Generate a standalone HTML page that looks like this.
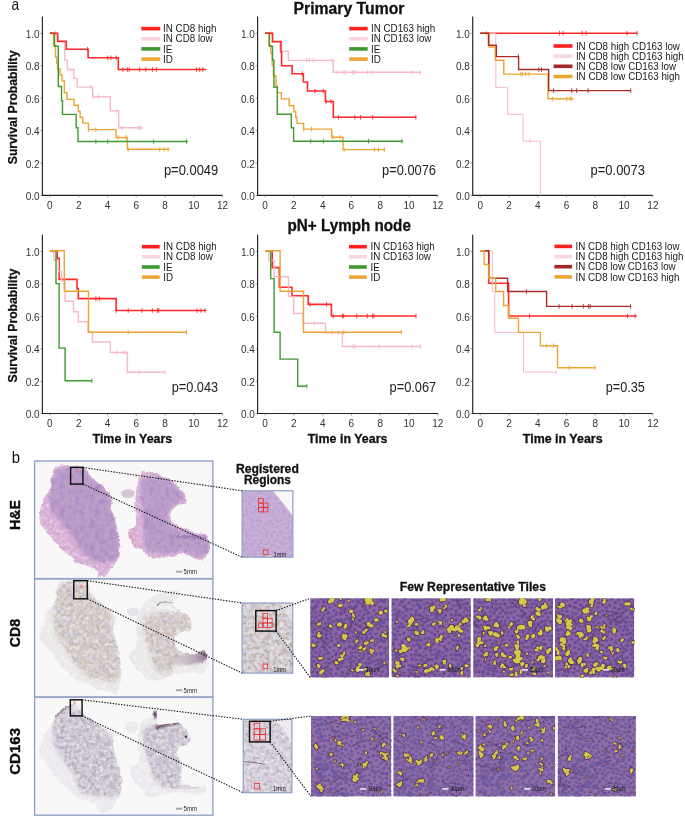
<!DOCTYPE html>
<html><head><meta charset="utf-8"><style>
html,body{margin:0;padding:0;background:#fff;width:685px;height:817px;overflow:hidden}
svg{display:block;will-change:transform}
</style></head><body>
<svg width="685" height="817" viewBox="0 0 685 817">
<defs><filter id="rag" x="-5%" y="-5%" width="110%" height="110%"><feTurbulence type="fractalNoise" baseFrequency="0.18" numOctaves="3" seed="4" result="t"/><feDisplacementMap in="SourceGraphic" in2="t" scale="3.5" xChannelSelector="R" yChannelSelector="G"/></filter><filter id="soft" x="-20%" y="-20%" width="140%" height="140%"><feGaussianBlur stdDeviation="2.2"/></filter><filter id="soft2" x="-20%" y="-20%" width="140%" height="140%"><feGaussianBlur stdDeviation="1.2"/></filter><filter id="nhe1" x="0" y="0" width="100%" height="100%" color-interpolation-filters="sRGB"><feTurbulence type="fractalNoise" baseFrequency="0.2" numOctaves="2" seed="3"/><feColorMatrix type="matrix" values="0 0 0 0 0.608 0 0 0 0 0.471 0 0 0 0 0.745 1.3 0 0 0 -0.52"/></filter><filter id="nhe2" x="0" y="0" width="100%" height="100%" color-interpolation-filters="sRGB"><feTurbulence type="fractalNoise" baseFrequency="0.3" numOctaves="2" seed="8"/><feColorMatrix type="matrix" values="0 0 0 0 0.980 0 0 0 0 0.941 0 0 0 0 0.980 1.6 0 0 0 -0.72"/></filter><filter id="nhe3" x="0" y="0" width="100%" height="100%" color-interpolation-filters="sRGB"><feTurbulence type="fractalNoise" baseFrequency="0.12" numOctaves="2" seed="12"/><feColorMatrix type="matrix" values="0 0 0 0 0.843 0 0 0 0 0.627 0 0 0 0 0.824 1.4 0 0 0 -0.55"/></filter><filter id="n81" x="0" y="0" width="100%" height="100%" color-interpolation-filters="sRGB"><feTurbulence type="fractalNoise" baseFrequency="0.28" numOctaves="2" seed="5"/><feColorMatrix type="matrix" values="0 0 0 0 0.714 0 0 0 0 0.596 0 0 0 0 0.502 1.2 0 0 0 -0.47"/></filter><filter id="n82" x="0" y="0" width="100%" height="100%" color-interpolation-filters="sRGB"><feTurbulence type="fractalNoise" baseFrequency="0.16" numOctaves="2" seed="9"/><feColorMatrix type="matrix" values="0 0 0 0 0.675 0 0 0 0 0.694 0 0 0 0 0.831 1.1 0 0 0 -0.45"/></filter><filter id="n83" x="0" y="0" width="100%" height="100%" color-interpolation-filters="sRGB"><feTurbulence type="fractalNoise" baseFrequency="0.3" numOctaves="2" seed="14"/><feColorMatrix type="matrix" values="0 0 0 0 0.980 0 0 0 0 0.980 0 0 0 0 0.980 1.6 0 0 0 -0.7"/></filter><filter id="n11" x="0" y="0" width="100%" height="100%" color-interpolation-filters="sRGB"><feTurbulence type="fractalNoise" baseFrequency="0.28" numOctaves="2" seed="6"/><feColorMatrix type="matrix" values="0 0 0 0 0.588 0 0 0 0 0.490 0 0 0 0 0.569 1.3 0 0 0 -0.5"/></filter><filter id="n12" x="0" y="0" width="100%" height="100%" color-interpolation-filters="sRGB"><feTurbulence type="fractalNoise" baseFrequency="0.16" numOctaves="2" seed="10"/><feColorMatrix type="matrix" values="0 0 0 0 0.686 0 0 0 0 0.686 0 0 0 0 0.824 1.2 0 0 0 -0.48"/></filter><clipPath id="co1"><path d="M56.0,466.6C57.6,465.6 60.9,465.7 63.4,465.6C65.8,465.5 67.3,465.7 70.7,465.9C74.1,466.1 80.7,465.1 83.9,466.6C87.1,468.1 87.6,472.1 89.8,474.7C92.0,477.3 94.6,479.8 97.1,482.0C99.5,484.2 102.3,485.7 104.5,487.9C106.7,490.1 109.2,492.8 110.4,495.2C111.6,497.6 111.8,500.4 111.8,502.6C111.8,504.8 110.2,506.6 110.4,508.5C110.7,510.4 112.3,511.6 113.3,514.3C114.3,517.0 115.3,520.9 116.2,524.6C117.1,528.3 117.8,532.5 118.4,536.4C119.0,540.3 119.8,544.7 119.9,548.1C120.0,551.5 119.8,554.5 119.2,556.9C118.6,559.3 117.7,560.8 116.2,562.8C114.7,564.8 112.1,566.5 110.4,568.7C108.7,570.9 108.0,574.8 106.0,576.0C104.0,577.2 100.3,577.0 98.6,576.0C96.9,575.0 97.7,571.8 95.7,570.1C93.8,568.4 89.8,566.9 86.9,565.7C84.0,564.5 81.0,564.5 78.1,562.8C75.1,561.1 72.2,557.8 69.2,555.4C66.2,553.0 63.1,550.8 60.4,548.1C57.7,545.4 55.5,542.2 53.1,539.3C50.7,536.4 47.9,533.4 45.7,530.5C43.5,527.6 40.8,525.4 39.9,521.7C39.0,518.0 39.9,512.7 40.6,508.5C41.3,504.3 42.7,499.9 44.3,496.7C45.9,493.5 49.0,492.3 50.2,489.4C51.4,486.5 51.0,482.1 51.6,479.1C52.2,476.2 53.1,473.8 53.8,471.7C54.5,469.6 54.4,467.6 56.0,466.6Z"/></clipPath><clipPath id="ci1"><path d="M52.0,486.0C52.8,482.0 52.7,476.9 54.0,474.0C55.3,471.1 57.2,469.6 60.0,468.5C62.8,467.4 66.7,467.4 70.7,467.5C74.7,467.6 80.8,467.6 84.0,469.0C87.2,470.4 87.8,473.7 90.0,476.0C92.2,478.3 94.6,480.8 97.0,483.0C99.4,485.2 102.3,486.8 104.5,489.0C106.7,491.2 108.9,493.3 110.0,496.0C111.1,498.7 110.5,501.8 111.0,505.0C111.5,508.2 112.1,511.5 113.0,515.0C113.9,518.5 115.6,522.2 116.5,526.0C117.4,529.8 118.0,534.0 118.5,538.0C119.0,542.0 119.8,546.7 119.5,550.0C119.2,553.3 118.5,556.2 117.0,558.0C115.5,559.8 114.0,560.3 110.4,561.0C106.9,561.7 100.4,563.3 95.7,562.0C91.0,560.7 86.2,556.9 82.5,553.0C78.8,549.1 76.8,543.0 73.6,538.4C70.4,533.8 66.8,529.4 63.4,525.1C60.0,520.8 55.5,516.9 53.1,512.4C50.7,507.9 49.4,502.6 49.2,498.2C49.0,493.8 51.2,490.0 52.0,486.0Z"/></clipPath><clipPath id="co2"><path d="M143.4,471.0C145.7,470.8 150.9,472.0 155.1,473.2C159.2,474.4 164.6,476.4 168.3,478.4C172.0,480.4 174.4,482.4 177.1,485.0C179.8,487.6 183.0,490.9 184.5,493.8C186.0,496.7 187.2,500.7 186.0,502.6C184.8,504.6 179.5,504.0 177.1,505.5C174.7,507.0 172.4,509.2 171.3,511.4C170.2,513.6 170.0,516.6 170.5,518.8C171.0,521.0 172.1,523.0 174.2,524.6C176.3,526.2 179.3,526.8 183.0,528.3C186.7,529.8 192.3,532.3 196.2,533.4C200.1,534.5 204.2,532.9 206.5,534.9C208.8,536.9 209.9,542.0 210.2,545.2C210.4,548.4 209.3,551.5 208.0,554.0C206.7,556.5 204.5,559.4 202.1,559.9C199.7,560.4 196.2,558.0 193.3,557.0C190.4,556.0 187.4,554.2 184.5,554.0C181.6,553.8 178.9,555.0 175.7,555.5C172.5,556.0 168.6,556.5 165.4,557.0C162.2,557.5 159.5,558.6 156.6,558.4C153.7,558.1 150.2,557.0 147.8,555.5C145.4,554.0 144.4,551.3 141.9,549.6C139.4,547.9 135.3,547.4 133.1,545.2C130.9,543.0 129.4,538.9 128.7,536.4C128.0,533.9 127.6,532.2 128.7,530.5C129.8,528.8 134.1,528.6 135.3,526.1C136.5,523.6 136.1,519.5 136.0,515.8C135.9,512.1 134.6,507.8 134.6,504.1C134.6,500.4 135.5,497.5 136.0,493.8C136.5,490.1 136.6,485.2 137.5,482.0C138.4,478.8 140.2,476.5 141.2,474.7C142.2,472.9 141.1,471.2 143.4,471.0Z"/></clipPath><clipPath id="ci2"><path d="M145.0,478.0C147.8,475.8 153.8,476.3 158.0,477.0C162.2,477.7 166.3,479.8 170.0,482.0C173.7,484.2 177.8,487.0 180.0,490.0C182.2,493.0 184.0,497.5 183.0,500.0C182.0,502.5 176.5,503.0 174.0,505.0C171.5,507.0 169.0,509.5 168.0,512.0C167.0,514.5 167.0,517.5 168.0,520.0C169.0,522.5 171.2,525.2 174.0,527.0C176.8,528.8 181.0,529.7 185.0,531.0C189.0,532.3 194.2,533.5 198.0,535.0C201.8,536.5 206.5,537.2 208.0,540.0C209.5,542.8 208.3,549.2 207.0,552.0C205.7,554.8 203.7,557.0 200.0,557.0C196.3,557.0 190.0,552.7 185.0,552.0C180.0,551.3 175.0,552.7 170.0,553.0C165.0,553.3 159.0,554.8 155.0,554.0C151.0,553.2 148.0,552.0 146.0,548.0C144.0,544.0 143.7,536.3 143.0,530.0C142.3,523.7 142.3,516.7 142.0,510.0C141.7,503.3 140.5,495.3 141.0,490.0C141.5,484.7 142.2,480.2 145.0,478.0Z"/></clipPath><clipPath id="co3"><path d="M60.4,581.7C63.1,580.6 69.2,580.2 73.6,580.2C78.0,580.2 83.7,579.1 86.9,581.7C90.1,584.3 90.3,592.1 92.7,595.6C95.1,599.1 98.5,600.5 101.5,603.0C104.5,605.5 108.0,607.8 110.4,610.3C112.9,612.8 115.7,615.0 116.2,617.7C116.7,620.4 113.5,623.3 113.3,626.5C113.1,629.7 114.1,633.1 114.8,636.8C115.5,640.5 116.7,644.1 117.7,648.5C118.7,652.9 120.1,658.3 120.6,663.2C121.1,668.1 121.0,673.5 120.6,677.9C120.2,682.3 119.1,686.9 118.4,689.6C117.7,692.3 118.0,693.8 116.2,694.0C114.4,694.2 110.3,691.8 107.4,691.1C104.5,690.4 101.5,690.6 98.6,689.6C95.7,688.6 93.2,686.7 89.8,685.2C86.4,683.7 81.8,683.0 78.1,680.8C74.4,678.6 71.0,674.9 67.8,672.0C64.6,669.1 61.9,666.6 59.0,663.2C56.1,659.8 52.9,654.8 50.2,651.4C47.5,648.0 44.5,645.5 42.8,642.6C41.1,639.7 39.6,637.2 39.9,633.8C40.1,630.4 43.1,625.8 44.3,622.1C45.5,618.4 45.5,615.0 47.2,611.8C48.9,608.6 53.1,605.9 54.6,603.0C56.1,600.1 55.5,596.9 56.0,594.2C56.5,591.5 56.8,588.9 57.5,586.8C58.2,584.7 57.7,582.8 60.4,581.7Z"/></clipPath><clipPath id="ci3"><path d="M56.0,594.0C57.2,590.7 59.0,586.0 62.0,584.0C65.0,582.0 70.0,582.1 74.0,582.0C78.0,581.9 83.0,581.2 86.0,583.5C89.0,585.8 89.5,592.6 92.0,596.0C94.5,599.4 97.9,601.2 101.0,604.0C104.1,606.8 108.4,608.5 110.4,612.7C112.5,616.9 112.1,623.4 113.3,629.4C114.5,635.4 116.5,642.4 117.7,648.5C118.9,654.6 120.8,660.7 120.6,666.1C120.3,671.5 119.6,678.6 116.2,680.8C112.8,683.0 105.2,680.4 100.1,679.4C95.0,678.4 89.6,677.7 85.4,675.0C81.2,672.3 78.5,667.6 75.1,663.2C71.7,658.8 68.0,653.4 64.8,648.5C61.6,643.6 57.9,638.9 56.0,633.8C54.1,628.7 53.9,622.7 53.6,617.7C53.4,612.7 54.1,608.0 54.5,604.0C54.9,600.0 54.8,597.3 56.0,594.0Z"/></clipPath><clipPath id="co4"><path d="M144.8,601.5C147.5,598.5 151.7,597.2 155.1,595.6C158.5,594.0 161.5,593.0 165.4,592.0C169.3,591.0 176.7,588.9 178.6,589.8C180.5,590.6 178.1,595.1 177.1,597.1C176.1,599.1 172.4,599.3 172.7,601.5C172.9,603.7 176.1,608.1 178.6,610.3C181.1,612.5 185.3,612.7 187.4,614.7C189.5,616.7 190.6,619.4 191.1,622.1C191.6,624.8 192.2,629.2 190.4,630.9C188.6,632.6 182.6,631.1 180.1,632.3C177.6,633.5 176.2,635.5 175.7,638.2C175.2,640.9 174.4,645.8 177.1,648.5C179.8,651.2 187.2,653.9 191.8,654.4C196.5,654.9 202.3,650.9 205.0,651.4C207.7,651.9 207.5,654.6 208.0,657.3C208.5,660.0 209.0,664.9 208.0,667.6C207.0,670.3 204.5,672.8 202.1,673.5C199.7,674.2 196.7,672.0 193.3,672.0C189.9,672.0 184.9,673.0 181.5,673.5C178.1,674.0 176.1,674.0 172.7,675.0C169.3,676.0 165.2,678.7 161.0,679.4C156.8,680.1 151.2,680.6 147.8,679.4C144.4,678.2 143.1,674.7 140.4,672.0C137.7,669.3 133.3,666.4 131.6,663.2C129.9,660.0 129.5,655.6 130.2,652.9C130.9,650.2 134.8,649.7 136.0,647.0C137.2,644.3 137.5,640.5 137.5,636.8C137.5,633.1 135.8,628.9 136.0,625.0C136.2,621.1 137.5,617.2 139.0,613.3C140.5,609.4 142.1,604.5 144.8,601.5Z"/></clipPath><clipPath id="ci4"><path d="M144.8,616.2C147.2,613.5 152.8,614.0 158.0,613.3C163.2,612.6 170.5,611.3 175.7,611.8C180.8,612.3 186.4,613.0 188.9,616.2C191.4,619.4 192.1,628.0 190.4,630.9C188.7,633.8 181.1,631.6 178.6,633.8C176.1,636.0 175.4,640.7 175.7,644.1C175.9,647.5 180.1,651.7 180.1,654.4C180.1,657.1 176.9,657.4 175.7,660.3C174.5,663.2 175.6,670.0 172.7,672.0C169.8,674.0 161.4,674.0 158.0,672.0C154.6,670.0 153.9,664.9 152.2,660.3C150.5,655.6 149.3,649.2 147.8,644.1C146.3,639.0 143.9,634.0 143.4,629.4C142.9,624.8 142.4,618.9 144.8,616.2Z"/></clipPath><clipPath id="co5"><path d="M60.4,710.2C62.6,708.2 64.8,707.0 67.8,705.8C70.8,704.6 75.6,701.9 78.1,702.9C80.5,703.9 80.1,708.8 82.5,711.7C84.9,714.6 89.3,717.8 92.7,720.5C96.1,723.2 99.6,725.3 103.0,727.8C106.4,730.2 111.6,732.2 113.3,735.2C115.0,738.2 112.8,742.1 113.3,745.5C113.8,748.9 115.2,752.1 116.2,755.8C117.2,759.5 118.2,763.1 119.2,767.5C120.2,771.9 121.9,777.8 122.1,782.2C122.3,786.6 121.6,790.6 120.6,794.0C119.6,797.4 117.9,800.1 116.2,802.8C114.5,805.5 112.6,808.4 110.4,810.1C108.2,811.8 105.2,813.2 103.0,813.0C100.8,812.8 98.3,810.3 97.1,808.6C95.9,806.9 97.7,804.3 95.7,802.8C93.8,801.3 88.6,800.8 85.4,799.8C82.2,798.8 79.8,798.8 76.6,796.9C73.4,795.0 69.5,791.0 66.3,788.1C63.1,785.2 60.4,782.7 57.5,779.3C54.6,775.9 51.4,771.4 48.7,767.5C46.0,763.6 42.8,759.0 41.3,755.8C39.8,752.6 39.4,751.8 39.9,748.4C40.4,745.0 42.6,738.9 44.3,735.2C46.0,731.5 48.5,729.3 50.2,726.4C51.9,723.5 52.9,720.3 54.6,717.6C56.3,714.9 58.2,712.2 60.4,710.2Z"/></clipPath><clipPath id="ci5"><path d="M56.0,716.1C58.9,712.4 66.3,709.3 70.7,708.8C75.1,708.3 77.6,710.3 82.5,713.2C87.4,716.1 95.2,722.2 100.1,726.4C105.0,730.5 109.6,733.7 111.8,738.1C114.0,742.5 111.8,746.9 113.3,752.8C114.8,758.7 119.4,766.8 120.6,773.4C121.8,780.0 122.3,788.6 120.6,792.5C118.9,796.4 115.1,796.4 110.4,796.9C105.8,797.4 97.6,796.1 92.7,795.4C87.8,794.7 83.9,795.4 81.0,792.5C78.1,789.6 78.0,783.2 75.1,777.8C72.2,772.4 66.8,765.6 63.4,760.2C60.0,754.8 56.3,750.4 54.6,745.5C52.9,740.6 52.9,735.7 53.1,730.8C53.3,725.9 53.1,719.8 56.0,716.1Z"/></clipPath><clipPath id="co6"><path d="M141.9,720.5C143.8,718.0 149.0,719.1 150.7,717.6C152.4,716.1 151.2,712.8 152.2,711.7C153.2,710.6 155.6,709.0 156.6,711.0C157.6,713.0 156.5,721.2 158.0,723.4C159.5,725.6 162.0,724.3 165.4,724.2C168.8,724.1 175.7,722.3 178.6,722.7C181.5,723.1 181.0,724.1 183.0,726.4C185.0,728.7 189.7,733.8 190.4,736.7C191.1,739.6 189.4,742.0 187.4,744.0C185.4,746.0 180.3,746.4 178.6,748.4C176.9,750.4 176.6,753.1 177.1,755.8C177.6,758.5 180.8,760.7 181.5,764.6C182.2,768.5 180.8,775.9 181.5,779.3C182.2,782.7 183.6,783.9 186.0,785.1C188.4,786.3 193.0,786.4 196.2,786.6C199.4,786.9 203.5,785.6 205.0,786.6C206.5,787.6 206.5,791.0 205.0,792.5C203.5,794.0 199.6,795.4 196.2,795.4C192.8,795.4 188.4,793.0 184.5,792.5C180.6,792.0 177.1,792.0 172.7,792.5C168.3,793.0 162.2,794.7 158.0,795.4C153.8,796.1 150.2,797.6 147.8,796.9C145.4,796.2 145.9,793.9 143.4,791.0C140.9,788.1 135.3,783.0 133.1,779.3C130.9,775.6 129.7,771.5 130.2,769.0C130.7,766.5 134.5,766.8 136.0,764.6C137.5,762.4 138.8,759.2 139.0,755.8C139.2,752.4 137.5,747.9 137.5,744.0C137.5,740.1 138.3,736.2 139.0,732.3C139.7,728.4 140.0,723.0 141.9,720.5Z"/></clipPath><clipPath id="ci6"><path d="M143.4,729.3C145.8,727.1 152.1,725.8 158.0,724.9C163.9,724.0 173.4,722.2 178.6,724.2C183.8,726.2 187.7,733.4 188.9,736.7C190.1,740.0 187.7,742.0 186.0,744.0C184.3,746.0 180.1,746.2 178.6,748.4C177.1,750.6 176.6,754.5 177.1,757.2C177.6,759.9 180.8,760.9 181.5,764.6C182.2,768.3 182.5,775.4 181.5,779.3C180.5,783.2 178.6,786.9 175.7,788.1C172.8,789.3 167.6,788.1 163.9,786.6C160.2,785.1 155.8,783.0 153.6,779.3C151.4,775.6 152.2,769.5 150.7,764.6C149.2,759.7 146.0,754.3 144.8,749.9C143.6,745.5 143.6,741.5 143.4,738.1C143.2,734.7 141.0,731.5 143.4,729.3Z"/></clipPath><filter id="rhe1" x="0" y="0" width="100%" height="100%" color-interpolation-filters="sRGB"><feTurbulence type="fractalNoise" baseFrequency="0.35" numOctaves="3" seed="21"/><feColorMatrix type="matrix" values="0 0 0 0 0.627 0 0 0 0 0.510 0 0 0 0 0.765 1.2 0 0 0 -0.5"/></filter><filter id="rhe2" x="0" y="0" width="100%" height="100%" color-interpolation-filters="sRGB"><feTurbulence type="fractalNoise" baseFrequency="0.12" numOctaves="2" seed="22"/><feColorMatrix type="matrix" values="0 0 0 0 0.843 0 0 0 0 0.686 0 0 0 0 0.843 1.6 0 0 0 -0.7"/></filter><filter id="r81" x="0" y="0" width="100%" height="100%" color-interpolation-filters="sRGB"><feTurbulence type="fractalNoise" baseFrequency="0.3" numOctaves="3" seed="23"/><feColorMatrix type="matrix" values="0 0 0 0 0.686 0 0 0 0 0.549 0 0 0 0 0.431 1.6 0 0 0 -0.62"/></filter><filter id="r82" x="0" y="0" width="100%" height="100%" color-interpolation-filters="sRGB"><feTurbulence type="fractalNoise" baseFrequency="0.2" numOctaves="2" seed="24"/><feColorMatrix type="matrix" values="0 0 0 0 0.706 0 0 0 0 0.725 0 0 0 0 0.843 1.4 0 0 0 -0.5"/></filter><filter id="r11" x="0" y="0" width="100%" height="100%" color-interpolation-filters="sRGB"><feTurbulence type="fractalNoise" baseFrequency="0.3" numOctaves="3" seed="25"/><feColorMatrix type="matrix" values="0 0 0 0 0.588 0 0 0 0 0.490 0 0 0 0 0.588 1.2 0 0 0 -0.5"/></filter><filter id="r12" x="0" y="0" width="100%" height="100%" color-interpolation-filters="sRGB"><feTurbulence type="fractalNoise" baseFrequency="0.2" numOctaves="2" seed="26"/><feColorMatrix type="matrix" values="0 0 0 0 0.961 0 0 0 0 0.961 0 0 0 0 0.973 1.5 0 0 0 -0.6"/></filter><clipPath id="rc7"><rect x="242.1" y="490.8" width="50.8" height="66.4"/></clipPath><clipPath id="rc8"><rect x="242.1" y="603.0" width="50.6" height="70.1"/></clipPath><clipPath id="rc9"><rect x="243.2" y="719.3" width="48.7" height="73.4"/></clipPath><pattern id="np44092" width="40" height="40" patternUnits="userSpaceOnUse" x="18.2" y="6.3"><g fill="#5e4890" opacity="0.88"><ellipse cx="18.1" cy="22.4" rx="1.6" ry="1.4"/><ellipse cx="37.0" cy="18.6" rx="1.7" ry="1.4"/><ellipse cx="7.4" cy="20.5" rx="1.6" ry="1.6"/><ellipse cx="25.2" cy="31.7" rx="1.6" ry="1.2"/><ellipse cx="3.8" cy="12.1" rx="1.8" ry="1.4"/><ellipse cx="3.6" cy="32.4" rx="1.9" ry="1.7"/><ellipse cx="27.7" cy="1.7" rx="2.2" ry="2.0"/><ellipse cx="27.7" cy="41.7" rx="2.2" ry="1.9"/><ellipse cx="39.3" cy="38.6" rx="1.7" ry="1.4"/><ellipse cx="-0.7" cy="-1.4" rx="1.7" ry="1.5"/><ellipse cx="-0.7" cy="38.6" rx="1.7" ry="1.5"/><ellipse cx="39.3" cy="-1.4" rx="1.7" ry="1.5"/><ellipse cx="26.2" cy="24.6" rx="1.8" ry="1.5"/><ellipse cx="6.3" cy="0.6" rx="1.9" ry="1.6"/><ellipse cx="6.3" cy="40.6" rx="1.9" ry="1.7"/><ellipse cx="21.1" cy="2.4" rx="2.1" ry="2.0"/><ellipse cx="21.1" cy="42.4" rx="2.1" ry="1.9"/><ellipse cx="7.6" cy="9.7" rx="1.9" ry="1.9"/><ellipse cx="1.2" cy="18.6" rx="2.1" ry="1.7"/><ellipse cx="41.2" cy="18.6" rx="2.1" ry="1.9"/><ellipse cx="17.6" cy="33.7" rx="2.1" ry="2.1"/><ellipse cx="20.8" cy="25.6" rx="2.0" ry="2.0"/><ellipse cx="18.3" cy="11.1" rx="1.5" ry="1.5"/><ellipse cx="33.6" cy="28.3" rx="2.0" ry="1.6"/><ellipse cx="12.6" cy="9.2" rx="2.0" ry="2.0"/><ellipse cx="11.6" cy="2.8" rx="1.9" ry="1.9"/><ellipse cx="11.6" cy="42.8" rx="1.9" ry="1.7"/><ellipse cx="30.7" cy="16.0" rx="2.0" ry="1.8"/><ellipse cx="38.3" cy="33.9" rx="2.1" ry="2.1"/><ellipse cx="-1.7" cy="33.9" rx="2.1" ry="1.9"/><ellipse cx="0.0" cy="8.4" rx="2.1" ry="1.8"/><ellipse cx="40.0" cy="8.4" rx="2.1" ry="1.9"/><ellipse cx="2.9" cy="25.2" rx="2.0" ry="1.6"/><ellipse cx="42.9" cy="25.2" rx="2.0" ry="1.8"/><ellipse cx="31.1" cy="10.8" rx="1.6" ry="1.3"/><ellipse cx="31.9" cy="7.1" rx="1.8" ry="1.7"/><ellipse cx="22.4" cy="17.9" rx="2.0" ry="1.9"/><ellipse cx="7.6" cy="29.3" rx="1.7" ry="1.4"/><ellipse cx="4.7" cy="16.8" rx="2.1" ry="1.6"/><ellipse cx="12.2" cy="35.4" rx="2.1" ry="2.0"/><ellipse cx="8.4" cy="15.8" rx="1.7" ry="1.7"/><ellipse cx="9.7" cy="24.1" rx="2.2" ry="1.9"/><ellipse cx="14.9" cy="18.1" rx="2.0" ry="1.6"/><ellipse cx="29.6" cy="37.6" rx="2.2" ry="1.6"/><ellipse cx="29.6" cy="-2.4" rx="2.2" ry="1.9"/><ellipse cx="35.3" cy="24.1" rx="1.9" ry="1.8"/><ellipse cx="16.9" cy="4.2" rx="2.0" ry="1.6"/><ellipse cx="23.9" cy="11.7" rx="1.9" ry="1.5"/><ellipse cx="39.2" cy="26.3" rx="1.7" ry="1.6"/><ellipse cx="-0.8" cy="26.3" rx="1.7" ry="1.5"/><ellipse cx="19.3" cy="29.2" rx="2.1" ry="1.7"/><ellipse cx="29.5" cy="28.1" rx="2.1" ry="1.8"/><ellipse cx="14.1" cy="27.4" rx="1.8" ry="1.5"/><ellipse cx="27.9" cy="19.9" rx="1.9" ry="1.7"/><ellipse cx="24.6" cy="36.8" rx="1.6" ry="1.6"/><ellipse cx="33.5" cy="33.9" rx="2.1" ry="1.9"/><ellipse cx="34.9" cy="1.7" rx="1.9" ry="1.8"/><ellipse cx="34.9" cy="41.7" rx="1.9" ry="1.7"/><ellipse cx="12.4" cy="31.7" rx="1.9" ry="1.8"/><ellipse cx="27.4" cy="8.0" rx="1.8" ry="1.4"/><ellipse cx="28.9" cy="32.7" rx="2.2" ry="2.1"/><ellipse cx="34.2" cy="13.9" rx="2.0" ry="1.9"/><ellipse cx="5.6" cy="5.9" rx="1.6" ry="1.5"/><ellipse cx="12.5" cy="15.2" rx="2.1" ry="1.7"/><ellipse cx="8.3" cy="34.0" rx="1.7" ry="1.3"/><ellipse cx="22.9" cy="8.0" rx="1.8" ry="1.8"/><ellipse cx="10.8" cy="18.9" rx="2.1" ry="1.8"/><ellipse cx="37.0" cy="5.2" rx="2.2" ry="1.9"/><ellipse cx="-3.0" cy="5.2" rx="2.2" ry="1.9"/><ellipse cx="27.5" cy="12.9" rx="1.6" ry="1.4"/><ellipse cx="0.4" cy="14.2" rx="2.1" ry="1.9"/><ellipse cx="40.4" cy="14.2" rx="2.1" ry="1.9"/><ellipse cx="9.3" cy="37.8" rx="1.6" ry="1.3"/><ellipse cx="9.3" cy="-2.2" rx="1.6" ry="1.5"/><ellipse cx="2.9" cy="36.2" rx="2.0" ry="1.7"/><ellipse cx="42.9" cy="36.2" rx="2.0" ry="1.8"/><ellipse cx="20.9" cy="37.5" rx="1.7" ry="1.3"/><ellipse cx="20.9" cy="-2.5" rx="1.7" ry="1.5"/><ellipse cx="1.6" cy="2.4" rx="1.6" ry="1.5"/><ellipse cx="1.6" cy="42.4" rx="1.6" ry="1.4"/><ellipse cx="41.6" cy="2.4" rx="1.6" ry="1.4"/><ellipse cx="41.6" cy="42.4" rx="1.6" ry="1.4"/><ellipse cx="24.9" cy="4.1" rx="2.1" ry="2.0"/><ellipse cx="13.0" cy="21.9" rx="2.0" ry="1.5"/><ellipse cx="17.1" cy="14.8" rx="1.6" ry="1.4"/><ellipse cx="31.9" cy="21.6" rx="1.9" ry="1.9"/><ellipse cx="22.8" cy="21.7" rx="2.0" ry="1.7"/><ellipse cx="15.7" cy="36.9" rx="1.9" ry="1.9"/><ellipse cx="24.1" cy="27.8" rx="1.5" ry="1.4"/><ellipse cx="35.8" cy="10.1" rx="1.9" ry="1.6"/><ellipse cx="37.4" cy="30.1" rx="2.0" ry="1.7"/><ellipse cx="-2.6" cy="30.1" rx="2.0" ry="1.8"/><ellipse cx="21.5" cy="33.6" rx="1.6" ry="1.5"/><ellipse cx="21.1" cy="14.2" rx="2.2" ry="1.9"/><ellipse cx="38.9" cy="22.5" rx="2.1" ry="2.0"/><ellipse cx="-1.1" cy="22.5" rx="2.1" ry="1.9"/><ellipse cx="35.4" cy="37.4" rx="1.9" ry="1.8"/><ellipse cx="35.4" cy="-2.6" rx="1.9" ry="1.7"/><ellipse cx="25.8" cy="16.4" rx="1.7" ry="1.5"/><ellipse cx="1.9" cy="29.0" rx="1.8" ry="1.6"/><ellipse cx="41.9" cy="29.0" rx="1.8" ry="1.7"/><ellipse cx="16.3" cy="8.0" rx="1.6" ry="1.2"/></g></pattern><pattern id="np82625" width="40" height="40" patternUnits="userSpaceOnUse" x="6.3" y="4.1"><g fill="#5e4890" opacity="0.88"><ellipse cx="38.8" cy="37.1" rx="1.7" ry="1.3"/><ellipse cx="-1.2" cy="-2.9" rx="1.7" ry="1.6"/><ellipse cx="-1.2" cy="37.1" rx="1.7" ry="1.6"/><ellipse cx="38.8" cy="-2.9" rx="1.7" ry="1.6"/><ellipse cx="9.1" cy="7.7" rx="2.1" ry="2.1"/><ellipse cx="20.2" cy="2.2" rx="2.2" ry="1.7"/><ellipse cx="20.2" cy="42.2" rx="2.2" ry="2.0"/><ellipse cx="35.4" cy="1.7" rx="1.9" ry="1.8"/><ellipse cx="35.4" cy="41.7" rx="1.9" ry="1.7"/><ellipse cx="36.7" cy="26.3" rx="1.6" ry="1.3"/><ellipse cx="38.0" cy="21.0" rx="1.9" ry="1.7"/><ellipse cx="-2.0" cy="21.0" rx="1.9" ry="1.7"/><ellipse cx="8.3" cy="18.6" rx="1.8" ry="1.8"/><ellipse cx="33.9" cy="12.7" rx="1.7" ry="1.4"/><ellipse cx="17.2" cy="32.8" rx="1.9" ry="1.9"/><ellipse cx="32.7" cy="4.5" rx="1.7" ry="1.6"/><ellipse cx="30.0" cy="28.6" rx="1.8" ry="1.4"/><ellipse cx="6.2" cy="30.8" rx="1.7" ry="1.5"/><ellipse cx="5.1" cy="10.3" rx="1.5" ry="1.5"/><ellipse cx="1.7" cy="2.6" rx="1.6" ry="1.2"/><ellipse cx="1.7" cy="42.6" rx="1.6" ry="1.4"/><ellipse cx="41.7" cy="2.6" rx="1.6" ry="1.4"/><ellipse cx="41.7" cy="42.6" rx="1.6" ry="1.4"/><ellipse cx="23.3" cy="38.1" rx="2.1" ry="1.8"/><ellipse cx="23.3" cy="-1.9" rx="2.1" ry="1.8"/><ellipse cx="27.0" cy="19.8" rx="2.1" ry="1.7"/><ellipse cx="3.4" cy="21.1" rx="1.7" ry="1.5"/><ellipse cx="31.2" cy="35.7" rx="2.0" ry="1.8"/><ellipse cx="29.6" cy="23.6" rx="1.6" ry="1.3"/><ellipse cx="28.4" cy="13.1" rx="1.5" ry="1.2"/><ellipse cx="18.5" cy="8.7" rx="1.8" ry="1.7"/><ellipse cx="7.8" cy="13.4" rx="1.7" ry="1.7"/><ellipse cx="29.6" cy="0.7" rx="1.8" ry="1.6"/><ellipse cx="29.6" cy="40.7" rx="1.8" ry="1.7"/><ellipse cx="11.2" cy="0.7" rx="1.7" ry="1.6"/><ellipse cx="11.2" cy="40.7" rx="1.7" ry="1.5"/><ellipse cx="25.9" cy="9.7" rx="1.5" ry="1.3"/><ellipse cx="13.5" cy="12.5" rx="1.7" ry="1.5"/><ellipse cx="18.5" cy="29.1" rx="1.7" ry="1.6"/><ellipse cx="7.2" cy="36.4" rx="2.0" ry="1.6"/><ellipse cx="15.9" cy="3.4" rx="1.7" ry="1.3"/><ellipse cx="18.5" cy="17.7" rx="1.7" ry="1.6"/><ellipse cx="2.0" cy="32.8" rx="1.9" ry="1.4"/><ellipse cx="42.0" cy="32.8" rx="1.9" ry="1.7"/><ellipse cx="23.4" cy="30.7" rx="1.9" ry="1.7"/><ellipse cx="27.7" cy="6.2" rx="2.0" ry="1.8"/><ellipse cx="5.3" cy="24.4" rx="2.0" ry="1.9"/><ellipse cx="37.3" cy="7.3" rx="1.6" ry="1.4"/><ellipse cx="-2.7" cy="7.3" rx="1.6" ry="1.5"/><ellipse cx="13.6" cy="31.3" rx="1.5" ry="1.4"/><ellipse cx="21.0" cy="34.8" rx="1.5" ry="1.4"/><ellipse cx="22.6" cy="5.1" rx="2.2" ry="2.1"/><ellipse cx="5.1" cy="15.9" rx="1.8" ry="1.7"/><ellipse cx="26.9" cy="32.2" rx="1.6" ry="1.3"/><ellipse cx="19.2" cy="25.3" rx="2.1" ry="2.0"/><ellipse cx="24.9" cy="14.7" rx="1.7" ry="1.6"/><ellipse cx="6.7" cy="4.4" rx="2.1" ry="1.8"/><ellipse cx="1.0" cy="9.1" rx="2.1" ry="1.9"/><ellipse cx="41.0" cy="9.1" rx="2.1" ry="1.9"/><ellipse cx="15.4" cy="23.9" rx="2.0" ry="1.8"/><ellipse cx="38.9" cy="15.7" rx="2.1" ry="1.8"/><ellipse cx="-1.1" cy="15.7" rx="2.1" ry="1.9"/><ellipse cx="20.6" cy="21.7" rx="1.6" ry="1.6"/><ellipse cx="11.6" cy="23.0" rx="1.8" ry="1.4"/><ellipse cx="26.0" cy="1.7" rx="1.5" ry="1.2"/><ellipse cx="26.0" cy="41.7" rx="1.5" ry="1.4"/><ellipse cx="15.1" cy="37.6" rx="2.1" ry="1.9"/><ellipse cx="15.1" cy="-2.4" rx="2.1" ry="1.9"/><ellipse cx="33.3" cy="23.1" rx="1.7" ry="1.6"/><ellipse cx="14.3" cy="16.8" rx="2.0" ry="1.7"/><ellipse cx="34.5" cy="17.6" rx="1.7" ry="1.4"/><ellipse cx="13.6" cy="6.7" rx="1.5" ry="1.5"/><ellipse cx="21.7" cy="12.7" rx="2.1" ry="1.9"/><ellipse cx="24.8" cy="22.8" rx="1.8" ry="1.8"/><ellipse cx="34.2" cy="30.5" rx="1.8" ry="1.6"/><ellipse cx="11.0" cy="27.8" rx="1.8" ry="1.5"/><ellipse cx="23.2" cy="18.0" rx="1.9" ry="1.6"/><ellipse cx="27.4" cy="36.3" rx="1.5" ry="1.5"/><ellipse cx="11.1" cy="34.4" rx="1.8" ry="1.7"/><ellipse cx="26.4" cy="26.4" rx="1.8" ry="1.7"/><ellipse cx="4.1" cy="39.3" rx="1.9" ry="1.7"/><ellipse cx="4.1" cy="-0.7" rx="1.9" ry="1.7"/><ellipse cx="34.7" cy="37.5" rx="1.8" ry="1.3"/><ellipse cx="34.7" cy="-2.5" rx="1.8" ry="1.6"/><ellipse cx="1.4" cy="24.8" rx="1.9" ry="1.6"/><ellipse cx="41.4" cy="24.8" rx="1.9" ry="1.7"/><ellipse cx="40.0" cy="28.9" rx="1.7" ry="1.7"/><ellipse cx="-0.0" cy="28.9" rx="1.7" ry="1.5"/><ellipse cx="32.9" cy="8.2" rx="2.1" ry="1.9"/><ellipse cx="30.5" cy="17.7" rx="2.1" ry="2.0"/><ellipse cx="37.2" cy="32.8" rx="2.0" ry="1.7"/><ellipse cx="-2.8" cy="32.8" rx="2.0" ry="1.8"/><ellipse cx="2.0" cy="13.0" rx="1.9" ry="1.7"/><ellipse cx="42.0" cy="13.0" rx="1.9" ry="1.7"/><ellipse cx="19.4" cy="38.4" rx="2.1" ry="2.0"/><ellipse cx="19.4" cy="-1.6" rx="2.1" ry="1.9"/><ellipse cx="38.3" cy="12.0" rx="2.0" ry="1.9"/><ellipse cx="-1.7" cy="12.0" rx="2.0" ry="1.8"/><ellipse cx="17.8" cy="12.9" rx="1.9" ry="1.8"/><ellipse cx="15.0" cy="27.6" rx="1.7" ry="1.6"/></g></pattern><pattern id="np68675" width="40" height="40" patternUnits="userSpaceOnUse" x="16.1" y="8.3"><g fill="#5e4890" opacity="0.88"><ellipse cx="4.5" cy="6.3" rx="2.0" ry="1.7"/><ellipse cx="14.3" cy="33.2" rx="1.9" ry="1.5"/><ellipse cx="18.7" cy="11.0" rx="1.8" ry="1.6"/><ellipse cx="18.6" cy="20.4" rx="1.6" ry="1.3"/><ellipse cx="29.6" cy="25.8" rx="1.5" ry="1.2"/><ellipse cx="35.5" cy="15.6" rx="2.1" ry="1.7"/><ellipse cx="6.3" cy="34.4" rx="1.8" ry="1.7"/><ellipse cx="29.0" cy="35.7" rx="2.0" ry="1.8"/><ellipse cx="2.5" cy="20.8" rx="1.5" ry="1.2"/><ellipse cx="42.5" cy="20.8" rx="1.5" ry="1.4"/><ellipse cx="29.1" cy="14.3" rx="2.0" ry="1.8"/><ellipse cx="0.9" cy="5.3" rx="1.5" ry="1.4"/><ellipse cx="40.9" cy="5.3" rx="1.5" ry="1.4"/><ellipse cx="9.7" cy="30.7" rx="2.1" ry="1.9"/><ellipse cx="4.1" cy="28.6" rx="2.1" ry="1.7"/><ellipse cx="11.9" cy="15.0" rx="1.6" ry="1.5"/><ellipse cx="29.5" cy="1.0" rx="1.8" ry="1.5"/><ellipse cx="29.5" cy="41.0" rx="1.8" ry="1.6"/><ellipse cx="27.3" cy="19.0" rx="2.0" ry="1.9"/><ellipse cx="16.6" cy="6.5" rx="1.9" ry="1.9"/><ellipse cx="38.1" cy="1.1" rx="1.8" ry="1.6"/><ellipse cx="-1.9" cy="1.1" rx="1.8" ry="1.6"/><ellipse cx="-1.9" cy="41.1" rx="1.8" ry="1.6"/><ellipse cx="38.1" cy="41.1" rx="1.8" ry="1.6"/><ellipse cx="33.6" cy="25.6" rx="2.1" ry="1.9"/><ellipse cx="28.7" cy="8.8" rx="1.6" ry="1.4"/><ellipse cx="21.2" cy="6.3" rx="2.0" ry="1.6"/><ellipse cx="10.9" cy="6.6" rx="1.7" ry="1.5"/><ellipse cx="0.9" cy="33.5" rx="1.7" ry="1.3"/><ellipse cx="40.9" cy="33.5" rx="1.7" ry="1.5"/><ellipse cx="32.6" cy="4.3" rx="2.1" ry="2.0"/><ellipse cx="7.9" cy="25.2" rx="1.9" ry="1.5"/><ellipse cx="13.2" cy="10.3" rx="1.5" ry="1.3"/><ellipse cx="10.7" cy="1.2" rx="1.9" ry="1.5"/><ellipse cx="10.7" cy="41.2" rx="1.9" ry="1.7"/><ellipse cx="24.6" cy="11.1" rx="1.5" ry="1.4"/><ellipse cx="18.1" cy="1.4" rx="1.6" ry="1.6"/><ellipse cx="18.1" cy="41.4" rx="1.6" ry="1.5"/><ellipse cx="22.9" cy="29.7" rx="2.1" ry="1.9"/><ellipse cx="6.7" cy="2.6" rx="2.1" ry="2.1"/><ellipse cx="6.7" cy="42.6" rx="2.1" ry="1.9"/><ellipse cx="35.5" cy="7.1" rx="2.0" ry="1.9"/><ellipse cx="11.6" cy="20.3" rx="2.0" ry="1.8"/><ellipse cx="18.9" cy="25.5" rx="1.7" ry="1.5"/><ellipse cx="25.2" cy="4.4" rx="1.8" ry="1.5"/><ellipse cx="35.4" cy="21.0" rx="1.6" ry="1.6"/><ellipse cx="15.0" cy="23.6" rx="1.9" ry="1.9"/><ellipse cx="15.8" cy="37.8" rx="2.0" ry="1.8"/><ellipse cx="15.8" cy="-2.2" rx="2.0" ry="1.8"/><ellipse cx="32.5" cy="9.7" rx="2.1" ry="1.8"/><ellipse cx="20.6" cy="33.2" rx="1.9" ry="1.5"/><ellipse cx="22.9" cy="36.6" rx="1.7" ry="1.6"/><ellipse cx="15.2" cy="18.2" rx="2.2" ry="1.9"/><ellipse cx="3.3" cy="37.3" rx="1.9" ry="1.5"/><ellipse cx="3.3" cy="-2.7" rx="1.9" ry="1.7"/><ellipse cx="33.8" cy="29.8" rx="1.6" ry="1.3"/><ellipse cx="29.8" cy="31.5" rx="1.5" ry="1.2"/><ellipse cx="7.4" cy="38.0" rx="1.9" ry="1.4"/><ellipse cx="7.4" cy="-2.0" rx="1.9" ry="1.7"/><ellipse cx="0.4" cy="13.9" rx="1.6" ry="1.5"/><ellipse cx="40.4" cy="13.9" rx="1.6" ry="1.5"/><ellipse cx="8.4" cy="10.7" rx="1.9" ry="1.9"/><ellipse cx="18.3" cy="29.3" rx="1.6" ry="1.4"/><ellipse cx="32.8" cy="36.4" rx="2.1" ry="1.6"/><ellipse cx="22.6" cy="22.6" rx="1.8" ry="1.4"/><ellipse cx="4.2" cy="24.4" rx="2.1" ry="1.8"/><ellipse cx="38.6" cy="27.3" rx="2.1" ry="1.8"/><ellipse cx="-1.4" cy="27.3" rx="2.1" ry="1.9"/><ellipse cx="5.4" cy="13.7" rx="1.5" ry="1.4"/><ellipse cx="36.8" cy="34.7" rx="2.0" ry="1.9"/><ellipse cx="31.4" cy="18.8" rx="1.8" ry="1.5"/><ellipse cx="9.0" cy="17.5" rx="2.0" ry="2.0"/><ellipse cx="21.5" cy="15.6" rx="1.6" ry="1.6"/><ellipse cx="11.9" cy="25.9" rx="1.5" ry="1.4"/><ellipse cx="39.5" cy="23.1" rx="2.2" ry="2.0"/><ellipse cx="-0.5" cy="23.1" rx="2.2" ry="2.0"/><ellipse cx="34.5" cy="0.3" rx="1.7" ry="1.4"/><ellipse cx="34.5" cy="40.3" rx="1.7" ry="1.5"/><ellipse cx="4.8" cy="17.5" rx="2.0" ry="1.7"/><ellipse cx="25.4" cy="25.3" rx="1.8" ry="1.5"/><ellipse cx="1.2" cy="9.9" rx="1.8" ry="1.6"/><ellipse cx="41.2" cy="9.9" rx="1.8" ry="1.6"/><ellipse cx="39.1" cy="18.7" rx="2.1" ry="1.6"/><ellipse cx="-0.9" cy="18.7" rx="2.1" ry="1.9"/><ellipse cx="2.3" cy="1.0" rx="1.9" ry="1.5"/><ellipse cx="2.3" cy="41.0" rx="1.9" ry="1.7"/><ellipse cx="42.3" cy="1.0" rx="1.9" ry="1.7"/><ellipse cx="42.3" cy="41.0" rx="1.9" ry="1.7"/><ellipse cx="11.6" cy="37.5" rx="1.6" ry="1.5"/><ellipse cx="11.6" cy="-2.5" rx="1.6" ry="1.4"/><ellipse cx="24.9" cy="33.1" rx="1.8" ry="1.6"/><ellipse cx="21.8" cy="0.6" rx="1.9" ry="1.4"/><ellipse cx="21.8" cy="40.6" rx="1.9" ry="1.7"/><ellipse cx="13.9" cy="29.3" rx="1.6" ry="1.5"/><ellipse cx="25.9" cy="39.5" rx="1.9" ry="1.5"/><ellipse cx="25.9" cy="-0.5" rx="1.9" ry="1.7"/><ellipse cx="37.4" cy="10.9" rx="1.9" ry="1.6"/><ellipse cx="-2.6" cy="10.9" rx="1.9" ry="1.7"/><ellipse cx="6.2" cy="21.2" rx="1.8" ry="1.7"/><ellipse cx="13.5" cy="3.8" rx="1.8" ry="1.8"/><ellipse cx="25.3" cy="15.5" rx="1.9" ry="1.7"/><ellipse cx="16.1" cy="14.4" rx="1.7" ry="1.6"/><ellipse cx="23.6" cy="19.0" rx="2.1" ry="2.0"/></g></pattern><pattern id="np4628" width="40" height="40" patternUnits="userSpaceOnUse" x="4.5" y="23.6"><g fill="#5e4890" opacity="0.88"><ellipse cx="10.9" cy="6.3" rx="1.5" ry="1.5"/><ellipse cx="29.0" cy="19.0" rx="2.1" ry="2.0"/><ellipse cx="39.4" cy="21.3" rx="1.8" ry="1.7"/><ellipse cx="-0.6" cy="21.3" rx="1.8" ry="1.6"/><ellipse cx="4.0" cy="18.4" rx="1.8" ry="1.4"/><ellipse cx="38.8" cy="16.8" rx="2.0" ry="1.7"/><ellipse cx="-1.2" cy="16.8" rx="2.0" ry="1.8"/><ellipse cx="38.3" cy="25.9" rx="1.7" ry="1.6"/><ellipse cx="-1.7" cy="25.9" rx="1.7" ry="1.5"/><ellipse cx="12.1" cy="17.3" rx="1.8" ry="1.6"/><ellipse cx="3.9" cy="0.1" rx="1.8" ry="1.5"/><ellipse cx="3.9" cy="40.1" rx="1.8" ry="1.6"/><ellipse cx="31.9" cy="16.3" rx="1.9" ry="1.9"/><ellipse cx="36.9" cy="37.9" rx="1.7" ry="1.4"/><ellipse cx="36.9" cy="-2.1" rx="1.7" ry="1.5"/><ellipse cx="19.4" cy="18.0" rx="1.9" ry="1.6"/><ellipse cx="32.1" cy="3.7" rx="1.8" ry="1.4"/><ellipse cx="31.8" cy="32.0" rx="2.1" ry="2.1"/><ellipse cx="16.4" cy="31.7" rx="2.1" ry="1.7"/><ellipse cx="2.1" cy="7.4" rx="1.8" ry="1.6"/><ellipse cx="42.1" cy="7.4" rx="1.8" ry="1.6"/><ellipse cx="10.2" cy="23.8" rx="2.1" ry="1.7"/><ellipse cx="36.4" cy="3.8" rx="1.6" ry="1.3"/><ellipse cx="18.7" cy="9.1" rx="1.9" ry="1.4"/><ellipse cx="9.6" cy="37.4" rx="2.1" ry="1.9"/><ellipse cx="9.6" cy="-2.6" rx="2.1" ry="1.8"/><ellipse cx="23.6" cy="8.5" rx="1.7" ry="1.6"/><ellipse cx="25.2" cy="4.2" rx="1.8" ry="1.7"/><ellipse cx="11.3" cy="1.4" rx="2.1" ry="1.9"/><ellipse cx="11.3" cy="41.4" rx="2.1" ry="1.9"/><ellipse cx="18.2" cy="36.0" rx="1.8" ry="1.7"/><ellipse cx="33.6" cy="23.8" rx="1.9" ry="1.8"/><ellipse cx="27.3" cy="12.6" rx="2.1" ry="1.8"/><ellipse cx="21.4" cy="23.0" rx="1.9" ry="1.6"/><ellipse cx="38.4" cy="8.3" rx="2.2" ry="1.9"/><ellipse cx="-1.6" cy="8.3" rx="2.2" ry="2.0"/><ellipse cx="19.7" cy="27.6" rx="2.0" ry="1.8"/><ellipse cx="6.3" cy="3.1" rx="2.1" ry="1.8"/><ellipse cx="17.2" cy="2.2" rx="2.1" ry="2.0"/><ellipse cx="17.2" cy="42.2" rx="2.1" ry="1.9"/><ellipse cx="39.2" cy="1.2" rx="1.7" ry="1.5"/><ellipse cx="-0.8" cy="1.2" rx="1.7" ry="1.5"/><ellipse cx="-0.8" cy="41.2" rx="1.7" ry="1.5"/><ellipse cx="39.2" cy="41.2" rx="1.7" ry="1.5"/><ellipse cx="7.8" cy="29.5" rx="1.8" ry="1.5"/><ellipse cx="26.8" cy="28.4" rx="2.1" ry="1.8"/><ellipse cx="34.2" cy="8.6" rx="1.9" ry="1.6"/><ellipse cx="24.7" cy="18.2" rx="1.7" ry="1.5"/><ellipse cx="23.6" cy="38.1" rx="2.1" ry="1.9"/><ellipse cx="23.6" cy="-1.9" rx="2.1" ry="1.9"/><ellipse cx="4.3" cy="33.6" rx="2.2" ry="1.9"/><ellipse cx="20.5" cy="0.3" rx="1.8" ry="1.6"/><ellipse cx="20.5" cy="40.3" rx="1.8" ry="1.7"/><ellipse cx="27.9" cy="8.0" rx="1.9" ry="1.7"/><ellipse cx="13.9" cy="11.2" rx="1.8" ry="1.4"/><ellipse cx="5.9" cy="10.1" rx="2.0" ry="1.6"/><ellipse cx="27.4" cy="35.7" rx="2.0" ry="1.6"/><ellipse cx="15.2" cy="25.9" rx="2.0" ry="1.6"/><ellipse cx="13.2" cy="34.4" rx="1.6" ry="1.4"/><ellipse cx="12.6" cy="30.7" rx="1.5" ry="1.4"/><ellipse cx="35.3" cy="30.1" rx="1.7" ry="1.3"/><ellipse cx="20.6" cy="5.0" rx="1.9" ry="1.8"/><ellipse cx="16.0" cy="20.8" rx="2.2" ry="1.7"/><ellipse cx="3.8" cy="13.2" rx="1.6" ry="1.4"/><ellipse cx="7.5" cy="14.1" rx="1.8" ry="1.7"/><ellipse cx="6.6" cy="25.9" rx="1.6" ry="1.6"/><ellipse cx="16.5" cy="14.4" rx="1.5" ry="1.2"/><ellipse cx="32.3" cy="27.8" rx="1.7" ry="1.4"/><ellipse cx="3.2" cy="29.1" rx="1.6" ry="1.3"/><ellipse cx="39.6" cy="30.4" rx="1.6" ry="1.3"/><ellipse cx="-0.4" cy="30.4" rx="1.6" ry="1.5"/><ellipse cx="30.2" cy="39.8" rx="1.6" ry="1.4"/><ellipse cx="30.2" cy="-0.2" rx="1.6" ry="1.5"/><ellipse cx="22.7" cy="13.1" rx="2.1" ry="1.8"/><ellipse cx="23.5" cy="30.8" rx="2.0" ry="1.7"/><ellipse cx="7.6" cy="19.1" rx="1.6" ry="1.5"/><ellipse cx="21.8" cy="34.3" rx="2.0" ry="1.9"/><ellipse cx="33.3" cy="35.8" rx="1.8" ry="1.4"/><ellipse cx="15.4" cy="38.7" rx="2.0" ry="2.0"/><ellipse cx="15.4" cy="-1.3" rx="2.0" ry="1.8"/><ellipse cx="34.4" cy="12.8" rx="1.8" ry="1.4"/><ellipse cx="26.4" cy="0.5" rx="2.0" ry="1.9"/><ellipse cx="26.4" cy="40.5" rx="2.0" ry="1.8"/><ellipse cx="0.5" cy="35.9" rx="1.5" ry="1.4"/><ellipse cx="40.5" cy="35.9" rx="1.5" ry="1.4"/><ellipse cx="27.9" cy="23.8" rx="2.1" ry="1.7"/><ellipse cx="35.1" cy="19.5" rx="1.9" ry="1.7"/><ellipse cx="37.0" cy="34.1" rx="2.0" ry="1.7"/><ellipse cx="3.1" cy="23.2" rx="1.6" ry="1.5"/><ellipse cx="15.0" cy="6.7" rx="1.6" ry="1.4"/><ellipse cx="39.1" cy="12.4" rx="1.7" ry="1.4"/><ellipse cx="-0.9" cy="12.4" rx="1.7" ry="1.6"/><ellipse cx="34.2" cy="0.4" rx="1.8" ry="1.6"/><ellipse cx="34.2" cy="40.4" rx="1.8" ry="1.6"/><ellipse cx="30.9" cy="11.2" rx="1.9" ry="1.7"/><ellipse cx="9.6" cy="10.0" rx="1.9" ry="1.7"/><ellipse cx="8.7" cy="33.7" rx="1.8" ry="1.5"/><ellipse cx="23.8" cy="25.9" rx="1.9" ry="1.9"/></g></pattern><pattern id="np93242" width="40" height="40" patternUnits="userSpaceOnUse" x="10.0" y="16.2"><g fill="#66559e" opacity="0.88"><ellipse cx="9.8" cy="11.8" rx="1.9" ry="1.5"/><ellipse cx="7.0" cy="20.5" rx="1.8" ry="1.4"/><ellipse cx="4.9" cy="32.3" rx="1.8" ry="1.7"/><ellipse cx="12.1" cy="23.7" rx="2.1" ry="2.0"/><ellipse cx="19.9" cy="11.4" rx="1.9" ry="1.7"/><ellipse cx="38.7" cy="14.5" rx="1.7" ry="1.4"/><ellipse cx="-1.3" cy="14.5" rx="1.7" ry="1.5"/><ellipse cx="16.2" cy="23.6" rx="1.8" ry="1.5"/><ellipse cx="8.6" cy="2.8" rx="1.5" ry="1.5"/><ellipse cx="8.6" cy="42.8" rx="1.5" ry="1.4"/><ellipse cx="1.1" cy="22.2" rx="1.8" ry="1.5"/><ellipse cx="41.1" cy="22.2" rx="1.8" ry="1.6"/><ellipse cx="28.3" cy="26.5" rx="1.7" ry="1.3"/><ellipse cx="20.9" cy="16.7" rx="1.7" ry="1.7"/><ellipse cx="35.5" cy="16.7" rx="1.8" ry="1.7"/><ellipse cx="25.0" cy="10.7" rx="2.0" ry="1.5"/><ellipse cx="33.5" cy="34.5" rx="1.5" ry="1.3"/><ellipse cx="29.9" cy="39.4" rx="1.9" ry="1.6"/><ellipse cx="29.9" cy="-0.6" rx="1.9" ry="1.7"/><ellipse cx="29.6" cy="32.5" rx="2.0" ry="1.5"/><ellipse cx="13.6" cy="8.9" rx="1.7" ry="1.5"/><ellipse cx="31.7" cy="3.9" rx="1.5" ry="1.2"/><ellipse cx="4.1" cy="3.7" rx="1.6" ry="1.3"/><ellipse cx="21.3" cy="7.1" rx="1.6" ry="1.4"/><ellipse cx="9.6" cy="30.3" rx="1.9" ry="1.9"/><ellipse cx="13.7" cy="16.3" rx="2.1" ry="1.8"/><ellipse cx="11.1" cy="38.4" rx="2.1" ry="1.9"/><ellipse cx="11.1" cy="-1.6" rx="2.1" ry="1.9"/><ellipse cx="9.7" cy="16.9" rx="2.0" ry="1.7"/><ellipse cx="30.4" cy="18.9" rx="1.8" ry="1.5"/><ellipse cx="13.5" cy="4.7" rx="1.7" ry="1.5"/><ellipse cx="22.7" cy="36.2" rx="2.0" ry="1.7"/><ellipse cx="7.2" cy="25.2" rx="2.1" ry="2.0"/><ellipse cx="22.5" cy="29.1" rx="1.9" ry="1.8"/><ellipse cx="23.9" cy="24.0" rx="1.5" ry="1.5"/><ellipse cx="2.8" cy="37.9" rx="1.8" ry="1.6"/><ellipse cx="2.8" cy="-2.1" rx="1.8" ry="1.6"/><ellipse cx="42.8" cy="-2.1" rx="1.8" ry="1.6"/><ellipse cx="42.8" cy="37.9" rx="1.8" ry="1.6"/><ellipse cx="21.4" cy="1.4" rx="2.1" ry="1.8"/><ellipse cx="21.4" cy="41.4" rx="2.1" ry="1.9"/><ellipse cx="30.9" cy="23.0" rx="1.7" ry="1.7"/><ellipse cx="19.7" cy="31.6" rx="1.8" ry="1.8"/><ellipse cx="0.6" cy="32.1" rx="2.2" ry="2.1"/><ellipse cx="40.6" cy="32.1" rx="2.2" ry="1.9"/><ellipse cx="39.4" cy="26.9" rx="2.1" ry="1.9"/><ellipse cx="-0.6" cy="26.9" rx="2.1" ry="1.9"/><ellipse cx="32.9" cy="13.3" rx="1.5" ry="1.2"/><ellipse cx="6.5" cy="36.6" rx="2.0" ry="1.7"/><ellipse cx="25.5" cy="6.1" rx="1.9" ry="1.5"/><ellipse cx="28.2" cy="36.0" rx="2.0" ry="1.6"/><ellipse cx="18.1" cy="39.2" rx="1.6" ry="1.4"/><ellipse cx="18.1" cy="-0.8" rx="1.6" ry="1.4"/><ellipse cx="25.5" cy="1.7" rx="2.1" ry="1.9"/><ellipse cx="25.5" cy="41.7" rx="2.1" ry="1.9"/><ellipse cx="35.8" cy="10.7" rx="1.7" ry="1.5"/><ellipse cx="3.5" cy="14.1" rx="2.0" ry="1.8"/><ellipse cx="35.6" cy="27.6" rx="1.5" ry="1.2"/><ellipse cx="24.8" cy="17.4" rx="1.8" ry="1.4"/><ellipse cx="37.0" cy="5.8" rx="1.7" ry="1.3"/><ellipse cx="39.1" cy="1.6" rx="2.0" ry="1.7"/><ellipse cx="-0.9" cy="1.6" rx="2.0" ry="1.8"/><ellipse cx="-0.9" cy="41.6" rx="2.0" ry="1.8"/><ellipse cx="39.1" cy="41.6" rx="2.0" ry="1.8"/><ellipse cx="30.5" cy="8.9" rx="1.6" ry="1.3"/><ellipse cx="16.9" cy="19.2" rx="2.0" ry="1.6"/><ellipse cx="38.3" cy="37.2" rx="2.1" ry="1.7"/><ellipse cx="-1.7" cy="-2.8" rx="2.1" ry="1.9"/><ellipse cx="-1.7" cy="37.2" rx="2.1" ry="1.9"/><ellipse cx="38.3" cy="-2.8" rx="2.1" ry="1.9"/><ellipse cx="35.6" cy="39.9" rx="1.8" ry="1.7"/><ellipse cx="35.6" cy="-0.1" rx="1.8" ry="1.6"/><ellipse cx="21.2" cy="21.3" rx="2.0" ry="1.6"/><ellipse cx="11.5" cy="34.7" rx="1.6" ry="1.3"/><ellipse cx="3.3" cy="8.7" rx="1.9" ry="1.8"/><ellipse cx="15.2" cy="28.4" rx="1.5" ry="1.3"/><ellipse cx="28.3" cy="12.9" rx="1.5" ry="1.4"/><ellipse cx="18.4" cy="4.7" rx="2.0" ry="1.7"/><ellipse cx="37.3" cy="20.9" rx="1.6" ry="1.4"/><ellipse cx="-2.7" cy="20.9" rx="1.6" ry="1.5"/><ellipse cx="7.2" cy="8.3" rx="1.9" ry="1.8"/><ellipse cx="3.8" cy="28.4" rx="1.7" ry="1.5"/><ellipse cx="16.2" cy="13.5" rx="1.7" ry="1.4"/><ellipse cx="19.3" cy="25.7" rx="1.8" ry="1.7"/><ellipse cx="16.7" cy="34.8" rx="1.6" ry="1.4"/><ellipse cx="25.3" cy="32.8" rx="1.8" ry="1.8"/><ellipse cx="39.3" cy="8.8" rx="1.6" ry="1.2"/><ellipse cx="-0.7" cy="8.8" rx="1.6" ry="1.4"/><ellipse cx="0.6" cy="5.1" rx="2.0" ry="1.9"/><ellipse cx="40.6" cy="5.1" rx="2.0" ry="1.8"/><ellipse cx="36.9" cy="32.9" rx="2.1" ry="1.8"/><ellipse cx="27.2" cy="22.1" rx="1.5" ry="1.3"/><ellipse cx="2.7" cy="18.8" rx="1.7" ry="1.5"/><ellipse cx="42.7" cy="18.8" rx="1.7" ry="1.6"/><ellipse cx="33.3" cy="30.8" rx="1.6" ry="1.2"/><ellipse cx="14.3" cy="0.5" rx="2.1" ry="2.1"/><ellipse cx="14.3" cy="40.5" rx="2.1" ry="1.9"/></g></pattern><pattern id="np31286" width="40" height="40" patternUnits="userSpaceOnUse" x="3.5" y="15.6"><g fill="#66559e" opacity="0.88"><ellipse cx="21.0" cy="8.1" rx="2.1" ry="1.6"/><ellipse cx="28.7" cy="18.5" rx="1.6" ry="1.5"/><ellipse cx="17.3" cy="8.1" rx="2.1" ry="1.7"/><ellipse cx="13.8" cy="26.2" rx="1.7" ry="1.7"/><ellipse cx="29.2" cy="37.7" rx="1.8" ry="1.6"/><ellipse cx="29.2" cy="-2.3" rx="1.8" ry="1.6"/><ellipse cx="36.3" cy="3.9" rx="1.9" ry="1.8"/><ellipse cx="34.9" cy="8.4" rx="1.8" ry="1.8"/><ellipse cx="27.5" cy="9.1" rx="1.9" ry="1.6"/><ellipse cx="20.5" cy="39.8" rx="1.7" ry="1.4"/><ellipse cx="20.5" cy="-0.2" rx="1.7" ry="1.6"/><ellipse cx="6.0" cy="34.3" rx="1.9" ry="1.6"/><ellipse cx="39.9" cy="15.6" rx="1.6" ry="1.4"/><ellipse cx="-0.1" cy="15.6" rx="1.6" ry="1.5"/><ellipse cx="36.2" cy="27.8" rx="2.0" ry="1.9"/><ellipse cx="17.9" cy="11.8" rx="2.0" ry="1.9"/><ellipse cx="13.7" cy="35.7" rx="1.9" ry="1.5"/><ellipse cx="8.9" cy="1.8" rx="1.8" ry="1.5"/><ellipse cx="8.9" cy="41.8" rx="1.8" ry="1.6"/><ellipse cx="31.1" cy="4.1" rx="2.1" ry="1.8"/><ellipse cx="25.7" cy="13.9" rx="2.1" ry="2.1"/><ellipse cx="0.4" cy="27.3" rx="2.1" ry="2.0"/><ellipse cx="40.4" cy="27.3" rx="2.1" ry="1.9"/><ellipse cx="37.0" cy="12.9" rx="1.9" ry="1.5"/><ellipse cx="19.3" cy="24.4" rx="1.7" ry="1.5"/><ellipse cx="37.6" cy="37.4" rx="1.7" ry="1.7"/><ellipse cx="-2.4" cy="-2.6" rx="1.7" ry="1.6"/><ellipse cx="-2.4" cy="37.4" rx="1.7" ry="1.6"/><ellipse cx="37.6" cy="-2.6" rx="1.7" ry="1.6"/><ellipse cx="21.7" cy="34.0" rx="1.8" ry="1.5"/><ellipse cx="12.6" cy="20.7" rx="2.0" ry="1.8"/><ellipse cx="40.0" cy="33.3" rx="2.2" ry="1.9"/><ellipse cx="-0.0" cy="33.3" rx="2.2" ry="2.0"/><ellipse cx="1.7" cy="9.7" rx="1.9" ry="1.6"/><ellipse cx="41.7" cy="9.7" rx="1.9" ry="1.7"/><ellipse cx="28.8" cy="28.5" rx="2.0" ry="1.8"/><ellipse cx="37.0" cy="18.3" rx="1.8" ry="1.7"/><ellipse cx="-3.0" cy="18.3" rx="1.8" ry="1.6"/><ellipse cx="7.8" cy="12.7" rx="1.9" ry="1.6"/><ellipse cx="23.4" cy="22.8" rx="1.7" ry="1.7"/><ellipse cx="15.7" cy="30.8" rx="2.2" ry="2.1"/><ellipse cx="2.5" cy="22.8" rx="2.0" ry="1.8"/><ellipse cx="42.5" cy="22.8" rx="2.0" ry="1.8"/><ellipse cx="10.3" cy="7.9" rx="1.9" ry="1.6"/><ellipse cx="30.3" cy="24.5" rx="2.0" ry="1.9"/><ellipse cx="15.3" cy="17.0" rx="2.2" ry="2.1"/><ellipse cx="24.8" cy="1.1" rx="2.0" ry="1.6"/><ellipse cx="24.8" cy="41.1" rx="2.0" ry="1.8"/><ellipse cx="21.9" cy="12.3" rx="2.0" ry="1.8"/><ellipse cx="6.4" cy="20.8" rx="2.1" ry="1.6"/><ellipse cx="36.1" cy="32.3" rx="2.2" ry="1.6"/><ellipse cx="11.5" cy="29.6" rx="1.6" ry="1.5"/><ellipse cx="23.3" cy="28.1" rx="1.5" ry="1.3"/><ellipse cx="38.6" cy="7.4" rx="1.7" ry="1.3"/><ellipse cx="-1.4" cy="7.4" rx="1.7" ry="1.5"/><ellipse cx="33.3" cy="21.1" rx="2.0" ry="1.6"/><ellipse cx="11.7" cy="13.9" rx="1.7" ry="1.6"/><ellipse cx="3.5" cy="38.9" rx="2.2" ry="1.8"/><ellipse cx="3.5" cy="-1.1" rx="2.2" ry="2.0"/><ellipse cx="6.3" cy="25.9" rx="1.8" ry="1.7"/><ellipse cx="9.8" cy="36.3" rx="1.8" ry="1.4"/><ellipse cx="14.1" cy="10.3" rx="1.6" ry="1.4"/><ellipse cx="12.6" cy="4.9" rx="2.0" ry="1.6"/><ellipse cx="12.8" cy="0.6" rx="1.5" ry="1.2"/><ellipse cx="12.8" cy="40.6" rx="1.5" ry="1.4"/><ellipse cx="29.4" cy="33.1" rx="2.0" ry="1.7"/><ellipse cx="34.5" cy="39.8" rx="2.1" ry="2.1"/><ellipse cx="34.5" cy="-0.2" rx="2.1" ry="1.9"/><ellipse cx="32.4" cy="11.2" rx="2.0" ry="1.7"/><ellipse cx="19.7" cy="19.8" rx="1.6" ry="1.2"/><ellipse cx="25.1" cy="5.6" rx="2.0" ry="1.6"/><ellipse cx="0.5" cy="4.0" rx="1.9" ry="1.7"/><ellipse cx="40.5" cy="4.0" rx="1.9" ry="1.7"/><ellipse cx="33.5" cy="35.7" rx="1.9" ry="1.6"/><ellipse cx="3.1" cy="31.0" rx="2.0" ry="1.5"/><ellipse cx="3.8" cy="16.1" rx="1.8" ry="1.5"/><ellipse cx="16.4" cy="38.8" rx="2.0" ry="1.9"/><ellipse cx="16.4" cy="-1.2" rx="2.0" ry="1.8"/><ellipse cx="33.9" cy="16.0" rx="1.8" ry="1.5"/><ellipse cx="26.0" cy="31.4" rx="1.9" ry="1.9"/><ellipse cx="7.7" cy="16.5" rx="1.7" ry="1.7"/><ellipse cx="23.5" cy="37.5" rx="2.1" ry="1.7"/><ellipse cx="23.5" cy="-2.5" rx="2.1" ry="1.9"/><ellipse cx="37.4" cy="23.0" rx="1.6" ry="1.3"/><ellipse cx="-2.6" cy="23.0" rx="1.6" ry="1.5"/><ellipse cx="16.5" cy="3.5" rx="2.1" ry="1.8"/><ellipse cx="23.3" cy="17.3" rx="2.0" ry="1.7"/><ellipse cx="5.6" cy="5.1" rx="1.9" ry="1.6"/><ellipse cx="32.6" cy="29.9" rx="1.8" ry="1.6"/><ellipse cx="18.1" cy="35.3" rx="1.8" ry="1.8"/><ellipse cx="19.5" cy="28.8" rx="1.6" ry="1.3"/><ellipse cx="21.2" cy="4.2" rx="1.8" ry="1.7"/><ellipse cx="30.3" cy="15.1" rx="1.7" ry="1.6"/><ellipse cx="1.2" cy="19.3" rx="2.0" ry="1.7"/><ellipse cx="41.2" cy="19.3" rx="2.0" ry="1.8"/><ellipse cx="19.8" cy="15.8" rx="1.6" ry="1.6"/><ellipse cx="7.3" cy="30.8" rx="1.8" ry="1.7"/><ellipse cx="15.8" cy="23.0" rx="2.0" ry="1.6"/><ellipse cx="10.0" cy="23.6" rx="1.8" ry="1.6"/><ellipse cx="6.4" cy="9.2" rx="1.7" ry="1.6"/><ellipse cx="26.4" cy="25.5" rx="1.7" ry="1.6"/></g></pattern><pattern id="np64349" width="40" height="40" patternUnits="userSpaceOnUse" x="9.2" y="10.5"><g fill="#66559e" opacity="0.88"><ellipse cx="7.7" cy="23.5" rx="1.6" ry="1.5"/><ellipse cx="11.5" cy="18.3" rx="2.2" ry="1.7"/><ellipse cx="18.1" cy="30.8" rx="2.1" ry="2.0"/><ellipse cx="14.3" cy="21.7" rx="2.1" ry="2.0"/><ellipse cx="3.5" cy="7.4" rx="1.9" ry="1.7"/><ellipse cx="22.5" cy="18.3" rx="1.5" ry="1.4"/><ellipse cx="4.5" cy="14.8" rx="1.7" ry="1.7"/><ellipse cx="27.1" cy="2.0" rx="1.9" ry="1.9"/><ellipse cx="27.1" cy="42.0" rx="1.9" ry="1.7"/><ellipse cx="16.7" cy="27.2" rx="2.0" ry="1.6"/><ellipse cx="25.5" cy="8.0" rx="2.1" ry="1.7"/><ellipse cx="38.1" cy="22.7" rx="1.6" ry="1.2"/><ellipse cx="-1.9" cy="22.7" rx="1.6" ry="1.4"/><ellipse cx="18.2" cy="8.4" rx="2.0" ry="2.0"/><ellipse cx="34.4" cy="9.6" rx="2.0" ry="1.6"/><ellipse cx="11.3" cy="32.9" rx="1.6" ry="1.2"/><ellipse cx="28.2" cy="34.9" rx="1.7" ry="1.3"/><ellipse cx="1.2" cy="25.2" rx="1.8" ry="1.7"/><ellipse cx="41.2" cy="25.2" rx="1.8" ry="1.6"/><ellipse cx="18.7" cy="37.1" rx="2.0" ry="2.0"/><ellipse cx="18.7" cy="-2.9" rx="2.0" ry="1.8"/><ellipse cx="2.7" cy="19.4" rx="2.2" ry="1.8"/><ellipse cx="42.7" cy="19.4" rx="2.2" ry="1.9"/><ellipse cx="24.4" cy="37.3" rx="1.7" ry="1.5"/><ellipse cx="24.4" cy="-2.7" rx="1.7" ry="1.5"/><ellipse cx="8.1" cy="11.9" rx="2.1" ry="1.7"/><ellipse cx="33.1" cy="18.6" rx="1.8" ry="1.6"/><ellipse cx="34.6" cy="30.9" rx="1.8" ry="1.6"/><ellipse cx="11.5" cy="28.9" rx="1.7" ry="1.5"/><ellipse cx="17.6" cy="17.4" rx="1.8" ry="1.4"/><ellipse cx="1.3" cy="38.4" rx="2.1" ry="1.9"/><ellipse cx="1.3" cy="-1.6" rx="2.1" ry="1.9"/><ellipse cx="41.3" cy="-1.6" rx="2.1" ry="1.9"/><ellipse cx="41.3" cy="38.4" rx="2.1" ry="1.9"/><ellipse cx="20.5" cy="24.9" rx="1.8" ry="1.6"/><ellipse cx="19.8" cy="13.3" rx="1.6" ry="1.2"/><ellipse cx="37.2" cy="4.4" rx="2.1" ry="1.7"/><ellipse cx="-2.8" cy="4.4" rx="2.1" ry="1.9"/><ellipse cx="29.1" cy="14.8" rx="1.9" ry="1.6"/><ellipse cx="34.3" cy="38.1" rx="1.8" ry="1.4"/><ellipse cx="34.3" cy="-1.9" rx="1.8" ry="1.6"/><ellipse cx="10.0" cy="38.0" rx="2.2" ry="2.0"/><ellipse cx="10.0" cy="-2.0" rx="2.2" ry="2.0"/><ellipse cx="22.9" cy="29.4" rx="1.6" ry="1.4"/><ellipse cx="1.2" cy="4.3" rx="2.1" ry="1.9"/><ellipse cx="41.2" cy="4.3" rx="2.1" ry="1.9"/><ellipse cx="31.5" cy="4.8" rx="1.9" ry="1.4"/><ellipse cx="38.8" cy="17.0" rx="2.1" ry="2.0"/><ellipse cx="-1.2" cy="17.0" rx="2.1" ry="1.9"/><ellipse cx="12.8" cy="5.3" rx="2.1" ry="2.1"/><ellipse cx="29.3" cy="28.4" rx="1.9" ry="1.9"/><ellipse cx="33.5" cy="14.4" rx="1.6" ry="1.5"/><ellipse cx="25.1" cy="22.6" rx="1.7" ry="1.3"/><ellipse cx="15.3" cy="11.0" rx="2.1" ry="1.6"/><ellipse cx="5.0" cy="30.1" rx="2.2" ry="2.1"/><ellipse cx="32.0" cy="23.0" rx="1.5" ry="1.3"/><ellipse cx="12.6" cy="0.7" rx="1.6" ry="1.5"/><ellipse cx="12.6" cy="40.7" rx="1.6" ry="1.4"/><ellipse cx="24.5" cy="15.0" rx="1.5" ry="1.3"/><ellipse cx="35.1" cy="25.3" rx="1.9" ry="1.8"/><ellipse cx="37.1" cy="0.5" rx="2.1" ry="2.0"/><ellipse cx="-2.9" cy="0.5" rx="2.1" ry="1.8"/><ellipse cx="-2.9" cy="40.5" rx="2.1" ry="1.8"/><ellipse cx="37.1" cy="40.5" rx="2.1" ry="1.8"/><ellipse cx="5.6" cy="3.6" rx="1.8" ry="1.7"/><ellipse cx="0.7" cy="10.4" rx="2.0" ry="1.7"/><ellipse cx="40.7" cy="10.4" rx="2.0" ry="1.8"/><ellipse cx="5.6" cy="37.9" rx="1.5" ry="1.2"/><ellipse cx="5.6" cy="-2.1" rx="1.5" ry="1.4"/><ellipse cx="23.1" cy="4.0" rx="1.5" ry="1.5"/><ellipse cx="0.3" cy="28.8" rx="1.8" ry="1.8"/><ellipse cx="40.3" cy="28.8" rx="1.8" ry="1.6"/><ellipse cx="37.8" cy="34.9" rx="2.0" ry="1.8"/><ellipse cx="-2.2" cy="34.9" rx="2.0" ry="1.8"/><ellipse cx="16.7" cy="4.5" rx="1.5" ry="1.3"/><ellipse cx="9.7" cy="8.1" rx="1.8" ry="1.4"/><ellipse cx="19.8" cy="1.3" rx="1.9" ry="1.5"/><ellipse cx="19.8" cy="41.3" rx="1.9" ry="1.7"/><ellipse cx="27.8" cy="19.9" rx="1.7" ry="1.5"/><ellipse cx="7.1" cy="18.5" rx="2.1" ry="1.9"/><ellipse cx="30.5" cy="9.4" rx="1.5" ry="1.4"/><ellipse cx="14.5" cy="35.9" rx="1.9" ry="1.5"/><ellipse cx="21.6" cy="33.3" rx="2.2" ry="2.0"/><ellipse cx="18.7" cy="21.6" rx="1.5" ry="1.3"/><ellipse cx="3.8" cy="33.7" rx="1.7" ry="1.7"/><ellipse cx="30.5" cy="39.0" rx="2.0" ry="1.7"/><ellipse cx="30.5" cy="-1.0" rx="2.0" ry="1.8"/><ellipse cx="13.0" cy="14.8" rx="1.6" ry="1.3"/><ellipse cx="26.8" cy="11.6" rx="1.7" ry="1.4"/><ellipse cx="31.2" cy="32.4" rx="1.7" ry="1.6"/><ellipse cx="11.6" cy="25.1" rx="1.9" ry="1.7"/><ellipse cx="7.5" cy="33.3" rx="1.9" ry="1.4"/><ellipse cx="26.7" cy="31.5" rx="2.1" ry="1.9"/><ellipse cx="37.6" cy="12.4" rx="2.0" ry="1.7"/><ellipse cx="-2.4" cy="12.4" rx="2.0" ry="1.8"/><ellipse cx="25.7" cy="26.7" rx="2.1" ry="1.6"/><ellipse cx="8.9" cy="1.7" rx="1.5" ry="1.4"/><ellipse cx="8.9" cy="41.7" rx="1.5" ry="1.4"/><ellipse cx="22.7" cy="10.5" rx="1.5" ry="1.3"/><ellipse cx="7.9" cy="27.6" rx="1.8" ry="1.4"/></g></pattern><pattern id="np9531" width="40" height="40" patternUnits="userSpaceOnUse" x="6.3" y="20.9"><g fill="#66559e" opacity="0.88"><ellipse cx="12.9" cy="15.5" rx="2.1" ry="1.8"/><ellipse cx="2.0" cy="38.4" rx="2.0" ry="1.9"/><ellipse cx="2.0" cy="-1.6" rx="2.0" ry="1.8"/><ellipse cx="42.0" cy="-1.6" rx="2.0" ry="1.8"/><ellipse cx="42.0" cy="38.4" rx="2.0" ry="1.8"/><ellipse cx="36.8" cy="23.4" rx="1.9" ry="1.8"/><ellipse cx="38.7" cy="1.6" rx="2.0" ry="1.7"/><ellipse cx="-1.3" cy="1.6" rx="2.0" ry="1.8"/><ellipse cx="-1.3" cy="41.6" rx="2.0" ry="1.8"/><ellipse cx="38.7" cy="41.6" rx="2.0" ry="1.8"/><ellipse cx="16.8" cy="18.2" rx="1.7" ry="1.4"/><ellipse cx="20.1" cy="1.5" rx="1.7" ry="1.3"/><ellipse cx="20.1" cy="41.5" rx="1.7" ry="1.5"/><ellipse cx="19.3" cy="23.1" rx="2.1" ry="1.8"/><ellipse cx="10.9" cy="20.9" rx="1.8" ry="1.5"/><ellipse cx="5.2" cy="9.6" rx="2.1" ry="1.7"/><ellipse cx="12.9" cy="26.6" rx="2.1" ry="1.9"/><ellipse cx="19.1" cy="9.3" rx="2.1" ry="2.0"/><ellipse cx="26.9" cy="0.9" rx="1.8" ry="1.7"/><ellipse cx="26.9" cy="40.9" rx="1.8" ry="1.6"/><ellipse cx="15.7" cy="2.4" rx="2.0" ry="1.6"/><ellipse cx="15.7" cy="42.4" rx="2.0" ry="1.8"/><ellipse cx="30.4" cy="21.1" rx="1.8" ry="1.7"/><ellipse cx="38.7" cy="14.0" rx="1.5" ry="1.5"/><ellipse cx="-1.3" cy="14.0" rx="1.5" ry="1.4"/><ellipse cx="34.9" cy="15.2" rx="1.7" ry="1.7"/><ellipse cx="6.3" cy="23.9" rx="1.6" ry="1.5"/><ellipse cx="26.7" cy="29.7" rx="2.0" ry="1.9"/><ellipse cx="33.2" cy="7.9" rx="1.9" ry="1.5"/><ellipse cx="0.5" cy="33.1" rx="1.7" ry="1.4"/><ellipse cx="40.5" cy="33.1" rx="1.7" ry="1.5"/><ellipse cx="20.8" cy="15.4" rx="1.7" ry="1.3"/><ellipse cx="13.8" cy="10.4" rx="1.9" ry="1.8"/><ellipse cx="36.0" cy="32.6" rx="1.9" ry="1.6"/><ellipse cx="1.4" cy="24.0" rx="1.9" ry="1.9"/><ellipse cx="41.4" cy="24.0" rx="1.9" ry="1.7"/><ellipse cx="33.8" cy="36.3" rx="1.9" ry="1.7"/><ellipse cx="25.2" cy="18.6" rx="1.7" ry="1.5"/><ellipse cx="9.2" cy="35.6" rx="2.0" ry="1.7"/><ellipse cx="29.8" cy="4.7" rx="1.7" ry="1.6"/><ellipse cx="38.6" cy="36.4" rx="2.1" ry="2.1"/><ellipse cx="-1.4" cy="36.4" rx="2.1" ry="1.9"/><ellipse cx="25.2" cy="10.1" rx="2.0" ry="1.9"/><ellipse cx="23.5" cy="3.9" rx="1.5" ry="1.4"/><ellipse cx="5.3" cy="15.6" rx="1.7" ry="1.4"/><ellipse cx="38.6" cy="9.4" rx="1.6" ry="1.4"/><ellipse cx="-1.4" cy="9.4" rx="1.6" ry="1.4"/><ellipse cx="29.8" cy="10.7" rx="2.2" ry="2.1"/><ellipse cx="21.7" cy="30.7" rx="1.8" ry="1.5"/><ellipse cx="7.9" cy="1.6" rx="2.0" ry="1.9"/><ellipse cx="7.9" cy="41.6" rx="2.0" ry="1.8"/><ellipse cx="27.8" cy="14.7" rx="1.6" ry="1.5"/><ellipse cx="31.8" cy="32.4" rx="1.9" ry="1.9"/><ellipse cx="25.3" cy="22.9" rx="1.9" ry="1.8"/><ellipse cx="4.0" cy="30.8" rx="1.9" ry="1.6"/><ellipse cx="2.2" cy="4.1" rx="1.7" ry="1.7"/><ellipse cx="42.2" cy="4.1" rx="1.7" ry="1.5"/><ellipse cx="0.2" cy="29.4" rx="1.7" ry="1.4"/><ellipse cx="40.2" cy="29.4" rx="1.7" ry="1.5"/><ellipse cx="15.6" cy="34.0" rx="1.7" ry="1.3"/><ellipse cx="12.3" cy="5.4" rx="1.8" ry="1.7"/><ellipse cx="37.7" cy="18.6" rx="1.6" ry="1.5"/><ellipse cx="-2.3" cy="18.6" rx="1.6" ry="1.4"/><ellipse cx="4.2" cy="20.2" rx="2.1" ry="1.9"/><ellipse cx="17.1" cy="37.7" rx="1.8" ry="1.8"/><ellipse cx="17.1" cy="-2.3" rx="1.8" ry="1.7"/><ellipse cx="8.6" cy="12.7" rx="2.1" ry="2.0"/><ellipse cx="23.5" cy="38.5" rx="1.9" ry="1.5"/><ellipse cx="23.5" cy="-1.5" rx="1.9" ry="1.7"/><ellipse cx="13.2" cy="36.9" rx="1.7" ry="1.4"/><ellipse cx="25.7" cy="35.0" rx="1.9" ry="1.6"/><ellipse cx="20.4" cy="34.5" rx="1.6" ry="1.5"/><ellipse cx="22.4" cy="7.5" rx="1.6" ry="1.3"/><ellipse cx="1.5" cy="17.1" rx="2.2" ry="2.1"/><ellipse cx="41.5" cy="17.1" rx="2.2" ry="2.0"/><ellipse cx="34.2" cy="20.4" rx="1.8" ry="1.5"/><ellipse cx="32.8" cy="27.8" rx="1.9" ry="1.9"/><ellipse cx="9.3" cy="28.4" rx="2.2" ry="2.1"/><ellipse cx="32.9" cy="0.4" rx="1.7" ry="1.7"/><ellipse cx="32.9" cy="40.4" rx="1.7" ry="1.5"/><ellipse cx="5.7" cy="5.8" rx="1.9" ry="1.5"/><ellipse cx="15.9" cy="6.4" rx="1.9" ry="1.5"/><ellipse cx="33.7" cy="11.6" rx="1.7" ry="1.4"/><ellipse cx="31.9" cy="17.4" rx="1.7" ry="1.5"/><ellipse cx="22.0" cy="26.7" rx="1.6" ry="1.3"/><ellipse cx="4.4" cy="35.5" rx="1.7" ry="1.5"/><ellipse cx="17.1" cy="13.1" rx="2.2" ry="2.0"/><ellipse cx="2.0" cy="11.9" rx="2.1" ry="2.0"/><ellipse cx="42.0" cy="11.9" rx="2.1" ry="1.9"/><ellipse cx="12.3" cy="32.3" rx="2.2" ry="2.0"/><ellipse cx="29.2" cy="25.7" rx="1.6" ry="1.6"/><ellipse cx="36.5" cy="27.1" rx="1.9" ry="1.6"/><ellipse cx="35.4" cy="4.8" rx="2.0" ry="1.8"/><ellipse cx="29.6" cy="37.9" rx="1.7" ry="1.5"/><ellipse cx="29.6" cy="-2.1" rx="1.7" ry="1.5"/><ellipse cx="21.1" cy="19.6" rx="1.8" ry="1.6"/><ellipse cx="14.3" cy="23.0" rx="2.0" ry="1.5"/><ellipse cx="17.6" cy="29.5" rx="2.1" ry="1.8"/><ellipse cx="10.2" cy="8.9" rx="1.6" ry="1.4"/><ellipse cx="12.3" cy="0.7" rx="1.5" ry="1.5"/><ellipse cx="12.3" cy="40.7" rx="1.5" ry="1.4"/><ellipse cx="7.8" cy="32.0" rx="2.2" ry="1.7"/><ellipse cx="9.5" cy="17.0" rx="1.6" ry="1.5"/><ellipse cx="26.6" cy="6.6" rx="1.6" ry="1.5"/><ellipse cx="4.0" cy="26.9" rx="1.7" ry="1.7"/></g></pattern></defs>
<g font-family='"Liberation Sans", sans-serif'>
<text x="11.6" y="9.7" font-size="16.5" text-anchor="start" fill="#111" textLength="7.6" lengthAdjust="spacingAndGlyphs">a</text>
<text x="293.6" y="14.1" font-size="16.8" font-weight="bold" stroke="#111" stroke-width="0.3" text-anchor="start" fill="#111" textLength="110.8" lengthAdjust="spacingAndGlyphs">Primary Tumor</text>
<text x="287.5" y="231.0" font-size="16.4" font-weight="bold" stroke="#111" stroke-width="0.3" text-anchor="start" fill="#111" textLength="123.4" lengthAdjust="spacingAndGlyphs">pN+ Lymph node</text>
<path d="M42.4,16.5V195.3H222.5" fill="none" stroke="#222" stroke-width="1.15"/>
<path d="M40.4,195.5H42.4" stroke="#555" stroke-width="0.6"/>
<text x="39.6" y="200.0" font-size="10" text-anchor="end" fill="#333">0.0</text>
<path d="M40.4,163.1H42.4" stroke="#555" stroke-width="0.6"/>
<text x="39.6" y="167.6" font-size="10" text-anchor="end" fill="#333">0.2</text>
<path d="M40.4,130.6H42.4" stroke="#555" stroke-width="0.6"/>
<text x="39.6" y="135.1" font-size="10" text-anchor="end" fill="#333">0.4</text>
<path d="M40.4,98.2H42.4" stroke="#555" stroke-width="0.6"/>
<text x="39.6" y="102.7" font-size="10" text-anchor="end" fill="#333">0.6</text>
<path d="M40.4,65.7H42.4" stroke="#555" stroke-width="0.6"/>
<text x="39.6" y="70.2" font-size="10" text-anchor="end" fill="#333">0.8</text>
<path d="M40.4,33.3H42.4" stroke="#555" stroke-width="0.6"/>
<text x="39.6" y="37.8" font-size="10" text-anchor="end" fill="#333">1.0</text>
<path d="M49.9,195.3V197.3" stroke="#555" stroke-width="0.6"/>
<text x="49.9" y="208.6" font-size="10" text-anchor="middle" fill="#333">0</text>
<path d="M78.7,195.3V197.3" stroke="#555" stroke-width="0.6"/>
<text x="78.7" y="208.6" font-size="10" text-anchor="middle" fill="#333">2</text>
<path d="M107.5,195.3V197.3" stroke="#555" stroke-width="0.6"/>
<text x="107.5" y="208.6" font-size="10" text-anchor="middle" fill="#333">4</text>
<path d="M136.2,195.3V197.3" stroke="#555" stroke-width="0.6"/>
<text x="136.2" y="208.6" font-size="10" text-anchor="middle" fill="#333">6</text>
<path d="M165.0,195.3V197.3" stroke="#555" stroke-width="0.6"/>
<text x="165.0" y="208.6" font-size="10" text-anchor="middle" fill="#333">8</text>
<path d="M193.8,195.3V197.3" stroke="#555" stroke-width="0.6"/>
<text x="193.8" y="208.6" font-size="10" text-anchor="middle" fill="#333">10</text>
<path d="M222.6,195.3V197.3" stroke="#555" stroke-width="0.6"/>
<text x="222.6" y="208.6" font-size="10" text-anchor="middle" fill="#333">12</text>
<path d="M257.6,16.5V195.3H437.70000000000005" fill="none" stroke="#222" stroke-width="1.15"/>
<path d="M255.60000000000002,195.5H257.6" stroke="#555" stroke-width="0.6"/>
<text x="254.8" y="200.0" font-size="10" text-anchor="end" fill="#333">0.0</text>
<path d="M255.60000000000002,163.1H257.6" stroke="#555" stroke-width="0.6"/>
<text x="254.8" y="167.6" font-size="10" text-anchor="end" fill="#333">0.2</text>
<path d="M255.60000000000002,130.6H257.6" stroke="#555" stroke-width="0.6"/>
<text x="254.8" y="135.1" font-size="10" text-anchor="end" fill="#333">0.4</text>
<path d="M255.60000000000002,98.2H257.6" stroke="#555" stroke-width="0.6"/>
<text x="254.8" y="102.7" font-size="10" text-anchor="end" fill="#333">0.6</text>
<path d="M255.60000000000002,65.7H257.6" stroke="#555" stroke-width="0.6"/>
<text x="254.8" y="70.2" font-size="10" text-anchor="end" fill="#333">0.8</text>
<path d="M255.60000000000002,33.3H257.6" stroke="#555" stroke-width="0.6"/>
<text x="254.8" y="37.8" font-size="10" text-anchor="end" fill="#333">1.0</text>
<path d="M265.1,195.3V197.3" stroke="#555" stroke-width="0.6"/>
<text x="265.1" y="208.6" font-size="10" text-anchor="middle" fill="#333">0</text>
<path d="M293.9,195.3V197.3" stroke="#555" stroke-width="0.6"/>
<text x="293.9" y="208.6" font-size="10" text-anchor="middle" fill="#333">2</text>
<path d="M322.7,195.3V197.3" stroke="#555" stroke-width="0.6"/>
<text x="322.7" y="208.6" font-size="10" text-anchor="middle" fill="#333">4</text>
<path d="M351.4,195.3V197.3" stroke="#555" stroke-width="0.6"/>
<text x="351.4" y="208.6" font-size="10" text-anchor="middle" fill="#333">6</text>
<path d="M380.2,195.3V197.3" stroke="#555" stroke-width="0.6"/>
<text x="380.2" y="208.6" font-size="10" text-anchor="middle" fill="#333">8</text>
<path d="M409.0,195.3V197.3" stroke="#555" stroke-width="0.6"/>
<text x="409.0" y="208.6" font-size="10" text-anchor="middle" fill="#333">10</text>
<path d="M437.8,195.3V197.3" stroke="#555" stroke-width="0.6"/>
<text x="437.8" y="208.6" font-size="10" text-anchor="middle" fill="#333">12</text>
<path d="M472.7,16.5V195.3H652.8" fill="none" stroke="#222" stroke-width="1.15"/>
<path d="M470.7,195.5H472.7" stroke="#555" stroke-width="0.6"/>
<text x="469.9" y="200.0" font-size="10" text-anchor="end" fill="#333">0.0</text>
<path d="M470.7,163.1H472.7" stroke="#555" stroke-width="0.6"/>
<text x="469.9" y="167.6" font-size="10" text-anchor="end" fill="#333">0.2</text>
<path d="M470.7,130.6H472.7" stroke="#555" stroke-width="0.6"/>
<text x="469.9" y="135.1" font-size="10" text-anchor="end" fill="#333">0.4</text>
<path d="M470.7,98.2H472.7" stroke="#555" stroke-width="0.6"/>
<text x="469.9" y="102.7" font-size="10" text-anchor="end" fill="#333">0.6</text>
<path d="M470.7,65.7H472.7" stroke="#555" stroke-width="0.6"/>
<text x="469.9" y="70.2" font-size="10" text-anchor="end" fill="#333">0.8</text>
<path d="M470.7,33.3H472.7" stroke="#555" stroke-width="0.6"/>
<text x="469.9" y="37.8" font-size="10" text-anchor="end" fill="#333">1.0</text>
<path d="M480.2,195.3V197.3" stroke="#555" stroke-width="0.6"/>
<text x="480.2" y="208.6" font-size="10" text-anchor="middle" fill="#333">0</text>
<path d="M509.0,195.3V197.3" stroke="#555" stroke-width="0.6"/>
<text x="509.0" y="208.6" font-size="10" text-anchor="middle" fill="#333">2</text>
<path d="M537.8,195.3V197.3" stroke="#555" stroke-width="0.6"/>
<text x="537.8" y="208.6" font-size="10" text-anchor="middle" fill="#333">4</text>
<path d="M566.5,195.3V197.3" stroke="#555" stroke-width="0.6"/>
<text x="566.5" y="208.6" font-size="10" text-anchor="middle" fill="#333">6</text>
<path d="M595.3,195.3V197.3" stroke="#555" stroke-width="0.6"/>
<text x="595.3" y="208.6" font-size="10" text-anchor="middle" fill="#333">8</text>
<path d="M624.1,195.3V197.3" stroke="#555" stroke-width="0.6"/>
<text x="624.1" y="208.6" font-size="10" text-anchor="middle" fill="#333">10</text>
<path d="M652.9,195.3V197.3" stroke="#555" stroke-width="0.6"/>
<text x="652.9" y="208.6" font-size="10" text-anchor="middle" fill="#333">12</text>
<text transform="translate(16.8,107.4) rotate(-90)" font-size="12.4" font-weight="bold" stroke="#111" stroke-width="0.25" text-anchor="middle" fill="#111" textLength="113.6" lengthAdjust="spacingAndGlyphs">Survival Probability</text>
<path d="M42.4,234.7V413.5H222.5" fill="none" stroke="#222" stroke-width="1.15"/>
<path d="M40.4,413.7H42.4" stroke="#555" stroke-width="0.6"/>
<text x="39.6" y="418.2" font-size="10" text-anchor="end" fill="#333">0.0</text>
<path d="M40.4,381.3H42.4" stroke="#555" stroke-width="0.6"/>
<text x="39.6" y="385.8" font-size="10" text-anchor="end" fill="#333">0.2</text>
<path d="M40.4,348.8H42.4" stroke="#555" stroke-width="0.6"/>
<text x="39.6" y="353.3" font-size="10" text-anchor="end" fill="#333">0.4</text>
<path d="M40.4,316.4H42.4" stroke="#555" stroke-width="0.6"/>
<text x="39.6" y="320.9" font-size="10" text-anchor="end" fill="#333">0.6</text>
<path d="M40.4,283.9H42.4" stroke="#555" stroke-width="0.6"/>
<text x="39.6" y="288.4" font-size="10" text-anchor="end" fill="#333">0.8</text>
<path d="M40.4,251.5H42.4" stroke="#555" stroke-width="0.6"/>
<text x="39.6" y="256.0" font-size="10" text-anchor="end" fill="#333">1.0</text>
<path d="M49.9,413.5V415.5" stroke="#555" stroke-width="0.6"/>
<text x="49.9" y="426.8" font-size="10" text-anchor="middle" fill="#333">0</text>
<path d="M78.7,413.5V415.5" stroke="#555" stroke-width="0.6"/>
<text x="78.7" y="426.8" font-size="10" text-anchor="middle" fill="#333">2</text>
<path d="M107.5,413.5V415.5" stroke="#555" stroke-width="0.6"/>
<text x="107.5" y="426.8" font-size="10" text-anchor="middle" fill="#333">4</text>
<path d="M136.2,413.5V415.5" stroke="#555" stroke-width="0.6"/>
<text x="136.2" y="426.8" font-size="10" text-anchor="middle" fill="#333">6</text>
<path d="M165.0,413.5V415.5" stroke="#555" stroke-width="0.6"/>
<text x="165.0" y="426.8" font-size="10" text-anchor="middle" fill="#333">8</text>
<path d="M193.8,413.5V415.5" stroke="#555" stroke-width="0.6"/>
<text x="193.8" y="426.8" font-size="10" text-anchor="middle" fill="#333">10</text>
<path d="M222.6,413.5V415.5" stroke="#555" stroke-width="0.6"/>
<text x="222.6" y="426.8" font-size="10" text-anchor="middle" fill="#333">12</text>
<path d="M257.6,234.7V413.5H437.70000000000005" fill="none" stroke="#222" stroke-width="1.15"/>
<path d="M255.60000000000002,413.7H257.6" stroke="#555" stroke-width="0.6"/>
<text x="254.8" y="418.2" font-size="10" text-anchor="end" fill="#333">0.0</text>
<path d="M255.60000000000002,381.3H257.6" stroke="#555" stroke-width="0.6"/>
<text x="254.8" y="385.8" font-size="10" text-anchor="end" fill="#333">0.2</text>
<path d="M255.60000000000002,348.8H257.6" stroke="#555" stroke-width="0.6"/>
<text x="254.8" y="353.3" font-size="10" text-anchor="end" fill="#333">0.4</text>
<path d="M255.60000000000002,316.4H257.6" stroke="#555" stroke-width="0.6"/>
<text x="254.8" y="320.9" font-size="10" text-anchor="end" fill="#333">0.6</text>
<path d="M255.60000000000002,283.9H257.6" stroke="#555" stroke-width="0.6"/>
<text x="254.8" y="288.4" font-size="10" text-anchor="end" fill="#333">0.8</text>
<path d="M255.60000000000002,251.5H257.6" stroke="#555" stroke-width="0.6"/>
<text x="254.8" y="256.0" font-size="10" text-anchor="end" fill="#333">1.0</text>
<path d="M265.1,413.5V415.5" stroke="#555" stroke-width="0.6"/>
<text x="265.1" y="426.8" font-size="10" text-anchor="middle" fill="#333">0</text>
<path d="M293.9,413.5V415.5" stroke="#555" stroke-width="0.6"/>
<text x="293.9" y="426.8" font-size="10" text-anchor="middle" fill="#333">2</text>
<path d="M322.7,413.5V415.5" stroke="#555" stroke-width="0.6"/>
<text x="322.7" y="426.8" font-size="10" text-anchor="middle" fill="#333">4</text>
<path d="M351.4,413.5V415.5" stroke="#555" stroke-width="0.6"/>
<text x="351.4" y="426.8" font-size="10" text-anchor="middle" fill="#333">6</text>
<path d="M380.2,413.5V415.5" stroke="#555" stroke-width="0.6"/>
<text x="380.2" y="426.8" font-size="10" text-anchor="middle" fill="#333">8</text>
<path d="M409.0,413.5V415.5" stroke="#555" stroke-width="0.6"/>
<text x="409.0" y="426.8" font-size="10" text-anchor="middle" fill="#333">10</text>
<path d="M437.8,413.5V415.5" stroke="#555" stroke-width="0.6"/>
<text x="437.8" y="426.8" font-size="10" text-anchor="middle" fill="#333">12</text>
<path d="M472.7,234.7V413.5H652.8" fill="none" stroke="#222" stroke-width="1.15"/>
<path d="M470.7,413.7H472.7" stroke="#555" stroke-width="0.6"/>
<text x="469.9" y="418.2" font-size="10" text-anchor="end" fill="#333">0.0</text>
<path d="M470.7,381.3H472.7" stroke="#555" stroke-width="0.6"/>
<text x="469.9" y="385.8" font-size="10" text-anchor="end" fill="#333">0.2</text>
<path d="M470.7,348.8H472.7" stroke="#555" stroke-width="0.6"/>
<text x="469.9" y="353.3" font-size="10" text-anchor="end" fill="#333">0.4</text>
<path d="M470.7,316.4H472.7" stroke="#555" stroke-width="0.6"/>
<text x="469.9" y="320.9" font-size="10" text-anchor="end" fill="#333">0.6</text>
<path d="M470.7,283.9H472.7" stroke="#555" stroke-width="0.6"/>
<text x="469.9" y="288.4" font-size="10" text-anchor="end" fill="#333">0.8</text>
<path d="M470.7,251.5H472.7" stroke="#555" stroke-width="0.6"/>
<text x="469.9" y="256.0" font-size="10" text-anchor="end" fill="#333">1.0</text>
<path d="M480.2,413.5V415.5" stroke="#555" stroke-width="0.6"/>
<text x="480.2" y="426.8" font-size="10" text-anchor="middle" fill="#333">0</text>
<path d="M509.0,413.5V415.5" stroke="#555" stroke-width="0.6"/>
<text x="509.0" y="426.8" font-size="10" text-anchor="middle" fill="#333">2</text>
<path d="M537.8,413.5V415.5" stroke="#555" stroke-width="0.6"/>
<text x="537.8" y="426.8" font-size="10" text-anchor="middle" fill="#333">4</text>
<path d="M566.5,413.5V415.5" stroke="#555" stroke-width="0.6"/>
<text x="566.5" y="426.8" font-size="10" text-anchor="middle" fill="#333">6</text>
<path d="M595.3,413.5V415.5" stroke="#555" stroke-width="0.6"/>
<text x="595.3" y="426.8" font-size="10" text-anchor="middle" fill="#333">8</text>
<path d="M624.1,413.5V415.5" stroke="#555" stroke-width="0.6"/>
<text x="624.1" y="426.8" font-size="10" text-anchor="middle" fill="#333">10</text>
<path d="M652.9,413.5V415.5" stroke="#555" stroke-width="0.6"/>
<text x="652.9" y="426.8" font-size="10" text-anchor="middle" fill="#333">12</text>
<text transform="translate(16.8,325.6) rotate(-90)" font-size="12.4" font-weight="bold" stroke="#111" stroke-width="0.25" text-anchor="middle" fill="#111" textLength="113.6" lengthAdjust="spacingAndGlyphs">Survival Probability</text>
<text x="92.5" y="442.6" font-size="12.8" font-weight="bold" stroke="#111" stroke-width="0.3" text-anchor="start" fill="#111" textLength="79.8" lengthAdjust="spacingAndGlyphs">Time in Years</text>
<text x="307.7" y="442.6" font-size="12.8" font-weight="bold" stroke="#111" stroke-width="0.3" text-anchor="start" fill="#111" textLength="79.8" lengthAdjust="spacingAndGlyphs">Time in Years</text>
<text x="522.8" y="442.6" font-size="12.8" font-weight="bold" stroke="#111" stroke-width="0.3" text-anchor="start" fill="#111" textLength="79.8" lengthAdjust="spacingAndGlyphs">Time in Years</text>
<path d="M49.9,33.2H57.6V41.4H64.9V60.1H67.3V69.5H73.8V78.4H77.2V87.1H92.7V96.8H110.3V110.7H118.7V127.8H142.4" fill="none" stroke="#f6b9cb" stroke-width="1.4" stroke-linejoin="miter"/>
<path d="M55.5,30.9V35.5" stroke="#f6b9cb" stroke-width="0.9"/>
<path d="M90.6,84.8V89.4" stroke="#f6b9cb" stroke-width="0.9"/>
<path d="M93.2,94.5V99.1" stroke="#f6b9cb" stroke-width="0.9"/>
<path d="M98.5,94.5V99.1" stroke="#f6b9cb" stroke-width="0.9"/>
<path d="M116.9,108.4V113.0" stroke="#f6b9cb" stroke-width="0.9"/>
<path d="M122.1,125.5V130.1" stroke="#f6b9cb" stroke-width="0.9"/>
<path d="M137.9,125.5V130.1" stroke="#f6b9cb" stroke-width="0.9"/>
<path d="M139.7,125.5V130.1" stroke="#f6b9cb" stroke-width="0.9"/>
<path d="M141.3,125.5V130.1" stroke="#f6b9cb" stroke-width="0.9"/>
<path d="M49.9,33.2H53.5V45.2H55.5V57.2H56.7V63.0H57.6V69.0H60.0V75.0H62.0V81.0H64.3V92.8H67.0V99.4H74.0V105.2H78.3V111.2H80.1V117.3H82.7V123.1H88.5V129.6H116.1V137.5H127.4V149.3H169.4" fill="none" stroke="#eba435" stroke-width="1.4" stroke-linejoin="miter"/>
<path d="M88.5,127.3V131.9" stroke="#eba435" stroke-width="0.9"/>
<path d="M95.9,127.3V131.9" stroke="#eba435" stroke-width="0.9"/>
<path d="M118.2,135.2V139.8" stroke="#eba435" stroke-width="0.9"/>
<path d="M126.1,135.2V139.8" stroke="#eba435" stroke-width="0.9"/>
<path d="M128.2,147.0V151.6" stroke="#eba435" stroke-width="0.9"/>
<path d="M159.7,147.0V151.6" stroke="#eba435" stroke-width="0.9"/>
<path d="M164.2,147.0V151.6" stroke="#eba435" stroke-width="0.9"/>
<path d="M168.1,147.0V151.6" stroke="#eba435" stroke-width="0.9"/>
<path d="M49.9,33.2H54.5V46.2H58.3V86.5H61.5V100.7H62.5V114.4H76.2V127.8H78.0V141.5H187.8" fill="none" stroke="#3f9a32" stroke-width="1.4" stroke-linejoin="miter"/>
<path d="M95.9,139.2V143.8" stroke="#3f9a32" stroke-width="0.9"/>
<path d="M107.7,139.2V143.8" stroke="#3f9a32" stroke-width="0.9"/>
<path d="M153.7,139.2V143.8" stroke="#3f9a32" stroke-width="0.9"/>
<path d="M186.5,139.2V143.8" stroke="#3f9a32" stroke-width="0.9"/>
<path d="M49.9,33.2H57.6V41.4H66.3V49.2H88.1V57.8H118.3V69.5H206.2" fill="none" stroke="#ff2a2a" stroke-width="1.6" stroke-linejoin="miter"/>
<path d="M87.6,46.9V51.5" stroke="#ff2a2a" stroke-width="0.9"/>
<path d="M107.7,55.5V60.1" stroke="#ff2a2a" stroke-width="0.9"/>
<path d="M111.0,55.5V60.1" stroke="#ff2a2a" stroke-width="0.9"/>
<path d="M116.2,55.5V60.1" stroke="#ff2a2a" stroke-width="0.9"/>
<path d="M122.9,67.2V71.8" stroke="#ff2a2a" stroke-width="0.9"/>
<path d="M127.4,67.2V71.8" stroke="#ff2a2a" stroke-width="0.9"/>
<path d="M129.2,67.2V71.8" stroke="#ff2a2a" stroke-width="0.9"/>
<path d="M139.7,67.2V71.8" stroke="#ff2a2a" stroke-width="0.9"/>
<path d="M145.8,67.2V71.8" stroke="#ff2a2a" stroke-width="0.9"/>
<path d="M152.4,67.2V71.8" stroke="#ff2a2a" stroke-width="0.9"/>
<path d="M156.3,67.2V71.8" stroke="#ff2a2a" stroke-width="0.9"/>
<path d="M196.5,67.2V71.8" stroke="#ff2a2a" stroke-width="0.9"/>
<path d="M199.6,67.2V71.8" stroke="#ff2a2a" stroke-width="0.9"/>
<path d="M202.8,67.2V71.8" stroke="#ff2a2a" stroke-width="0.9"/>
<path d="M141.3,28.6H160.3" stroke="#ff1f1f" stroke-width="3.6"/>
<text x="163.1" y="32.2" font-size="10.2" text-anchor="start" fill="#1a1a1a" textLength="53.38" lengthAdjust="spacingAndGlyphs">IN CD8 high</text>
<path d="M141.3,38.8H160.3" stroke="#f7d6e1" stroke-width="3.6"/>
<text x="163.1" y="42.4" font-size="10.2" text-anchor="start" fill="#1a1a1a" textLength="49.55" lengthAdjust="spacingAndGlyphs">IN CD8 low</text>
<path d="M141.3,48.9H160.3" stroke="#3c9a2e" stroke-width="3.6"/>
<text x="163.1" y="52.5" font-size="10.2" text-anchor="start" fill="#1a1a1a" textLength="9.27" lengthAdjust="spacingAndGlyphs">IE</text>
<path d="M141.3,59.1H160.3" stroke="#eca636" stroke-width="3.6"/>
<text x="163.1" y="62.7" font-size="10.2" text-anchor="start" fill="#1a1a1a" textLength="9.81" lengthAdjust="spacingAndGlyphs">ID</text>
<text x="163.9" y="175.0" font-size="14.2" text-anchor="start" fill="#222" textLength="54.4" lengthAdjust="spacingAndGlyphs">p=0.0049</text>
<path d="M265.1,33.2H272.5V41.6H280.0V51.3H288.3V60.4H333.3V72.3H421.0" fill="none" stroke="#f6b9cb" stroke-width="1.4" stroke-linejoin="miter"/>
<path d="M271.2,30.9V35.5" stroke="#f6b9cb" stroke-width="0.9"/>
<path d="M306.7,58.1V62.7" stroke="#f6b9cb" stroke-width="0.9"/>
<path d="M309.5,58.1V62.7" stroke="#f6b9cb" stroke-width="0.9"/>
<path d="M313.3,58.1V62.7" stroke="#f6b9cb" stroke-width="0.9"/>
<path d="M332.0,58.1V62.7" stroke="#f6b9cb" stroke-width="0.9"/>
<path d="M337.5,70.0V74.6" stroke="#f6b9cb" stroke-width="0.9"/>
<path d="M344.0,70.0V74.6" stroke="#f6b9cb" stroke-width="0.9"/>
<path d="M345.6,70.0V74.6" stroke="#f6b9cb" stroke-width="0.9"/>
<path d="M352.6,70.0V74.6" stroke="#f6b9cb" stroke-width="0.9"/>
<path d="M353.9,70.0V74.6" stroke="#f6b9cb" stroke-width="0.9"/>
<path d="M356.3,70.0V74.6" stroke="#f6b9cb" stroke-width="0.9"/>
<path d="M367.6,70.0V74.6" stroke="#f6b9cb" stroke-width="0.9"/>
<path d="M371.6,70.0V74.6" stroke="#f6b9cb" stroke-width="0.9"/>
<path d="M411.7,70.0V74.6" stroke="#f6b9cb" stroke-width="0.9"/>
<path d="M420.5,70.0V74.6" stroke="#f6b9cb" stroke-width="0.9"/>
<path d="M265.1,33.2H269.0V45.1H270.8V53.0H272.2V65.3H273.4V75.8H276.0V85.4H277.4V92.6H281.3V98.9H289.2V105.7H293.9V111.5H295.7V117.3H297.0V123.4H303.6V129.1H331.7V137.3H343.0V149.6H385.0" fill="none" stroke="#eba435" stroke-width="1.4" stroke-linejoin="miter"/>
<path d="M303.6,126.8V131.4" stroke="#eba435" stroke-width="0.9"/>
<path d="M311.5,126.8V131.4" stroke="#eba435" stroke-width="0.9"/>
<path d="M333.0,135.0V139.6" stroke="#eba435" stroke-width="0.9"/>
<path d="M340.0,135.0V139.6" stroke="#eba435" stroke-width="0.9"/>
<path d="M344.0,147.3V151.9" stroke="#eba435" stroke-width="0.9"/>
<path d="M374.5,147.3V151.9" stroke="#eba435" stroke-width="0.9"/>
<path d="M378.5,147.3V151.9" stroke="#eba435" stroke-width="0.9"/>
<path d="M384.3,147.3V151.9" stroke="#eba435" stroke-width="0.9"/>
<path d="M265.1,33.2H269.4V46.2H272.5V60.0H273.9V87.2H277.3V114.2H291.3V127.8H293.6V141.2H402.7" fill="none" stroke="#3f9a32" stroke-width="1.4" stroke-linejoin="miter"/>
<path d="M310.7,138.9V143.5" stroke="#3f9a32" stroke-width="0.9"/>
<path d="M323.3,138.9V143.5" stroke="#3f9a32" stroke-width="0.9"/>
<path d="M368.5,138.9V143.5" stroke="#3f9a32" stroke-width="0.9"/>
<path d="M402.1,138.9V143.5" stroke="#3f9a32" stroke-width="0.9"/>
<path d="M265.1,33.2H272.5V41.6H281.0V52.2H281.6V65.8H292.1V73.7H303.4V82.0H307.5V91.0H325.4V101.5H333.3V117.3H416.6" fill="none" stroke="#ff2a2a" stroke-width="1.6" stroke-linejoin="miter"/>
<path d="M302.3,71.4V76.0" stroke="#ff2a2a" stroke-width="0.9"/>
<path d="M314.9,88.7V93.3" stroke="#ff2a2a" stroke-width="0.9"/>
<path d="M323.3,88.7V93.3" stroke="#ff2a2a" stroke-width="0.9"/>
<path d="M326.0,99.2V103.8" stroke="#ff2a2a" stroke-width="0.9"/>
<path d="M331.0,99.2V103.8" stroke="#ff2a2a" stroke-width="0.9"/>
<path d="M338.6,115.0V119.6" stroke="#ff2a2a" stroke-width="0.9"/>
<path d="M354.8,115.0V119.6" stroke="#ff2a2a" stroke-width="0.9"/>
<path d="M360.6,115.0V119.6" stroke="#ff2a2a" stroke-width="0.9"/>
<path d="M372.7,115.0V119.6" stroke="#ff2a2a" stroke-width="0.9"/>
<path d="M415.8,115.0V119.6" stroke="#ff2a2a" stroke-width="0.9"/>
<path d="M349.2,28.6H367.7" stroke="#ff1f1f" stroke-width="3.6"/>
<text x="371.0" y="32.2" font-size="10.2" text-anchor="start" fill="#1a1a1a" textLength="64.27" lengthAdjust="spacingAndGlyphs">IN CD163 high</text>
<path d="M349.2,38.8H367.7" stroke="#f7d6e1" stroke-width="3.6"/>
<text x="371.0" y="42.4" font-size="10.2" text-anchor="start" fill="#1a1a1a" textLength="60.44" lengthAdjust="spacingAndGlyphs">IN CD163 low</text>
<path d="M349.2,48.9H367.7" stroke="#3c9a2e" stroke-width="3.6"/>
<text x="371.0" y="52.5" font-size="10.2" text-anchor="start" fill="#1a1a1a" textLength="9.27" lengthAdjust="spacingAndGlyphs">IE</text>
<path d="M349.2,59.1H367.7" stroke="#eca636" stroke-width="3.6"/>
<text x="371.0" y="62.7" font-size="10.2" text-anchor="start" fill="#1a1a1a" textLength="9.81" lengthAdjust="spacingAndGlyphs">ID</text>
<text x="382.0" y="175.0" font-size="14.2" text-anchor="start" fill="#222" textLength="54.0" lengthAdjust="spacingAndGlyphs">p=0.0076</text>
<path d="M480.2,33.2H637.4" fill="none" stroke="#ff2a2a" stroke-width="1.5" stroke-linejoin="miter"/>
<path d="M559.5,30.9V35.5" stroke="#ff2a2a" stroke-width="0.9"/>
<path d="M563.0,30.9V35.5" stroke="#ff2a2a" stroke-width="0.9"/>
<path d="M582.2,30.9V35.5" stroke="#ff2a2a" stroke-width="0.9"/>
<path d="M586.0,30.9V35.5" stroke="#ff2a2a" stroke-width="0.9"/>
<path d="M626.9,30.9V35.5" stroke="#ff2a2a" stroke-width="0.9"/>
<path d="M637.0,30.9V35.5" stroke="#ff2a2a" stroke-width="0.9"/>
<path d="M480.2,33.2H495.8V87.3H507.4V114.3H523.1V141.2H540.6V195.4H540.6" fill="none" stroke="#f6b9cb" stroke-width="1.0" stroke-linejoin="miter"/>
<path d="M529.8,138.9V143.5" stroke="#f6b9cb" stroke-width="0.9"/>
<path d="M480.2,33.2H489.2V47.0H495.4V60.3H503.8V74.1H548.0V98.8H573.3" fill="none" stroke="#eba435" stroke-width="1.4" stroke-linejoin="miter"/>
<path d="M486.3,30.9V35.5" stroke="#eba435" stroke-width="0.9"/>
<path d="M520.8,71.8V76.4" stroke="#eba435" stroke-width="0.9"/>
<path d="M522.4,71.8V76.4" stroke="#eba435" stroke-width="0.9"/>
<path d="M525.7,71.8V76.4" stroke="#eba435" stroke-width="0.9"/>
<path d="M529.0,71.8V76.4" stroke="#eba435" stroke-width="0.9"/>
<path d="M552.6,96.5V101.1" stroke="#eba435" stroke-width="0.9"/>
<path d="M566.8,96.5V101.1" stroke="#eba435" stroke-width="0.9"/>
<path d="M570.0,96.5V101.1" stroke="#eba435" stroke-width="0.9"/>
<path d="M571.7,96.5V101.1" stroke="#eba435" stroke-width="0.9"/>
<path d="M480.2,33.2H488.5V45.2H496.4V56.6H518.6V69.5H548.7V90.6H630.8" fill="none" stroke="#a82e2e" stroke-width="1.4" stroke-linejoin="miter"/>
<path d="M518.4,54.3V58.9" stroke="#a82e2e" stroke-width="0.9"/>
<path d="M538.8,67.2V71.8" stroke="#a82e2e" stroke-width="0.9"/>
<path d="M541.5,67.2V71.8" stroke="#a82e2e" stroke-width="0.9"/>
<path d="M553.6,88.3V92.9" stroke="#a82e2e" stroke-width="0.9"/>
<path d="M571.7,88.3V92.9" stroke="#a82e2e" stroke-width="0.9"/>
<path d="M576.6,88.3V92.9" stroke="#a82e2e" stroke-width="0.9"/>
<path d="M588.1,88.3V92.9" stroke="#a82e2e" stroke-width="0.9"/>
<path d="M630.8,88.3V92.9" stroke="#a82e2e" stroke-width="0.9"/>
<path d="M553.6,46.0H572.5" stroke="#ff1f1f" stroke-width="3.6"/>
<text x="575.9" y="49.6" font-size="10.2" text-anchor="start" fill="#1a1a1a" textLength="104.02" lengthAdjust="spacingAndGlyphs">IN CD8 high CD163 low</text>
<path d="M553.6,56.1H572.5" stroke="#f7d6e1" stroke-width="3.6"/>
<text x="575.9" y="59.8" font-size="10.2" text-anchor="start" fill="#1a1a1a" textLength="107.83" lengthAdjust="spacingAndGlyphs">IN CD8 high CD163 high</text>
<path d="M553.6,66.3H572.5" stroke="#a3282a" stroke-width="3.6"/>
<text x="575.9" y="69.9" font-size="10.2" text-anchor="start" fill="#1a1a1a" textLength="100.19" lengthAdjust="spacingAndGlyphs">IN CD8 low CD163 low</text>
<path d="M553.6,76.5H572.5" stroke="#eca636" stroke-width="3.6"/>
<text x="575.9" y="80.0" font-size="10.2" text-anchor="start" fill="#1a1a1a" textLength="104.02" lengthAdjust="spacingAndGlyphs">IN CD8 low CD163 high</text>
<text x="590.6" y="175.0" font-size="14.2" text-anchor="start" fill="#222" textLength="54.4" lengthAdjust="spacingAndGlyphs">p=0.0073</text>
<path d="M49.9,250.8H57.2V258.4H59.1V279.4H77.0V288.6H78.3V298.6H116.1V310.5H206.2" fill="none" stroke="#ff2a2a" stroke-width="1.6" stroke-linejoin="miter"/>
<path d="M95.9,296.3V300.9" stroke="#ff2a2a" stroke-width="0.9"/>
<path d="M99.3,296.3V300.9" stroke="#ff2a2a" stroke-width="0.9"/>
<path d="M116.1,308.2V312.8" stroke="#ff2a2a" stroke-width="0.9"/>
<path d="M128.2,308.2V312.8" stroke="#ff2a2a" stroke-width="0.9"/>
<path d="M141.8,308.2V312.8" stroke="#ff2a2a" stroke-width="0.9"/>
<path d="M152.3,308.2V312.8" stroke="#ff2a2a" stroke-width="0.9"/>
<path d="M157.5,308.2V312.8" stroke="#ff2a2a" stroke-width="0.9"/>
<path d="M158.8,308.2V312.8" stroke="#ff2a2a" stroke-width="0.9"/>
<path d="M197.0,308.2V312.8" stroke="#ff2a2a" stroke-width="0.9"/>
<path d="M201.0,308.2V312.8" stroke="#ff2a2a" stroke-width="0.9"/>
<path d="M204.9,308.2V312.8" stroke="#ff2a2a" stroke-width="0.9"/>
<path d="M49.9,250.8H53.8V260.5H58.3V271.5H61.7V280.7H65.1V301.3H73.5V311.8H78.3V321.8H88.0V332.0H92.4V342.0H110.3V352.5H127.4V372.3H165.0" fill="none" stroke="#f6b9cb" stroke-width="1.4" stroke-linejoin="miter"/>
<path d="M52.0,248.5V253.1" stroke="#f6b9cb" stroke-width="0.9"/>
<path d="M116.9,350.2V354.8" stroke="#f6b9cb" stroke-width="0.9"/>
<path d="M123.4,350.2V354.8" stroke="#f6b9cb" stroke-width="0.9"/>
<path d="M126.0,350.2V354.8" stroke="#f6b9cb" stroke-width="0.9"/>
<path d="M139.2,370.0V374.6" stroke="#f6b9cb" stroke-width="0.9"/>
<path d="M164.9,370.0V374.6" stroke="#f6b9cb" stroke-width="0.9"/>
<path d="M49.9,250.8H56.0V283.6H59.1V348.1H65.1V380.7H91.9" fill="none" stroke="#3f9a32" stroke-width="1.4" stroke-linejoin="miter"/>
<path d="M91.9,378.4V383.0" stroke="#3f9a32" stroke-width="0.9"/>
<path d="M49.9,250.8H64.3V291.2H88.5V332.2H186.5" fill="none" stroke="#eba435" stroke-width="1.4" stroke-linejoin="miter"/>
<path d="M128.2,329.9V334.5" stroke="#eba435" stroke-width="0.9"/>
<path d="M186.5,329.9V334.5" stroke="#eba435" stroke-width="0.9"/>
<path d="M141.8,246.7H159.7" stroke="#ff1f1f" stroke-width="3.6"/>
<text x="163.3" y="250.3" font-size="10.2" text-anchor="start" fill="#1a1a1a" textLength="53.38" lengthAdjust="spacingAndGlyphs">IN CD8 high</text>
<path d="M141.8,256.8H159.7" stroke="#f7d6e1" stroke-width="3.6"/>
<text x="163.3" y="260.4" font-size="10.2" text-anchor="start" fill="#1a1a1a" textLength="49.55" lengthAdjust="spacingAndGlyphs">IN CD8 low</text>
<path d="M141.8,267.0H159.7" stroke="#3c9a2e" stroke-width="3.6"/>
<text x="163.3" y="270.6" font-size="10.2" text-anchor="start" fill="#1a1a1a" textLength="9.27" lengthAdjust="spacingAndGlyphs">IE</text>
<path d="M141.8,277.1H159.7" stroke="#eca636" stroke-width="3.6"/>
<text x="163.3" y="280.8" font-size="10.2" text-anchor="start" fill="#1a1a1a" textLength="9.81" lengthAdjust="spacingAndGlyphs">ID</text>
<text x="171.7" y="391.9" font-size="14.2" text-anchor="start" fill="#222" textLength="46.4" lengthAdjust="spacingAndGlyphs">p=0.043</text>
<path d="M265.1,250.8H272.2V267.6H279.3V287.3H292.0V295.7H308.2V304.4H331.4V316.0H416.0" fill="none" stroke="#ff2a2a" stroke-width="1.6" stroke-linejoin="miter"/>
<path d="M310.0,302.1V306.7" stroke="#ff2a2a" stroke-width="0.9"/>
<path d="M326.6,302.1V306.7" stroke="#ff2a2a" stroke-width="0.9"/>
<path d="M333.2,313.7V318.3" stroke="#ff2a2a" stroke-width="0.9"/>
<path d="M342.4,313.7V318.3" stroke="#ff2a2a" stroke-width="0.9"/>
<path d="M343.7,313.7V318.3" stroke="#ff2a2a" stroke-width="0.9"/>
<path d="M356.8,313.7V318.3" stroke="#ff2a2a" stroke-width="0.9"/>
<path d="M367.3,313.7V318.3" stroke="#ff2a2a" stroke-width="0.9"/>
<path d="M372.6,313.7V318.3" stroke="#ff2a2a" stroke-width="0.9"/>
<path d="M373.9,313.7V318.3" stroke="#ff2a2a" stroke-width="0.9"/>
<path d="M416.0,313.7V318.3" stroke="#ff2a2a" stroke-width="0.9"/>
<path d="M265.1,250.8H268.8V260.5H274.0V276.8H288.5V296.5H293.8V313.5H303.0V323.3H325.5V332.7H342.4V346.5H421.2" fill="none" stroke="#f6b9cb" stroke-width="1.4" stroke-linejoin="miter"/>
<path d="M314.3,321.0V325.6" stroke="#f6b9cb" stroke-width="0.9"/>
<path d="M332.0,330.4V335.0" stroke="#f6b9cb" stroke-width="0.9"/>
<path d="M338.5,330.4V335.0" stroke="#f6b9cb" stroke-width="0.9"/>
<path d="M352.9,344.2V348.8" stroke="#f6b9cb" stroke-width="0.9"/>
<path d="M354.7,344.2V348.8" stroke="#f6b9cb" stroke-width="0.9"/>
<path d="M379.2,344.2V348.8" stroke="#f6b9cb" stroke-width="0.9"/>
<path d="M412.0,344.2V348.8" stroke="#f6b9cb" stroke-width="0.9"/>
<path d="M420.4,344.2V348.8" stroke="#f6b9cb" stroke-width="0.9"/>
<path d="M265.1,250.8H270.7V278.6H274.1V332.3H280.1V359.1H297.7V386.2H306.9" fill="none" stroke="#3f9a32" stroke-width="1.4" stroke-linejoin="miter"/>
<path d="M306.9,383.9V388.5" stroke="#3f9a32" stroke-width="0.9"/>
<path d="M265.1,250.8H280.1V291.2H303.5V332.2H401.5" fill="none" stroke="#eba435" stroke-width="1.4" stroke-linejoin="miter"/>
<path d="M343.7,329.9V334.5" stroke="#eba435" stroke-width="0.9"/>
<path d="M401.5,329.9V334.5" stroke="#eba435" stroke-width="0.9"/>
<path d="M349.0,246.7H366.8" stroke="#ff1f1f" stroke-width="3.6"/>
<text x="370.5" y="250.3" font-size="10.2" text-anchor="start" fill="#1a1a1a" textLength="64.27" lengthAdjust="spacingAndGlyphs">IN CD163 high</text>
<path d="M349.0,256.8H366.8" stroke="#f7d6e1" stroke-width="3.6"/>
<text x="370.5" y="260.4" font-size="10.2" text-anchor="start" fill="#1a1a1a" textLength="60.44" lengthAdjust="spacingAndGlyphs">IN CD163 low</text>
<path d="M349.0,267.0H366.8" stroke="#3c9a2e" stroke-width="3.6"/>
<text x="370.5" y="270.6" font-size="10.2" text-anchor="start" fill="#1a1a1a" textLength="9.27" lengthAdjust="spacingAndGlyphs">IE</text>
<path d="M349.0,277.1H366.8" stroke="#eca636" stroke-width="3.6"/>
<text x="370.5" y="280.8" font-size="10.2" text-anchor="start" fill="#1a1a1a" textLength="9.81" lengthAdjust="spacingAndGlyphs">ID</text>
<text x="389.6" y="391.9" font-size="14.2" text-anchor="start" fill="#222" textLength="46.6" lengthAdjust="spacingAndGlyphs">p=0.067</text>
<path d="M480.2,250.8H488.7V283.3H508.6V316.0H636.8" fill="none" stroke="#ff2a2a" stroke-width="1.6" stroke-linejoin="miter"/>
<path d="M529.5,313.7V318.3" stroke="#ff2a2a" stroke-width="0.9"/>
<path d="M627.5,313.7V318.3" stroke="#ff2a2a" stroke-width="0.9"/>
<path d="M635.0,313.7V318.3" stroke="#ff2a2a" stroke-width="0.9"/>
<path d="M480.2,250.8H492.4V291.5H494.8V332.4H523.5V372.1H556.6" fill="none" stroke="#f6b9cb" stroke-width="1.0" stroke-linejoin="miter"/>
<path d="M556.0,369.8V374.4" stroke="#f6b9cb" stroke-width="0.9"/>
<path d="M480.2,250.8H488.8V278.3H507.6V291.5H546.6V306.4H631.2" fill="none" stroke="#a82e2e" stroke-width="1.4" stroke-linejoin="miter"/>
<path d="M526.4,289.2V293.8" stroke="#a82e2e" stroke-width="0.9"/>
<path d="M559.0,304.1V308.7" stroke="#a82e2e" stroke-width="0.9"/>
<path d="M572.1,304.1V308.7" stroke="#a82e2e" stroke-width="0.9"/>
<path d="M583.3,304.1V308.7" stroke="#a82e2e" stroke-width="0.9"/>
<path d="M588.6,304.1V308.7" stroke="#a82e2e" stroke-width="0.9"/>
<path d="M590.2,304.1V308.7" stroke="#a82e2e" stroke-width="0.9"/>
<path d="M630.6,304.1V308.7" stroke="#a82e2e" stroke-width="0.9"/>
<path d="M480.2,250.8H484.1V264.5H488.9V278.3H495.7V291.5H503.6V305.5H508.6V318.2H518.5V332.4H540.4V345.7H557.5V367.8H595.4" fill="none" stroke="#eba435" stroke-width="1.4" stroke-linejoin="miter"/>
<path d="M546.6,343.4V348.0" stroke="#eba435" stroke-width="0.9"/>
<path d="M553.5,343.4V348.0" stroke="#eba435" stroke-width="0.9"/>
<path d="M569.3,365.5V370.1" stroke="#eba435" stroke-width="0.9"/>
<path d="M595.0,365.5V370.1" stroke="#eba435" stroke-width="0.9"/>
<path d="M554.4,246.4H572.1" stroke="#ff1f1f" stroke-width="3.6"/>
<text x="575.5" y="250.0" font-size="10.2" text-anchor="start" fill="#1a1a1a" textLength="104.02" lengthAdjust="spacingAndGlyphs">IN CD8 high CD163 low</text>
<path d="M554.4,256.6H572.1" stroke="#f7d6e1" stroke-width="3.6"/>
<text x="575.5" y="260.2" font-size="10.2" text-anchor="start" fill="#1a1a1a" textLength="107.83" lengthAdjust="spacingAndGlyphs">IN CD8 high CD163 high</text>
<path d="M554.4,266.7H572.1" stroke="#a3282a" stroke-width="3.6"/>
<text x="575.5" y="270.3" font-size="10.2" text-anchor="start" fill="#1a1a1a" textLength="100.19" lengthAdjust="spacingAndGlyphs">IN CD8 low CD163 low</text>
<path d="M554.4,276.9H572.1" stroke="#eca636" stroke-width="3.6"/>
<text x="575.5" y="280.5" font-size="10.2" text-anchor="start" fill="#1a1a1a" textLength="104.02" lengthAdjust="spacingAndGlyphs">IN CD8 low CD163 high</text>
<text x="605.7" y="391.9" font-size="14.2" text-anchor="start" fill="#222" textLength="39.2" lengthAdjust="spacingAndGlyphs">p=0.35</text>
<text x="11.7" y="462.9" font-size="16.5" text-anchor="start" fill="#111" textLength="8.3" lengthAdjust="spacingAndGlyphs">b</text>
<text transform="translate(19.9,515.0) rotate(-90)" font-size="15.4" font-weight="bold" stroke="#0a0a0a" stroke-width="0.35" text-anchor="middle" fill="#0a0a0a" textLength="29.8" lengthAdjust="spacingAndGlyphs">H&amp;E</text>
<text transform="translate(19.9,633.0) rotate(-90)" font-size="15.4" font-weight="bold" stroke="#0a0a0a" stroke-width="0.35" text-anchor="middle" fill="#0a0a0a" textLength="28.3" lengthAdjust="spacingAndGlyphs">CD8</text>
<text transform="translate(19.9,751.4) rotate(-90)" font-size="15.4" font-weight="bold" stroke="#0a0a0a" stroke-width="0.35" text-anchor="middle" fill="#0a0a0a" textLength="46.9" lengthAdjust="spacingAndGlyphs">CD163</text>
<rect x="34.6" y="461.0" width="178.3" height="117.6" fill="#f8f8f9"/>
<rect x="34.6" y="578.9" width="178.3" height="118.2" fill="#f8f8f9"/>
<rect x="34.6" y="697.1" width="178.3" height="118.1" fill="#f8f8f9"/>
<g filter="url(#rag)">
<path d="M56.0,466.6C57.6,465.6 60.9,465.7 63.4,465.6C65.8,465.5 67.3,465.7 70.7,465.9C74.1,466.1 80.7,465.1 83.9,466.6C87.1,468.1 87.6,472.1 89.8,474.7C92.0,477.3 94.6,479.8 97.1,482.0C99.5,484.2 102.3,485.7 104.5,487.9C106.7,490.1 109.2,492.8 110.4,495.2C111.6,497.6 111.8,500.4 111.8,502.6C111.8,504.8 110.2,506.6 110.4,508.5C110.7,510.4 112.3,511.6 113.3,514.3C114.3,517.0 115.3,520.9 116.2,524.6C117.1,528.3 117.8,532.5 118.4,536.4C119.0,540.3 119.8,544.7 119.9,548.1C120.0,551.5 119.8,554.5 119.2,556.9C118.6,559.3 117.7,560.8 116.2,562.8C114.7,564.8 112.1,566.5 110.4,568.7C108.7,570.9 108.0,574.8 106.0,576.0C104.0,577.2 100.3,577.0 98.6,576.0C96.9,575.0 97.7,571.8 95.7,570.1C93.8,568.4 89.8,566.9 86.9,565.7C84.0,564.5 81.0,564.5 78.1,562.8C75.1,561.1 72.2,557.8 69.2,555.4C66.2,553.0 63.1,550.8 60.4,548.1C57.7,545.4 55.5,542.2 53.1,539.3C50.7,536.4 47.9,533.4 45.7,530.5C43.5,527.6 40.8,525.4 39.9,521.7C39.0,518.0 39.9,512.7 40.6,508.5C41.3,504.3 42.7,499.9 44.3,496.7C45.9,493.5 49.0,492.3 50.2,489.4C51.4,486.5 51.0,482.1 51.6,479.1C52.2,476.2 53.1,473.8 53.8,471.7C54.5,469.6 54.4,467.6 56.0,466.6Z" fill="#d7afd4"/>
<g clip-path="url(#co1)">
<rect x="34.6" y="460" width="180" height="120" filter="url(#nhe3)"/>
<rect x="34.6" y="460" width="180" height="120" filter="url(#nhe2)"/>
<path d="M52.0,486.0C52.8,482.0 52.7,476.9 54.0,474.0C55.3,471.1 57.2,469.6 60.0,468.5C62.8,467.4 66.7,467.4 70.7,467.5C74.7,467.6 80.8,467.6 84.0,469.0C87.2,470.4 87.8,473.7 90.0,476.0C92.2,478.3 94.6,480.8 97.0,483.0C99.4,485.2 102.3,486.8 104.5,489.0C106.7,491.2 108.9,493.3 110.0,496.0C111.1,498.7 110.5,501.8 111.0,505.0C111.5,508.2 112.1,511.5 113.0,515.0C113.9,518.5 115.6,522.2 116.5,526.0C117.4,529.8 118.0,534.0 118.5,538.0C119.0,542.0 119.8,546.7 119.5,550.0C119.2,553.3 118.5,556.2 117.0,558.0C115.5,559.8 114.0,560.3 110.4,561.0C106.9,561.7 100.4,563.3 95.7,562.0C91.0,560.7 86.2,556.9 82.5,553.0C78.8,549.1 76.8,543.0 73.6,538.4C70.4,533.8 66.8,529.4 63.4,525.1C60.0,520.8 55.5,516.9 53.1,512.4C50.7,507.9 49.4,502.6 49.2,498.2C49.0,493.8 51.2,490.0 52.0,486.0Z" fill="#bc9ec9" filter="url(#soft)"/>
<g clip-path="url(#ci1)">
<rect x="34.6" y="460" width="180" height="120" filter="url(#nhe1)"/>
</g>
</g></g>
<g filter="url(#rag)">
<path d="M143.4,471.0C145.7,470.8 150.9,472.0 155.1,473.2C159.2,474.4 164.6,476.4 168.3,478.4C172.0,480.4 174.4,482.4 177.1,485.0C179.8,487.6 183.0,490.9 184.5,493.8C186.0,496.7 187.2,500.7 186.0,502.6C184.8,504.6 179.5,504.0 177.1,505.5C174.7,507.0 172.4,509.2 171.3,511.4C170.2,513.6 170.0,516.6 170.5,518.8C171.0,521.0 172.1,523.0 174.2,524.6C176.3,526.2 179.3,526.8 183.0,528.3C186.7,529.8 192.3,532.3 196.2,533.4C200.1,534.5 204.2,532.9 206.5,534.9C208.8,536.9 209.9,542.0 210.2,545.2C210.4,548.4 209.3,551.5 208.0,554.0C206.7,556.5 204.5,559.4 202.1,559.9C199.7,560.4 196.2,558.0 193.3,557.0C190.4,556.0 187.4,554.2 184.5,554.0C181.6,553.8 178.9,555.0 175.7,555.5C172.5,556.0 168.6,556.5 165.4,557.0C162.2,557.5 159.5,558.6 156.6,558.4C153.7,558.1 150.2,557.0 147.8,555.5C145.4,554.0 144.4,551.3 141.9,549.6C139.4,547.9 135.3,547.4 133.1,545.2C130.9,543.0 129.4,538.9 128.7,536.4C128.0,533.9 127.6,532.2 128.7,530.5C129.8,528.8 134.1,528.6 135.3,526.1C136.5,523.6 136.1,519.5 136.0,515.8C135.9,512.1 134.6,507.8 134.6,504.1C134.6,500.4 135.5,497.5 136.0,493.8C136.5,490.1 136.6,485.2 137.5,482.0C138.4,478.8 140.2,476.5 141.2,474.7C142.2,472.9 141.1,471.2 143.4,471.0Z" fill="#d7b0d5"/>
<g clip-path="url(#co2)">
<rect x="34.6" y="460" width="180" height="120" filter="url(#nhe3)"/>
<rect x="34.6" y="460" width="180" height="120" filter="url(#nhe2)"/>
<path d="M145.0,478.0C147.8,475.8 153.8,476.3 158.0,477.0C162.2,477.7 166.3,479.8 170.0,482.0C173.7,484.2 177.8,487.0 180.0,490.0C182.2,493.0 184.0,497.5 183.0,500.0C182.0,502.5 176.5,503.0 174.0,505.0C171.5,507.0 169.0,509.5 168.0,512.0C167.0,514.5 167.0,517.5 168.0,520.0C169.0,522.5 171.2,525.2 174.0,527.0C176.8,528.8 181.0,529.7 185.0,531.0C189.0,532.3 194.2,533.5 198.0,535.0C201.8,536.5 206.5,537.2 208.0,540.0C209.5,542.8 208.3,549.2 207.0,552.0C205.7,554.8 203.7,557.0 200.0,557.0C196.3,557.0 190.0,552.7 185.0,552.0C180.0,551.3 175.0,552.7 170.0,553.0C165.0,553.3 159.0,554.8 155.0,554.0C151.0,553.2 148.0,552.0 146.0,548.0C144.0,544.0 143.7,536.3 143.0,530.0C142.3,523.7 142.3,516.7 142.0,510.0C141.7,503.3 140.5,495.3 141.0,490.0C141.5,484.7 142.2,480.2 145.0,478.0Z" fill="#bda0ca" filter="url(#soft)"/>
<g clip-path="url(#ci2)">
<rect x="34.6" y="460" width="180" height="120" filter="url(#nhe1)"/>
</g>
<path d="M176,536L208,538" stroke="#7f62a8" stroke-width="1.8" opacity="0.8" filter="url(#soft2)"/><path d="M130,532Q133,540 138,548L134,546Q129,540 129.5,533Z" fill="#d89ab8" opacity="0.7" filter="url(#soft2)"/>
</g></g>
<path d="M121.5,492.0C122.1,490.8 124.4,489.9 126.0,489.5C127.6,489.1 129.6,489.4 131.0,489.8C132.4,490.2 134.2,490.9 134.5,492.0C134.8,493.1 134.2,495.5 133.0,496.5C131.8,497.5 128.8,498.0 127.0,498.0C125.2,498.0 123.4,497.5 122.5,496.5C121.6,495.5 120.9,493.2 121.5,492.0Z" fill="#d9c4dd"/>
<g filter="url(#rag)">
<path d="M60.4,581.7C63.1,580.6 69.2,580.2 73.6,580.2C78.0,580.2 83.7,579.1 86.9,581.7C90.1,584.3 90.3,592.1 92.7,595.6C95.1,599.1 98.5,600.5 101.5,603.0C104.5,605.5 108.0,607.8 110.4,610.3C112.9,612.8 115.7,615.0 116.2,617.7C116.7,620.4 113.5,623.3 113.3,626.5C113.1,629.7 114.1,633.1 114.8,636.8C115.5,640.5 116.7,644.1 117.7,648.5C118.7,652.9 120.1,658.3 120.6,663.2C121.1,668.1 121.0,673.5 120.6,677.9C120.2,682.3 119.1,686.9 118.4,689.6C117.7,692.3 118.0,693.8 116.2,694.0C114.4,694.2 110.3,691.8 107.4,691.1C104.5,690.4 101.5,690.6 98.6,689.6C95.7,688.6 93.2,686.7 89.8,685.2C86.4,683.7 81.8,683.0 78.1,680.8C74.4,678.6 71.0,674.9 67.8,672.0C64.6,669.1 61.9,666.6 59.0,663.2C56.1,659.8 52.9,654.8 50.2,651.4C47.5,648.0 44.5,645.5 42.8,642.6C41.1,639.7 39.6,637.2 39.9,633.8C40.1,630.4 43.1,625.8 44.3,622.1C45.5,618.4 45.5,615.0 47.2,611.8C48.9,608.6 53.1,605.9 54.6,603.0C56.1,600.1 55.5,596.9 56.0,594.2C56.5,591.5 56.8,588.9 57.5,586.8C58.2,584.7 57.7,582.8 60.4,581.7Z" fill="#eae7e7"/>
<g clip-path="url(#co3)">
<rect x="34.6" y="578" width="180" height="120" filter="url(#n83)"/>
<path d="M56.0,594.0C57.2,590.7 59.0,586.0 62.0,584.0C65.0,582.0 70.0,582.1 74.0,582.0C78.0,581.9 83.0,581.2 86.0,583.5C89.0,585.8 89.5,592.6 92.0,596.0C94.5,599.4 97.9,601.2 101.0,604.0C104.1,606.8 108.4,608.5 110.4,612.7C112.5,616.9 112.1,623.4 113.3,629.4C114.5,635.4 116.5,642.4 117.7,648.5C118.9,654.6 120.8,660.7 120.6,666.1C120.3,671.5 119.6,678.6 116.2,680.8C112.8,683.0 105.2,680.4 100.1,679.4C95.0,678.4 89.6,677.7 85.4,675.0C81.2,672.3 78.5,667.6 75.1,663.2C71.7,658.8 68.0,653.4 64.8,648.5C61.6,643.6 57.9,638.9 56.0,633.8C54.1,628.7 53.9,622.7 53.6,617.7C53.4,612.7 54.1,608.0 54.5,604.0C54.9,600.0 54.8,597.3 56.0,594.0Z" fill="#d8d0ce" filter="url(#soft)"/>
<g clip-path="url(#ci3)">
<rect x="34.6" y="578" width="180" height="120" filter="url(#n81)"/>
<rect x="34.6" y="578" width="180" height="120" filter="url(#n82)"/>
<rect x="34.6" y="578" width="180" height="120" filter="url(#n83)"/>
</g>
</g></g>
<g filter="url(#rag)">
<path d="M144.8,601.5C147.5,598.5 151.7,597.2 155.1,595.6C158.5,594.0 161.5,593.0 165.4,592.0C169.3,591.0 176.7,588.9 178.6,589.8C180.5,590.6 178.1,595.1 177.1,597.1C176.1,599.1 172.4,599.3 172.7,601.5C172.9,603.7 176.1,608.1 178.6,610.3C181.1,612.5 185.3,612.7 187.4,614.7C189.5,616.7 190.6,619.4 191.1,622.1C191.6,624.8 192.2,629.2 190.4,630.9C188.6,632.6 182.6,631.1 180.1,632.3C177.6,633.5 176.2,635.5 175.7,638.2C175.2,640.9 174.4,645.8 177.1,648.5C179.8,651.2 187.2,653.9 191.8,654.4C196.5,654.9 202.3,650.9 205.0,651.4C207.7,651.9 207.5,654.6 208.0,657.3C208.5,660.0 209.0,664.9 208.0,667.6C207.0,670.3 204.5,672.8 202.1,673.5C199.7,674.2 196.7,672.0 193.3,672.0C189.9,672.0 184.9,673.0 181.5,673.5C178.1,674.0 176.1,674.0 172.7,675.0C169.3,676.0 165.2,678.7 161.0,679.4C156.8,680.1 151.2,680.6 147.8,679.4C144.4,678.2 143.1,674.7 140.4,672.0C137.7,669.3 133.3,666.4 131.6,663.2C129.9,660.0 129.5,655.6 130.2,652.9C130.9,650.2 134.8,649.7 136.0,647.0C137.2,644.3 137.5,640.5 137.5,636.8C137.5,633.1 135.8,628.9 136.0,625.0C136.2,621.1 137.5,617.2 139.0,613.3C140.5,609.4 142.1,604.5 144.8,601.5Z" fill="#eae7e8"/>
<g clip-path="url(#co4)">
<rect x="34.6" y="578" width="180" height="120" filter="url(#n83)"/>
<path d="M144.8,616.2C147.2,613.5 152.8,614.0 158.0,613.3C163.2,612.6 170.5,611.3 175.7,611.8C180.8,612.3 186.4,613.0 188.9,616.2C191.4,619.4 192.1,628.0 190.4,630.9C188.7,633.8 181.1,631.6 178.6,633.8C176.1,636.0 175.4,640.7 175.7,644.1C175.9,647.5 180.1,651.7 180.1,654.4C180.1,657.1 176.9,657.4 175.7,660.3C174.5,663.2 175.6,670.0 172.7,672.0C169.8,674.0 161.4,674.0 158.0,672.0C154.6,670.0 153.9,664.9 152.2,660.3C150.5,655.6 149.3,649.2 147.8,644.1C146.3,639.0 143.9,634.0 143.4,629.4C142.9,624.8 142.4,618.9 144.8,616.2Z" fill="#d8d0ce" filter="url(#soft)"/>
<g clip-path="url(#ci4)">
<rect x="34.6" y="578" width="180" height="120" filter="url(#n81)"/>
<rect x="34.6" y="578" width="180" height="120" filter="url(#n82)"/>
<rect x="34.6" y="578" width="180" height="120" filter="url(#n83)"/>
</g>
<defs><linearGradient id="g8s" x1="0" y1="0" x2="1" y2="0"><stop offset="0" stop-color="#c9bcc4" stop-opacity="0"/><stop offset="0.4" stop-color="#b8a4b0" stop-opacity="0.45"/><stop offset="0.8" stop-color="#9a8098" stop-opacity="0.7"/><stop offset="1" stop-color="#6e4f78" stop-opacity="0.95"/></linearGradient></defs><path d="M158.0,657.0C159.5,655.8 168.8,655.8 175.0,655.0C181.2,654.2 190.0,653.2 195.0,652.5C200.0,651.8 202.8,650.2 205.0,650.5C207.2,650.8 208.0,652.4 208.0,654.0C208.0,655.6 207.0,658.3 205.0,660.0C203.0,661.7 200.2,663.2 196.0,664.0C191.8,664.8 185.0,665.3 180.0,665.0C175.0,664.7 169.7,663.3 166.0,662.0C162.3,660.7 156.5,658.2 158.0,657.0Z" fill="url(#g8s)" filter="url(#soft2)"/><path d="M156,606Q160,601 168,602T179,611" fill="none" stroke="#6e5a6a" stroke-width="0.7"/><path d="M157,606Q165,604 178,611L176,613Q168,608 158,609Z" fill="#f4f3f4"/>
</g></g>
<path d="M127.5,609.0C128.4,608.1 131.2,607.4 133.0,607.5C134.8,607.6 137.7,608.2 138.5,609.5C139.3,610.8 139.2,613.9 138.0,615.0C136.8,616.1 132.8,616.3 131.0,616.0C129.2,615.7 128.1,614.2 127.5,613.0C126.9,611.8 126.6,609.9 127.5,609.0Z" fill="#e6e5ea"/>
<g filter="url(#rag)">
<path d="M60.4,710.2C62.6,708.2 64.8,707.0 67.8,705.8C70.8,704.6 75.6,701.9 78.1,702.9C80.5,703.9 80.1,708.8 82.5,711.7C84.9,714.6 89.3,717.8 92.7,720.5C96.1,723.2 99.6,725.3 103.0,727.8C106.4,730.2 111.6,732.2 113.3,735.2C115.0,738.2 112.8,742.1 113.3,745.5C113.8,748.9 115.2,752.1 116.2,755.8C117.2,759.5 118.2,763.1 119.2,767.5C120.2,771.9 121.9,777.8 122.1,782.2C122.3,786.6 121.6,790.6 120.6,794.0C119.6,797.4 117.9,800.1 116.2,802.8C114.5,805.5 112.6,808.4 110.4,810.1C108.2,811.8 105.2,813.2 103.0,813.0C100.8,812.8 98.3,810.3 97.1,808.6C95.9,806.9 97.7,804.3 95.7,802.8C93.8,801.3 88.6,800.8 85.4,799.8C82.2,798.8 79.8,798.8 76.6,796.9C73.4,795.0 69.5,791.0 66.3,788.1C63.1,785.2 60.4,782.7 57.5,779.3C54.6,775.9 51.4,771.4 48.7,767.5C46.0,763.6 42.8,759.0 41.3,755.8C39.8,752.6 39.4,751.8 39.9,748.4C40.4,745.0 42.6,738.9 44.3,735.2C46.0,731.5 48.5,729.3 50.2,726.4C51.9,723.5 52.9,720.3 54.6,717.6C56.3,714.9 58.2,712.2 60.4,710.2Z" fill="#ebe9ed"/>
<g clip-path="url(#co5)">
<rect x="34.6" y="697" width="180" height="120" filter="url(#n83)"/>
<path d="M56.0,716.1C58.9,712.4 66.3,709.3 70.7,708.8C75.1,708.3 77.6,710.3 82.5,713.2C87.4,716.1 95.2,722.2 100.1,726.4C105.0,730.5 109.6,733.7 111.8,738.1C114.0,742.5 111.8,746.9 113.3,752.8C114.8,758.7 119.4,766.8 120.6,773.4C121.8,780.0 122.3,788.6 120.6,792.5C118.9,796.4 115.1,796.4 110.4,796.9C105.8,797.4 97.6,796.1 92.7,795.4C87.8,794.7 83.9,795.4 81.0,792.5C78.1,789.6 78.0,783.2 75.1,777.8C72.2,772.4 66.8,765.6 63.4,760.2C60.0,754.8 56.3,750.4 54.6,745.5C52.9,740.6 52.9,735.7 53.1,730.8C53.3,725.9 53.1,719.8 56.0,716.1Z" fill="#d6d0d8" filter="url(#soft)"/>
<g clip-path="url(#ci5)">
<rect x="34.6" y="697" width="180" height="120" filter="url(#n11)"/>
<rect x="34.6" y="697" width="180" height="120" filter="url(#n12)"/>
<rect x="34.6" y="697" width="180" height="120" filter="url(#n83)"/>
</g>
<path d="M55,717Q62,708 72,705" stroke="#6a4a62" stroke-width="1.8" fill="none" filter="url(#soft2)"/>
</g></g>
<g filter="url(#rag)">
<path d="M141.9,720.5C143.8,718.0 149.0,719.1 150.7,717.6C152.4,716.1 151.2,712.8 152.2,711.7C153.2,710.6 155.6,709.0 156.6,711.0C157.6,713.0 156.5,721.2 158.0,723.4C159.5,725.6 162.0,724.3 165.4,724.2C168.8,724.1 175.7,722.3 178.6,722.7C181.5,723.1 181.0,724.1 183.0,726.4C185.0,728.7 189.7,733.8 190.4,736.7C191.1,739.6 189.4,742.0 187.4,744.0C185.4,746.0 180.3,746.4 178.6,748.4C176.9,750.4 176.6,753.1 177.1,755.8C177.6,758.5 180.8,760.7 181.5,764.6C182.2,768.5 180.8,775.9 181.5,779.3C182.2,782.7 183.6,783.9 186.0,785.1C188.4,786.3 193.0,786.4 196.2,786.6C199.4,786.9 203.5,785.6 205.0,786.6C206.5,787.6 206.5,791.0 205.0,792.5C203.5,794.0 199.6,795.4 196.2,795.4C192.8,795.4 188.4,793.0 184.5,792.5C180.6,792.0 177.1,792.0 172.7,792.5C168.3,793.0 162.2,794.7 158.0,795.4C153.8,796.1 150.2,797.6 147.8,796.9C145.4,796.2 145.9,793.9 143.4,791.0C140.9,788.1 135.3,783.0 133.1,779.3C130.9,775.6 129.7,771.5 130.2,769.0C130.7,766.5 134.5,766.8 136.0,764.6C137.5,762.4 138.8,759.2 139.0,755.8C139.2,752.4 137.5,747.9 137.5,744.0C137.5,740.1 138.3,736.2 139.0,732.3C139.7,728.4 140.0,723.0 141.9,720.5Z" fill="#ebe9ed"/>
<g clip-path="url(#co6)">
<rect x="34.6" y="697" width="180" height="120" filter="url(#n83)"/>
<path d="M143.4,729.3C145.8,727.1 152.1,725.8 158.0,724.9C163.9,724.0 173.4,722.2 178.6,724.2C183.8,726.2 187.7,733.4 188.9,736.7C190.1,740.0 187.7,742.0 186.0,744.0C184.3,746.0 180.1,746.2 178.6,748.4C177.1,750.6 176.6,754.5 177.1,757.2C177.6,759.9 180.8,760.9 181.5,764.6C182.2,768.3 182.5,775.4 181.5,779.3C180.5,783.2 178.6,786.9 175.7,788.1C172.8,789.3 167.6,788.1 163.9,786.6C160.2,785.1 155.8,783.0 153.6,779.3C151.4,775.6 152.2,769.5 150.7,764.6C149.2,759.7 146.0,754.3 144.8,749.9C143.6,745.5 143.6,741.5 143.4,738.1C143.2,734.7 141.0,731.5 143.4,729.3Z" fill="#d6d0d8" filter="url(#soft)"/>
<g clip-path="url(#ci6)">
<rect x="34.6" y="697" width="180" height="120" filter="url(#n11)"/>
<rect x="34.6" y="697" width="180" height="120" filter="url(#n12)"/>
<rect x="34.6" y="697" width="180" height="120" filter="url(#n83)"/>
</g>
<path d="M155.5,728.5Q167,722 181,723.5" stroke="#5a3050" stroke-width="2.6" fill="none" filter="url(#soft2)"/><ellipse cx="155" cy="714.5" rx="1.8" ry="3.2" fill="#4e2a50" filter="url(#soft2)"/><circle cx="186" cy="736.7" r="1.3" fill="#5a3050"/><path d="M173,788Q185,786 199,788" stroke="#7a5a70" stroke-width="1.6" fill="none" opacity="0.6" filter="url(#soft)"/>
</g></g>
<path d="M126.0,724.0C127.0,722.6 130.2,721.7 132.0,721.5C133.8,721.3 136.1,721.6 137.0,723.0C137.9,724.4 138.5,728.2 137.5,730.0C136.5,731.8 132.9,733.5 131.0,733.5C129.1,733.5 126.8,731.6 126.0,730.0C125.2,728.4 125.0,725.4 126.0,724.0Z" fill="#ececef"/>
<rect x="34.6" y="461.0" width="178.3" height="117.6" fill="none" stroke="#93a3c9" stroke-width="1.4"/>
<rect x="34.6" y="578.9" width="178.3" height="118.2" fill="none" stroke="#93a3c9" stroke-width="1.4"/>
<rect x="34.6" y="697.1" width="178.3" height="118.1" fill="none" stroke="#93a3c9" stroke-width="1.4"/>
<path d="M176,571.7H182.2" stroke="#a8a8a8" stroke-width="2"/>
<text x="183.5" y="574.0" font-size="7.0" text-anchor="start" fill="#2a2a2a" textLength="13.5" lengthAdjust="spacingAndGlyphs">5mm</text>
<path d="M176,690.2H182.2" stroke="#a8a8a8" stroke-width="2"/>
<text x="183.5" y="692.5" font-size="7.0" text-anchor="start" fill="#2a2a2a" textLength="13.5" lengthAdjust="spacingAndGlyphs">5mm</text>
<path d="M176,808.7H182.2" stroke="#a8a8a8" stroke-width="2"/>
<text x="183.5" y="811.0" font-size="7.0" text-anchor="start" fill="#2a2a2a" textLength="13.5" lengthAdjust="spacingAndGlyphs">5mm</text>
<rect x="242.1" y="490.8" width="50.8" height="66.4" fill="#c6b0d6"/>
<g clip-path="url(#rc7)">
<rect x="242.1" y="490.8" width="50.8" height="66.4" filter="url(#rhe2)"/>
<rect x="242.1" y="490.8" width="50.8" height="66.4" filter="url(#rhe1)"/>
</g>
<rect x="242.1" y="603.0" width="50.6" height="70.1" fill="#d9d5dd"/>
<g clip-path="url(#rc8)">
<rect x="242.1" y="603.0" width="50.6" height="70.1" filter="url(#r82)"/>
<rect x="242.1" y="603.0" width="50.6" height="70.1" filter="url(#r81)"/>
<rect x="242.1" y="603.0" width="50.6" height="70.1" filter="url(#r12)"/>
</g>
<rect x="243.2" y="719.3" width="48.7" height="73.4" fill="#d8d4de"/>
<g clip-path="url(#rc9)">
<rect x="243.2" y="719.3" width="48.7" height="73.4" filter="url(#r12)"/>
<rect x="243.2" y="719.3" width="48.7" height="73.4" filter="url(#r11)"/>
</g>
<path d="M272.8,490.8H292.9V516.3Q285,505 272.8,490.8Z" fill="#f7f7f8"/>
<path d="M278,603H292.7V625Q288,612 278,603Z" fill="#f3f3f5" opacity="0.55"/>
<path d="M274,719.3H291.9V744Q285,728 274,719.3Z" fill="#f3f3f5" opacity="0.75"/>
<path d="M244,761.5Q254,762 265,764.5" stroke="#6a5068" stroke-width="0.9" fill="none" opacity="0.8"/>
<rect x="242.1" y="490.8" width="50.8" height="66.4" fill="none" stroke="#8fa0c8" stroke-width="1.2"/>
<rect x="242.1" y="603.0" width="50.6" height="70.1" fill="none" stroke="#8fa0c8" stroke-width="1.2"/>
<rect x="243.2" y="719.3" width="48.7" height="73.4" fill="none" stroke="#8fa0c8" stroke-width="1.2"/>
<rect x="258.6" y="498.5" width="4.6" height="4.6" fill="none" stroke="#e83030" stroke-width="0.8"/>
<rect x="258.6" y="503.0" width="4.6" height="4.6" fill="none" stroke="#e83030" stroke-width="0.8"/>
<rect x="263.3" y="503.0" width="4.6" height="4.6" fill="none" stroke="#e83030" stroke-width="0.8"/>
<rect x="258.6" y="507.3" width="4.6" height="4.6" fill="none" stroke="#e83030" stroke-width="0.8"/>
<rect x="263.3" y="507.3" width="4.6" height="4.6" fill="none" stroke="#e83030" stroke-width="0.8"/>
<rect x="263.3" y="550.0" width="4.7" height="4.7" fill="none" stroke="#e83030" stroke-width="0.8"/>
<rect x="263.0" y="613.4" width="4.6" height="4.6" fill="none" stroke="#e83030" stroke-width="0.8"/>
<rect x="263.0" y="618.3" width="4.6" height="4.6" fill="none" stroke="#e83030" stroke-width="0.8"/>
<rect x="267.6" y="618.3" width="4.6" height="4.6" fill="none" stroke="#e83030" stroke-width="0.8"/>
<rect x="258.4" y="623.0" width="4.6" height="4.6" fill="none" stroke="#e83030" stroke-width="0.8"/>
<rect x="263.0" y="623.0" width="4.6" height="4.6" fill="none" stroke="#e83030" stroke-width="0.8"/>
<rect x="267.6" y="623.0" width="4.6" height="4.6" fill="none" stroke="#e83030" stroke-width="0.8"/>
<rect x="263.0" y="664.1" width="4.7" height="4.7" fill="none" stroke="#e83030" stroke-width="0.8"/>
<rect x="254.1" y="723.2" width="5.6" height="5.6" fill="none" stroke="#e83030" stroke-width="0.8"/>
<rect x="254.1" y="728.8" width="5.6" height="5.6" fill="none" stroke="#e83030" stroke-width="0.8"/>
<rect x="259.8" y="728.8" width="5.6" height="5.6" fill="none" stroke="#e83030" stroke-width="0.8"/>
<rect x="254.1" y="734.4" width="5.6" height="5.6" fill="none" stroke="#e83030" stroke-width="0.8"/>
<rect x="259.8" y="734.4" width="5.6" height="5.6" fill="none" stroke="#e83030" stroke-width="0.8"/>
<rect x="254.3" y="783.6" width="5.4" height="5.4" fill="none" stroke="#e83030" stroke-width="0.8"/>
<path d="M265.8,555.8H272.0" stroke="#c4c8c4" stroke-width="1.6"/>
<text x="273.6" y="557.0" font-size="7.2" text-anchor="start" fill="#1e1e1e" textLength="12.6" lengthAdjust="spacingAndGlyphs">1mm</text>
<path d="M265.5,671.0H271.7" stroke="#c4c8c4" stroke-width="1.6"/>
<text x="273.3" y="672.2" font-size="7.2" text-anchor="start" fill="#1e1e1e" textLength="12.6" lengthAdjust="spacingAndGlyphs">1mm</text>
<path d="M265.3,789.4H271.5" stroke="#c4c8c4" stroke-width="1.6"/>
<text x="273.1" y="790.6" font-size="7.2" text-anchor="start" fill="#1e1e1e" textLength="12.6" lengthAdjust="spacingAndGlyphs">1mm</text>
<g fill="#ef5b6b" opacity="0.7"><rect x="75.8" y="470.4" width="1.7" height="2.2"/><rect x="76.3" y="481.7" width="1.2" height="1.1"/><rect x="79.6" y="584.6" width="3" height="3.2" opacity="0.6"/><rect x="80.1" y="596.3" width="1.3" height="1.2"/><rect x="73.4" y="701.0" width="2.2" height="3.4" opacity="0.7"/><rect x="73.7" y="713.3" width="1.3" height="1.2"/></g>
<rect x="70.6" y="467.4" width="12.3" height="16.7" fill="none" stroke="#111" stroke-width="1.45"/>
<rect x="73.8" y="580.7" width="13.5" height="18.1" fill="none" stroke="#111" stroke-width="1.45"/>
<rect x="70.3" y="699.8" width="11.8" height="16.1" fill="none" stroke="#111" stroke-width="1.45"/>
<rect x="255.8" y="610.6" width="20.3" height="20.5" fill="none" stroke="#111" stroke-width="1.45"/>
<rect x="249.5" y="721.3" width="20.6" height="20.6" fill="none" stroke="#111" stroke-width="1.5"/>
<path d="M82.9,467.4L242.1,490.8" stroke="#111" stroke-width="1.1" stroke-dasharray="1.4,1.4"/>
<path d="M82.9,484.1L242.1,557.2" stroke="#111" stroke-width="1.1" stroke-dasharray="1.4,1.4"/>
<path d="M87.3,580.7L242.1,603.0" stroke="#111" stroke-width="1.1" stroke-dasharray="1.4,1.4"/>
<path d="M87.3,598.8L242.1,673.1" stroke="#111" stroke-width="1.1" stroke-dasharray="1.4,1.4"/>
<path d="M82.1,699.8L243.2,719.3" stroke="#111" stroke-width="1.1" stroke-dasharray="1.4,1.4"/>
<path d="M82.1,715.9L243.2,792.7" stroke="#111" stroke-width="1.1" stroke-dasharray="1.4,1.4"/>
<path d="M276.1,610.6L310.2,598.3" stroke="#111" stroke-width="1.1" stroke-dasharray="1.4,1.4"/>
<path d="M276.1,631.1L310.2,677.4" stroke="#111" stroke-width="1.1" stroke-dasharray="1.4,1.4"/>
<path d="M270.1,721.3L311.0,716.0" stroke="#111" stroke-width="1.1" stroke-dasharray="1.4,1.4"/>
<path d="M270.1,741.9L311.0,796.4" stroke="#111" stroke-width="1.1" stroke-dasharray="1.4,1.4"/>
<text x="236.0" y="472.6" font-size="12.8" font-weight="bold" stroke="#111" stroke-width="0.3" text-anchor="start" fill="#111" textLength="62.8" lengthAdjust="spacingAndGlyphs">Registered</text>
<text x="243.9" y="484.3" font-size="12.8" font-weight="bold" stroke="#111" stroke-width="0.3" text-anchor="start" fill="#111" textLength="47.1" lengthAdjust="spacingAndGlyphs">Regions</text>
<text x="399.8" y="590.7" font-size="12.6" font-weight="bold" stroke="#111" stroke-width="0.3" text-anchor="start" fill="#111" textLength="146.2" lengthAdjust="spacingAndGlyphs">Few Representative Tiles</text>
<svg x="310.2" y="598.2" width="78.9" height="79.1" viewBox="0 0 78.9 79.1" overflow="hidden">
<rect width="78.9" height="79.1" fill="#8d66a6"/>
<rect width="78.9" height="79.1" fill="url(#np44092)"/>
<g fill="none" stroke="#55204a" stroke-width="1.1" stroke-dasharray="1.2,0.8" opacity="0.6" stroke-linejoin="round"><path d="M41.4,27.0L38.9,27.8L36.3,28.2L33.8,28.9"/><path d="M48.9,3.5L46.7,2.1L45.5,-0.2L43.5,-1.9L41.5,-3.5L38.9,-3.9"/><path d="M69.1,69.3L71.5,68.3L73.7,66.8L76.3,66.5L78.8,65.9L80.7,64.2"/><path d="M24.8,57.0L26.6,55.1L27.6,52.7L29.1,50.6"/><path d="M17.1,36.3L15.7,34.1L15.2,31.5L13.5,29.6"/><path d="M9.1,26.8L7.0,25.4L4.4,24.9L1.8,25.2L-0.3,26.6"/><path d="M5.5,34.8L8.1,34.6L10.4,33.4L11.7,31.1"/><path d="M39.6,23.2L42.1,23.9L44.0,25.6L46.1,27.3L48.5,28.2L50.4,29.9"/><path d="M15.3,49.6L12.7,49.1L10.2,49.7L7.8,50.9"/><path d="M41.4,29.2L38.9,29.9L36.3,29.8L33.8,29.2"/><path d="M25.8,13.8L28.4,13.5L31.0,13.3L33.6,13.0L35.8,11.7"/><path d="M10.1,30.0L7.5,30.3L5.1,31.4L2.6,31.9L-0.0,32.1"/><path d="M49.3,22.4L51.5,23.8L53.7,25.3L55.8,26.8L57.9,28.3L60.4,29.0L62.9,28.3"/><path d="M56.3,8.5L53.7,8.1L51.2,7.4L49.0,5.9"/><path d="M31.7,74.4L33.5,76.3L33.9,78.9L35.5,80.9L36.4,83.4"/><path d="M36.7,12.6L34.1,12.4L31.8,11.1L29.3,10.7"/><path d="M7.9,75.2L5.7,73.8L3.1,73.6L0.7,74.5L-1.9,74.9"/><path d="M58.0,29.7L55.5,30.4L53.6,32.2L51.3,33.3L49.4,35.2L48.6,37.6L48.6,40.2"/><path d="M18.3,48.7L16.4,46.9L14.9,44.7L12.9,43.1L10.8,41.6L8.4,40.5L7.0,38.3"/><path d="M18.8,78.5L16.5,79.6L13.9,79.3L11.4,78.5"/><path d="M53.1,35.6L50.6,36.5L48.4,37.8L46.7,39.7L45.8,42.2L45.5,44.8L45.2,47.3"/><path d="M49.8,5.3L52.4,5.2L54.6,3.8L55.8,1.5L56.8,-0.9L57.7,-3.3"/></g>
<g fill="#4e1c40" opacity="0.62"><ellipse cx="21.5" cy="2.0" rx="3.3" ry="2.5" transform="rotate(15 21.5 2.0)"/><ellipse cx="21.1" cy="3.1" rx="2.6" ry="2.2" transform="rotate(83 21.1 3.1)"/><ellipse cx="19.4" cy="3.3" rx="3.0" ry="2.3" transform="rotate(98 19.4 3.3)"/><ellipse cx="22.2" cy="1.2" rx="3.2" ry="2.0" transform="rotate(169 22.2 1.2)"/><ellipse cx="30.3" cy="0.8" rx="1.9" ry="1.6" transform="rotate(154 30.3 0.8)"/><ellipse cx="30.6" cy="1.1" rx="1.6" ry="1.8" transform="rotate(49 30.6 1.1)"/><ellipse cx="29.6" cy="7.9" rx="2.8" ry="1.9" transform="rotate(2 29.6 7.9)"/><ellipse cx="31.6" cy="6.9" rx="2.5" ry="1.8" transform="rotate(27 31.6 6.9)"/><ellipse cx="29.4" cy="7.1" rx="2.8" ry="1.9" transform="rotate(97 29.4 7.1)"/><ellipse cx="38.5" cy="2.3" rx="1.7" ry="1.7" transform="rotate(68 38.5 2.3)"/><ellipse cx="38.4" cy="2.7" rx="1.7" ry="1.9" transform="rotate(88 38.4 2.7)"/><ellipse cx="12.3" cy="12.1" rx="2.3" ry="1.9" transform="rotate(105 12.3 12.1)"/><ellipse cx="13.9" cy="10.1" rx="2.2" ry="2.0" transform="rotate(61 13.9 10.1)"/><ellipse cx="12.9" cy="11.8" rx="2.1" ry="1.7" transform="rotate(101 12.9 11.8)"/><ellipse cx="40.7" cy="13.0" rx="2.6" ry="2.1" transform="rotate(176 40.7 13.0)"/><ellipse cx="40.8" cy="13.1" rx="2.8" ry="2.0" transform="rotate(169 40.8 13.1)"/><ellipse cx="41.3" cy="13.0" rx="2.7" ry="2.5" transform="rotate(9 41.3 13.0)"/><ellipse cx="42.8" cy="16.3" rx="2.2" ry="1.8" transform="rotate(83 42.8 16.3)"/><ellipse cx="43.1" cy="17.4" rx="1.8" ry="2.0" transform="rotate(141 43.1 17.4)"/><ellipse cx="44.0" cy="18.2" rx="1.9" ry="1.9" transform="rotate(61 44.0 18.2)"/><ellipse cx="43.1" cy="21.4" rx="1.8" ry="1.8" transform="rotate(108 43.1 21.4)"/><ellipse cx="42.4" cy="19.8" rx="1.9" ry="1.4" transform="rotate(57 42.4 19.8)"/><ellipse cx="59.5" cy="1.8" rx="3.6" ry="3.3" transform="rotate(108 59.5 1.8)"/><ellipse cx="56.9" cy="3.8" rx="2.7" ry="2.7" transform="rotate(175 56.9 3.8)"/><ellipse cx="58.0" cy="5.0" rx="3.3" ry="2.3" transform="rotate(175 58.0 5.0)"/><ellipse cx="56.5" cy="1.2" rx="3.6" ry="2.7" transform="rotate(110 56.5 1.2)"/><ellipse cx="62.4" cy="5.3" rx="2.6" ry="2.3" transform="rotate(127 62.4 5.3)"/><ellipse cx="61.5" cy="4.5" rx="2.8" ry="2.3" transform="rotate(92 61.5 4.5)"/><ellipse cx="61.0" cy="3.6" rx="2.7" ry="2.4" transform="rotate(31 61.0 3.6)"/><ellipse cx="70.3" cy="14.0" rx="2.6" ry="2.5" transform="rotate(90 70.3 14.0)"/><ellipse cx="70.1" cy="15.0" rx="2.1" ry="2.5" transform="rotate(10 70.1 15.0)"/><ellipse cx="71.2" cy="14.7" rx="2.3" ry="2.6" transform="rotate(24 71.2 14.7)"/><ellipse cx="75.2" cy="12.5" rx="2.3" ry="1.9" transform="rotate(148 75.2 12.5)"/><ellipse cx="75.7" cy="12.7" rx="2.3" ry="1.9" transform="rotate(112 75.7 12.7)"/><ellipse cx="76.3" cy="13.4" rx="2.2" ry="1.8" transform="rotate(60 76.3 13.4)"/><ellipse cx="65.0" cy="21.9" rx="2.4" ry="2.0" transform="rotate(77 65.0 21.9)"/><ellipse cx="67.1" cy="22.1" rx="2.3" ry="2.2" transform="rotate(109 67.1 22.1)"/><ellipse cx="66.4" cy="21.2" rx="2.2" ry="2.1" transform="rotate(124 66.4 21.2)"/><ellipse cx="9.6" cy="26.0" rx="1.9" ry="2.0" transform="rotate(27 9.6 26.0)"/><ellipse cx="9.8" cy="25.0" rx="2.2" ry="1.7" transform="rotate(121 9.8 25.0)"/><ellipse cx="7.9" cy="26.1" rx="2.2" ry="2.2" transform="rotate(171 7.9 26.1)"/><ellipse cx="29.6" cy="25.7" rx="2.7" ry="2.4" transform="rotate(126 29.6 25.7)"/><ellipse cx="30.1" cy="26.5" rx="2.4" ry="2.6" transform="rotate(39 30.1 26.5)"/><ellipse cx="28.4" cy="26.6" rx="2.7" ry="2.5" transform="rotate(18 28.4 26.6)"/><ellipse cx="34.7" cy="29.4" rx="2.3" ry="1.9" transform="rotate(20 34.7 29.4)"/><ellipse cx="35.7" cy="27.5" rx="2.7" ry="2.3" transform="rotate(74 35.7 27.5)"/><ellipse cx="35.0" cy="28.3" rx="2.4" ry="2.0" transform="rotate(172 35.0 28.3)"/><ellipse cx="19.8" cy="27.4" rx="2.2" ry="2.0" transform="rotate(148 19.8 27.4)"/><ellipse cx="20.1" cy="28.2" rx="2.4" ry="1.7" transform="rotate(38 20.1 28.2)"/><ellipse cx="21.0" cy="28.3" rx="2.3" ry="2.0" transform="rotate(21 21.0 28.3)"/><ellipse cx="58.8" cy="25.1" rx="2.5" ry="2.2" transform="rotate(13 58.8 25.1)"/><ellipse cx="58.4" cy="26.8" rx="2.6" ry="2.2" transform="rotate(19 58.4 26.8)"/><ellipse cx="61.0" cy="27.5" rx="3.3" ry="2.5" transform="rotate(6 61.0 27.5)"/><ellipse cx="57.9" cy="25.5" rx="2.4" ry="2.2" transform="rotate(4 57.9 25.5)"/><ellipse cx="55.0" cy="32.8" rx="2.1" ry="1.7" transform="rotate(130 55.0 32.8)"/><ellipse cx="55.6" cy="32.1" rx="2.3" ry="1.9" transform="rotate(97 55.6 32.1)"/><ellipse cx="56.2" cy="31.8" rx="2.3" ry="2.0" transform="rotate(143 56.2 31.8)"/><ellipse cx="53.8" cy="34.2" rx="1.9" ry="1.8" transform="rotate(9 53.8 34.2)"/><ellipse cx="53.7" cy="34.3" rx="2.4" ry="2.1" transform="rotate(133 53.7 34.3)"/><ellipse cx="53.2" cy="33.9" rx="2.0" ry="2.2" transform="rotate(44 53.2 33.9)"/><ellipse cx="45.9" cy="34.2" rx="1.7" ry="1.8" transform="rotate(131 45.9 34.2)"/><ellipse cx="45.9" cy="34.3" rx="1.9" ry="1.5" transform="rotate(37 45.9 34.3)"/><ellipse cx="75.2" cy="34.2" rx="1.7" ry="1.8" transform="rotate(37 75.2 34.2)"/><ellipse cx="73.8" cy="33.2" rx="1.8" ry="1.4" transform="rotate(88 73.8 33.2)"/><ellipse cx="72.8" cy="37.5" rx="2.2" ry="1.9" transform="rotate(121 72.8 37.5)"/><ellipse cx="75.1" cy="37.8" rx="2.8" ry="2.2" transform="rotate(27 75.1 37.8)"/><ellipse cx="72.6" cy="36.5" rx="2.6" ry="2.0" transform="rotate(117 72.6 36.5)"/><ellipse cx="9.5" cy="37.5" rx="2.8" ry="2.6" transform="rotate(177 9.5 37.5)"/><ellipse cx="8.5" cy="34.9" rx="2.3" ry="1.9" transform="rotate(108 8.5 34.9)"/><ellipse cx="8.3" cy="37.5" rx="2.7" ry="2.4" transform="rotate(99 8.3 37.5)"/><ellipse cx="33.6" cy="37.5" rx="2.7" ry="2.2" transform="rotate(59 33.6 37.5)"/><ellipse cx="33.3" cy="38.3" rx="2.9" ry="2.0" transform="rotate(172 33.3 38.3)"/><ellipse cx="35.0" cy="37.8" rx="3.1" ry="2.8" transform="rotate(2 35.0 37.8)"/><ellipse cx="35.6" cy="38.4" rx="2.7" ry="2.4" transform="rotate(138 35.6 38.4)"/><ellipse cx="34.9" cy="40.7" rx="2.1" ry="1.8" transform="rotate(55 34.9 40.7)"/><ellipse cx="33.3" cy="39.8" rx="2.3" ry="1.6" transform="rotate(123 33.3 39.8)"/><ellipse cx="34.7" cy="40.6" rx="2.4" ry="2.1" transform="rotate(128 34.7 40.6)"/><ellipse cx="46.6" cy="42.5" rx="2.4" ry="1.8" transform="rotate(148 46.6 42.5)"/><ellipse cx="45.6" cy="44.4" rx="1.8" ry="1.8" transform="rotate(154 45.6 44.4)"/><ellipse cx="47.2" cy="42.8" rx="2.2" ry="1.7" transform="rotate(102 47.2 42.8)"/><ellipse cx="55.7" cy="45.3" rx="2.8" ry="1.9" transform="rotate(64 55.7 45.3)"/><ellipse cx="54.8" cy="45.2" rx="2.2" ry="1.8" transform="rotate(7 54.8 45.2)"/><ellipse cx="57.4" cy="44.4" rx="2.3" ry="2.1" transform="rotate(42 57.4 44.4)"/><ellipse cx="62.5" cy="42.2" rx="2.1" ry="2.1" transform="rotate(78 62.5 42.2)"/><ellipse cx="61.4" cy="43.0" rx="2.2" ry="1.6" transform="rotate(117 61.4 43.0)"/><ellipse cx="61.1" cy="42.4" rx="2.0" ry="1.8" transform="rotate(160 61.1 42.4)"/><ellipse cx="2.9" cy="46.9" rx="2.2" ry="2.5" transform="rotate(112 2.9 46.9)"/><ellipse cx="3.2" cy="47.1" rx="2.3" ry="2.4" transform="rotate(64 3.2 47.1)"/><ellipse cx="4.5" cy="47.2" rx="2.2" ry="1.8" transform="rotate(149 4.5 47.2)"/><ellipse cx="28.1" cy="47.1" rx="2.0" ry="1.9" transform="rotate(9 28.1 47.1)"/><ellipse cx="28.3" cy="47.4" rx="2.0" ry="2.1" transform="rotate(34 28.3 47.4)"/><ellipse cx="29.2" cy="47.4" rx="2.3" ry="1.8" transform="rotate(113 29.2 47.4)"/><ellipse cx="49.2" cy="49.8" rx="2.1" ry="1.8" transform="rotate(156 49.2 49.8)"/><ellipse cx="50.9" cy="49.0" rx="2.4" ry="2.2" transform="rotate(106 50.9 49.0)"/><ellipse cx="49.9" cy="49.7" rx="2.3" ry="2.1" transform="rotate(95 49.9 49.7)"/><ellipse cx="53.7" cy="51.1" rx="2.3" ry="1.9" transform="rotate(140 53.7 51.1)"/><ellipse cx="55.1" cy="49.9" rx="2.1" ry="1.9" transform="rotate(115 55.1 49.9)"/><ellipse cx="53.8" cy="51.2" rx="2.4" ry="1.8" transform="rotate(15 53.8 51.2)"/><ellipse cx="61.3" cy="54.7" rx="2.4" ry="1.9" transform="rotate(49 61.3 54.7)"/><ellipse cx="60.5" cy="52.2" rx="2.8" ry="2.0" transform="rotate(96 60.5 52.2)"/><ellipse cx="62.7" cy="52.5" rx="2.3" ry="2.3" transform="rotate(98 62.7 52.5)"/><ellipse cx="51.4" cy="53.5" rx="1.7" ry="1.5" transform="rotate(134 51.4 53.5)"/><ellipse cx="49.8" cy="53.2" rx="1.6" ry="1.9" transform="rotate(55 49.8 53.2)"/><ellipse cx="32.8" cy="57.3" rx="2.9" ry="1.8" transform="rotate(119 32.8 57.3)"/><ellipse cx="31.2" cy="57.5" rx="2.2" ry="2.2" transform="rotate(113 31.2 57.5)"/><ellipse cx="33.9" cy="55.0" rx="2.8" ry="1.9" transform="rotate(108 33.9 55.0)"/><ellipse cx="11.5" cy="60.0" rx="2.4" ry="2.0" transform="rotate(156 11.5 60.0)"/><ellipse cx="9.4" cy="59.6" rx="2.3" ry="1.7" transform="rotate(3 9.4 59.6)"/><ellipse cx="9.7" cy="60.4" rx="2.2" ry="2.1" transform="rotate(84 9.7 60.4)"/><ellipse cx="31.8" cy="60.6" rx="2.2" ry="2.5" transform="rotate(60 31.8 60.6)"/><ellipse cx="29.3" cy="61.6" rx="2.5" ry="2.4" transform="rotate(50 29.3 61.6)"/><ellipse cx="29.7" cy="60.8" rx="2.2" ry="1.9" transform="rotate(142 29.7 60.8)"/><ellipse cx="26.4" cy="64.7" rx="2.3" ry="2.2" transform="rotate(73 26.4 64.7)"/><ellipse cx="27.4" cy="64.8" rx="2.0" ry="1.7" transform="rotate(79 27.4 64.8)"/><ellipse cx="25.7" cy="64.1" rx="2.0" ry="2.2" transform="rotate(163 25.7 64.1)"/><ellipse cx="7.9" cy="67.2" rx="2.6" ry="2.0" transform="rotate(79 7.9 67.2)"/><ellipse cx="9.3" cy="67.3" rx="2.1" ry="1.9" transform="rotate(139 9.3 67.3)"/><ellipse cx="8.5" cy="68.5" rx="2.3" ry="2.1" transform="rotate(34 8.5 68.5)"/><ellipse cx="74.3" cy="64.1" rx="2.0" ry="1.4" transform="rotate(17 74.3 64.1)"/><ellipse cx="74.1" cy="65.2" rx="1.9" ry="1.6" transform="rotate(176 74.1 65.2)"/><ellipse cx="47.5" cy="71.3" rx="2.6" ry="2.3" transform="rotate(45 47.5 71.3)"/><ellipse cx="47.2" cy="71.9" rx="3.0" ry="2.5" transform="rotate(49 47.2 71.9)"/><ellipse cx="48.0" cy="69.0" rx="2.6" ry="2.1" transform="rotate(153 48.0 69.0)"/><ellipse cx="47.6" cy="71.2" rx="3.0" ry="2.7" transform="rotate(37 47.6 71.2)"/><ellipse cx="50.2" cy="65.9" rx="2.3" ry="1.9" transform="rotate(21 50.2 65.9)"/><ellipse cx="50.0" cy="67.1" rx="1.9" ry="2.2" transform="rotate(35 50.0 67.1)"/><ellipse cx="49.3" cy="65.9" rx="2.4" ry="1.6" transform="rotate(167 49.3 65.9)"/><ellipse cx="55.1" cy="71.0" rx="1.9" ry="1.6" transform="rotate(161 55.1 71.0)"/><ellipse cx="55.5" cy="70.9" rx="1.9" ry="2.2" transform="rotate(40 55.5 70.9)"/><ellipse cx="55.2" cy="70.5" rx="2.2" ry="1.7" transform="rotate(156 55.2 70.5)"/><ellipse cx="11.1" cy="73.9" rx="2.2" ry="2.4" transform="rotate(110 11.1 73.9)"/><ellipse cx="12.6" cy="72.6" rx="2.4" ry="2.6" transform="rotate(60 12.6 72.6)"/><ellipse cx="10.6" cy="74.4" rx="2.6" ry="2.6" transform="rotate(133 10.6 74.4)"/><ellipse cx="42.5" cy="72.3" rx="1.9" ry="1.7" transform="rotate(31 42.5 72.3)"/><ellipse cx="41.6" cy="71.8" rx="1.9" ry="1.7" transform="rotate(103 41.6 71.8)"/><ellipse cx="58.0" cy="74.6" rx="2.4" ry="2.1" transform="rotate(150 58.0 74.6)"/><ellipse cx="56.1" cy="76.2" rx="2.9" ry="1.9" transform="rotate(65 56.1 76.2)"/><ellipse cx="58.4" cy="76.6" rx="2.3" ry="2.3" transform="rotate(75 58.4 76.6)"/></g>
<g fill="#d2ca46"><ellipse cx="21.5" cy="2.0" rx="2.5" ry="1.7" transform="rotate(15 21.5 2.0)"/><ellipse cx="21.1" cy="3.1" rx="1.8" ry="1.4" transform="rotate(83 21.1 3.1)"/><ellipse cx="19.4" cy="3.3" rx="2.2" ry="1.5" transform="rotate(98 19.4 3.3)"/><ellipse cx="22.2" cy="1.2" rx="2.4" ry="1.2" transform="rotate(169 22.2 1.2)"/><ellipse cx="30.3" cy="0.8" rx="1.1" ry="0.8" transform="rotate(154 30.3 0.8)"/><ellipse cx="30.6" cy="1.1" rx="0.8" ry="1.0" transform="rotate(49 30.6 1.1)"/><ellipse cx="29.6" cy="7.9" rx="2.0" ry="1.1" transform="rotate(2 29.6 7.9)"/><ellipse cx="31.6" cy="6.9" rx="1.7" ry="1.0" transform="rotate(27 31.6 6.9)"/><ellipse cx="29.4" cy="7.1" rx="2.0" ry="1.1" transform="rotate(97 29.4 7.1)"/><ellipse cx="38.5" cy="2.3" rx="0.9" ry="0.9" transform="rotate(68 38.5 2.3)"/><ellipse cx="38.4" cy="2.7" rx="0.9" ry="1.1" transform="rotate(88 38.4 2.7)"/><ellipse cx="12.3" cy="12.1" rx="1.5" ry="1.1" transform="rotate(105 12.3 12.1)"/><ellipse cx="13.9" cy="10.1" rx="1.4" ry="1.2" transform="rotate(61 13.9 10.1)"/><ellipse cx="12.9" cy="11.8" rx="1.3" ry="0.9" transform="rotate(101 12.9 11.8)"/><ellipse cx="40.7" cy="13.0" rx="1.8" ry="1.3" transform="rotate(176 40.7 13.0)"/><ellipse cx="40.8" cy="13.1" rx="2.0" ry="1.2" transform="rotate(169 40.8 13.1)"/><ellipse cx="41.3" cy="13.0" rx="1.9" ry="1.7" transform="rotate(9 41.3 13.0)"/><ellipse cx="42.8" cy="16.3" rx="1.4" ry="1.0" transform="rotate(83 42.8 16.3)"/><ellipse cx="43.1" cy="17.4" rx="1.0" ry="1.2" transform="rotate(141 43.1 17.4)"/><ellipse cx="44.0" cy="18.2" rx="1.1" ry="1.1" transform="rotate(61 44.0 18.2)"/><ellipse cx="43.1" cy="21.4" rx="1.0" ry="1.0" transform="rotate(108 43.1 21.4)"/><ellipse cx="42.4" cy="19.8" rx="1.1" ry="0.6" transform="rotate(57 42.4 19.8)"/><ellipse cx="59.5" cy="1.8" rx="2.8" ry="2.5" transform="rotate(108 59.5 1.8)"/><ellipse cx="56.9" cy="3.8" rx="1.9" ry="1.9" transform="rotate(175 56.9 3.8)"/><ellipse cx="58.0" cy="5.0" rx="2.5" ry="1.5" transform="rotate(175 58.0 5.0)"/><ellipse cx="56.5" cy="1.2" rx="2.8" ry="1.9" transform="rotate(110 56.5 1.2)"/><ellipse cx="62.4" cy="5.3" rx="1.8" ry="1.5" transform="rotate(127 62.4 5.3)"/><ellipse cx="61.5" cy="4.5" rx="2.0" ry="1.5" transform="rotate(92 61.5 4.5)"/><ellipse cx="61.0" cy="3.6" rx="1.9" ry="1.6" transform="rotate(31 61.0 3.6)"/><ellipse cx="70.3" cy="14.0" rx="1.8" ry="1.7" transform="rotate(90 70.3 14.0)"/><ellipse cx="70.1" cy="15.0" rx="1.3" ry="1.7" transform="rotate(10 70.1 15.0)"/><ellipse cx="71.2" cy="14.7" rx="1.5" ry="1.8" transform="rotate(24 71.2 14.7)"/><ellipse cx="75.2" cy="12.5" rx="1.5" ry="1.1" transform="rotate(148 75.2 12.5)"/><ellipse cx="75.7" cy="12.7" rx="1.5" ry="1.1" transform="rotate(112 75.7 12.7)"/><ellipse cx="76.3" cy="13.4" rx="1.4" ry="1.0" transform="rotate(60 76.3 13.4)"/><ellipse cx="65.0" cy="21.9" rx="1.6" ry="1.2" transform="rotate(77 65.0 21.9)"/><ellipse cx="67.1" cy="22.1" rx="1.5" ry="1.4" transform="rotate(109 67.1 22.1)"/><ellipse cx="66.4" cy="21.2" rx="1.4" ry="1.3" transform="rotate(124 66.4 21.2)"/><ellipse cx="9.6" cy="26.0" rx="1.1" ry="1.2" transform="rotate(27 9.6 26.0)"/><ellipse cx="9.8" cy="25.0" rx="1.4" ry="0.9" transform="rotate(121 9.8 25.0)"/><ellipse cx="7.9" cy="26.1" rx="1.4" ry="1.4" transform="rotate(171 7.9 26.1)"/><ellipse cx="29.6" cy="25.7" rx="1.9" ry="1.6" transform="rotate(126 29.6 25.7)"/><ellipse cx="30.1" cy="26.5" rx="1.6" ry="1.8" transform="rotate(39 30.1 26.5)"/><ellipse cx="28.4" cy="26.6" rx="1.9" ry="1.7" transform="rotate(18 28.4 26.6)"/><ellipse cx="34.7" cy="29.4" rx="1.5" ry="1.1" transform="rotate(20 34.7 29.4)"/><ellipse cx="35.7" cy="27.5" rx="1.9" ry="1.5" transform="rotate(74 35.7 27.5)"/><ellipse cx="35.0" cy="28.3" rx="1.6" ry="1.2" transform="rotate(172 35.0 28.3)"/><ellipse cx="19.8" cy="27.4" rx="1.4" ry="1.2" transform="rotate(148 19.8 27.4)"/><ellipse cx="20.1" cy="28.2" rx="1.6" ry="0.9" transform="rotate(38 20.1 28.2)"/><ellipse cx="21.0" cy="28.3" rx="1.5" ry="1.2" transform="rotate(21 21.0 28.3)"/><ellipse cx="58.8" cy="25.1" rx="1.7" ry="1.4" transform="rotate(13 58.8 25.1)"/><ellipse cx="58.4" cy="26.8" rx="1.8" ry="1.4" transform="rotate(19 58.4 26.8)"/><ellipse cx="61.0" cy="27.5" rx="2.5" ry="1.7" transform="rotate(6 61.0 27.5)"/><ellipse cx="57.9" cy="25.5" rx="1.6" ry="1.4" transform="rotate(4 57.9 25.5)"/><ellipse cx="55.0" cy="32.8" rx="1.3" ry="0.9" transform="rotate(130 55.0 32.8)"/><ellipse cx="55.6" cy="32.1" rx="1.5" ry="1.1" transform="rotate(97 55.6 32.1)"/><ellipse cx="56.2" cy="31.8" rx="1.5" ry="1.2" transform="rotate(143 56.2 31.8)"/><ellipse cx="53.8" cy="34.2" rx="1.1" ry="1.0" transform="rotate(9 53.8 34.2)"/><ellipse cx="53.7" cy="34.3" rx="1.6" ry="1.3" transform="rotate(133 53.7 34.3)"/><ellipse cx="53.2" cy="33.9" rx="1.2" ry="1.4" transform="rotate(44 53.2 33.9)"/><ellipse cx="45.9" cy="34.2" rx="0.9" ry="1.0" transform="rotate(131 45.9 34.2)"/><ellipse cx="45.9" cy="34.3" rx="1.1" ry="0.7" transform="rotate(37 45.9 34.3)"/><ellipse cx="75.2" cy="34.2" rx="0.9" ry="1.0" transform="rotate(37 75.2 34.2)"/><ellipse cx="73.8" cy="33.2" rx="1.0" ry="0.6" transform="rotate(88 73.8 33.2)"/><ellipse cx="72.8" cy="37.5" rx="1.4" ry="1.1" transform="rotate(121 72.8 37.5)"/><ellipse cx="75.1" cy="37.8" rx="2.0" ry="1.4" transform="rotate(27 75.1 37.8)"/><ellipse cx="72.6" cy="36.5" rx="1.8" ry="1.2" transform="rotate(117 72.6 36.5)"/><ellipse cx="9.5" cy="37.5" rx="2.0" ry="1.8" transform="rotate(177 9.5 37.5)"/><ellipse cx="8.5" cy="34.9" rx="1.5" ry="1.1" transform="rotate(108 8.5 34.9)"/><ellipse cx="8.3" cy="37.5" rx="1.9" ry="1.6" transform="rotate(99 8.3 37.5)"/><ellipse cx="33.6" cy="37.5" rx="1.9" ry="1.4" transform="rotate(59 33.6 37.5)"/><ellipse cx="33.3" cy="38.3" rx="2.1" ry="1.2" transform="rotate(172 33.3 38.3)"/><ellipse cx="35.0" cy="37.8" rx="2.3" ry="2.0" transform="rotate(2 35.0 37.8)"/><ellipse cx="35.6" cy="38.4" rx="1.9" ry="1.6" transform="rotate(138 35.6 38.4)"/><ellipse cx="34.9" cy="40.7" rx="1.3" ry="1.0" transform="rotate(55 34.9 40.7)"/><ellipse cx="33.3" cy="39.8" rx="1.5" ry="0.8" transform="rotate(123 33.3 39.8)"/><ellipse cx="34.7" cy="40.6" rx="1.6" ry="1.3" transform="rotate(128 34.7 40.6)"/><ellipse cx="46.6" cy="42.5" rx="1.6" ry="1.0" transform="rotate(148 46.6 42.5)"/><ellipse cx="45.6" cy="44.4" rx="1.0" ry="1.0" transform="rotate(154 45.6 44.4)"/><ellipse cx="47.2" cy="42.8" rx="1.4" ry="0.9" transform="rotate(102 47.2 42.8)"/><ellipse cx="55.7" cy="45.3" rx="2.0" ry="1.1" transform="rotate(64 55.7 45.3)"/><ellipse cx="54.8" cy="45.2" rx="1.4" ry="1.0" transform="rotate(7 54.8 45.2)"/><ellipse cx="57.4" cy="44.4" rx="1.5" ry="1.3" transform="rotate(42 57.4 44.4)"/><ellipse cx="62.5" cy="42.2" rx="1.3" ry="1.3" transform="rotate(78 62.5 42.2)"/><ellipse cx="61.4" cy="43.0" rx="1.4" ry="0.8" transform="rotate(117 61.4 43.0)"/><ellipse cx="61.1" cy="42.4" rx="1.2" ry="1.0" transform="rotate(160 61.1 42.4)"/><ellipse cx="2.9" cy="46.9" rx="1.4" ry="1.7" transform="rotate(112 2.9 46.9)"/><ellipse cx="3.2" cy="47.1" rx="1.5" ry="1.6" transform="rotate(64 3.2 47.1)"/><ellipse cx="4.5" cy="47.2" rx="1.4" ry="1.0" transform="rotate(149 4.5 47.2)"/><ellipse cx="28.1" cy="47.1" rx="1.2" ry="1.1" transform="rotate(9 28.1 47.1)"/><ellipse cx="28.3" cy="47.4" rx="1.2" ry="1.3" transform="rotate(34 28.3 47.4)"/><ellipse cx="29.2" cy="47.4" rx="1.5" ry="1.0" transform="rotate(113 29.2 47.4)"/><ellipse cx="49.2" cy="49.8" rx="1.3" ry="1.0" transform="rotate(156 49.2 49.8)"/><ellipse cx="50.9" cy="49.0" rx="1.6" ry="1.4" transform="rotate(106 50.9 49.0)"/><ellipse cx="49.9" cy="49.7" rx="1.5" ry="1.3" transform="rotate(95 49.9 49.7)"/><ellipse cx="53.7" cy="51.1" rx="1.5" ry="1.1" transform="rotate(140 53.7 51.1)"/><ellipse cx="55.1" cy="49.9" rx="1.3" ry="1.1" transform="rotate(115 55.1 49.9)"/><ellipse cx="53.8" cy="51.2" rx="1.6" ry="1.0" transform="rotate(15 53.8 51.2)"/><ellipse cx="61.3" cy="54.7" rx="1.6" ry="1.1" transform="rotate(49 61.3 54.7)"/><ellipse cx="60.5" cy="52.2" rx="2.0" ry="1.2" transform="rotate(96 60.5 52.2)"/><ellipse cx="62.7" cy="52.5" rx="1.5" ry="1.5" transform="rotate(98 62.7 52.5)"/><ellipse cx="51.4" cy="53.5" rx="0.9" ry="0.7" transform="rotate(134 51.4 53.5)"/><ellipse cx="49.8" cy="53.2" rx="0.8" ry="1.1" transform="rotate(55 49.8 53.2)"/><ellipse cx="32.8" cy="57.3" rx="2.1" ry="1.0" transform="rotate(119 32.8 57.3)"/><ellipse cx="31.2" cy="57.5" rx="1.4" ry="1.4" transform="rotate(113 31.2 57.5)"/><ellipse cx="33.9" cy="55.0" rx="2.0" ry="1.1" transform="rotate(108 33.9 55.0)"/><ellipse cx="11.5" cy="60.0" rx="1.6" ry="1.2" transform="rotate(156 11.5 60.0)"/><ellipse cx="9.4" cy="59.6" rx="1.5" ry="0.9" transform="rotate(3 9.4 59.6)"/><ellipse cx="9.7" cy="60.4" rx="1.4" ry="1.3" transform="rotate(84 9.7 60.4)"/><ellipse cx="31.8" cy="60.6" rx="1.4" ry="1.7" transform="rotate(60 31.8 60.6)"/><ellipse cx="29.3" cy="61.6" rx="1.7" ry="1.6" transform="rotate(50 29.3 61.6)"/><ellipse cx="29.7" cy="60.8" rx="1.4" ry="1.1" transform="rotate(142 29.7 60.8)"/><ellipse cx="26.4" cy="64.7" rx="1.5" ry="1.4" transform="rotate(73 26.4 64.7)"/><ellipse cx="27.4" cy="64.8" rx="1.2" ry="0.9" transform="rotate(79 27.4 64.8)"/><ellipse cx="25.7" cy="64.1" rx="1.2" ry="1.4" transform="rotate(163 25.7 64.1)"/><ellipse cx="7.9" cy="67.2" rx="1.8" ry="1.2" transform="rotate(79 7.9 67.2)"/><ellipse cx="9.3" cy="67.3" rx="1.3" ry="1.1" transform="rotate(139 9.3 67.3)"/><ellipse cx="8.5" cy="68.5" rx="1.5" ry="1.3" transform="rotate(34 8.5 68.5)"/><ellipse cx="74.3" cy="64.1" rx="1.2" ry="0.6" transform="rotate(17 74.3 64.1)"/><ellipse cx="74.1" cy="65.2" rx="1.1" ry="0.8" transform="rotate(176 74.1 65.2)"/><ellipse cx="47.5" cy="71.3" rx="1.8" ry="1.5" transform="rotate(45 47.5 71.3)"/><ellipse cx="47.2" cy="71.9" rx="2.2" ry="1.7" transform="rotate(49 47.2 71.9)"/><ellipse cx="48.0" cy="69.0" rx="1.8" ry="1.3" transform="rotate(153 48.0 69.0)"/><ellipse cx="47.6" cy="71.2" rx="2.2" ry="1.9" transform="rotate(37 47.6 71.2)"/><ellipse cx="50.2" cy="65.9" rx="1.5" ry="1.1" transform="rotate(21 50.2 65.9)"/><ellipse cx="50.0" cy="67.1" rx="1.1" ry="1.4" transform="rotate(35 50.0 67.1)"/><ellipse cx="49.3" cy="65.9" rx="1.6" ry="0.8" transform="rotate(167 49.3 65.9)"/><ellipse cx="55.1" cy="71.0" rx="1.1" ry="0.8" transform="rotate(161 55.1 71.0)"/><ellipse cx="55.5" cy="70.9" rx="1.1" ry="1.4" transform="rotate(40 55.5 70.9)"/><ellipse cx="55.2" cy="70.5" rx="1.4" ry="0.9" transform="rotate(156 55.2 70.5)"/><ellipse cx="11.1" cy="73.9" rx="1.4" ry="1.6" transform="rotate(110 11.1 73.9)"/><ellipse cx="12.6" cy="72.6" rx="1.6" ry="1.8" transform="rotate(60 12.6 72.6)"/><ellipse cx="10.6" cy="74.4" rx="1.8" ry="1.8" transform="rotate(133 10.6 74.4)"/><ellipse cx="42.5" cy="72.3" rx="1.1" ry="0.9" transform="rotate(31 42.5 72.3)"/><ellipse cx="41.6" cy="71.8" rx="1.1" ry="0.9" transform="rotate(103 41.6 71.8)"/><ellipse cx="58.0" cy="74.6" rx="1.6" ry="1.3" transform="rotate(150 58.0 74.6)"/><ellipse cx="56.1" cy="76.2" rx="2.1" ry="1.1" transform="rotate(65 56.1 76.2)"/><ellipse cx="58.4" cy="76.6" rx="1.5" ry="1.5" transform="rotate(75 58.4 76.6)"/></g>
<path d="M47.9,71.6H53.9" stroke="#e8e8e8" stroke-width="1.6"/>
<text x="55.4" y="74.1" font-size="6.6" fill="#1a1a1a" textLength="14" lengthAdjust="spacingAndGlyphs">30µm</text>
</svg>
<svg x="391.4" y="598.2" width="79.3" height="79.1" viewBox="0 0 79.3 79.1" overflow="hidden">
<rect width="79.3" height="79.1" fill="#8d66a6"/>
<rect width="79.3" height="79.1" fill="url(#np82625)"/>
<g fill="none" stroke="#55204a" stroke-width="1.1" stroke-dasharray="1.2,0.8" opacity="0.6" stroke-linejoin="round"><path d="M39.3,76.1L36.7,76.8L34.2,77.4L31.7,76.6L29.1,76.8L26.9,78.2L24.5,79.0L22.0,79.8"/><path d="M5.0,39.0L3.1,40.9L2.2,43.3L2.7,45.9L3.4,48.4L3.2,51.0L4.1,53.4"/><path d="M2.0,53.9L0.3,51.9L-1.9,50.5L-4.3,49.7"/><path d="M33.9,59.1L36.1,60.3L38.6,61.0L41.2,60.7"/><path d="M74.2,11.5L76.5,12.6L78.3,14.5L79.6,16.8L81.2,18.8L82.8,20.9"/><path d="M23.7,21.3L26.3,21.2L28.9,21.3L31.4,20.6L34.0,20.3L36.0,18.7L38.2,17.2"/><path d="M71.7,27.4L73.4,25.5L75.8,24.4L77.6,22.5L78.6,20.1L79.1,17.6L79.1,15.0"/><path d="M57.5,68.8L55.3,70.2L53.8,72.3L53.3,74.9L51.8,77.0L51.6,79.6L51.6,82.2"/><path d="M75.2,17.0L77.8,17.4L80.4,17.0L82.9,16.5"/><path d="M77.8,75.9L76.7,78.3L75.8,80.7L74.7,83.1L73.4,85.3L72.1,87.5L70.4,89.6L68.4,91.1"/><path d="M19.6,68.3L22.2,68.6L24.5,69.9L27.0,70.5L29.5,69.9L32.1,70.3L34.0,72.1"/><path d="M17.9,74.3L19.9,75.9L22.1,77.3L24.6,77.9L27.1,78.7L29.1,80.3"/><path d="M40.7,42.9L38.5,44.4L37.2,46.6L36.0,48.9L35.1,51.4"/><path d="M18.2,32.0L20.7,32.4L23.3,32.3L25.9,31.8L28.4,32.6"/><path d="M78.2,45.6L80.8,45.6L83.4,45.1L86.0,44.9L88.2,46.2L89.8,48.3L90.4,50.8"/><path d="M58.9,26.0L61.4,26.6L63.6,28.0L65.7,29.5L67.3,31.6L68.8,33.7"/><path d="M68.3,43.6L70.9,43.8L73.3,44.9L75.8,44.5L78.4,45.0"/><path d="M36.7,8.4L38.4,6.4L40.5,4.9L43.1,4.5L45.2,2.9L47.7,2.4"/><path d="M10.9,62.2L8.9,63.8L7.3,65.8L7.0,68.4L8.2,70.7L8.9,73.3L10.0,75.6"/><path d="M76.7,5.6L74.3,6.4L71.7,6.1L69.1,6.0L66.9,4.6L65.9,2.2L65.0,-0.2"/><path d="M19.3,76.3L17.0,77.5L14.4,77.5L11.8,78.0L9.2,77.8L6.6,77.7L4.0,77.7L1.6,76.9"/><path d="M63.4,34.8L60.8,34.7L58.3,35.5L55.8,35.2L53.2,35.7"/></g>
<g fill="#4e1c40" opacity="0.62"><ellipse cx="49.9" cy="1.1" rx="3.1" ry="2.4" transform="rotate(106 49.9 1.1)"/><ellipse cx="51.6" cy="-0.0" rx="2.8" ry="2.8" transform="rotate(87 51.6 -0.0)"/><ellipse cx="50.7" cy="-0.2" rx="3.2" ry="2.9" transform="rotate(29 50.7 -0.2)"/><ellipse cx="52.2" cy="1.6" rx="3.5" ry="2.2" transform="rotate(172 52.2 1.6)"/><ellipse cx="41.1" cy="10.2" rx="2.8" ry="2.2" transform="rotate(163 41.1 10.2)"/><ellipse cx="42.4" cy="9.0" rx="2.7" ry="2.5" transform="rotate(104 42.4 9.0)"/><ellipse cx="39.9" cy="10.2" rx="2.9" ry="2.1" transform="rotate(67 39.9 10.2)"/><ellipse cx="41.6" cy="12.4" rx="2.4" ry="1.6" transform="rotate(100 41.6 12.4)"/><ellipse cx="40.6" cy="12.2" rx="2.4" ry="1.9" transform="rotate(149 40.6 12.2)"/><ellipse cx="40.0" cy="12.6" rx="2.0" ry="2.0" transform="rotate(176 40.0 12.6)"/><ellipse cx="49.0" cy="12.5" rx="2.1" ry="2.1" transform="rotate(113 49.0 12.5)"/><ellipse cx="47.4" cy="12.2" rx="2.3" ry="1.9" transform="rotate(4 47.4 12.2)"/><ellipse cx="48.3" cy="14.1" rx="2.2" ry="2.0" transform="rotate(32 48.3 14.1)"/><ellipse cx="52.8" cy="10.0" rx="1.9" ry="1.9" transform="rotate(160 52.8 10.0)"/><ellipse cx="54.8" cy="8.4" rx="2.0" ry="2.0" transform="rotate(102 54.8 8.4)"/><ellipse cx="54.2" cy="7.6" rx="2.3" ry="1.8" transform="rotate(92 54.2 7.6)"/><ellipse cx="5.2" cy="23.7" rx="1.8" ry="1.4" transform="rotate(93 5.2 23.7)"/><ellipse cx="5.5" cy="23.5" rx="1.9" ry="1.8" transform="rotate(14 5.5 23.5)"/><ellipse cx="18.2" cy="23.2" rx="3.1" ry="2.4" transform="rotate(99 18.2 23.2)"/><ellipse cx="19.2" cy="24.6" rx="3.0" ry="2.3" transform="rotate(93 19.2 24.6)"/><ellipse cx="20.0" cy="22.4" rx="3.1" ry="3.0" transform="rotate(57 20.0 22.4)"/><ellipse cx="19.0" cy="23.6" rx="2.9" ry="3.1" transform="rotate(71 19.0 23.6)"/><ellipse cx="21.2" cy="21.3" rx="2.4" ry="2.4" transform="rotate(133 21.2 21.3)"/><ellipse cx="20.9" cy="21.6" rx="2.8" ry="2.4" transform="rotate(176 20.9 21.6)"/><ellipse cx="20.3" cy="20.1" rx="2.7" ry="2.4" transform="rotate(126 20.3 20.1)"/><ellipse cx="25.1" cy="26.1" rx="2.0" ry="2.0" transform="rotate(141 25.1 26.1)"/><ellipse cx="25.8" cy="26.1" rx="2.0" ry="2.0" transform="rotate(59 25.8 26.1)"/><ellipse cx="24.3" cy="26.2" rx="1.9" ry="1.7" transform="rotate(126 24.3 26.2)"/><ellipse cx="17.7" cy="27.1" rx="2.3" ry="1.7" transform="rotate(4 17.7 27.1)"/><ellipse cx="16.7" cy="28.1" rx="1.9" ry="1.8" transform="rotate(1 16.7 28.1)"/><ellipse cx="18.0" cy="27.6" rx="2.0" ry="1.8" transform="rotate(85 18.0 27.6)"/><ellipse cx="41.8" cy="26.1" rx="2.3" ry="2.0" transform="rotate(161 41.8 26.1)"/><ellipse cx="43.2" cy="25.4" rx="2.2" ry="2.0" transform="rotate(125 43.2 25.4)"/><ellipse cx="42.2" cy="26.2" rx="2.3" ry="1.7" transform="rotate(34 42.2 26.2)"/><ellipse cx="49.2" cy="24.3" rx="2.0" ry="1.9" transform="rotate(50 49.2 24.3)"/><ellipse cx="49.9" cy="24.4" rx="2.3" ry="1.8" transform="rotate(114 49.9 24.4)"/><ellipse cx="48.1" cy="23.8" rx="2.2" ry="1.8" transform="rotate(45 48.1 23.8)"/><ellipse cx="49.8" cy="25.9" rx="1.9" ry="1.5" transform="rotate(16 49.8 25.9)"/><ellipse cx="48.4" cy="25.9" rx="1.6" ry="1.8" transform="rotate(44 48.4 25.9)"/><ellipse cx="75.9" cy="22.7" rx="2.3" ry="2.5" transform="rotate(38 75.9 22.7)"/><ellipse cx="73.6" cy="21.8" rx="2.5" ry="2.5" transform="rotate(78 73.6 21.8)"/><ellipse cx="74.4" cy="20.9" rx="2.5" ry="2.5" transform="rotate(158 74.4 20.9)"/><ellipse cx="71.4" cy="23.3" rx="2.2" ry="1.9" transform="rotate(100 71.4 23.3)"/><ellipse cx="71.9" cy="23.8" rx="2.2" ry="1.7" transform="rotate(89 71.9 23.8)"/><ellipse cx="73.3" cy="23.9" rx="2.2" ry="1.6" transform="rotate(70 73.3 23.9)"/><ellipse cx="60.1" cy="21.7" rx="1.6" ry="1.7" transform="rotate(104 60.1 21.7)"/><ellipse cx="60.7" cy="21.5" rx="1.7" ry="1.7" transform="rotate(162 60.7 21.5)"/><ellipse cx="67.4" cy="27.5" rx="1.9" ry="1.8" transform="rotate(118 67.4 27.5)"/><ellipse cx="69.0" cy="25.4" rx="1.9" ry="1.9" transform="rotate(25 69.0 25.4)"/><ellipse cx="68.7" cy="26.1" rx="2.0" ry="2.0" transform="rotate(173 68.7 26.1)"/><ellipse cx="57.6" cy="32.4" rx="3.6" ry="2.5" transform="rotate(57 57.6 32.4)"/><ellipse cx="60.2" cy="29.4" rx="3.6" ry="3.1" transform="rotate(84 60.2 29.4)"/><ellipse cx="61.2" cy="30.0" rx="3.3" ry="2.7" transform="rotate(74 61.2 30.0)"/><ellipse cx="58.1" cy="30.5" rx="3.4" ry="2.7" transform="rotate(145 58.1 30.5)"/><ellipse cx="63.3" cy="31.5" rx="3.2" ry="2.0" transform="rotate(161 63.3 31.5)"/><ellipse cx="64.3" cy="31.7" rx="2.4" ry="2.0" transform="rotate(121 64.3 31.7)"/><ellipse cx="65.2" cy="30.5" rx="2.5" ry="2.2" transform="rotate(27 65.2 30.5)"/><ellipse cx="65.1" cy="29.2" rx="2.4" ry="2.9" transform="rotate(17 65.1 29.2)"/><ellipse cx="70.5" cy="33.0" rx="2.3" ry="2.3" transform="rotate(55 70.5 33.0)"/><ellipse cx="67.6" cy="30.8" rx="2.7" ry="2.6" transform="rotate(158 67.6 30.8)"/><ellipse cx="69.1" cy="32.9" rx="2.8" ry="1.9" transform="rotate(160 69.1 32.9)"/><ellipse cx="67.2" cy="37.9" rx="2.0" ry="1.8" transform="rotate(147 67.2 37.9)"/><ellipse cx="67.7" cy="36.8" rx="2.0" ry="1.6" transform="rotate(81 67.7 36.8)"/><ellipse cx="24.9" cy="35.2" rx="2.7" ry="2.2" transform="rotate(38 24.9 35.2)"/><ellipse cx="24.5" cy="33.9" rx="2.2" ry="2.3" transform="rotate(159 24.5 33.9)"/><ellipse cx="26.5" cy="35.1" rx="2.8" ry="1.8" transform="rotate(78 26.5 35.1)"/><ellipse cx="31.6" cy="33.0" rx="2.2" ry="1.8" transform="rotate(133 31.6 33.0)"/><ellipse cx="31.9" cy="34.5" rx="2.1" ry="1.9" transform="rotate(64 31.9 34.5)"/><ellipse cx="30.8" cy="34.7" rx="2.4" ry="1.9" transform="rotate(168 30.8 34.7)"/><ellipse cx="49.5" cy="37.8" rx="1.9" ry="1.7" transform="rotate(40 49.5 37.8)"/><ellipse cx="50.8" cy="38.5" rx="1.9" ry="1.9" transform="rotate(35 50.8 38.5)"/><ellipse cx="49.9" cy="38.5" rx="2.3" ry="1.6" transform="rotate(79 49.9 38.5)"/><ellipse cx="45.7" cy="43.3" rx="2.4" ry="2.3" transform="rotate(172 45.7 43.3)"/><ellipse cx="45.3" cy="41.5" rx="2.5" ry="2.4" transform="rotate(161 45.3 41.5)"/><ellipse cx="46.1" cy="41.5" rx="2.3" ry="2.3" transform="rotate(93 46.1 41.5)"/><ellipse cx="49.1" cy="40.3" rx="2.2" ry="2.2" transform="rotate(120 49.1 40.3)"/><ellipse cx="48.3" cy="40.6" rx="2.2" ry="1.9" transform="rotate(104 48.3 40.6)"/><ellipse cx="49.3" cy="41.5" rx="2.4" ry="1.8" transform="rotate(83 49.3 41.5)"/><ellipse cx="17.0" cy="40.8" rx="2.5" ry="2.2" transform="rotate(41 17.0 40.8)"/><ellipse cx="17.9" cy="41.4" rx="2.4" ry="2.0" transform="rotate(23 17.9 41.4)"/><ellipse cx="17.4" cy="41.6" rx="2.2" ry="2.5" transform="rotate(174 17.4 41.6)"/><ellipse cx="36.4" cy="46.5" rx="2.4" ry="2.1" transform="rotate(2 36.4 46.5)"/><ellipse cx="37.9" cy="47.2" rx="2.0" ry="1.9" transform="rotate(153 37.9 47.2)"/><ellipse cx="37.5" cy="45.6" rx="2.1" ry="1.8" transform="rotate(134 37.5 45.6)"/><ellipse cx="12.7" cy="51.6" rx="3.7" ry="3.0" transform="rotate(8 12.7 51.6)"/><ellipse cx="13.6" cy="50.6" rx="3.6" ry="3.2" transform="rotate(45 13.6 50.6)"/><ellipse cx="14.2" cy="50.7" rx="2.8" ry="3.3" transform="rotate(79 14.2 50.7)"/><ellipse cx="12.1" cy="48.1" rx="3.3" ry="3.0" transform="rotate(24 12.1 48.1)"/><ellipse cx="9.7" cy="53.4" rx="2.3" ry="2.2" transform="rotate(29 9.7 53.4)"/><ellipse cx="9.0" cy="53.1" rx="2.6" ry="2.5" transform="rotate(145 9.0 53.1)"/><ellipse cx="10.1" cy="53.0" rx="2.5" ry="2.0" transform="rotate(124 10.1 53.0)"/><ellipse cx="5.1" cy="52.4" rx="1.9" ry="1.5" transform="rotate(102 5.1 52.4)"/><ellipse cx="4.7" cy="52.1" rx="1.9" ry="1.8" transform="rotate(24 4.7 52.1)"/><ellipse cx="17.9" cy="50.4" rx="1.7" ry="1.8" transform="rotate(107 17.9 50.4)"/><ellipse cx="18.0" cy="49.3" rx="1.8" ry="1.6" transform="rotate(31 18.0 49.3)"/><ellipse cx="66.1" cy="49.1" rx="2.4" ry="1.9" transform="rotate(90 66.1 49.1)"/><ellipse cx="66.2" cy="48.6" rx="1.9" ry="1.8" transform="rotate(107 66.2 48.6)"/><ellipse cx="65.8" cy="50.9" rx="2.0" ry="1.7" transform="rotate(65 65.8 50.9)"/><ellipse cx="10.0" cy="61.2" rx="2.7" ry="1.8" transform="rotate(44 10.0 61.2)"/><ellipse cx="11.7" cy="61.3" rx="2.6" ry="2.1" transform="rotate(92 11.7 61.3)"/><ellipse cx="11.2" cy="61.1" rx="2.8" ry="1.9" transform="rotate(81 11.2 61.1)"/><ellipse cx="53.5" cy="63.1" rx="2.7" ry="1.9" transform="rotate(125 53.5 63.1)"/><ellipse cx="52.3" cy="63.1" rx="2.2" ry="2.0" transform="rotate(20 52.3 63.1)"/><ellipse cx="52.9" cy="64.7" rx="2.8" ry="2.1" transform="rotate(45 52.9 64.7)"/><ellipse cx="5.3" cy="65.0" rx="2.5" ry="2.0" transform="rotate(153 5.3 65.0)"/><ellipse cx="7.0" cy="65.1" rx="2.5" ry="2.1" transform="rotate(112 7.0 65.1)"/><ellipse cx="5.4" cy="64.2" rx="2.4" ry="2.3" transform="rotate(32 5.4 64.2)"/><ellipse cx="6.2" cy="67.6" rx="2.8" ry="2.5" transform="rotate(164 6.2 67.6)"/><ellipse cx="8.4" cy="67.7" rx="2.3" ry="2.3" transform="rotate(77 8.4 67.7)"/><ellipse cx="6.1" cy="68.3" rx="2.9" ry="2.2" transform="rotate(126 6.1 68.3)"/><ellipse cx="33.4" cy="67.2" rx="2.4" ry="2.2" transform="rotate(127 33.4 67.2)"/><ellipse cx="34.8" cy="66.6" rx="1.9" ry="1.7" transform="rotate(152 34.8 66.6)"/><ellipse cx="34.9" cy="67.4" rx="2.0" ry="1.9" transform="rotate(166 34.9 67.4)"/><ellipse cx="27.5" cy="67.3" rx="1.7" ry="1.6" transform="rotate(130 27.5 67.3)"/><ellipse cx="28.8" cy="67.2" rx="1.8" ry="1.7" transform="rotate(29 28.8 67.2)"/><ellipse cx="58.7" cy="66.6" rx="2.3" ry="1.6" transform="rotate(41 58.7 66.6)"/><ellipse cx="58.4" cy="68.2" rx="2.1" ry="1.8" transform="rotate(78 58.4 68.2)"/><ellipse cx="58.8" cy="68.5" rx="2.3" ry="1.9" transform="rotate(149 58.8 68.5)"/><ellipse cx="74.7" cy="67.1" rx="2.3" ry="1.8" transform="rotate(16 74.7 67.1)"/><ellipse cx="74.5" cy="67.5" rx="2.3" ry="2.0" transform="rotate(81 74.5 67.5)"/><ellipse cx="75.7" cy="67.8" rx="2.4" ry="2.1" transform="rotate(172 75.7 67.8)"/><ellipse cx="45.9" cy="67.9" rx="2.5" ry="2.1" transform="rotate(28 45.9 67.9)"/><ellipse cx="45.5" cy="69.6" rx="2.6" ry="1.9" transform="rotate(145 45.5 69.6)"/><ellipse cx="44.6" cy="68.0" rx="2.2" ry="2.4" transform="rotate(27 44.6 68.0)"/><ellipse cx="41.7" cy="71.0" rx="2.8" ry="2.0" transform="rotate(45 41.7 71.0)"/><ellipse cx="38.7" cy="71.8" rx="2.4" ry="2.5" transform="rotate(109 38.7 71.8)"/><ellipse cx="39.6" cy="70.5" rx="2.6" ry="2.1" transform="rotate(143 39.6 70.5)"/><ellipse cx="34.2" cy="73.4" rx="2.6" ry="2.2" transform="rotate(56 34.2 73.4)"/><ellipse cx="36.1" cy="72.6" rx="2.5" ry="2.4" transform="rotate(90 36.1 72.6)"/><ellipse cx="34.3" cy="72.1" rx="2.4" ry="1.8" transform="rotate(137 34.3 72.1)"/><ellipse cx="4.1" cy="73.1" rx="2.2" ry="2.2" transform="rotate(102 4.1 73.1)"/><ellipse cx="2.3" cy="71.4" rx="2.2" ry="2.0" transform="rotate(34 2.3 71.4)"/><ellipse cx="2.9" cy="72.3" rx="1.9" ry="1.9" transform="rotate(163 2.9 72.3)"/><ellipse cx="25.3" cy="73.7" rx="1.8" ry="1.7" transform="rotate(147 25.3 73.7)"/><ellipse cx="24.8" cy="73.6" rx="1.7" ry="1.6" transform="rotate(41 24.8 73.6)"/><ellipse cx="69.4" cy="70.7" rx="2.0" ry="1.9" transform="rotate(46 69.4 70.7)"/><ellipse cx="70.0" cy="70.5" rx="2.2" ry="2.0" transform="rotate(21 70.0 70.5)"/><ellipse cx="70.6" cy="70.1" rx="2.3" ry="1.7" transform="rotate(125 70.6 70.1)"/><ellipse cx="70.0" cy="74.7" rx="2.1" ry="2.1" transform="rotate(138 70.0 74.7)"/><ellipse cx="70.5" cy="75.9" rx="2.3" ry="1.8" transform="rotate(42 70.5 75.9)"/><ellipse cx="70.6" cy="74.3" rx="2.2" ry="2.1" transform="rotate(91 70.6 74.3)"/><ellipse cx="5.5" cy="77.2" rx="1.8" ry="1.8" transform="rotate(14 5.5 77.2)"/><ellipse cx="6.8" cy="77.8" rx="1.8" ry="1.6" transform="rotate(168 6.8 77.8)"/></g>
<g fill="#d2ca46"><ellipse cx="49.9" cy="1.1" rx="2.3" ry="1.6" transform="rotate(106 49.9 1.1)"/><ellipse cx="51.6" cy="-0.0" rx="2.0" ry="2.0" transform="rotate(87 51.6 -0.0)"/><ellipse cx="50.7" cy="-0.2" rx="2.4" ry="2.1" transform="rotate(29 50.7 -0.2)"/><ellipse cx="52.2" cy="1.6" rx="2.7" ry="1.4" transform="rotate(172 52.2 1.6)"/><ellipse cx="41.1" cy="10.2" rx="2.0" ry="1.4" transform="rotate(163 41.1 10.2)"/><ellipse cx="42.4" cy="9.0" rx="1.9" ry="1.7" transform="rotate(104 42.4 9.0)"/><ellipse cx="39.9" cy="10.2" rx="2.1" ry="1.3" transform="rotate(67 39.9 10.2)"/><ellipse cx="41.6" cy="12.4" rx="1.6" ry="0.8" transform="rotate(100 41.6 12.4)"/><ellipse cx="40.6" cy="12.2" rx="1.6" ry="1.1" transform="rotate(149 40.6 12.2)"/><ellipse cx="40.0" cy="12.6" rx="1.2" ry="1.2" transform="rotate(176 40.0 12.6)"/><ellipse cx="49.0" cy="12.5" rx="1.3" ry="1.3" transform="rotate(113 49.0 12.5)"/><ellipse cx="47.4" cy="12.2" rx="1.5" ry="1.1" transform="rotate(4 47.4 12.2)"/><ellipse cx="48.3" cy="14.1" rx="1.4" ry="1.2" transform="rotate(32 48.3 14.1)"/><ellipse cx="52.8" cy="10.0" rx="1.1" ry="1.1" transform="rotate(160 52.8 10.0)"/><ellipse cx="54.8" cy="8.4" rx="1.2" ry="1.2" transform="rotate(102 54.8 8.4)"/><ellipse cx="54.2" cy="7.6" rx="1.5" ry="1.0" transform="rotate(92 54.2 7.6)"/><ellipse cx="5.2" cy="23.7" rx="1.0" ry="0.6" transform="rotate(93 5.2 23.7)"/><ellipse cx="5.5" cy="23.5" rx="1.1" ry="1.0" transform="rotate(14 5.5 23.5)"/><ellipse cx="18.2" cy="23.2" rx="2.3" ry="1.6" transform="rotate(99 18.2 23.2)"/><ellipse cx="19.2" cy="24.6" rx="2.2" ry="1.5" transform="rotate(93 19.2 24.6)"/><ellipse cx="20.0" cy="22.4" rx="2.3" ry="2.2" transform="rotate(57 20.0 22.4)"/><ellipse cx="19.0" cy="23.6" rx="2.1" ry="2.3" transform="rotate(71 19.0 23.6)"/><ellipse cx="21.2" cy="21.3" rx="1.6" ry="1.6" transform="rotate(133 21.2 21.3)"/><ellipse cx="20.9" cy="21.6" rx="2.0" ry="1.6" transform="rotate(176 20.9 21.6)"/><ellipse cx="20.3" cy="20.1" rx="1.9" ry="1.6" transform="rotate(126 20.3 20.1)"/><ellipse cx="25.1" cy="26.1" rx="1.2" ry="1.2" transform="rotate(141 25.1 26.1)"/><ellipse cx="25.8" cy="26.1" rx="1.2" ry="1.2" transform="rotate(59 25.8 26.1)"/><ellipse cx="24.3" cy="26.2" rx="1.1" ry="0.9" transform="rotate(126 24.3 26.2)"/><ellipse cx="17.7" cy="27.1" rx="1.5" ry="0.9" transform="rotate(4 17.7 27.1)"/><ellipse cx="16.7" cy="28.1" rx="1.1" ry="1.0" transform="rotate(1 16.7 28.1)"/><ellipse cx="18.0" cy="27.6" rx="1.2" ry="1.0" transform="rotate(85 18.0 27.6)"/><ellipse cx="41.8" cy="26.1" rx="1.5" ry="1.2" transform="rotate(161 41.8 26.1)"/><ellipse cx="43.2" cy="25.4" rx="1.4" ry="1.2" transform="rotate(125 43.2 25.4)"/><ellipse cx="42.2" cy="26.2" rx="1.5" ry="0.9" transform="rotate(34 42.2 26.2)"/><ellipse cx="49.2" cy="24.3" rx="1.2" ry="1.1" transform="rotate(50 49.2 24.3)"/><ellipse cx="49.9" cy="24.4" rx="1.5" ry="1.0" transform="rotate(114 49.9 24.4)"/><ellipse cx="48.1" cy="23.8" rx="1.4" ry="1.0" transform="rotate(45 48.1 23.8)"/><ellipse cx="49.8" cy="25.9" rx="1.1" ry="0.7" transform="rotate(16 49.8 25.9)"/><ellipse cx="48.4" cy="25.9" rx="0.8" ry="1.0" transform="rotate(44 48.4 25.9)"/><ellipse cx="75.9" cy="22.7" rx="1.5" ry="1.7" transform="rotate(38 75.9 22.7)"/><ellipse cx="73.6" cy="21.8" rx="1.7" ry="1.7" transform="rotate(78 73.6 21.8)"/><ellipse cx="74.4" cy="20.9" rx="1.7" ry="1.7" transform="rotate(158 74.4 20.9)"/><ellipse cx="71.4" cy="23.3" rx="1.4" ry="1.1" transform="rotate(100 71.4 23.3)"/><ellipse cx="71.9" cy="23.8" rx="1.4" ry="0.9" transform="rotate(89 71.9 23.8)"/><ellipse cx="73.3" cy="23.9" rx="1.4" ry="0.8" transform="rotate(70 73.3 23.9)"/><ellipse cx="60.1" cy="21.7" rx="0.8" ry="0.9" transform="rotate(104 60.1 21.7)"/><ellipse cx="60.7" cy="21.5" rx="0.9" ry="0.9" transform="rotate(162 60.7 21.5)"/><ellipse cx="67.4" cy="27.5" rx="1.1" ry="1.0" transform="rotate(118 67.4 27.5)"/><ellipse cx="69.0" cy="25.4" rx="1.1" ry="1.1" transform="rotate(25 69.0 25.4)"/><ellipse cx="68.7" cy="26.1" rx="1.2" ry="1.2" transform="rotate(173 68.7 26.1)"/><ellipse cx="57.6" cy="32.4" rx="2.8" ry="1.7" transform="rotate(57 57.6 32.4)"/><ellipse cx="60.2" cy="29.4" rx="2.8" ry="2.3" transform="rotate(84 60.2 29.4)"/><ellipse cx="61.2" cy="30.0" rx="2.5" ry="1.9" transform="rotate(74 61.2 30.0)"/><ellipse cx="58.1" cy="30.5" rx="2.6" ry="1.9" transform="rotate(145 58.1 30.5)"/><ellipse cx="63.3" cy="31.5" rx="2.4" ry="1.2" transform="rotate(161 63.3 31.5)"/><ellipse cx="64.3" cy="31.7" rx="1.6" ry="1.2" transform="rotate(121 64.3 31.7)"/><ellipse cx="65.2" cy="30.5" rx="1.7" ry="1.4" transform="rotate(27 65.2 30.5)"/><ellipse cx="65.1" cy="29.2" rx="1.6" ry="2.1" transform="rotate(17 65.1 29.2)"/><ellipse cx="70.5" cy="33.0" rx="1.5" ry="1.5" transform="rotate(55 70.5 33.0)"/><ellipse cx="67.6" cy="30.8" rx="1.9" ry="1.8" transform="rotate(158 67.6 30.8)"/><ellipse cx="69.1" cy="32.9" rx="2.0" ry="1.1" transform="rotate(160 69.1 32.9)"/><ellipse cx="67.2" cy="37.9" rx="1.2" ry="1.0" transform="rotate(147 67.2 37.9)"/><ellipse cx="67.7" cy="36.8" rx="1.2" ry="0.8" transform="rotate(81 67.7 36.8)"/><ellipse cx="24.9" cy="35.2" rx="1.9" ry="1.4" transform="rotate(38 24.9 35.2)"/><ellipse cx="24.5" cy="33.9" rx="1.4" ry="1.5" transform="rotate(159 24.5 33.9)"/><ellipse cx="26.5" cy="35.1" rx="2.0" ry="1.0" transform="rotate(78 26.5 35.1)"/><ellipse cx="31.6" cy="33.0" rx="1.4" ry="1.0" transform="rotate(133 31.6 33.0)"/><ellipse cx="31.9" cy="34.5" rx="1.3" ry="1.1" transform="rotate(64 31.9 34.5)"/><ellipse cx="30.8" cy="34.7" rx="1.6" ry="1.1" transform="rotate(168 30.8 34.7)"/><ellipse cx="49.5" cy="37.8" rx="1.1" ry="0.9" transform="rotate(40 49.5 37.8)"/><ellipse cx="50.8" cy="38.5" rx="1.1" ry="1.1" transform="rotate(35 50.8 38.5)"/><ellipse cx="49.9" cy="38.5" rx="1.5" ry="0.8" transform="rotate(79 49.9 38.5)"/><ellipse cx="45.7" cy="43.3" rx="1.6" ry="1.5" transform="rotate(172 45.7 43.3)"/><ellipse cx="45.3" cy="41.5" rx="1.7" ry="1.6" transform="rotate(161 45.3 41.5)"/><ellipse cx="46.1" cy="41.5" rx="1.5" ry="1.5" transform="rotate(93 46.1 41.5)"/><ellipse cx="49.1" cy="40.3" rx="1.4" ry="1.4" transform="rotate(120 49.1 40.3)"/><ellipse cx="48.3" cy="40.6" rx="1.4" ry="1.1" transform="rotate(104 48.3 40.6)"/><ellipse cx="49.3" cy="41.5" rx="1.6" ry="1.0" transform="rotate(83 49.3 41.5)"/><ellipse cx="17.0" cy="40.8" rx="1.7" ry="1.4" transform="rotate(41 17.0 40.8)"/><ellipse cx="17.9" cy="41.4" rx="1.6" ry="1.2" transform="rotate(23 17.9 41.4)"/><ellipse cx="17.4" cy="41.6" rx="1.4" ry="1.7" transform="rotate(174 17.4 41.6)"/><ellipse cx="36.4" cy="46.5" rx="1.6" ry="1.3" transform="rotate(2 36.4 46.5)"/><ellipse cx="37.9" cy="47.2" rx="1.2" ry="1.1" transform="rotate(153 37.9 47.2)"/><ellipse cx="37.5" cy="45.6" rx="1.3" ry="1.0" transform="rotate(134 37.5 45.6)"/><ellipse cx="12.7" cy="51.6" rx="2.9" ry="2.2" transform="rotate(8 12.7 51.6)"/><ellipse cx="13.6" cy="50.6" rx="2.8" ry="2.4" transform="rotate(45 13.6 50.6)"/><ellipse cx="14.2" cy="50.7" rx="2.0" ry="2.5" transform="rotate(79 14.2 50.7)"/><ellipse cx="12.1" cy="48.1" rx="2.5" ry="2.2" transform="rotate(24 12.1 48.1)"/><ellipse cx="9.7" cy="53.4" rx="1.5" ry="1.4" transform="rotate(29 9.7 53.4)"/><ellipse cx="9.0" cy="53.1" rx="1.8" ry="1.7" transform="rotate(145 9.0 53.1)"/><ellipse cx="10.1" cy="53.0" rx="1.7" ry="1.2" transform="rotate(124 10.1 53.0)"/><ellipse cx="5.1" cy="52.4" rx="1.1" ry="0.7" transform="rotate(102 5.1 52.4)"/><ellipse cx="4.7" cy="52.1" rx="1.1" ry="1.0" transform="rotate(24 4.7 52.1)"/><ellipse cx="17.9" cy="50.4" rx="0.9" ry="1.0" transform="rotate(107 17.9 50.4)"/><ellipse cx="18.0" cy="49.3" rx="1.0" ry="0.8" transform="rotate(31 18.0 49.3)"/><ellipse cx="66.1" cy="49.1" rx="1.6" ry="1.1" transform="rotate(90 66.1 49.1)"/><ellipse cx="66.2" cy="48.6" rx="1.1" ry="1.0" transform="rotate(107 66.2 48.6)"/><ellipse cx="65.8" cy="50.9" rx="1.2" ry="0.9" transform="rotate(65 65.8 50.9)"/><ellipse cx="10.0" cy="61.2" rx="1.9" ry="1.0" transform="rotate(44 10.0 61.2)"/><ellipse cx="11.7" cy="61.3" rx="1.8" ry="1.3" transform="rotate(92 11.7 61.3)"/><ellipse cx="11.2" cy="61.1" rx="2.0" ry="1.1" transform="rotate(81 11.2 61.1)"/><ellipse cx="53.5" cy="63.1" rx="1.9" ry="1.1" transform="rotate(125 53.5 63.1)"/><ellipse cx="52.3" cy="63.1" rx="1.4" ry="1.2" transform="rotate(20 52.3 63.1)"/><ellipse cx="52.9" cy="64.7" rx="2.0" ry="1.3" transform="rotate(45 52.9 64.7)"/><ellipse cx="5.3" cy="65.0" rx="1.7" ry="1.2" transform="rotate(153 5.3 65.0)"/><ellipse cx="7.0" cy="65.1" rx="1.7" ry="1.3" transform="rotate(112 7.0 65.1)"/><ellipse cx="5.4" cy="64.2" rx="1.6" ry="1.5" transform="rotate(32 5.4 64.2)"/><ellipse cx="6.2" cy="67.6" rx="2.0" ry="1.7" transform="rotate(164 6.2 67.6)"/><ellipse cx="8.4" cy="67.7" rx="1.5" ry="1.5" transform="rotate(77 8.4 67.7)"/><ellipse cx="6.1" cy="68.3" rx="2.1" ry="1.4" transform="rotate(126 6.1 68.3)"/><ellipse cx="33.4" cy="67.2" rx="1.6" ry="1.4" transform="rotate(127 33.4 67.2)"/><ellipse cx="34.8" cy="66.6" rx="1.1" ry="0.9" transform="rotate(152 34.8 66.6)"/><ellipse cx="34.9" cy="67.4" rx="1.2" ry="1.1" transform="rotate(166 34.9 67.4)"/><ellipse cx="27.5" cy="67.3" rx="0.9" ry="0.8" transform="rotate(130 27.5 67.3)"/><ellipse cx="28.8" cy="67.2" rx="1.0" ry="0.9" transform="rotate(29 28.8 67.2)"/><ellipse cx="58.7" cy="66.6" rx="1.5" ry="0.8" transform="rotate(41 58.7 66.6)"/><ellipse cx="58.4" cy="68.2" rx="1.3" ry="1.0" transform="rotate(78 58.4 68.2)"/><ellipse cx="58.8" cy="68.5" rx="1.5" ry="1.1" transform="rotate(149 58.8 68.5)"/><ellipse cx="74.7" cy="67.1" rx="1.5" ry="1.0" transform="rotate(16 74.7 67.1)"/><ellipse cx="74.5" cy="67.5" rx="1.5" ry="1.2" transform="rotate(81 74.5 67.5)"/><ellipse cx="75.7" cy="67.8" rx="1.6" ry="1.3" transform="rotate(172 75.7 67.8)"/><ellipse cx="45.9" cy="67.9" rx="1.7" ry="1.3" transform="rotate(28 45.9 67.9)"/><ellipse cx="45.5" cy="69.6" rx="1.8" ry="1.1" transform="rotate(145 45.5 69.6)"/><ellipse cx="44.6" cy="68.0" rx="1.4" ry="1.6" transform="rotate(27 44.6 68.0)"/><ellipse cx="41.7" cy="71.0" rx="2.0" ry="1.2" transform="rotate(45 41.7 71.0)"/><ellipse cx="38.7" cy="71.8" rx="1.6" ry="1.7" transform="rotate(109 38.7 71.8)"/><ellipse cx="39.6" cy="70.5" rx="1.8" ry="1.3" transform="rotate(143 39.6 70.5)"/><ellipse cx="34.2" cy="73.4" rx="1.8" ry="1.4" transform="rotate(56 34.2 73.4)"/><ellipse cx="36.1" cy="72.6" rx="1.7" ry="1.6" transform="rotate(90 36.1 72.6)"/><ellipse cx="34.3" cy="72.1" rx="1.6" ry="1.0" transform="rotate(137 34.3 72.1)"/><ellipse cx="4.1" cy="73.1" rx="1.4" ry="1.4" transform="rotate(102 4.1 73.1)"/><ellipse cx="2.3" cy="71.4" rx="1.4" ry="1.2" transform="rotate(34 2.3 71.4)"/><ellipse cx="2.9" cy="72.3" rx="1.1" ry="1.1" transform="rotate(163 2.9 72.3)"/><ellipse cx="25.3" cy="73.7" rx="1.0" ry="0.9" transform="rotate(147 25.3 73.7)"/><ellipse cx="24.8" cy="73.6" rx="0.9" ry="0.8" transform="rotate(41 24.8 73.6)"/><ellipse cx="69.4" cy="70.7" rx="1.2" ry="1.1" transform="rotate(46 69.4 70.7)"/><ellipse cx="70.0" cy="70.5" rx="1.4" ry="1.2" transform="rotate(21 70.0 70.5)"/><ellipse cx="70.6" cy="70.1" rx="1.5" ry="0.9" transform="rotate(125 70.6 70.1)"/><ellipse cx="70.0" cy="74.7" rx="1.3" ry="1.3" transform="rotate(138 70.0 74.7)"/><ellipse cx="70.5" cy="75.9" rx="1.5" ry="1.0" transform="rotate(42 70.5 75.9)"/><ellipse cx="70.6" cy="74.3" rx="1.4" ry="1.3" transform="rotate(91 70.6 74.3)"/><ellipse cx="5.5" cy="77.2" rx="1.0" ry="1.0" transform="rotate(14 5.5 77.2)"/><ellipse cx="6.8" cy="77.8" rx="1.0" ry="0.8" transform="rotate(168 6.8 77.8)"/></g>
<path d="M48.3,71.6H54.3" stroke="#e8e8e8" stroke-width="1.6"/>
<text x="55.8" y="74.1" font-size="6.6" fill="#1a1a1a" textLength="14" lengthAdjust="spacingAndGlyphs">30µm</text>
</svg>
<svg x="473.2" y="598.2" width="79.8" height="79.1" viewBox="0 0 79.8 79.1" overflow="hidden">
<rect width="79.8" height="79.1" fill="#8d66a6"/>
<rect width="79.8" height="79.1" fill="url(#np68675)"/>
<g fill="none" stroke="#55204a" stroke-width="1.1" stroke-dasharray="1.2,0.8" opacity="0.6" stroke-linejoin="round"><path d="M49.7,65.7L47.1,65.2L44.5,65.3L42.3,66.6L40.4,68.4L39.5,70.9"/><path d="M52.2,15.1L50.5,17.1L49.2,19.3L49.1,21.9"/><path d="M23.9,21.5L25.8,23.3L27.4,25.3L27.9,27.9L29.1,30.2L29.5,32.7L31.2,34.7"/><path d="M13.4,19.7L11.0,20.7L8.4,20.3L5.8,20.1L3.6,18.7L1.5,17.2"/><path d="M39.7,2.0L42.3,2.6L44.9,2.3L47.2,3.4L49.7,4.1L52.2,4.9L54.6,5.8L56.5,7.6"/><path d="M7.3,30.3L5.2,28.9L2.7,28.0L1.3,25.8L-1.1,24.8L-3.2,23.2L-5.3,21.8"/><path d="M41.2,68.6L38.6,68.7L36.1,69.5L33.5,69.5L31.2,68.2"/><path d="M5.2,19.0L3.1,20.5L1.8,22.8L1.1,25.3L-0.6,27.2"/><path d="M36.4,4.3L38.9,4.6L41.4,5.3L43.3,7.2L43.9,9.7"/><path d="M10.2,28.2L12.6,27.3L15.2,27.6L17.7,26.8"/><path d="M74.0,21.4L76.3,22.6L78.8,23.3L81.4,22.8L83.9,22.3L86.0,20.8"/><path d="M73.0,47.4L70.7,46.2L68.7,44.6L66.5,43.1L63.9,43.1L61.4,43.8L58.9,43.4"/><path d="M16.1,21.7L18.7,22.0L21.3,21.9L23.9,21.9"/><path d="M77.2,42.0L79.8,42.1L82.1,40.8L83.8,38.9L85.9,37.3L86.9,35.0L87.4,32.4L89.2,30.5"/><path d="M12.4,25.8L14.6,27.3L15.6,29.7L15.3,32.3"/><path d="M35.9,67.7L33.6,66.6L31.0,66.4L28.4,66.2L25.8,66.6"/><path d="M2.1,26.5L4.4,27.6L6.1,29.6L7.2,32.0L8.1,34.4L8.5,37.0"/><path d="M24.4,29.9L27.0,30.1L29.1,31.6L30.1,34.0L30.1,36.6L29.1,39.1L28.2,41.5L28.2,44.1"/><path d="M1.0,59.2L-1.4,58.2L-3.9,57.5L-5.7,55.6L-7.8,54.1"/><path d="M70.0,22.2L68.3,24.2L66.2,25.8L64.5,27.8L62.9,29.8L62.1,32.3L60.7,34.5"/><path d="M7.0,74.0L5.1,72.2L2.7,71.2L0.4,70.1L-1.5,68.2L-3.0,66.2"/><path d="M54.1,22.1L55.8,20.2L56.4,17.7L57.8,15.5L59.4,13.4L61.3,11.7L62.9,9.6"/></g>
<g fill="#4e1c40" opacity="0.62"><ellipse cx="15.1" cy="0.6" rx="2.5" ry="1.9" transform="rotate(150 15.1 0.6)"/><ellipse cx="15.7" cy="1.4" rx="2.6" ry="2.0" transform="rotate(162 15.7 1.4)"/><ellipse cx="13.4" cy="2.0" rx="2.2" ry="1.9" transform="rotate(57 13.4 2.0)"/><ellipse cx="17.2" cy="1.1" rx="2.0" ry="1.6" transform="rotate(96 17.2 1.1)"/><ellipse cx="17.0" cy="2.4" rx="1.9" ry="1.6" transform="rotate(72 17.0 2.4)"/><ellipse cx="51.2" cy="2.8" rx="3.7" ry="2.8" transform="rotate(60 51.2 2.8)"/><ellipse cx="48.2" cy="2.0" rx="3.5" ry="2.8" transform="rotate(118 48.2 2.0)"/><ellipse cx="47.8" cy="4.6" rx="2.8" ry="3.1" transform="rotate(106 47.8 4.6)"/><ellipse cx="49.6" cy="3.7" rx="3.1" ry="2.2" transform="rotate(65 49.6 3.7)"/><ellipse cx="50.7" cy="7.4" rx="1.9" ry="2.1" transform="rotate(130 50.7 7.4)"/><ellipse cx="51.4" cy="5.5" rx="2.2" ry="2.0" transform="rotate(140 51.4 5.5)"/><ellipse cx="51.7" cy="7.6" rx="2.1" ry="1.9" transform="rotate(138 51.7 7.6)"/><ellipse cx="66.1" cy="1.3" rx="2.1" ry="1.7" transform="rotate(175 66.1 1.3)"/><ellipse cx="67.0" cy="1.1" rx="2.3" ry="1.6" transform="rotate(168 67.0 1.1)"/><ellipse cx="66.5" cy="1.6" rx="1.9" ry="2.1" transform="rotate(101 66.5 1.6)"/><ellipse cx="69.3" cy="9.4" rx="3.1" ry="2.3" transform="rotate(93 69.3 9.4)"/><ellipse cx="70.2" cy="8.2" rx="3.0" ry="2.3" transform="rotate(148 70.2 8.2)"/><ellipse cx="72.4" cy="8.7" rx="3.0" ry="2.8" transform="rotate(172 72.4 8.7)"/><ellipse cx="72.3" cy="6.3" rx="3.0" ry="2.0" transform="rotate(63 72.3 6.3)"/><ellipse cx="6.0" cy="11.4" rx="1.9" ry="1.7" transform="rotate(161 6.0 11.4)"/><ellipse cx="6.5" cy="12.0" rx="2.3" ry="1.9" transform="rotate(55 6.5 12.0)"/><ellipse cx="8.0" cy="10.1" rx="2.1" ry="1.7" transform="rotate(60 8.0 10.1)"/><ellipse cx="65.7" cy="11.6" rx="2.7" ry="2.4" transform="rotate(148 65.7 11.6)"/><ellipse cx="64.0" cy="10.5" rx="2.3" ry="2.1" transform="rotate(81 64.0 10.5)"/><ellipse cx="63.6" cy="10.4" rx="2.2" ry="2.5" transform="rotate(18 63.6 10.4)"/><ellipse cx="66.1" cy="16.4" rx="2.5" ry="2.1" transform="rotate(43 66.1 16.4)"/><ellipse cx="65.3" cy="15.5" rx="2.8" ry="2.2" transform="rotate(145 65.3 15.5)"/><ellipse cx="65.3" cy="14.9" rx="2.4" ry="2.7" transform="rotate(142 65.3 14.9)"/><ellipse cx="64.1" cy="15.5" rx="3.0" ry="2.4" transform="rotate(48 64.1 15.5)"/><ellipse cx="6.7" cy="19.8" rx="2.3" ry="2.4" transform="rotate(125 6.7 19.8)"/><ellipse cx="6.4" cy="19.2" rx="2.7" ry="2.0" transform="rotate(95 6.4 19.2)"/><ellipse cx="4.3" cy="18.6" rx="2.2" ry="2.2" transform="rotate(68 4.3 18.6)"/><ellipse cx="12.5" cy="19.3" rx="2.5" ry="2.7" transform="rotate(38 12.5 19.3)"/><ellipse cx="11.3" cy="20.0" rx="2.5" ry="2.7" transform="rotate(50 11.3 20.0)"/><ellipse cx="12.2" cy="19.7" rx="3.3" ry="2.3" transform="rotate(83 12.2 19.7)"/><ellipse cx="13.2" cy="20.8" rx="3.2" ry="2.2" transform="rotate(34 13.2 20.8)"/><ellipse cx="59.2" cy="18.4" rx="2.3" ry="2.1" transform="rotate(134 59.2 18.4)"/><ellipse cx="58.8" cy="19.3" rx="2.4" ry="2.3" transform="rotate(80 58.8 19.3)"/><ellipse cx="60.3" cy="20.8" rx="2.4" ry="2.3" transform="rotate(30 60.3 20.8)"/><ellipse cx="57.1" cy="26.9" rx="3.1" ry="2.4" transform="rotate(67 57.1 26.9)"/><ellipse cx="56.2" cy="24.2" rx="2.4" ry="2.1" transform="rotate(8 56.2 24.2)"/><ellipse cx="56.8" cy="25.6" rx="2.7" ry="2.4" transform="rotate(168 56.8 25.6)"/><ellipse cx="57.5" cy="24.5" rx="2.5" ry="2.8" transform="rotate(26 57.5 24.5)"/><ellipse cx="22.8" cy="25.8" rx="3.0" ry="2.1" transform="rotate(117 22.8 25.8)"/><ellipse cx="23.2" cy="25.7" rx="2.4" ry="2.6" transform="rotate(163 23.2 25.7)"/><ellipse cx="22.5" cy="27.2" rx="3.0" ry="2.5" transform="rotate(20 22.5 27.2)"/><ellipse cx="24.1" cy="27.3" rx="2.6" ry="2.8" transform="rotate(161 24.1 27.3)"/><ellipse cx="15.0" cy="29.7" rx="3.2" ry="2.4" transform="rotate(3 15.0 29.7)"/><ellipse cx="11.9" cy="28.7" rx="2.9" ry="2.1" transform="rotate(19 11.9 28.7)"/><ellipse cx="12.0" cy="30.6" rx="2.5" ry="2.0" transform="rotate(46 12.0 30.6)"/><ellipse cx="12.2" cy="30.5" rx="2.6" ry="2.4" transform="rotate(93 12.2 30.5)"/><ellipse cx="37.4" cy="27.0" rx="2.1" ry="2.2" transform="rotate(56 37.4 27.0)"/><ellipse cx="39.0" cy="25.8" rx="2.0" ry="1.8" transform="rotate(89 39.0 25.8)"/><ellipse cx="38.1" cy="25.3" rx="2.2" ry="2.1" transform="rotate(93 38.1 25.3)"/><ellipse cx="35.6" cy="29.1" rx="1.9" ry="1.7" transform="rotate(39 35.6 29.1)"/><ellipse cx="35.5" cy="29.5" rx="1.9" ry="1.8" transform="rotate(127 35.5 29.5)"/><ellipse cx="50.5" cy="29.9" rx="2.8" ry="2.1" transform="rotate(157 50.5 29.9)"/><ellipse cx="48.1" cy="29.9" rx="3.2" ry="2.2" transform="rotate(166 48.1 29.9)"/><ellipse cx="49.9" cy="28.6" rx="2.6" ry="2.8" transform="rotate(28 49.9 28.6)"/><ellipse cx="47.2" cy="28.3" rx="3.0" ry="2.3" transform="rotate(142 47.2 28.3)"/><ellipse cx="46.9" cy="28.6" rx="1.9" ry="1.8" transform="rotate(32 46.9 28.6)"/><ellipse cx="44.9" cy="30.5" rx="2.0" ry="1.9" transform="rotate(121 44.9 30.5)"/><ellipse cx="45.0" cy="28.4" rx="2.4" ry="1.7" transform="rotate(140 45.0 28.4)"/><ellipse cx="73.7" cy="31.5" rx="2.5" ry="2.8" transform="rotate(180 73.7 31.5)"/><ellipse cx="73.9" cy="30.1" rx="3.2" ry="2.5" transform="rotate(40 73.9 30.1)"/><ellipse cx="76.7" cy="30.1" rx="2.7" ry="2.8" transform="rotate(126 76.7 30.1)"/><ellipse cx="73.9" cy="31.2" rx="3.2" ry="2.5" transform="rotate(44 73.9 31.2)"/><ellipse cx="43.4" cy="33.8" rx="2.3" ry="2.1" transform="rotate(77 43.4 33.8)"/><ellipse cx="42.7" cy="33.2" rx="2.2" ry="2.2" transform="rotate(137 42.7 33.2)"/><ellipse cx="44.2" cy="32.9" rx="1.9" ry="2.2" transform="rotate(147 44.2 32.9)"/><ellipse cx="16.5" cy="34.3" rx="2.5" ry="2.5" transform="rotate(159 16.5 34.3)"/><ellipse cx="17.5" cy="36.0" rx="2.6" ry="2.2" transform="rotate(104 17.5 36.0)"/><ellipse cx="18.6" cy="34.7" rx="2.4" ry="2.4" transform="rotate(83 18.6 34.7)"/><ellipse cx="23.2" cy="36.6" rx="3.1" ry="2.7" transform="rotate(77 23.2 36.6)"/><ellipse cx="21.6" cy="36.4" rx="2.4" ry="2.4" transform="rotate(40 21.6 36.4)"/><ellipse cx="21.7" cy="35.9" rx="2.9" ry="2.4" transform="rotate(134 21.7 35.9)"/><ellipse cx="24.9" cy="37.5" rx="2.7" ry="2.7" transform="rotate(36 24.9 37.5)"/><ellipse cx="28.9" cy="34.2" rx="1.8" ry="2.2" transform="rotate(71 28.9 34.2)"/><ellipse cx="29.1" cy="35.1" rx="2.2" ry="1.8" transform="rotate(22 29.1 35.1)"/><ellipse cx="28.7" cy="34.9" rx="2.4" ry="1.6" transform="rotate(72 28.7 34.9)"/><ellipse cx="10.5" cy="34.3" rx="2.0" ry="1.6" transform="rotate(16 10.5 34.3)"/><ellipse cx="10.3" cy="35.9" rx="1.9" ry="1.5" transform="rotate(130 10.3 35.9)"/><ellipse cx="67.5" cy="35.0" rx="2.8" ry="2.7" transform="rotate(13 67.5 35.0)"/><ellipse cx="66.7" cy="35.4" rx="2.7" ry="2.1" transform="rotate(107 66.7 35.4)"/><ellipse cx="66.5" cy="35.4" rx="2.9" ry="2.3" transform="rotate(14 66.5 35.4)"/><ellipse cx="67.7" cy="33.4" rx="3.3" ry="2.1" transform="rotate(107 67.7 33.4)"/><ellipse cx="60.4" cy="37.4" rx="2.6" ry="2.5" transform="rotate(61 60.4 37.4)"/><ellipse cx="59.7" cy="38.1" rx="2.4" ry="2.3" transform="rotate(107 59.7 38.1)"/><ellipse cx="59.5" cy="38.7" rx="2.6" ry="2.0" transform="rotate(65 59.5 38.7)"/><ellipse cx="53.8" cy="39.9" rx="2.8" ry="2.3" transform="rotate(139 53.8 39.9)"/><ellipse cx="54.5" cy="37.4" rx="2.2" ry="2.5" transform="rotate(69 54.5 37.4)"/><ellipse cx="53.8" cy="38.8" rx="2.5" ry="1.9" transform="rotate(70 53.8 38.8)"/><ellipse cx="44.2" cy="37.7" rx="2.3" ry="2.0" transform="rotate(59 44.2 37.7)"/><ellipse cx="45.2" cy="38.6" rx="2.4" ry="2.2" transform="rotate(49 45.2 38.6)"/><ellipse cx="45.1" cy="39.1" rx="2.4" ry="2.2" transform="rotate(60 45.1 39.1)"/><ellipse cx="6.0" cy="40.8" rx="3.1" ry="2.8" transform="rotate(83 6.0 40.8)"/><ellipse cx="5.6" cy="44.5" rx="3.2" ry="2.2" transform="rotate(43 5.6 44.5)"/><ellipse cx="8.3" cy="44.4" rx="3.2" ry="2.1" transform="rotate(5 8.3 44.4)"/><ellipse cx="5.8" cy="41.0" rx="2.4" ry="2.6" transform="rotate(9 5.8 41.0)"/><ellipse cx="4.6" cy="47.3" rx="2.8" ry="1.8" transform="rotate(99 4.6 47.3)"/><ellipse cx="3.8" cy="47.0" rx="2.5" ry="2.4" transform="rotate(179 3.8 47.0)"/><ellipse cx="4.4" cy="47.2" rx="2.3" ry="2.4" transform="rotate(15 4.4 47.2)"/><ellipse cx="12.3" cy="47.4" rx="2.0" ry="1.8" transform="rotate(78 12.3 47.4)"/><ellipse cx="11.4" cy="48.1" rx="1.6" ry="1.5" transform="rotate(66 11.4 48.1)"/><ellipse cx="25.5" cy="44.9" rx="1.6" ry="1.5" transform="rotate(20 25.5 44.9)"/><ellipse cx="25.8" cy="45.0" rx="1.6" ry="1.4" transform="rotate(105 25.8 45.0)"/><ellipse cx="44.6" cy="43.7" rx="2.4" ry="2.1" transform="rotate(44 44.6 43.7)"/><ellipse cx="44.4" cy="43.7" rx="1.9" ry="1.7" transform="rotate(38 44.4 43.7)"/><ellipse cx="44.8" cy="44.9" rx="2.2" ry="1.7" transform="rotate(58 44.8 44.9)"/><ellipse cx="33.4" cy="47.2" rx="2.0" ry="2.1" transform="rotate(167 33.4 47.2)"/><ellipse cx="33.9" cy="46.8" rx="2.3" ry="1.9" transform="rotate(30 33.9 46.8)"/><ellipse cx="32.3" cy="47.0" rx="2.0" ry="1.6" transform="rotate(54 32.3 47.0)"/><ellipse cx="44.0" cy="50.1" rx="2.7" ry="2.5" transform="rotate(163 44.0 50.1)"/><ellipse cx="44.0" cy="48.1" rx="3.0" ry="2.7" transform="rotate(153 44.0 48.1)"/><ellipse cx="42.6" cy="47.6" rx="2.6" ry="2.3" transform="rotate(49 42.6 47.6)"/><ellipse cx="44.3" cy="48.8" rx="2.9" ry="2.2" transform="rotate(65 44.3 48.8)"/><ellipse cx="22.7" cy="51.0" rx="2.4" ry="2.5" transform="rotate(167 22.7 51.0)"/><ellipse cx="22.0" cy="50.8" rx="2.4" ry="2.5" transform="rotate(167 22.0 50.8)"/><ellipse cx="23.6" cy="49.3" rx="2.7" ry="2.1" transform="rotate(174 23.6 49.3)"/><ellipse cx="64.4" cy="49.6" rx="2.2" ry="2.2" transform="rotate(36 64.4 49.6)"/><ellipse cx="64.1" cy="52.0" rx="2.3" ry="2.1" transform="rotate(42 64.1 52.0)"/><ellipse cx="62.4" cy="51.7" rx="2.0" ry="2.0" transform="rotate(142 62.4 51.7)"/><ellipse cx="66.5" cy="49.9" rx="2.2" ry="2.1" transform="rotate(150 66.5 49.9)"/><ellipse cx="68.1" cy="48.7" rx="2.2" ry="2.1" transform="rotate(95 68.1 48.7)"/><ellipse cx="67.5" cy="50.5" rx="2.4" ry="1.8" transform="rotate(27 67.5 50.5)"/><ellipse cx="74.7" cy="54.3" rx="2.8" ry="2.1" transform="rotate(147 74.7 54.3)"/><ellipse cx="76.3" cy="51.9" rx="3.2" ry="2.5" transform="rotate(132 76.3 51.9)"/><ellipse cx="74.4" cy="52.7" rx="2.6" ry="2.2" transform="rotate(5 74.4 52.7)"/><ellipse cx="76.1" cy="52.1" rx="2.4" ry="2.4" transform="rotate(52 76.1 52.1)"/><ellipse cx="13.2" cy="55.1" rx="2.6" ry="2.1" transform="rotate(137 13.2 55.1)"/><ellipse cx="12.9" cy="56.6" rx="2.7" ry="2.1" transform="rotate(20 12.9 56.6)"/><ellipse cx="11.5" cy="56.9" rx="2.4" ry="2.1" transform="rotate(96 11.5 56.9)"/><ellipse cx="23.4" cy="56.3" rx="2.4" ry="2.2" transform="rotate(118 23.4 56.3)"/><ellipse cx="23.7" cy="56.4" rx="2.3" ry="2.2" transform="rotate(178 23.7 56.4)"/><ellipse cx="23.7" cy="57.6" rx="2.2" ry="1.7" transform="rotate(116 23.7 57.6)"/><ellipse cx="31.9" cy="58.0" rx="2.1" ry="2.5" transform="rotate(121 31.9 58.0)"/><ellipse cx="30.0" cy="57.1" rx="2.6" ry="2.6" transform="rotate(101 30.0 57.1)"/><ellipse cx="29.1" cy="55.9" rx="2.8" ry="2.3" transform="rotate(71 29.1 55.9)"/><ellipse cx="45.1" cy="57.5" rx="2.6" ry="2.5" transform="rotate(87 45.1 57.5)"/><ellipse cx="43.6" cy="54.4" rx="3.6" ry="3.1" transform="rotate(26 43.6 54.4)"/><ellipse cx="45.0" cy="57.1" rx="3.5" ry="2.9" transform="rotate(114 45.0 57.1)"/><ellipse cx="45.5" cy="53.9" rx="3.1" ry="2.9" transform="rotate(163 45.5 53.9)"/><ellipse cx="44.2" cy="62.7" rx="3.3" ry="2.3" transform="rotate(80 44.2 62.7)"/><ellipse cx="45.4" cy="62.5" rx="3.5" ry="2.7" transform="rotate(99 45.4 62.5)"/><ellipse cx="41.9" cy="62.9" rx="3.7" ry="2.4" transform="rotate(40 41.9 62.9)"/><ellipse cx="44.0" cy="60.3" rx="3.2" ry="2.9" transform="rotate(114 44.0 60.3)"/><ellipse cx="45.8" cy="60.4" rx="2.7" ry="2.5" transform="rotate(85 45.8 60.4)"/><ellipse cx="48.1" cy="60.2" rx="2.3" ry="2.3" transform="rotate(101 48.1 60.2)"/><ellipse cx="47.4" cy="60.3" rx="2.5" ry="2.5" transform="rotate(11 47.4 60.3)"/><ellipse cx="37.8" cy="58.7" rx="2.0" ry="1.8" transform="rotate(122 37.8 58.7)"/><ellipse cx="37.1" cy="58.8" rx="2.2" ry="1.7" transform="rotate(38 37.1 58.8)"/><ellipse cx="36.2" cy="59.4" rx="1.9" ry="2.2" transform="rotate(122 36.2 59.4)"/><ellipse cx="54.2" cy="55.4" rx="1.9" ry="1.5" transform="rotate(104 54.2 55.4)"/><ellipse cx="53.4" cy="55.5" rx="2.0" ry="1.7" transform="rotate(127 53.4 55.5)"/><ellipse cx="70.1" cy="59.5" rx="2.8" ry="2.4" transform="rotate(117 70.1 59.5)"/><ellipse cx="69.7" cy="62.8" rx="3.0" ry="2.5" transform="rotate(136 69.7 62.8)"/><ellipse cx="70.3" cy="62.7" rx="3.2" ry="2.9" transform="rotate(119 70.3 62.7)"/><ellipse cx="67.9" cy="59.0" rx="3.2" ry="2.3" transform="rotate(99 67.9 59.0)"/><ellipse cx="66.2" cy="59.9" rx="2.3" ry="2.4" transform="rotate(144 66.2 59.9)"/><ellipse cx="64.8" cy="61.8" rx="2.5" ry="2.1" transform="rotate(0 64.8 61.8)"/><ellipse cx="66.3" cy="59.2" rx="2.4" ry="2.4" transform="rotate(139 66.3 59.2)"/><ellipse cx="12.5" cy="61.5" rx="1.8" ry="1.5" transform="rotate(58 12.5 61.5)"/><ellipse cx="12.4" cy="60.8" rx="1.7" ry="1.5" transform="rotate(63 12.4 60.8)"/><ellipse cx="21.5" cy="65.1" rx="2.1" ry="2.2" transform="rotate(127 21.5 65.1)"/><ellipse cx="21.3" cy="65.4" rx="2.2" ry="2.1" transform="rotate(145 21.3 65.4)"/><ellipse cx="21.6" cy="63.1" rx="1.9" ry="1.9" transform="rotate(15 21.6 63.1)"/><ellipse cx="49.8" cy="65.4" rx="2.6" ry="2.2" transform="rotate(105 49.8 65.4)"/><ellipse cx="48.7" cy="65.0" rx="2.8" ry="1.9" transform="rotate(157 48.7 65.0)"/><ellipse cx="48.5" cy="67.0" rx="2.2" ry="2.2" transform="rotate(62 48.5 67.0)"/><ellipse cx="58.9" cy="64.5" rx="1.8" ry="1.6" transform="rotate(148 58.9 64.5)"/><ellipse cx="59.6" cy="63.4" rx="1.6" ry="1.6" transform="rotate(66 59.6 63.4)"/><ellipse cx="28.0" cy="68.5" rx="2.7" ry="1.9" transform="rotate(83 28.0 68.5)"/><ellipse cx="29.5" cy="66.5" rx="2.8" ry="1.9" transform="rotate(29 29.5 66.5)"/><ellipse cx="31.0" cy="69.0" rx="2.7" ry="1.9" transform="rotate(8 31.0 69.0)"/><ellipse cx="37.0" cy="71.0" rx="2.3" ry="2.1" transform="rotate(30 37.0 71.0)"/><ellipse cx="38.4" cy="71.3" rx="2.1" ry="1.6" transform="rotate(73 38.4 71.3)"/><ellipse cx="38.9" cy="70.4" rx="1.9" ry="2.2" transform="rotate(53 38.9 70.4)"/><ellipse cx="53.0" cy="69.0" rx="2.0" ry="1.7" transform="rotate(7 53.0 69.0)"/><ellipse cx="53.1" cy="67.9" rx="2.4" ry="2.1" transform="rotate(118 53.1 67.9)"/><ellipse cx="53.2" cy="67.1" rx="2.4" ry="2.2" transform="rotate(176 53.2 67.1)"/><ellipse cx="60.9" cy="69.7" rx="2.4" ry="2.0" transform="rotate(71 60.9 69.7)"/><ellipse cx="60.1" cy="71.4" rx="2.8" ry="2.1" transform="rotate(157 60.1 71.4)"/><ellipse cx="61.1" cy="69.9" rx="2.8" ry="1.9" transform="rotate(97 61.1 69.9)"/><ellipse cx="71.5" cy="67.8" rx="1.8" ry="1.5" transform="rotate(171 71.5 67.8)"/><ellipse cx="71.1" cy="67.6" rx="1.8" ry="1.8" transform="rotate(137 71.1 67.6)"/><ellipse cx="30.4" cy="73.6" rx="2.0" ry="1.5" transform="rotate(37 30.4 73.6)"/><ellipse cx="30.7" cy="73.4" rx="1.9" ry="1.7" transform="rotate(174 30.7 73.4)"/><ellipse cx="43.0" cy="76.9" rx="2.7" ry="2.1" transform="rotate(44 43.0 76.9)"/><ellipse cx="43.0" cy="75.2" rx="2.2" ry="1.9" transform="rotate(107 43.0 75.2)"/><ellipse cx="42.9" cy="74.9" rx="2.7" ry="2.0" transform="rotate(71 42.9 74.9)"/><ellipse cx="38.7" cy="76.3" rx="1.9" ry="1.9" transform="rotate(164 38.7 76.3)"/><ellipse cx="37.8" cy="76.7" rx="2.4" ry="2.0" transform="rotate(8 37.8 76.7)"/><ellipse cx="39.5" cy="76.4" rx="2.3" ry="1.7" transform="rotate(109 39.5 76.4)"/><ellipse cx="47.7" cy="74.3" rx="2.3" ry="2.1" transform="rotate(59 47.7 74.3)"/><ellipse cx="47.7" cy="71.9" rx="2.1" ry="1.7" transform="rotate(178 47.7 71.9)"/><ellipse cx="48.4" cy="73.2" rx="1.9" ry="1.8" transform="rotate(114 48.4 73.2)"/><ellipse cx="62.1" cy="75.8" rx="2.0" ry="2.1" transform="rotate(15 62.1 75.8)"/><ellipse cx="60.1" cy="75.4" rx="2.0" ry="1.9" transform="rotate(31 60.1 75.4)"/><ellipse cx="61.2" cy="75.8" rx="2.1" ry="2.1" transform="rotate(166 61.2 75.8)"/><ellipse cx="75.7" cy="74.4" rx="1.9" ry="1.5" transform="rotate(99 75.7 74.4)"/><ellipse cx="74.8" cy="74.2" rx="1.9" ry="1.6" transform="rotate(114 74.8 74.2)"/></g>
<g fill="#d2ca46"><ellipse cx="15.1" cy="0.6" rx="1.7" ry="1.1" transform="rotate(150 15.1 0.6)"/><ellipse cx="15.7" cy="1.4" rx="1.8" ry="1.2" transform="rotate(162 15.7 1.4)"/><ellipse cx="13.4" cy="2.0" rx="1.4" ry="1.1" transform="rotate(57 13.4 2.0)"/><ellipse cx="17.2" cy="1.1" rx="1.2" ry="0.8" transform="rotate(96 17.2 1.1)"/><ellipse cx="17.0" cy="2.4" rx="1.1" ry="0.8" transform="rotate(72 17.0 2.4)"/><ellipse cx="51.2" cy="2.8" rx="2.9" ry="2.0" transform="rotate(60 51.2 2.8)"/><ellipse cx="48.2" cy="2.0" rx="2.7" ry="2.0" transform="rotate(118 48.2 2.0)"/><ellipse cx="47.8" cy="4.6" rx="2.0" ry="2.3" transform="rotate(106 47.8 4.6)"/><ellipse cx="49.6" cy="3.7" rx="2.3" ry="1.4" transform="rotate(65 49.6 3.7)"/><ellipse cx="50.7" cy="7.4" rx="1.1" ry="1.3" transform="rotate(130 50.7 7.4)"/><ellipse cx="51.4" cy="5.5" rx="1.4" ry="1.2" transform="rotate(140 51.4 5.5)"/><ellipse cx="51.7" cy="7.6" rx="1.3" ry="1.1" transform="rotate(138 51.7 7.6)"/><ellipse cx="66.1" cy="1.3" rx="1.3" ry="0.9" transform="rotate(175 66.1 1.3)"/><ellipse cx="67.0" cy="1.1" rx="1.5" ry="0.8" transform="rotate(168 67.0 1.1)"/><ellipse cx="66.5" cy="1.6" rx="1.1" ry="1.3" transform="rotate(101 66.5 1.6)"/><ellipse cx="69.3" cy="9.4" rx="2.3" ry="1.5" transform="rotate(93 69.3 9.4)"/><ellipse cx="70.2" cy="8.2" rx="2.2" ry="1.5" transform="rotate(148 70.2 8.2)"/><ellipse cx="72.4" cy="8.7" rx="2.2" ry="2.0" transform="rotate(172 72.4 8.7)"/><ellipse cx="72.3" cy="6.3" rx="2.2" ry="1.2" transform="rotate(63 72.3 6.3)"/><ellipse cx="6.0" cy="11.4" rx="1.1" ry="0.9" transform="rotate(161 6.0 11.4)"/><ellipse cx="6.5" cy="12.0" rx="1.5" ry="1.1" transform="rotate(55 6.5 12.0)"/><ellipse cx="8.0" cy="10.1" rx="1.3" ry="0.9" transform="rotate(60 8.0 10.1)"/><ellipse cx="65.7" cy="11.6" rx="1.9" ry="1.6" transform="rotate(148 65.7 11.6)"/><ellipse cx="64.0" cy="10.5" rx="1.5" ry="1.3" transform="rotate(81 64.0 10.5)"/><ellipse cx="63.6" cy="10.4" rx="1.4" ry="1.7" transform="rotate(18 63.6 10.4)"/><ellipse cx="66.1" cy="16.4" rx="1.7" ry="1.3" transform="rotate(43 66.1 16.4)"/><ellipse cx="65.3" cy="15.5" rx="2.0" ry="1.4" transform="rotate(145 65.3 15.5)"/><ellipse cx="65.3" cy="14.9" rx="1.6" ry="1.9" transform="rotate(142 65.3 14.9)"/><ellipse cx="64.1" cy="15.5" rx="2.2" ry="1.6" transform="rotate(48 64.1 15.5)"/><ellipse cx="6.7" cy="19.8" rx="1.5" ry="1.6" transform="rotate(125 6.7 19.8)"/><ellipse cx="6.4" cy="19.2" rx="1.9" ry="1.2" transform="rotate(95 6.4 19.2)"/><ellipse cx="4.3" cy="18.6" rx="1.4" ry="1.4" transform="rotate(68 4.3 18.6)"/><ellipse cx="12.5" cy="19.3" rx="1.7" ry="1.9" transform="rotate(38 12.5 19.3)"/><ellipse cx="11.3" cy="20.0" rx="1.7" ry="1.9" transform="rotate(50 11.3 20.0)"/><ellipse cx="12.2" cy="19.7" rx="2.5" ry="1.5" transform="rotate(83 12.2 19.7)"/><ellipse cx="13.2" cy="20.8" rx="2.4" ry="1.4" transform="rotate(34 13.2 20.8)"/><ellipse cx="59.2" cy="18.4" rx="1.5" ry="1.3" transform="rotate(134 59.2 18.4)"/><ellipse cx="58.8" cy="19.3" rx="1.6" ry="1.5" transform="rotate(80 58.8 19.3)"/><ellipse cx="60.3" cy="20.8" rx="1.6" ry="1.5" transform="rotate(30 60.3 20.8)"/><ellipse cx="57.1" cy="26.9" rx="2.3" ry="1.6" transform="rotate(67 57.1 26.9)"/><ellipse cx="56.2" cy="24.2" rx="1.6" ry="1.3" transform="rotate(8 56.2 24.2)"/><ellipse cx="56.8" cy="25.6" rx="1.9" ry="1.6" transform="rotate(168 56.8 25.6)"/><ellipse cx="57.5" cy="24.5" rx="1.7" ry="2.0" transform="rotate(26 57.5 24.5)"/><ellipse cx="22.8" cy="25.8" rx="2.2" ry="1.3" transform="rotate(117 22.8 25.8)"/><ellipse cx="23.2" cy="25.7" rx="1.6" ry="1.8" transform="rotate(163 23.2 25.7)"/><ellipse cx="22.5" cy="27.2" rx="2.2" ry="1.7" transform="rotate(20 22.5 27.2)"/><ellipse cx="24.1" cy="27.3" rx="1.8" ry="2.0" transform="rotate(161 24.1 27.3)"/><ellipse cx="15.0" cy="29.7" rx="2.4" ry="1.6" transform="rotate(3 15.0 29.7)"/><ellipse cx="11.9" cy="28.7" rx="2.1" ry="1.3" transform="rotate(19 11.9 28.7)"/><ellipse cx="12.0" cy="30.6" rx="1.7" ry="1.2" transform="rotate(46 12.0 30.6)"/><ellipse cx="12.2" cy="30.5" rx="1.8" ry="1.6" transform="rotate(93 12.2 30.5)"/><ellipse cx="37.4" cy="27.0" rx="1.3" ry="1.4" transform="rotate(56 37.4 27.0)"/><ellipse cx="39.0" cy="25.8" rx="1.2" ry="1.0" transform="rotate(89 39.0 25.8)"/><ellipse cx="38.1" cy="25.3" rx="1.4" ry="1.3" transform="rotate(93 38.1 25.3)"/><ellipse cx="35.6" cy="29.1" rx="1.1" ry="0.9" transform="rotate(39 35.6 29.1)"/><ellipse cx="35.5" cy="29.5" rx="1.1" ry="1.0" transform="rotate(127 35.5 29.5)"/><ellipse cx="50.5" cy="29.9" rx="2.0" ry="1.3" transform="rotate(157 50.5 29.9)"/><ellipse cx="48.1" cy="29.9" rx="2.4" ry="1.4" transform="rotate(166 48.1 29.9)"/><ellipse cx="49.9" cy="28.6" rx="1.8" ry="2.0" transform="rotate(28 49.9 28.6)"/><ellipse cx="47.2" cy="28.3" rx="2.2" ry="1.5" transform="rotate(142 47.2 28.3)"/><ellipse cx="46.9" cy="28.6" rx="1.1" ry="1.0" transform="rotate(32 46.9 28.6)"/><ellipse cx="44.9" cy="30.5" rx="1.2" ry="1.1" transform="rotate(121 44.9 30.5)"/><ellipse cx="45.0" cy="28.4" rx="1.6" ry="0.9" transform="rotate(140 45.0 28.4)"/><ellipse cx="73.7" cy="31.5" rx="1.7" ry="2.0" transform="rotate(180 73.7 31.5)"/><ellipse cx="73.9" cy="30.1" rx="2.4" ry="1.7" transform="rotate(40 73.9 30.1)"/><ellipse cx="76.7" cy="30.1" rx="1.9" ry="2.0" transform="rotate(126 76.7 30.1)"/><ellipse cx="73.9" cy="31.2" rx="2.4" ry="1.7" transform="rotate(44 73.9 31.2)"/><ellipse cx="43.4" cy="33.8" rx="1.5" ry="1.3" transform="rotate(77 43.4 33.8)"/><ellipse cx="42.7" cy="33.2" rx="1.4" ry="1.4" transform="rotate(137 42.7 33.2)"/><ellipse cx="44.2" cy="32.9" rx="1.1" ry="1.4" transform="rotate(147 44.2 32.9)"/><ellipse cx="16.5" cy="34.3" rx="1.7" ry="1.7" transform="rotate(159 16.5 34.3)"/><ellipse cx="17.5" cy="36.0" rx="1.8" ry="1.4" transform="rotate(104 17.5 36.0)"/><ellipse cx="18.6" cy="34.7" rx="1.6" ry="1.6" transform="rotate(83 18.6 34.7)"/><ellipse cx="23.2" cy="36.6" rx="2.3" ry="1.9" transform="rotate(77 23.2 36.6)"/><ellipse cx="21.6" cy="36.4" rx="1.6" ry="1.6" transform="rotate(40 21.6 36.4)"/><ellipse cx="21.7" cy="35.9" rx="2.1" ry="1.6" transform="rotate(134 21.7 35.9)"/><ellipse cx="24.9" cy="37.5" rx="1.9" ry="1.9" transform="rotate(36 24.9 37.5)"/><ellipse cx="28.9" cy="34.2" rx="1.0" ry="1.4" transform="rotate(71 28.9 34.2)"/><ellipse cx="29.1" cy="35.1" rx="1.4" ry="1.0" transform="rotate(22 29.1 35.1)"/><ellipse cx="28.7" cy="34.9" rx="1.6" ry="0.8" transform="rotate(72 28.7 34.9)"/><ellipse cx="10.5" cy="34.3" rx="1.2" ry="0.8" transform="rotate(16 10.5 34.3)"/><ellipse cx="10.3" cy="35.9" rx="1.1" ry="0.7" transform="rotate(130 10.3 35.9)"/><ellipse cx="67.5" cy="35.0" rx="2.0" ry="1.9" transform="rotate(13 67.5 35.0)"/><ellipse cx="66.7" cy="35.4" rx="1.9" ry="1.3" transform="rotate(107 66.7 35.4)"/><ellipse cx="66.5" cy="35.4" rx="2.1" ry="1.5" transform="rotate(14 66.5 35.4)"/><ellipse cx="67.7" cy="33.4" rx="2.5" ry="1.3" transform="rotate(107 67.7 33.4)"/><ellipse cx="60.4" cy="37.4" rx="1.8" ry="1.7" transform="rotate(61 60.4 37.4)"/><ellipse cx="59.7" cy="38.1" rx="1.6" ry="1.5" transform="rotate(107 59.7 38.1)"/><ellipse cx="59.5" cy="38.7" rx="1.8" ry="1.2" transform="rotate(65 59.5 38.7)"/><ellipse cx="53.8" cy="39.9" rx="2.0" ry="1.5" transform="rotate(139 53.8 39.9)"/><ellipse cx="54.5" cy="37.4" rx="1.4" ry="1.7" transform="rotate(69 54.5 37.4)"/><ellipse cx="53.8" cy="38.8" rx="1.7" ry="1.1" transform="rotate(70 53.8 38.8)"/><ellipse cx="44.2" cy="37.7" rx="1.5" ry="1.2" transform="rotate(59 44.2 37.7)"/><ellipse cx="45.2" cy="38.6" rx="1.6" ry="1.4" transform="rotate(49 45.2 38.6)"/><ellipse cx="45.1" cy="39.1" rx="1.6" ry="1.4" transform="rotate(60 45.1 39.1)"/><ellipse cx="6.0" cy="40.8" rx="2.3" ry="2.0" transform="rotate(83 6.0 40.8)"/><ellipse cx="5.6" cy="44.5" rx="2.4" ry="1.4" transform="rotate(43 5.6 44.5)"/><ellipse cx="8.3" cy="44.4" rx="2.4" ry="1.3" transform="rotate(5 8.3 44.4)"/><ellipse cx="5.8" cy="41.0" rx="1.6" ry="1.8" transform="rotate(9 5.8 41.0)"/><ellipse cx="4.6" cy="47.3" rx="2.0" ry="1.0" transform="rotate(99 4.6 47.3)"/><ellipse cx="3.8" cy="47.0" rx="1.7" ry="1.6" transform="rotate(179 3.8 47.0)"/><ellipse cx="4.4" cy="47.2" rx="1.5" ry="1.6" transform="rotate(15 4.4 47.2)"/><ellipse cx="12.3" cy="47.4" rx="1.2" ry="1.0" transform="rotate(78 12.3 47.4)"/><ellipse cx="11.4" cy="48.1" rx="0.8" ry="0.7" transform="rotate(66 11.4 48.1)"/><ellipse cx="25.5" cy="44.9" rx="0.8" ry="0.7" transform="rotate(20 25.5 44.9)"/><ellipse cx="25.8" cy="45.0" rx="0.8" ry="0.6" transform="rotate(105 25.8 45.0)"/><ellipse cx="44.6" cy="43.7" rx="1.6" ry="1.3" transform="rotate(44 44.6 43.7)"/><ellipse cx="44.4" cy="43.7" rx="1.1" ry="0.9" transform="rotate(38 44.4 43.7)"/><ellipse cx="44.8" cy="44.9" rx="1.4" ry="0.9" transform="rotate(58 44.8 44.9)"/><ellipse cx="33.4" cy="47.2" rx="1.2" ry="1.3" transform="rotate(167 33.4 47.2)"/><ellipse cx="33.9" cy="46.8" rx="1.5" ry="1.1" transform="rotate(30 33.9 46.8)"/><ellipse cx="32.3" cy="47.0" rx="1.2" ry="0.8" transform="rotate(54 32.3 47.0)"/><ellipse cx="44.0" cy="50.1" rx="1.9" ry="1.7" transform="rotate(163 44.0 50.1)"/><ellipse cx="44.0" cy="48.1" rx="2.2" ry="1.9" transform="rotate(153 44.0 48.1)"/><ellipse cx="42.6" cy="47.6" rx="1.8" ry="1.5" transform="rotate(49 42.6 47.6)"/><ellipse cx="44.3" cy="48.8" rx="2.1" ry="1.4" transform="rotate(65 44.3 48.8)"/><ellipse cx="22.7" cy="51.0" rx="1.6" ry="1.7" transform="rotate(167 22.7 51.0)"/><ellipse cx="22.0" cy="50.8" rx="1.6" ry="1.7" transform="rotate(167 22.0 50.8)"/><ellipse cx="23.6" cy="49.3" rx="1.9" ry="1.3" transform="rotate(174 23.6 49.3)"/><ellipse cx="64.4" cy="49.6" rx="1.4" ry="1.4" transform="rotate(36 64.4 49.6)"/><ellipse cx="64.1" cy="52.0" rx="1.5" ry="1.3" transform="rotate(42 64.1 52.0)"/><ellipse cx="62.4" cy="51.7" rx="1.2" ry="1.2" transform="rotate(142 62.4 51.7)"/><ellipse cx="66.5" cy="49.9" rx="1.4" ry="1.3" transform="rotate(150 66.5 49.9)"/><ellipse cx="68.1" cy="48.7" rx="1.4" ry="1.3" transform="rotate(95 68.1 48.7)"/><ellipse cx="67.5" cy="50.5" rx="1.6" ry="1.0" transform="rotate(27 67.5 50.5)"/><ellipse cx="74.7" cy="54.3" rx="2.0" ry="1.3" transform="rotate(147 74.7 54.3)"/><ellipse cx="76.3" cy="51.9" rx="2.4" ry="1.7" transform="rotate(132 76.3 51.9)"/><ellipse cx="74.4" cy="52.7" rx="1.8" ry="1.4" transform="rotate(5 74.4 52.7)"/><ellipse cx="76.1" cy="52.1" rx="1.6" ry="1.6" transform="rotate(52 76.1 52.1)"/><ellipse cx="13.2" cy="55.1" rx="1.8" ry="1.3" transform="rotate(137 13.2 55.1)"/><ellipse cx="12.9" cy="56.6" rx="1.9" ry="1.3" transform="rotate(20 12.9 56.6)"/><ellipse cx="11.5" cy="56.9" rx="1.6" ry="1.3" transform="rotate(96 11.5 56.9)"/><ellipse cx="23.4" cy="56.3" rx="1.6" ry="1.4" transform="rotate(118 23.4 56.3)"/><ellipse cx="23.7" cy="56.4" rx="1.5" ry="1.4" transform="rotate(178 23.7 56.4)"/><ellipse cx="23.7" cy="57.6" rx="1.4" ry="0.9" transform="rotate(116 23.7 57.6)"/><ellipse cx="31.9" cy="58.0" rx="1.3" ry="1.7" transform="rotate(121 31.9 58.0)"/><ellipse cx="30.0" cy="57.1" rx="1.8" ry="1.8" transform="rotate(101 30.0 57.1)"/><ellipse cx="29.1" cy="55.9" rx="2.0" ry="1.5" transform="rotate(71 29.1 55.9)"/><ellipse cx="45.1" cy="57.5" rx="1.8" ry="1.7" transform="rotate(87 45.1 57.5)"/><ellipse cx="43.6" cy="54.4" rx="2.8" ry="2.3" transform="rotate(26 43.6 54.4)"/><ellipse cx="45.0" cy="57.1" rx="2.7" ry="2.1" transform="rotate(114 45.0 57.1)"/><ellipse cx="45.5" cy="53.9" rx="2.3" ry="2.1" transform="rotate(163 45.5 53.9)"/><ellipse cx="44.2" cy="62.7" rx="2.5" ry="1.5" transform="rotate(80 44.2 62.7)"/><ellipse cx="45.4" cy="62.5" rx="2.7" ry="1.9" transform="rotate(99 45.4 62.5)"/><ellipse cx="41.9" cy="62.9" rx="2.9" ry="1.6" transform="rotate(40 41.9 62.9)"/><ellipse cx="44.0" cy="60.3" rx="2.4" ry="2.1" transform="rotate(114 44.0 60.3)"/><ellipse cx="45.8" cy="60.4" rx="1.9" ry="1.7" transform="rotate(85 45.8 60.4)"/><ellipse cx="48.1" cy="60.2" rx="1.5" ry="1.5" transform="rotate(101 48.1 60.2)"/><ellipse cx="47.4" cy="60.3" rx="1.7" ry="1.7" transform="rotate(11 47.4 60.3)"/><ellipse cx="37.8" cy="58.7" rx="1.2" ry="1.0" transform="rotate(122 37.8 58.7)"/><ellipse cx="37.1" cy="58.8" rx="1.4" ry="0.9" transform="rotate(38 37.1 58.8)"/><ellipse cx="36.2" cy="59.4" rx="1.1" ry="1.4" transform="rotate(122 36.2 59.4)"/><ellipse cx="54.2" cy="55.4" rx="1.1" ry="0.7" transform="rotate(104 54.2 55.4)"/><ellipse cx="53.4" cy="55.5" rx="1.2" ry="0.9" transform="rotate(127 53.4 55.5)"/><ellipse cx="70.1" cy="59.5" rx="2.0" ry="1.6" transform="rotate(117 70.1 59.5)"/><ellipse cx="69.7" cy="62.8" rx="2.2" ry="1.7" transform="rotate(136 69.7 62.8)"/><ellipse cx="70.3" cy="62.7" rx="2.4" ry="2.1" transform="rotate(119 70.3 62.7)"/><ellipse cx="67.9" cy="59.0" rx="2.4" ry="1.5" transform="rotate(99 67.9 59.0)"/><ellipse cx="66.2" cy="59.9" rx="1.5" ry="1.6" transform="rotate(144 66.2 59.9)"/><ellipse cx="64.8" cy="61.8" rx="1.7" ry="1.3" transform="rotate(0 64.8 61.8)"/><ellipse cx="66.3" cy="59.2" rx="1.6" ry="1.6" transform="rotate(139 66.3 59.2)"/><ellipse cx="12.5" cy="61.5" rx="1.0" ry="0.7" transform="rotate(58 12.5 61.5)"/><ellipse cx="12.4" cy="60.8" rx="0.9" ry="0.7" transform="rotate(63 12.4 60.8)"/><ellipse cx="21.5" cy="65.1" rx="1.3" ry="1.4" transform="rotate(127 21.5 65.1)"/><ellipse cx="21.3" cy="65.4" rx="1.4" ry="1.3" transform="rotate(145 21.3 65.4)"/><ellipse cx="21.6" cy="63.1" rx="1.1" ry="1.1" transform="rotate(15 21.6 63.1)"/><ellipse cx="49.8" cy="65.4" rx="1.8" ry="1.4" transform="rotate(105 49.8 65.4)"/><ellipse cx="48.7" cy="65.0" rx="2.0" ry="1.1" transform="rotate(157 48.7 65.0)"/><ellipse cx="48.5" cy="67.0" rx="1.4" ry="1.4" transform="rotate(62 48.5 67.0)"/><ellipse cx="58.9" cy="64.5" rx="1.0" ry="0.8" transform="rotate(148 58.9 64.5)"/><ellipse cx="59.6" cy="63.4" rx="0.8" ry="0.8" transform="rotate(66 59.6 63.4)"/><ellipse cx="28.0" cy="68.5" rx="1.9" ry="1.1" transform="rotate(83 28.0 68.5)"/><ellipse cx="29.5" cy="66.5" rx="2.0" ry="1.1" transform="rotate(29 29.5 66.5)"/><ellipse cx="31.0" cy="69.0" rx="1.9" ry="1.1" transform="rotate(8 31.0 69.0)"/><ellipse cx="37.0" cy="71.0" rx="1.5" ry="1.3" transform="rotate(30 37.0 71.0)"/><ellipse cx="38.4" cy="71.3" rx="1.3" ry="0.8" transform="rotate(73 38.4 71.3)"/><ellipse cx="38.9" cy="70.4" rx="1.1" ry="1.4" transform="rotate(53 38.9 70.4)"/><ellipse cx="53.0" cy="69.0" rx="1.2" ry="0.9" transform="rotate(7 53.0 69.0)"/><ellipse cx="53.1" cy="67.9" rx="1.6" ry="1.3" transform="rotate(118 53.1 67.9)"/><ellipse cx="53.2" cy="67.1" rx="1.6" ry="1.4" transform="rotate(176 53.2 67.1)"/><ellipse cx="60.9" cy="69.7" rx="1.6" ry="1.2" transform="rotate(71 60.9 69.7)"/><ellipse cx="60.1" cy="71.4" rx="2.0" ry="1.3" transform="rotate(157 60.1 71.4)"/><ellipse cx="61.1" cy="69.9" rx="2.0" ry="1.1" transform="rotate(97 61.1 69.9)"/><ellipse cx="71.5" cy="67.8" rx="1.0" ry="0.7" transform="rotate(171 71.5 67.8)"/><ellipse cx="71.1" cy="67.6" rx="1.0" ry="1.0" transform="rotate(137 71.1 67.6)"/><ellipse cx="30.4" cy="73.6" rx="1.2" ry="0.7" transform="rotate(37 30.4 73.6)"/><ellipse cx="30.7" cy="73.4" rx="1.1" ry="0.9" transform="rotate(174 30.7 73.4)"/><ellipse cx="43.0" cy="76.9" rx="1.9" ry="1.3" transform="rotate(44 43.0 76.9)"/><ellipse cx="43.0" cy="75.2" rx="1.4" ry="1.1" transform="rotate(107 43.0 75.2)"/><ellipse cx="42.9" cy="74.9" rx="1.9" ry="1.2" transform="rotate(71 42.9 74.9)"/><ellipse cx="38.7" cy="76.3" rx="1.1" ry="1.1" transform="rotate(164 38.7 76.3)"/><ellipse cx="37.8" cy="76.7" rx="1.6" ry="1.2" transform="rotate(8 37.8 76.7)"/><ellipse cx="39.5" cy="76.4" rx="1.5" ry="0.9" transform="rotate(109 39.5 76.4)"/><ellipse cx="47.7" cy="74.3" rx="1.5" ry="1.3" transform="rotate(59 47.7 74.3)"/><ellipse cx="47.7" cy="71.9" rx="1.3" ry="0.9" transform="rotate(178 47.7 71.9)"/><ellipse cx="48.4" cy="73.2" rx="1.1" ry="1.0" transform="rotate(114 48.4 73.2)"/><ellipse cx="62.1" cy="75.8" rx="1.2" ry="1.3" transform="rotate(15 62.1 75.8)"/><ellipse cx="60.1" cy="75.4" rx="1.2" ry="1.1" transform="rotate(31 60.1 75.4)"/><ellipse cx="61.2" cy="75.8" rx="1.3" ry="1.3" transform="rotate(166 61.2 75.8)"/><ellipse cx="75.7" cy="74.4" rx="1.1" ry="0.7" transform="rotate(99 75.7 74.4)"/><ellipse cx="74.8" cy="74.2" rx="1.1" ry="0.8" transform="rotate(114 74.8 74.2)"/></g>
<path d="M48.8,71.6H54.8" stroke="#e8e8e8" stroke-width="1.6"/>
<text x="56.3" y="74.1" font-size="6.6" fill="#1a1a1a" textLength="14" lengthAdjust="spacingAndGlyphs">30µm</text>
</svg>
<svg x="554.9" y="598.2" width="79.2" height="79.1" viewBox="0 0 79.2 79.1" overflow="hidden">
<rect width="79.2" height="79.1" fill="#8d66a6"/>
<rect width="79.2" height="79.1" fill="url(#np4628)"/>
<g fill="none" stroke="#55204a" stroke-width="1.1" stroke-dasharray="1.2,0.8" opacity="0.6" stroke-linejoin="round"><path d="M70.3,3.1L72.3,4.8L74.6,6.1L76.1,8.2L78.0,10.0L80.3,11.1L82.9,11.1L85.4,10.3"/><path d="M68.5,70.2L66.1,71.1L63.5,71.1L61.0,72.0L58.4,71.9"/><path d="M78.8,68.9L80.4,71.0L81.5,73.3L82.3,75.8L83.0,78.3"/><path d="M10.2,72.0L12.6,71.2L14.9,69.9L16.7,68.0L17.1,65.5L18.8,63.4"/><path d="M14.9,62.7L17.1,64.2L19.1,65.8L19.9,68.3L20.2,70.9L20.5,73.4"/><path d="M73.7,26.4L72.2,28.5L70.2,30.1L68.6,32.2"/><path d="M65.4,17.7L62.8,18.1L60.9,19.8L58.5,20.8L56.6,22.6L56.0,25.1"/><path d="M46.6,71.4L44.0,71.4L41.4,71.5L38.8,71.4L36.6,70.1L34.0,69.8"/><path d="M40.5,45.3L43.1,45.0L45.3,43.7L46.8,41.5L47.6,39.1"/><path d="M41.2,33.7L38.9,35.0L37.5,37.2L36.6,39.6L35.2,41.8"/><path d="M16.3,18.8L17.6,21.1L19.7,22.6L20.9,25.0L21.0,27.6L20.3,30.1"/><path d="M67.6,14.6L65.1,15.2L62.5,14.5L60.1,13.6L57.6,12.9L55.0,13.4L52.4,13.6L49.9,13.0"/><path d="M22.0,9.7L19.6,8.8L17.1,8.4L14.5,7.9"/><path d="M1.6,42.8L-0.8,43.9L-2.2,46.1L-4.5,47.4L-5.8,49.6L-8.0,51.1L-10.0,52.6"/><path d="M6.2,71.7L8.7,72.1L11.3,72.6L13.8,73.1"/><path d="M5.7,58.1L3.3,57.1L1.3,55.4L-1.2,55.0L-3.8,55.7L-5.9,57.1L-7.9,58.8"/><path d="M14.9,47.7L12.4,48.5L10.5,50.2L8.2,51.5L5.8,52.4"/><path d="M12.1,48.6L9.5,49.0L7.3,50.3L5.0,51.5"/><path d="M53.9,28.7L51.5,27.9L48.9,28.0L46.4,28.7"/><path d="M16.3,0.9L18.9,0.5L21.1,-0.8L22.7,-2.8L23.0,-5.4L24.2,-7.7"/><path d="M63.7,15.3L61.2,16.0L58.6,16.3L56.1,16.8L53.7,17.9L51.1,18.3"/><path d="M68.0,24.9L65.5,24.1L62.9,24.0L60.7,22.5L59.4,20.3"/></g>
<g fill="#4e1c40" opacity="0.62"><ellipse cx="5.5" cy="8.9" rx="2.7" ry="2.2" transform="rotate(170 5.5 8.9)"/><ellipse cx="8.4" cy="7.4" rx="2.5" ry="2.3" transform="rotate(121 8.4 7.4)"/><ellipse cx="6.7" cy="6.4" rx="2.4" ry="2.8" transform="rotate(167 6.7 6.4)"/><ellipse cx="8.1" cy="5.9" rx="2.9" ry="2.1" transform="rotate(36 8.1 5.9)"/><ellipse cx="2.6" cy="8.1" rx="1.6" ry="1.7" transform="rotate(21 2.6 8.1)"/><ellipse cx="4.0" cy="8.5" rx="1.6" ry="1.5" transform="rotate(176 4.0 8.5)"/><ellipse cx="35.8" cy="3.6" rx="3.2" ry="2.0" transform="rotate(67 35.8 3.6)"/><ellipse cx="37.6" cy="1.3" rx="3.0" ry="2.7" transform="rotate(96 37.6 1.3)"/><ellipse cx="35.4" cy="3.6" rx="2.9" ry="2.1" transform="rotate(121 35.4 3.6)"/><ellipse cx="37.1" cy="4.6" rx="2.8" ry="2.5" transform="rotate(99 37.1 4.6)"/><ellipse cx="37.0" cy="7.3" rx="1.9" ry="2.0" transform="rotate(1 37.0 7.3)"/><ellipse cx="37.1" cy="7.5" rx="2.4" ry="1.6" transform="rotate(143 37.1 7.5)"/><ellipse cx="36.4" cy="8.1" rx="1.9" ry="1.7" transform="rotate(20 36.4 8.1)"/><ellipse cx="49.1" cy="4.0" rx="2.5" ry="2.3" transform="rotate(10 49.1 4.0)"/><ellipse cx="49.8" cy="2.0" rx="2.5" ry="1.9" transform="rotate(41 49.8 2.0)"/><ellipse cx="49.1" cy="3.7" rx="2.1" ry="2.2" transform="rotate(96 49.1 3.7)"/><ellipse cx="71.9" cy="5.4" rx="2.6" ry="1.9" transform="rotate(2 71.9 5.4)"/><ellipse cx="74.0" cy="5.8" rx="2.8" ry="2.4" transform="rotate(143 74.0 5.8)"/><ellipse cx="71.2" cy="5.8" rx="2.7" ry="2.4" transform="rotate(171 71.2 5.8)"/><ellipse cx="76.3" cy="10.6" rx="2.0" ry="1.9" transform="rotate(107 76.3 10.6)"/><ellipse cx="78.3" cy="11.2" rx="2.0" ry="1.8" transform="rotate(115 78.3 11.2)"/><ellipse cx="76.5" cy="11.0" rx="2.0" ry="1.8" transform="rotate(39 76.5 11.0)"/><ellipse cx="32.4" cy="13.8" rx="3.3" ry="2.2" transform="rotate(157 32.4 13.8)"/><ellipse cx="29.5" cy="13.3" rx="2.8" ry="2.5" transform="rotate(61 29.5 13.3)"/><ellipse cx="29.4" cy="12.2" rx="2.7" ry="2.9" transform="rotate(164 29.4 12.2)"/><ellipse cx="32.2" cy="11.0" rx="2.8" ry="2.8" transform="rotate(163 32.2 11.0)"/><ellipse cx="41.1" cy="14.9" rx="1.9" ry="2.0" transform="rotate(2 41.1 14.9)"/><ellipse cx="40.7" cy="15.8" rx="2.4" ry="1.6" transform="rotate(32 40.7 15.8)"/><ellipse cx="41.6" cy="14.3" rx="2.1" ry="1.8" transform="rotate(76 41.6 14.3)"/><ellipse cx="3.4" cy="17.7" rx="2.6" ry="2.0" transform="rotate(81 3.4 17.7)"/><ellipse cx="4.5" cy="18.7" rx="2.8" ry="2.4" transform="rotate(175 4.5 18.7)"/><ellipse cx="5.7" cy="18.4" rx="2.4" ry="2.5" transform="rotate(60 5.7 18.4)"/><ellipse cx="12.5" cy="25.8" rx="2.6" ry="3.1" transform="rotate(173 12.5 25.8)"/><ellipse cx="15.2" cy="23.0" rx="3.2" ry="2.4" transform="rotate(154 15.2 23.0)"/><ellipse cx="14.0" cy="23.7" rx="2.8" ry="2.5" transform="rotate(120 14.0 23.7)"/><ellipse cx="15.4" cy="25.6" rx="3.5" ry="2.2" transform="rotate(39 15.4 25.6)"/><ellipse cx="14.9" cy="29.0" rx="3.1" ry="2.1" transform="rotate(58 14.9 29.0)"/><ellipse cx="12.8" cy="29.2" rx="2.6" ry="2.3" transform="rotate(149 12.8 29.2)"/><ellipse cx="15.8" cy="30.4" rx="3.1" ry="2.1" transform="rotate(135 15.8 30.4)"/><ellipse cx="15.1" cy="29.9" rx="2.4" ry="2.7" transform="rotate(121 15.1 29.9)"/><ellipse cx="12.7" cy="20.8" rx="2.0" ry="1.7" transform="rotate(153 12.7 20.8)"/><ellipse cx="12.2" cy="21.6" rx="2.4" ry="2.1" transform="rotate(76 12.2 21.6)"/><ellipse cx="10.8" cy="22.4" rx="1.8" ry="1.8" transform="rotate(66 10.8 22.4)"/><ellipse cx="4.5" cy="22.0" rx="2.7" ry="2.4" transform="rotate(83 4.5 22.0)"/><ellipse cx="5.1" cy="24.0" rx="2.6" ry="2.7" transform="rotate(50 5.1 24.0)"/><ellipse cx="3.1" cy="22.2" rx="3.2" ry="2.5" transform="rotate(52 3.1 22.2)"/><ellipse cx="5.7" cy="23.7" rx="3.1" ry="2.2" transform="rotate(109 5.7 23.7)"/><ellipse cx="26.4" cy="22.4" rx="2.8" ry="2.5" transform="rotate(41 26.4 22.4)"/><ellipse cx="25.8" cy="22.5" rx="2.8" ry="2.2" transform="rotate(60 25.8 22.5)"/><ellipse cx="27.2" cy="22.7" rx="2.6" ry="2.0" transform="rotate(52 27.2 22.7)"/><ellipse cx="34.3" cy="21.0" rx="3.1" ry="2.9" transform="rotate(42 34.3 21.0)"/><ellipse cx="36.5" cy="18.3" rx="2.5" ry="2.3" transform="rotate(154 36.5 18.3)"/><ellipse cx="33.7" cy="19.6" rx="3.0" ry="2.0" transform="rotate(13 33.7 19.6)"/><ellipse cx="34.8" cy="20.5" rx="2.5" ry="2.4" transform="rotate(176 34.8 20.5)"/><ellipse cx="51.9" cy="17.8" rx="1.6" ry="1.3" transform="rotate(128 51.9 17.8)"/><ellipse cx="51.5" cy="17.0" rx="1.5" ry="1.4" transform="rotate(112 51.5 17.0)"/><ellipse cx="46.6" cy="29.1" rx="2.6" ry="1.9" transform="rotate(64 46.6 29.1)"/><ellipse cx="49.4" cy="27.1" rx="2.4" ry="1.8" transform="rotate(146 49.4 27.1)"/><ellipse cx="48.9" cy="29.4" rx="2.5" ry="2.0" transform="rotate(176 48.9 29.4)"/><ellipse cx="46.8" cy="32.8" rx="2.3" ry="2.2" transform="rotate(171 46.8 32.8)"/><ellipse cx="49.2" cy="34.0" rx="2.3" ry="1.9" transform="rotate(148 49.2 34.0)"/><ellipse cx="47.8" cy="33.2" rx="2.2" ry="1.8" transform="rotate(71 47.8 33.2)"/><ellipse cx="34.5" cy="32.2" rx="2.9" ry="2.6" transform="rotate(56 34.5 32.2)"/><ellipse cx="34.2" cy="32.0" rx="2.6" ry="3.2" transform="rotate(70 34.2 32.0)"/><ellipse cx="33.7" cy="29.5" rx="3.5" ry="2.6" transform="rotate(119 33.7 29.5)"/><ellipse cx="33.8" cy="28.5" rx="3.4" ry="2.4" transform="rotate(16 33.8 28.5)"/><ellipse cx="41.2" cy="28.7" rx="1.9" ry="1.5" transform="rotate(2 41.2 28.7)"/><ellipse cx="42.8" cy="29.3" rx="1.7" ry="1.8" transform="rotate(6 42.8 29.3)"/><ellipse cx="59.0" cy="33.4" rx="3.1" ry="2.4" transform="rotate(73 59.0 33.4)"/><ellipse cx="59.3" cy="31.3" rx="3.2" ry="2.1" transform="rotate(55 59.3 31.3)"/><ellipse cx="59.8" cy="32.1" rx="2.8" ry="2.3" transform="rotate(102 59.8 32.1)"/><ellipse cx="59.5" cy="32.5" rx="2.6" ry="2.3" transform="rotate(62 59.5 32.5)"/><ellipse cx="14.5" cy="35.6" rx="2.6" ry="2.1" transform="rotate(96 14.5 35.6)"/><ellipse cx="12.4" cy="36.2" rx="2.5" ry="2.6" transform="rotate(127 12.4 36.2)"/><ellipse cx="13.0" cy="34.3" rx="2.7" ry="2.4" transform="rotate(100 13.0 34.3)"/><ellipse cx="22.6" cy="34.7" rx="1.8" ry="1.8" transform="rotate(136 22.6 34.7)"/><ellipse cx="21.4" cy="36.0" rx="1.8" ry="1.4" transform="rotate(35 21.4 36.0)"/><ellipse cx="26.1" cy="37.8" rx="3.2" ry="2.2" transform="rotate(152 26.1 37.8)"/><ellipse cx="27.2" cy="36.4" rx="2.5" ry="2.8" transform="rotate(151 27.2 36.4)"/><ellipse cx="24.7" cy="35.7" rx="2.9" ry="2.9" transform="rotate(47 24.7 35.7)"/><ellipse cx="26.7" cy="36.1" rx="2.4" ry="2.7" transform="rotate(175 26.7 36.1)"/><ellipse cx="31.2" cy="40.9" rx="2.3" ry="1.7" transform="rotate(140 31.2 40.9)"/><ellipse cx="29.9" cy="40.9" rx="2.3" ry="1.7" transform="rotate(160 29.9 40.9)"/><ellipse cx="32.0" cy="39.2" rx="2.2" ry="1.7" transform="rotate(50 32.0 39.2)"/><ellipse cx="50.1" cy="38.9" rx="1.9" ry="1.9" transform="rotate(172 50.1 38.9)"/><ellipse cx="48.9" cy="40.2" rx="2.3" ry="1.8" transform="rotate(31 48.9 40.2)"/><ellipse cx="48.6" cy="40.7" rx="2.2" ry="1.8" transform="rotate(116 48.6 40.7)"/><ellipse cx="40.5" cy="40.9" rx="3.3" ry="2.7" transform="rotate(46 40.5 40.9)"/><ellipse cx="39.3" cy="43.4" rx="2.5" ry="2.9" transform="rotate(157 39.3 43.4)"/><ellipse cx="41.6" cy="42.3" rx="2.5" ry="2.0" transform="rotate(167 41.6 42.3)"/><ellipse cx="41.7" cy="41.5" rx="2.7" ry="2.5" transform="rotate(101 41.7 41.5)"/><ellipse cx="6.9" cy="40.5" rx="2.8" ry="2.3" transform="rotate(150 6.9 40.5)"/><ellipse cx="9.3" cy="41.8" rx="3.4" ry="2.5" transform="rotate(84 9.3 41.8)"/><ellipse cx="6.7" cy="41.8" rx="2.9" ry="3.1" transform="rotate(179 6.7 41.8)"/><ellipse cx="9.5" cy="43.9" rx="2.8" ry="2.7" transform="rotate(137 9.5 43.9)"/><ellipse cx="9.1" cy="48.2" rx="2.2" ry="2.4" transform="rotate(18 9.1 48.2)"/><ellipse cx="6.9" cy="46.4" rx="2.6" ry="2.3" transform="rotate(78 6.9 46.4)"/><ellipse cx="7.0" cy="46.2" rx="2.2" ry="2.2" transform="rotate(80 7.0 46.2)"/><ellipse cx="66.7" cy="42.6" rx="2.0" ry="2.0" transform="rotate(119 66.7 42.6)"/><ellipse cx="67.6" cy="41.5" rx="2.1" ry="2.1" transform="rotate(114 67.6 41.5)"/><ellipse cx="67.3" cy="41.8" rx="2.3" ry="2.0" transform="rotate(125 67.3 41.8)"/><ellipse cx="78.7" cy="44.2" rx="2.4" ry="1.7" transform="rotate(172 78.7 44.2)"/><ellipse cx="79.0" cy="44.3" rx="2.0" ry="1.7" transform="rotate(148 79.0 44.3)"/><ellipse cx="77.9" cy="44.2" rx="2.4" ry="2.0" transform="rotate(136 77.9 44.2)"/><ellipse cx="42.2" cy="50.2" rx="2.5" ry="2.6" transform="rotate(156 42.2 50.2)"/><ellipse cx="40.5" cy="47.0" rx="2.7" ry="2.3" transform="rotate(135 40.5 47.0)"/><ellipse cx="42.8" cy="47.8" rx="2.7" ry="2.5" transform="rotate(54 42.8 47.8)"/><ellipse cx="39.3" cy="47.3" rx="3.2" ry="2.1" transform="rotate(173 39.3 47.3)"/><ellipse cx="1.5" cy="49.2" rx="1.9" ry="1.6" transform="rotate(141 1.5 49.2)"/><ellipse cx="1.8" cy="50.3" rx="1.9" ry="1.7" transform="rotate(110 1.8 50.3)"/><ellipse cx="1.8" cy="51.3" rx="2.4" ry="2.2" transform="rotate(53 1.8 51.3)"/><ellipse cx="8.7" cy="50.1" rx="2.2" ry="1.9" transform="rotate(112 8.7 50.1)"/><ellipse cx="8.7" cy="50.8" rx="2.4" ry="1.9" transform="rotate(47 8.7 50.8)"/><ellipse cx="9.4" cy="50.2" rx="1.9" ry="2.0" transform="rotate(51 9.4 50.2)"/><ellipse cx="56.6" cy="51.1" rx="2.3" ry="2.4" transform="rotate(62 56.6 51.1)"/><ellipse cx="56.6" cy="49.1" rx="2.5" ry="1.9" transform="rotate(123 56.6 49.1)"/><ellipse cx="54.6" cy="49.4" rx="2.1" ry="2.3" transform="rotate(43 54.6 49.4)"/><ellipse cx="62.6" cy="52.3" rx="2.1" ry="2.2" transform="rotate(32 62.6 52.3)"/><ellipse cx="63.9" cy="52.4" rx="2.1" ry="1.8" transform="rotate(82 63.9 52.4)"/><ellipse cx="62.8" cy="50.9" rx="2.1" ry="2.2" transform="rotate(7 62.8 50.9)"/><ellipse cx="3.2" cy="55.3" rx="2.2" ry="2.5" transform="rotate(172 3.2 55.3)"/><ellipse cx="3.1" cy="54.0" rx="2.2" ry="2.4" transform="rotate(47 3.1 54.0)"/><ellipse cx="3.3" cy="52.9" rx="2.2" ry="2.0" transform="rotate(39 3.3 52.9)"/><ellipse cx="12.0" cy="55.7" rx="3.1" ry="2.2" transform="rotate(95 12.0 55.7)"/><ellipse cx="12.1" cy="56.0" rx="2.4" ry="2.4" transform="rotate(39 12.1 56.0)"/><ellipse cx="12.9" cy="56.1" rx="2.8" ry="2.3" transform="rotate(151 12.9 56.1)"/><ellipse cx="13.8" cy="53.6" rx="3.2" ry="2.2" transform="rotate(72 13.8 53.6)"/><ellipse cx="47.0" cy="53.9" rx="2.0" ry="2.0" transform="rotate(172 47.0 53.9)"/><ellipse cx="46.6" cy="53.9" rx="2.2" ry="1.7" transform="rotate(38 46.6 53.9)"/><ellipse cx="46.0" cy="53.4" rx="2.0" ry="1.6" transform="rotate(54 46.0 53.4)"/><ellipse cx="56.9" cy="53.8" rx="1.7" ry="1.6" transform="rotate(115 56.9 53.8)"/><ellipse cx="58.0" cy="55.1" rx="2.0" ry="1.7" transform="rotate(131 58.0 55.1)"/><ellipse cx="32.8" cy="56.2" rx="1.9" ry="2.1" transform="rotate(97 32.8 56.2)"/><ellipse cx="32.7" cy="57.7" rx="2.2" ry="1.7" transform="rotate(102 32.7 57.7)"/><ellipse cx="32.7" cy="57.0" rx="2.1" ry="1.8" transform="rotate(80 32.7 57.0)"/><ellipse cx="5.1" cy="59.8" rx="3.1" ry="2.5" transform="rotate(68 5.1 59.8)"/><ellipse cx="4.6" cy="59.6" rx="2.9" ry="2.9" transform="rotate(130 4.6 59.6)"/><ellipse cx="1.7" cy="60.1" rx="3.2" ry="2.9" transform="rotate(132 1.7 60.1)"/><ellipse cx="3.6" cy="59.7" rx="2.4" ry="2.4" transform="rotate(131 3.6 59.7)"/><ellipse cx="25.2" cy="61.1" rx="3.1" ry="2.5" transform="rotate(63 25.2 61.1)"/><ellipse cx="24.0" cy="62.4" rx="2.9" ry="2.2" transform="rotate(166 24.0 62.4)"/><ellipse cx="25.5" cy="61.2" rx="3.5" ry="2.6" transform="rotate(97 25.5 61.2)"/><ellipse cx="24.5" cy="63.3" rx="3.4" ry="2.6" transform="rotate(108 24.5 63.3)"/><ellipse cx="27.1" cy="67.4" rx="2.6" ry="2.2" transform="rotate(61 27.1 67.4)"/><ellipse cx="29.6" cy="66.1" rx="2.3" ry="2.3" transform="rotate(92 29.6 66.1)"/><ellipse cx="27.5" cy="66.2" rx="2.2" ry="2.3" transform="rotate(74 27.5 66.2)"/><ellipse cx="15.1" cy="62.7" rx="3.1" ry="2.4" transform="rotate(26 15.1 62.7)"/><ellipse cx="17.3" cy="64.2" rx="3.0" ry="2.5" transform="rotate(2 17.3 64.2)"/><ellipse cx="16.0" cy="63.5" rx="3.2" ry="2.8" transform="rotate(32 16.0 63.5)"/><ellipse cx="15.5" cy="62.2" rx="3.6" ry="2.7" transform="rotate(94 15.5 62.2)"/><ellipse cx="49.3" cy="59.4" rx="2.1" ry="1.7" transform="rotate(60 49.3 59.4)"/><ellipse cx="51.2" cy="59.8" rx="2.4" ry="1.9" transform="rotate(130 51.2 59.8)"/><ellipse cx="50.5" cy="60.1" rx="2.1" ry="1.9" transform="rotate(148 50.5 60.1)"/><ellipse cx="65.3" cy="64.1" rx="2.0" ry="2.2" transform="rotate(146 65.3 64.1)"/><ellipse cx="63.9" cy="63.7" rx="2.3" ry="2.0" transform="rotate(20 63.9 63.7)"/><ellipse cx="66.0" cy="63.8" rx="2.4" ry="2.1" transform="rotate(116 66.0 63.8)"/><ellipse cx="11.8" cy="65.9" rx="2.4" ry="2.2" transform="rotate(121 11.8 65.9)"/><ellipse cx="10.8" cy="68.9" rx="2.2" ry="2.0" transform="rotate(119 10.8 68.9)"/><ellipse cx="13.9" cy="68.4" rx="2.2" ry="2.4" transform="rotate(153 13.9 68.4)"/><ellipse cx="41.8" cy="65.5" rx="2.6" ry="2.1" transform="rotate(145 41.8 65.5)"/><ellipse cx="40.9" cy="66.3" rx="2.6" ry="2.6" transform="rotate(123 40.9 66.3)"/><ellipse cx="39.9" cy="66.8" rx="2.6" ry="2.5" transform="rotate(9 39.9 66.8)"/><ellipse cx="70.3" cy="67.0" rx="2.0" ry="2.1" transform="rotate(50 70.3 67.0)"/><ellipse cx="69.1" cy="66.6" rx="2.4" ry="1.9" transform="rotate(146 69.1 66.6)"/><ellipse cx="69.9" cy="68.2" rx="2.4" ry="2.2" transform="rotate(27 69.9 68.2)"/><ellipse cx="47.9" cy="68.6" rx="2.6" ry="2.1" transform="rotate(45 47.9 68.6)"/><ellipse cx="48.2" cy="67.5" rx="2.8" ry="2.7" transform="rotate(85 48.2 67.5)"/><ellipse cx="47.1" cy="69.7" rx="2.9" ry="2.6" transform="rotate(107 47.1 69.7)"/><ellipse cx="45.1" cy="70.4" rx="2.8" ry="2.1" transform="rotate(86 45.1 70.4)"/><ellipse cx="55.7" cy="69.4" rx="3.0" ry="2.1" transform="rotate(84 55.7 69.4)"/><ellipse cx="56.9" cy="70.0" rx="2.7" ry="2.4" transform="rotate(37 56.9 70.0)"/><ellipse cx="53.7" cy="69.9" rx="2.5" ry="2.5" transform="rotate(101 53.7 69.9)"/><ellipse cx="54.6" cy="69.7" rx="3.2" ry="2.5" transform="rotate(49 54.6 69.7)"/><ellipse cx="30.1" cy="72.5" rx="2.5" ry="2.5" transform="rotate(35 30.1 72.5)"/><ellipse cx="31.4" cy="72.8" rx="2.7" ry="2.5" transform="rotate(54 31.4 72.8)"/><ellipse cx="31.9" cy="71.1" rx="2.5" ry="2.2" transform="rotate(141 31.9 71.1)"/><ellipse cx="38.7" cy="71.6" rx="2.6" ry="2.4" transform="rotate(154 38.7 71.6)"/><ellipse cx="38.8" cy="74.3" rx="2.4" ry="2.4" transform="rotate(127 38.8 74.3)"/><ellipse cx="35.9" cy="74.6" rx="2.6" ry="2.3" transform="rotate(130 35.9 74.6)"/><ellipse cx="38.6" cy="71.5" rx="3.2" ry="2.3" transform="rotate(139 38.6 71.5)"/><ellipse cx="44.0" cy="71.6" rx="2.8" ry="2.5" transform="rotate(129 44.0 71.6)"/><ellipse cx="42.1" cy="70.5" rx="2.4" ry="2.3" transform="rotate(108 42.1 70.5)"/><ellipse cx="42.5" cy="70.0" rx="2.6" ry="1.9" transform="rotate(9 42.5 70.0)"/><ellipse cx="26.8" cy="77.8" rx="2.2" ry="1.8" transform="rotate(20 26.8 77.8)"/><ellipse cx="27.6" cy="78.4" rx="2.2" ry="1.9" transform="rotate(104 27.6 78.4)"/><ellipse cx="27.6" cy="77.1" rx="2.0" ry="1.9" transform="rotate(63 27.6 77.1)"/><ellipse cx="60.3" cy="79.1" rx="1.7" ry="1.7" transform="rotate(123 60.3 79.1)"/><ellipse cx="59.0" cy="79.1" rx="2.0" ry="1.6" transform="rotate(44 59.0 79.1)"/></g>
<g fill="#d2ca46"><ellipse cx="5.5" cy="8.9" rx="1.9" ry="1.4" transform="rotate(170 5.5 8.9)"/><ellipse cx="8.4" cy="7.4" rx="1.7" ry="1.5" transform="rotate(121 8.4 7.4)"/><ellipse cx="6.7" cy="6.4" rx="1.6" ry="2.0" transform="rotate(167 6.7 6.4)"/><ellipse cx="8.1" cy="5.9" rx="2.1" ry="1.3" transform="rotate(36 8.1 5.9)"/><ellipse cx="2.6" cy="8.1" rx="0.8" ry="0.9" transform="rotate(21 2.6 8.1)"/><ellipse cx="4.0" cy="8.5" rx="0.8" ry="0.7" transform="rotate(176 4.0 8.5)"/><ellipse cx="35.8" cy="3.6" rx="2.4" ry="1.2" transform="rotate(67 35.8 3.6)"/><ellipse cx="37.6" cy="1.3" rx="2.2" ry="1.9" transform="rotate(96 37.6 1.3)"/><ellipse cx="35.4" cy="3.6" rx="2.1" ry="1.3" transform="rotate(121 35.4 3.6)"/><ellipse cx="37.1" cy="4.6" rx="2.0" ry="1.7" transform="rotate(99 37.1 4.6)"/><ellipse cx="37.0" cy="7.3" rx="1.1" ry="1.2" transform="rotate(1 37.0 7.3)"/><ellipse cx="37.1" cy="7.5" rx="1.6" ry="0.8" transform="rotate(143 37.1 7.5)"/><ellipse cx="36.4" cy="8.1" rx="1.1" ry="0.9" transform="rotate(20 36.4 8.1)"/><ellipse cx="49.1" cy="4.0" rx="1.7" ry="1.5" transform="rotate(10 49.1 4.0)"/><ellipse cx="49.8" cy="2.0" rx="1.7" ry="1.1" transform="rotate(41 49.8 2.0)"/><ellipse cx="49.1" cy="3.7" rx="1.3" ry="1.4" transform="rotate(96 49.1 3.7)"/><ellipse cx="71.9" cy="5.4" rx="1.8" ry="1.1" transform="rotate(2 71.9 5.4)"/><ellipse cx="74.0" cy="5.8" rx="2.0" ry="1.6" transform="rotate(143 74.0 5.8)"/><ellipse cx="71.2" cy="5.8" rx="1.9" ry="1.6" transform="rotate(171 71.2 5.8)"/><ellipse cx="76.3" cy="10.6" rx="1.2" ry="1.1" transform="rotate(107 76.3 10.6)"/><ellipse cx="78.3" cy="11.2" rx="1.2" ry="1.0" transform="rotate(115 78.3 11.2)"/><ellipse cx="76.5" cy="11.0" rx="1.2" ry="1.0" transform="rotate(39 76.5 11.0)"/><ellipse cx="32.4" cy="13.8" rx="2.5" ry="1.4" transform="rotate(157 32.4 13.8)"/><ellipse cx="29.5" cy="13.3" rx="2.0" ry="1.7" transform="rotate(61 29.5 13.3)"/><ellipse cx="29.4" cy="12.2" rx="1.9" ry="2.1" transform="rotate(164 29.4 12.2)"/><ellipse cx="32.2" cy="11.0" rx="2.0" ry="2.0" transform="rotate(163 32.2 11.0)"/><ellipse cx="41.1" cy="14.9" rx="1.1" ry="1.2" transform="rotate(2 41.1 14.9)"/><ellipse cx="40.7" cy="15.8" rx="1.6" ry="0.8" transform="rotate(32 40.7 15.8)"/><ellipse cx="41.6" cy="14.3" rx="1.3" ry="1.0" transform="rotate(76 41.6 14.3)"/><ellipse cx="3.4" cy="17.7" rx="1.8" ry="1.2" transform="rotate(81 3.4 17.7)"/><ellipse cx="4.5" cy="18.7" rx="2.0" ry="1.6" transform="rotate(175 4.5 18.7)"/><ellipse cx="5.7" cy="18.4" rx="1.6" ry="1.7" transform="rotate(60 5.7 18.4)"/><ellipse cx="12.5" cy="25.8" rx="1.8" ry="2.3" transform="rotate(173 12.5 25.8)"/><ellipse cx="15.2" cy="23.0" rx="2.4" ry="1.6" transform="rotate(154 15.2 23.0)"/><ellipse cx="14.0" cy="23.7" rx="2.0" ry="1.7" transform="rotate(120 14.0 23.7)"/><ellipse cx="15.4" cy="25.6" rx="2.7" ry="1.4" transform="rotate(39 15.4 25.6)"/><ellipse cx="14.9" cy="29.0" rx="2.3" ry="1.3" transform="rotate(58 14.9 29.0)"/><ellipse cx="12.8" cy="29.2" rx="1.8" ry="1.5" transform="rotate(149 12.8 29.2)"/><ellipse cx="15.8" cy="30.4" rx="2.3" ry="1.3" transform="rotate(135 15.8 30.4)"/><ellipse cx="15.1" cy="29.9" rx="1.6" ry="1.9" transform="rotate(121 15.1 29.9)"/><ellipse cx="12.7" cy="20.8" rx="1.2" ry="0.9" transform="rotate(153 12.7 20.8)"/><ellipse cx="12.2" cy="21.6" rx="1.6" ry="1.3" transform="rotate(76 12.2 21.6)"/><ellipse cx="10.8" cy="22.4" rx="1.0" ry="1.0" transform="rotate(66 10.8 22.4)"/><ellipse cx="4.5" cy="22.0" rx="1.9" ry="1.6" transform="rotate(83 4.5 22.0)"/><ellipse cx="5.1" cy="24.0" rx="1.8" ry="1.9" transform="rotate(50 5.1 24.0)"/><ellipse cx="3.1" cy="22.2" rx="2.4" ry="1.7" transform="rotate(52 3.1 22.2)"/><ellipse cx="5.7" cy="23.7" rx="2.3" ry="1.4" transform="rotate(109 5.7 23.7)"/><ellipse cx="26.4" cy="22.4" rx="2.0" ry="1.7" transform="rotate(41 26.4 22.4)"/><ellipse cx="25.8" cy="22.5" rx="2.0" ry="1.4" transform="rotate(60 25.8 22.5)"/><ellipse cx="27.2" cy="22.7" rx="1.8" ry="1.2" transform="rotate(52 27.2 22.7)"/><ellipse cx="34.3" cy="21.0" rx="2.3" ry="2.1" transform="rotate(42 34.3 21.0)"/><ellipse cx="36.5" cy="18.3" rx="1.7" ry="1.5" transform="rotate(154 36.5 18.3)"/><ellipse cx="33.7" cy="19.6" rx="2.2" ry="1.2" transform="rotate(13 33.7 19.6)"/><ellipse cx="34.8" cy="20.5" rx="1.7" ry="1.6" transform="rotate(176 34.8 20.5)"/><ellipse cx="51.9" cy="17.8" rx="0.8" ry="0.5" transform="rotate(128 51.9 17.8)"/><ellipse cx="51.5" cy="17.0" rx="0.7" ry="0.6" transform="rotate(112 51.5 17.0)"/><ellipse cx="46.6" cy="29.1" rx="1.8" ry="1.1" transform="rotate(64 46.6 29.1)"/><ellipse cx="49.4" cy="27.1" rx="1.6" ry="1.0" transform="rotate(146 49.4 27.1)"/><ellipse cx="48.9" cy="29.4" rx="1.7" ry="1.2" transform="rotate(176 48.9 29.4)"/><ellipse cx="46.8" cy="32.8" rx="1.5" ry="1.4" transform="rotate(171 46.8 32.8)"/><ellipse cx="49.2" cy="34.0" rx="1.5" ry="1.1" transform="rotate(148 49.2 34.0)"/><ellipse cx="47.8" cy="33.2" rx="1.4" ry="1.0" transform="rotate(71 47.8 33.2)"/><ellipse cx="34.5" cy="32.2" rx="2.1" ry="1.8" transform="rotate(56 34.5 32.2)"/><ellipse cx="34.2" cy="32.0" rx="1.8" ry="2.4" transform="rotate(70 34.2 32.0)"/><ellipse cx="33.7" cy="29.5" rx="2.7" ry="1.8" transform="rotate(119 33.7 29.5)"/><ellipse cx="33.8" cy="28.5" rx="2.6" ry="1.6" transform="rotate(16 33.8 28.5)"/><ellipse cx="41.2" cy="28.7" rx="1.1" ry="0.7" transform="rotate(2 41.2 28.7)"/><ellipse cx="42.8" cy="29.3" rx="0.9" ry="1.0" transform="rotate(6 42.8 29.3)"/><ellipse cx="59.0" cy="33.4" rx="2.3" ry="1.6" transform="rotate(73 59.0 33.4)"/><ellipse cx="59.3" cy="31.3" rx="2.4" ry="1.3" transform="rotate(55 59.3 31.3)"/><ellipse cx="59.8" cy="32.1" rx="2.0" ry="1.5" transform="rotate(102 59.8 32.1)"/><ellipse cx="59.5" cy="32.5" rx="1.8" ry="1.5" transform="rotate(62 59.5 32.5)"/><ellipse cx="14.5" cy="35.6" rx="1.8" ry="1.3" transform="rotate(96 14.5 35.6)"/><ellipse cx="12.4" cy="36.2" rx="1.7" ry="1.8" transform="rotate(127 12.4 36.2)"/><ellipse cx="13.0" cy="34.3" rx="1.9" ry="1.6" transform="rotate(100 13.0 34.3)"/><ellipse cx="22.6" cy="34.7" rx="1.0" ry="1.0" transform="rotate(136 22.6 34.7)"/><ellipse cx="21.4" cy="36.0" rx="1.0" ry="0.6" transform="rotate(35 21.4 36.0)"/><ellipse cx="26.1" cy="37.8" rx="2.4" ry="1.4" transform="rotate(152 26.1 37.8)"/><ellipse cx="27.2" cy="36.4" rx="1.7" ry="2.0" transform="rotate(151 27.2 36.4)"/><ellipse cx="24.7" cy="35.7" rx="2.1" ry="2.1" transform="rotate(47 24.7 35.7)"/><ellipse cx="26.7" cy="36.1" rx="1.6" ry="1.9" transform="rotate(175 26.7 36.1)"/><ellipse cx="31.2" cy="40.9" rx="1.5" ry="0.9" transform="rotate(140 31.2 40.9)"/><ellipse cx="29.9" cy="40.9" rx="1.5" ry="0.9" transform="rotate(160 29.9 40.9)"/><ellipse cx="32.0" cy="39.2" rx="1.4" ry="0.9" transform="rotate(50 32.0 39.2)"/><ellipse cx="50.1" cy="38.9" rx="1.1" ry="1.1" transform="rotate(172 50.1 38.9)"/><ellipse cx="48.9" cy="40.2" rx="1.5" ry="1.0" transform="rotate(31 48.9 40.2)"/><ellipse cx="48.6" cy="40.7" rx="1.4" ry="1.0" transform="rotate(116 48.6 40.7)"/><ellipse cx="40.5" cy="40.9" rx="2.5" ry="1.9" transform="rotate(46 40.5 40.9)"/><ellipse cx="39.3" cy="43.4" rx="1.7" ry="2.1" transform="rotate(157 39.3 43.4)"/><ellipse cx="41.6" cy="42.3" rx="1.7" ry="1.2" transform="rotate(167 41.6 42.3)"/><ellipse cx="41.7" cy="41.5" rx="1.9" ry="1.7" transform="rotate(101 41.7 41.5)"/><ellipse cx="6.9" cy="40.5" rx="2.0" ry="1.5" transform="rotate(150 6.9 40.5)"/><ellipse cx="9.3" cy="41.8" rx="2.6" ry="1.7" transform="rotate(84 9.3 41.8)"/><ellipse cx="6.7" cy="41.8" rx="2.1" ry="2.3" transform="rotate(179 6.7 41.8)"/><ellipse cx="9.5" cy="43.9" rx="2.0" ry="1.9" transform="rotate(137 9.5 43.9)"/><ellipse cx="9.1" cy="48.2" rx="1.4" ry="1.6" transform="rotate(18 9.1 48.2)"/><ellipse cx="6.9" cy="46.4" rx="1.8" ry="1.5" transform="rotate(78 6.9 46.4)"/><ellipse cx="7.0" cy="46.2" rx="1.4" ry="1.4" transform="rotate(80 7.0 46.2)"/><ellipse cx="66.7" cy="42.6" rx="1.2" ry="1.2" transform="rotate(119 66.7 42.6)"/><ellipse cx="67.6" cy="41.5" rx="1.3" ry="1.3" transform="rotate(114 67.6 41.5)"/><ellipse cx="67.3" cy="41.8" rx="1.5" ry="1.2" transform="rotate(125 67.3 41.8)"/><ellipse cx="78.7" cy="44.2" rx="1.6" ry="0.9" transform="rotate(172 78.7 44.2)"/><ellipse cx="79.0" cy="44.3" rx="1.2" ry="0.9" transform="rotate(148 79.0 44.3)"/><ellipse cx="77.9" cy="44.2" rx="1.6" ry="1.2" transform="rotate(136 77.9 44.2)"/><ellipse cx="42.2" cy="50.2" rx="1.7" ry="1.8" transform="rotate(156 42.2 50.2)"/><ellipse cx="40.5" cy="47.0" rx="1.9" ry="1.5" transform="rotate(135 40.5 47.0)"/><ellipse cx="42.8" cy="47.8" rx="1.9" ry="1.7" transform="rotate(54 42.8 47.8)"/><ellipse cx="39.3" cy="47.3" rx="2.4" ry="1.3" transform="rotate(173 39.3 47.3)"/><ellipse cx="1.5" cy="49.2" rx="1.1" ry="0.8" transform="rotate(141 1.5 49.2)"/><ellipse cx="1.8" cy="50.3" rx="1.1" ry="0.9" transform="rotate(110 1.8 50.3)"/><ellipse cx="1.8" cy="51.3" rx="1.6" ry="1.4" transform="rotate(53 1.8 51.3)"/><ellipse cx="8.7" cy="50.1" rx="1.4" ry="1.1" transform="rotate(112 8.7 50.1)"/><ellipse cx="8.7" cy="50.8" rx="1.6" ry="1.1" transform="rotate(47 8.7 50.8)"/><ellipse cx="9.4" cy="50.2" rx="1.1" ry="1.2" transform="rotate(51 9.4 50.2)"/><ellipse cx="56.6" cy="51.1" rx="1.5" ry="1.6" transform="rotate(62 56.6 51.1)"/><ellipse cx="56.6" cy="49.1" rx="1.7" ry="1.1" transform="rotate(123 56.6 49.1)"/><ellipse cx="54.6" cy="49.4" rx="1.3" ry="1.5" transform="rotate(43 54.6 49.4)"/><ellipse cx="62.6" cy="52.3" rx="1.3" ry="1.4" transform="rotate(32 62.6 52.3)"/><ellipse cx="63.9" cy="52.4" rx="1.3" ry="1.0" transform="rotate(82 63.9 52.4)"/><ellipse cx="62.8" cy="50.9" rx="1.3" ry="1.4" transform="rotate(7 62.8 50.9)"/><ellipse cx="3.2" cy="55.3" rx="1.4" ry="1.7" transform="rotate(172 3.2 55.3)"/><ellipse cx="3.1" cy="54.0" rx="1.4" ry="1.6" transform="rotate(47 3.1 54.0)"/><ellipse cx="3.3" cy="52.9" rx="1.4" ry="1.2" transform="rotate(39 3.3 52.9)"/><ellipse cx="12.0" cy="55.7" rx="2.3" ry="1.4" transform="rotate(95 12.0 55.7)"/><ellipse cx="12.1" cy="56.0" rx="1.6" ry="1.6" transform="rotate(39 12.1 56.0)"/><ellipse cx="12.9" cy="56.1" rx="2.0" ry="1.5" transform="rotate(151 12.9 56.1)"/><ellipse cx="13.8" cy="53.6" rx="2.4" ry="1.4" transform="rotate(72 13.8 53.6)"/><ellipse cx="47.0" cy="53.9" rx="1.2" ry="1.2" transform="rotate(172 47.0 53.9)"/><ellipse cx="46.6" cy="53.9" rx="1.4" ry="0.9" transform="rotate(38 46.6 53.9)"/><ellipse cx="46.0" cy="53.4" rx="1.2" ry="0.8" transform="rotate(54 46.0 53.4)"/><ellipse cx="56.9" cy="53.8" rx="0.9" ry="0.8" transform="rotate(115 56.9 53.8)"/><ellipse cx="58.0" cy="55.1" rx="1.2" ry="0.9" transform="rotate(131 58.0 55.1)"/><ellipse cx="32.8" cy="56.2" rx="1.1" ry="1.3" transform="rotate(97 32.8 56.2)"/><ellipse cx="32.7" cy="57.7" rx="1.4" ry="0.9" transform="rotate(102 32.7 57.7)"/><ellipse cx="32.7" cy="57.0" rx="1.3" ry="1.0" transform="rotate(80 32.7 57.0)"/><ellipse cx="5.1" cy="59.8" rx="2.3" ry="1.7" transform="rotate(68 5.1 59.8)"/><ellipse cx="4.6" cy="59.6" rx="2.1" ry="2.1" transform="rotate(130 4.6 59.6)"/><ellipse cx="1.7" cy="60.1" rx="2.4" ry="2.1" transform="rotate(132 1.7 60.1)"/><ellipse cx="3.6" cy="59.7" rx="1.6" ry="1.6" transform="rotate(131 3.6 59.7)"/><ellipse cx="25.2" cy="61.1" rx="2.3" ry="1.7" transform="rotate(63 25.2 61.1)"/><ellipse cx="24.0" cy="62.4" rx="2.1" ry="1.4" transform="rotate(166 24.0 62.4)"/><ellipse cx="25.5" cy="61.2" rx="2.7" ry="1.8" transform="rotate(97 25.5 61.2)"/><ellipse cx="24.5" cy="63.3" rx="2.6" ry="1.8" transform="rotate(108 24.5 63.3)"/><ellipse cx="27.1" cy="67.4" rx="1.8" ry="1.4" transform="rotate(61 27.1 67.4)"/><ellipse cx="29.6" cy="66.1" rx="1.5" ry="1.5" transform="rotate(92 29.6 66.1)"/><ellipse cx="27.5" cy="66.2" rx="1.4" ry="1.5" transform="rotate(74 27.5 66.2)"/><ellipse cx="15.1" cy="62.7" rx="2.3" ry="1.6" transform="rotate(26 15.1 62.7)"/><ellipse cx="17.3" cy="64.2" rx="2.2" ry="1.7" transform="rotate(2 17.3 64.2)"/><ellipse cx="16.0" cy="63.5" rx="2.4" ry="2.0" transform="rotate(32 16.0 63.5)"/><ellipse cx="15.5" cy="62.2" rx="2.8" ry="1.9" transform="rotate(94 15.5 62.2)"/><ellipse cx="49.3" cy="59.4" rx="1.3" ry="0.9" transform="rotate(60 49.3 59.4)"/><ellipse cx="51.2" cy="59.8" rx="1.6" ry="1.1" transform="rotate(130 51.2 59.8)"/><ellipse cx="50.5" cy="60.1" rx="1.3" ry="1.1" transform="rotate(148 50.5 60.1)"/><ellipse cx="65.3" cy="64.1" rx="1.2" ry="1.4" transform="rotate(146 65.3 64.1)"/><ellipse cx="63.9" cy="63.7" rx="1.5" ry="1.2" transform="rotate(20 63.9 63.7)"/><ellipse cx="66.0" cy="63.8" rx="1.6" ry="1.3" transform="rotate(116 66.0 63.8)"/><ellipse cx="11.8" cy="65.9" rx="1.6" ry="1.4" transform="rotate(121 11.8 65.9)"/><ellipse cx="10.8" cy="68.9" rx="1.4" ry="1.2" transform="rotate(119 10.8 68.9)"/><ellipse cx="13.9" cy="68.4" rx="1.4" ry="1.6" transform="rotate(153 13.9 68.4)"/><ellipse cx="41.8" cy="65.5" rx="1.8" ry="1.3" transform="rotate(145 41.8 65.5)"/><ellipse cx="40.9" cy="66.3" rx="1.8" ry="1.8" transform="rotate(123 40.9 66.3)"/><ellipse cx="39.9" cy="66.8" rx="1.8" ry="1.7" transform="rotate(9 39.9 66.8)"/><ellipse cx="70.3" cy="67.0" rx="1.2" ry="1.3" transform="rotate(50 70.3 67.0)"/><ellipse cx="69.1" cy="66.6" rx="1.6" ry="1.1" transform="rotate(146 69.1 66.6)"/><ellipse cx="69.9" cy="68.2" rx="1.6" ry="1.4" transform="rotate(27 69.9 68.2)"/><ellipse cx="47.9" cy="68.6" rx="1.8" ry="1.3" transform="rotate(45 47.9 68.6)"/><ellipse cx="48.2" cy="67.5" rx="2.0" ry="1.9" transform="rotate(85 48.2 67.5)"/><ellipse cx="47.1" cy="69.7" rx="2.1" ry="1.8" transform="rotate(107 47.1 69.7)"/><ellipse cx="45.1" cy="70.4" rx="2.0" ry="1.3" transform="rotate(86 45.1 70.4)"/><ellipse cx="55.7" cy="69.4" rx="2.2" ry="1.3" transform="rotate(84 55.7 69.4)"/><ellipse cx="56.9" cy="70.0" rx="1.9" ry="1.6" transform="rotate(37 56.9 70.0)"/><ellipse cx="53.7" cy="69.9" rx="1.7" ry="1.7" transform="rotate(101 53.7 69.9)"/><ellipse cx="54.6" cy="69.7" rx="2.4" ry="1.7" transform="rotate(49 54.6 69.7)"/><ellipse cx="30.1" cy="72.5" rx="1.7" ry="1.7" transform="rotate(35 30.1 72.5)"/><ellipse cx="31.4" cy="72.8" rx="1.9" ry="1.7" transform="rotate(54 31.4 72.8)"/><ellipse cx="31.9" cy="71.1" rx="1.7" ry="1.4" transform="rotate(141 31.9 71.1)"/><ellipse cx="38.7" cy="71.6" rx="1.8" ry="1.6" transform="rotate(154 38.7 71.6)"/><ellipse cx="38.8" cy="74.3" rx="1.6" ry="1.6" transform="rotate(127 38.8 74.3)"/><ellipse cx="35.9" cy="74.6" rx="1.8" ry="1.5" transform="rotate(130 35.9 74.6)"/><ellipse cx="38.6" cy="71.5" rx="2.4" ry="1.5" transform="rotate(139 38.6 71.5)"/><ellipse cx="44.0" cy="71.6" rx="2.0" ry="1.7" transform="rotate(129 44.0 71.6)"/><ellipse cx="42.1" cy="70.5" rx="1.6" ry="1.5" transform="rotate(108 42.1 70.5)"/><ellipse cx="42.5" cy="70.0" rx="1.8" ry="1.1" transform="rotate(9 42.5 70.0)"/><ellipse cx="26.8" cy="77.8" rx="1.4" ry="1.0" transform="rotate(20 26.8 77.8)"/><ellipse cx="27.6" cy="78.4" rx="1.4" ry="1.1" transform="rotate(104 27.6 78.4)"/><ellipse cx="27.6" cy="77.1" rx="1.2" ry="1.1" transform="rotate(63 27.6 77.1)"/><ellipse cx="60.3" cy="79.1" rx="0.9" ry="0.9" transform="rotate(123 60.3 79.1)"/><ellipse cx="59.0" cy="79.1" rx="1.2" ry="0.8" transform="rotate(44 59.0 79.1)"/></g>
<path d="M48.2,71.6H54.2" stroke="#e8e8e8" stroke-width="1.6"/>
<text x="55.7" y="74.1" font-size="6.6" fill="#1a1a1a" textLength="14" lengthAdjust="spacingAndGlyphs">30µm</text>
</svg>
<svg x="311.0" y="715.9" width="80.2" height="80.5" viewBox="0 0 80.2 80.5" overflow="hidden">
<rect width="80.2" height="80.5" fill="#916ea6"/>
<rect width="80.2" height="80.5" fill="url(#np93242)"/>
<g fill="#66559e" opacity="0.55"><ellipse cx="3.9" cy="75.7" rx="2.6" ry="2.2"/><ellipse cx="24.1" cy="58.8" rx="3.3" ry="2.8"/><ellipse cx="8.4" cy="78.3" rx="3.4" ry="2.9"/><ellipse cx="35.1" cy="78.4" rx="3.4" ry="2.9"/><ellipse cx="12.4" cy="54.8" rx="2.7" ry="2.3"/><ellipse cx="24.1" cy="62.5" rx="3.1" ry="2.7"/><ellipse cx="36.9" cy="49.8" rx="2.9" ry="2.5"/><ellipse cx="29.6" cy="49.2" rx="3.1" ry="2.7"/><ellipse cx="16.3" cy="50.0" rx="2.7" ry="2.3"/><ellipse cx="10.7" cy="52.4" rx="2.7" ry="2.3"/><ellipse cx="8.1" cy="58.8" rx="3.2" ry="2.7"/><ellipse cx="6.5" cy="42.8" rx="3.4" ry="2.9"/><ellipse cx="14.6" cy="52.0" rx="3.3" ry="2.8"/><ellipse cx="35.1" cy="63.6" rx="3.0" ry="2.5"/></g>
<g fill="none" stroke="#55204a" stroke-width="1.1" stroke-dasharray="1.2,0.8" opacity="0.6" stroke-linejoin="round"><path d="M56.1,1.0L58.6,1.6L61.2,1.9L63.8,1.8L66.3,2.6"/><path d="M32.2,72.2L29.9,73.4L27.9,75.1L25.6,76.3L23.0,76.3"/><path d="M2.1,66.2L4.6,67.0L7.2,66.6L9.3,65.1L11.1,63.2L13.1,61.6L14.6,59.5"/><path d="M38.6,1.2L40.8,-0.1L42.2,-2.4L44.3,-3.8L46.5,-5.3L47.3,-7.7L48.6,-10.0L50.6,-11.6"/><path d="M47.3,19.5L44.7,19.5L42.1,19.8L39.7,20.5L37.1,20.0L34.5,19.6L32.0,20.0"/><path d="M28.4,68.3L25.9,67.5L23.6,66.4L21.1,65.8L18.7,64.8L17.0,62.8"/><path d="M38.4,63.0L40.9,62.1L42.5,60.1L44.1,58.0L46.6,57.3L49.1,56.6L51.0,54.8"/><path d="M25.5,63.9L27.6,62.4L30.1,61.7L32.7,61.4L34.8,60.0"/><path d="M73.6,20.6L76.1,21.4L78.3,22.8L80.1,24.6L82.3,25.9L84.4,27.5L86.8,28.5"/><path d="M47.2,57.4L45.8,55.2L45.5,52.6L46.4,50.1L46.9,47.6L47.4,45.0L48.7,42.8L49.9,40.5"/><path d="M79.7,5.6L78.0,3.7L77.0,1.3L76.4,-1.3L76.8,-3.8L77.0,-6.4L76.0,-8.9"/><path d="M10.9,31.5L8.3,31.8L5.7,31.6L3.2,31.0L0.9,29.8L-1.7,29.5"/><path d="M69.8,20.1L67.4,19.1L65.5,17.3L64.0,15.2L63.6,12.6L62.9,10.1L61.8,7.7L59.8,6.1"/><path d="M70.7,44.0L73.1,42.8L74.8,40.9L76.9,39.4L78.1,37.1L78.6,34.5L79.9,32.3L80.7,29.8"/><path d="M26.3,77.5L28.9,77.6L31.2,78.9L32.8,81.0L35.1,82.1"/><path d="M24.8,5.2L22.5,4.2L20.2,3.0L17.9,1.8"/><path d="M18.3,21.7L20.9,21.4L23.3,20.5L25.9,20.4L28.3,19.4"/><path d="M66.0,35.1L68.3,36.4L70.7,37.4L73.3,37.3L75.7,36.2L77.4,34.3"/><path d="M68.0,70.7L70.5,70.3L72.8,69.1L75.4,69.2L77.8,70.3L80.4,69.8"/><path d="M62.7,35.0L63.9,32.7L65.9,31.0L67.4,28.9L68.3,26.5L69.5,24.1L71.4,22.4L73.9,22.0"/><path d="M4.5,4.2L2.0,3.4L-0.6,3.8L-2.6,5.4"/><path d="M63.5,18.4L66.0,18.0L68.5,18.9L70.6,20.4L71.9,22.6L72.6,25.2"/><path d="M71.4,43.9L73.4,42.3L74.7,40.0L76.4,38.0"/><path d="M14.3,4.7L16.1,6.6L17.9,8.5L19.3,10.7L20.8,12.8L23.1,14.0L25.4,15.0L28.0,15.6"/><path d="M52.5,24.9L50.3,26.3L47.7,26.6L45.3,27.6"/><path d="M49.0,29.7L46.5,29.0L43.9,28.8L41.6,30.0L39.3,31.2"/><path d="M14.9,39.5L17.4,38.8L19.9,38.3L22.0,36.8L24.4,35.7L26.1,33.7"/><path d="M18.9,5.8L21.5,6.4L24.0,7.0L26.6,7.4L28.8,8.7"/><path d="M24.5,77.2L21.9,77.1L19.6,76.0L17.6,74.3L15.4,73.0"/><path d="M44.0,45.4L41.4,44.9L39.2,43.6L37.3,41.8"/></g>
<g fill="#4e1c40" opacity="0.62"><ellipse cx="35.8" cy="4.1" rx="3.8" ry="2.2" transform="rotate(15 35.8 4.1)"/><ellipse cx="33.1" cy="3.7" rx="3.6" ry="1.9" transform="rotate(163 33.1 3.7)"/><ellipse cx="35.9" cy="3.9" rx="3.1" ry="1.7" transform="rotate(30 35.9 3.9)"/><ellipse cx="36.2" cy="0.5" rx="3.3" ry="2.0" transform="rotate(56 36.2 0.5)"/><ellipse cx="32.9" cy="0.9" rx="2.8" ry="1.7" transform="rotate(171 32.9 0.9)"/><ellipse cx="31.5" cy="1.4" rx="2.5" ry="1.8" transform="rotate(153 31.5 1.4)"/><ellipse cx="31.2" cy="1.7" rx="3.0" ry="1.7" transform="rotate(138 31.2 1.7)"/><ellipse cx="43.9" cy="6.2" rx="2.3" ry="1.4" transform="rotate(109 43.9 6.2)"/><ellipse cx="44.2" cy="6.0" rx="2.2" ry="1.4" transform="rotate(105 44.2 6.0)"/><ellipse cx="52.6" cy="14.0" rx="2.0" ry="1.4" transform="rotate(97 52.6 14.0)"/><ellipse cx="51.8" cy="14.1" rx="2.2" ry="1.5" transform="rotate(15 51.8 14.1)"/><ellipse cx="63.3" cy="12.5" rx="1.7" ry="1.3" transform="rotate(163 63.3 12.5)"/><ellipse cx="64.2" cy="13.3" rx="2.0" ry="1.4" transform="rotate(25 64.2 13.3)"/><ellipse cx="28.6" cy="26.0" rx="2.8" ry="1.9" transform="rotate(8 28.6 26.0)"/><ellipse cx="28.5" cy="27.7" rx="3.5" ry="1.7" transform="rotate(22 28.5 27.7)"/><ellipse cx="28.0" cy="27.3" rx="3.1" ry="1.9" transform="rotate(123 28.0 27.3)"/><ellipse cx="24.7" cy="24.6" rx="2.2" ry="1.5" transform="rotate(86 24.7 24.6)"/><ellipse cx="24.4" cy="24.6" rx="2.2" ry="1.3" transform="rotate(33 24.4 24.6)"/><ellipse cx="30.7" cy="30.0" rx="2.0" ry="1.3" transform="rotate(24 30.7 30.0)"/><ellipse cx="32.3" cy="29.4" rx="2.0" ry="1.3" transform="rotate(115 32.3 29.4)"/><ellipse cx="22.3" cy="22.4" rx="1.7" ry="1.1" transform="rotate(45 22.3 22.4)"/><ellipse cx="22.4" cy="21.6" rx="1.7" ry="1.1" transform="rotate(6 22.4 21.6)"/><ellipse cx="61.5" cy="23.6" rx="2.4" ry="1.4" transform="rotate(150 61.5 23.6)"/><ellipse cx="61.0" cy="22.3" rx="2.2" ry="1.5" transform="rotate(133 61.0 22.3)"/><ellipse cx="66.7" cy="25.1" rx="1.6" ry="1.1" transform="rotate(62 66.7 25.1)"/><ellipse cx="66.9" cy="24.7" rx="1.5" ry="1.2" transform="rotate(162 66.9 24.7)"/><ellipse cx="4.3" cy="29.6" rx="2.7" ry="1.8" transform="rotate(129 4.3 29.6)"/><ellipse cx="5.5" cy="31.4" rx="3.2" ry="1.9" transform="rotate(93 5.5 31.4)"/><ellipse cx="5.7" cy="31.3" rx="2.7" ry="1.7" transform="rotate(161 5.7 31.3)"/><ellipse cx="72.8" cy="28.1" rx="2.9" ry="2.0" transform="rotate(131 72.8 28.1)"/><ellipse cx="72.2" cy="29.4" rx="2.8" ry="1.8" transform="rotate(112 72.2 29.4)"/><ellipse cx="73.0" cy="28.7" rx="3.0" ry="1.7" transform="rotate(10 73.0 28.7)"/><ellipse cx="19.8" cy="38.4" rx="2.5" ry="1.5" transform="rotate(167 19.8 38.4)"/><ellipse cx="20.4" cy="38.0" rx="2.5" ry="1.6" transform="rotate(46 20.4 38.0)"/><ellipse cx="20.2" cy="39.3" rx="2.6" ry="1.5" transform="rotate(131 20.2 39.3)"/><ellipse cx="54.7" cy="37.3" rx="2.5" ry="1.4" transform="rotate(82 54.7 37.3)"/><ellipse cx="55.5" cy="36.4" rx="2.5" ry="1.4" transform="rotate(92 55.5 36.4)"/><ellipse cx="75.1" cy="38.5" rx="4.0" ry="1.8" transform="rotate(152 75.1 38.5)"/><ellipse cx="73.7" cy="41.5" rx="3.5" ry="1.7" transform="rotate(153 73.7 41.5)"/><ellipse cx="73.0" cy="38.3" rx="3.3" ry="1.9" transform="rotate(36 73.0 38.3)"/><ellipse cx="73.6" cy="39.6" rx="2.8" ry="1.7" transform="rotate(59 73.6 39.6)"/><ellipse cx="76.2" cy="43.8" rx="3.1" ry="1.4" transform="rotate(96 76.2 43.8)"/><ellipse cx="75.3" cy="42.9" rx="2.9" ry="1.7" transform="rotate(157 75.3 42.9)"/><ellipse cx="74.5" cy="41.8" rx="2.6" ry="1.7" transform="rotate(63 74.5 41.8)"/><ellipse cx="70.6" cy="36.9" rx="2.1" ry="1.4" transform="rotate(8 70.6 36.9)"/><ellipse cx="69.8" cy="37.5" rx="2.6" ry="1.7" transform="rotate(108 69.8 37.5)"/><ellipse cx="30.5" cy="48.6" rx="3.1" ry="1.5" transform="rotate(165 30.5 48.6)"/><ellipse cx="31.6" cy="49.8" rx="2.9" ry="1.5" transform="rotate(82 31.6 49.8)"/><ellipse cx="31.7" cy="48.7" rx="2.9" ry="1.4" transform="rotate(32 31.7 48.7)"/><ellipse cx="52.6" cy="50.0" rx="3.8" ry="1.8" transform="rotate(85 52.6 50.0)"/><ellipse cx="53.8" cy="48.9" rx="3.5" ry="1.8" transform="rotate(42 53.8 48.9)"/><ellipse cx="55.1" cy="47.6" rx="3.5" ry="2.0" transform="rotate(125 55.1 47.6)"/><ellipse cx="54.1" cy="48.2" rx="3.0" ry="1.7" transform="rotate(168 54.1 48.2)"/><ellipse cx="48.7" cy="48.2" rx="1.5" ry="1.2" transform="rotate(62 48.7 48.2)"/><ellipse cx="48.2" cy="48.5" rx="1.6" ry="1.2" transform="rotate(58 48.2 48.5)"/><ellipse cx="24.3" cy="45.8" rx="2.1" ry="1.3" transform="rotate(109 24.3 45.8)"/><ellipse cx="23.5" cy="44.9" rx="1.9" ry="1.3" transform="rotate(57 23.5 44.9)"/><ellipse cx="5.9" cy="52.6" rx="2.1" ry="1.4" transform="rotate(28 5.9 52.6)"/><ellipse cx="5.9" cy="52.8" rx="2.0" ry="1.4" transform="rotate(114 5.9 52.8)"/><ellipse cx="42.9" cy="63.0" rx="3.1" ry="2.0" transform="rotate(117 42.9 63.0)"/><ellipse cx="45.5" cy="60.2" rx="3.7" ry="2.1" transform="rotate(118 45.5 60.2)"/><ellipse cx="46.0" cy="62.7" rx="3.2" ry="1.9" transform="rotate(10 46.0 62.7)"/><ellipse cx="43.8" cy="61.4" rx="3.4" ry="2.3" transform="rotate(49 43.8 61.4)"/><ellipse cx="43.3" cy="65.1" rx="2.7" ry="1.6" transform="rotate(23 43.3 65.1)"/><ellipse cx="45.3" cy="64.3" rx="2.8" ry="1.5" transform="rotate(150 45.3 64.3)"/><ellipse cx="43.9" cy="64.9" rx="2.3" ry="1.7" transform="rotate(52 43.9 64.9)"/><ellipse cx="8.0" cy="70.7" rx="2.9" ry="2.1" transform="rotate(161 8.0 70.7)"/><ellipse cx="11.0" cy="72.3" rx="3.1" ry="1.7" transform="rotate(42 11.0 72.3)"/><ellipse cx="7.7" cy="69.6" rx="3.9" ry="1.9" transform="rotate(146 7.7 69.6)"/><ellipse cx="9.4" cy="71.7" rx="3.3" ry="2.3" transform="rotate(145 9.4 71.7)"/><ellipse cx="10.4" cy="74.0" rx="2.5" ry="1.5" transform="rotate(174 10.4 74.0)"/><ellipse cx="10.3" cy="75.3" rx="2.3" ry="1.4" transform="rotate(6 10.3 75.3)"/><ellipse cx="10.3" cy="74.6" rx="2.8" ry="1.5" transform="rotate(63 10.3 74.6)"/><ellipse cx="71.0" cy="75.3" rx="2.0" ry="1.4" transform="rotate(86 71.0 75.3)"/><ellipse cx="70.6" cy="76.7" rx="2.1" ry="1.3" transform="rotate(102 70.6 76.7)"/></g>
<g fill="#d2ca46"><ellipse cx="35.8" cy="4.1" rx="3.0" ry="1.4" transform="rotate(15 35.8 4.1)"/><ellipse cx="33.1" cy="3.7" rx="2.8" ry="1.1" transform="rotate(163 33.1 3.7)"/><ellipse cx="35.9" cy="3.9" rx="2.3" ry="0.9" transform="rotate(30 35.9 3.9)"/><ellipse cx="36.2" cy="0.5" rx="2.5" ry="1.2" transform="rotate(56 36.2 0.5)"/><ellipse cx="32.9" cy="0.9" rx="2.0" ry="0.9" transform="rotate(171 32.9 0.9)"/><ellipse cx="31.5" cy="1.4" rx="1.7" ry="1.0" transform="rotate(153 31.5 1.4)"/><ellipse cx="31.2" cy="1.7" rx="2.2" ry="0.9" transform="rotate(138 31.2 1.7)"/><ellipse cx="43.9" cy="6.2" rx="1.5" ry="0.6" transform="rotate(109 43.9 6.2)"/><ellipse cx="44.2" cy="6.0" rx="1.4" ry="0.6" transform="rotate(105 44.2 6.0)"/><ellipse cx="52.6" cy="14.0" rx="1.2" ry="0.6" transform="rotate(97 52.6 14.0)"/><ellipse cx="51.8" cy="14.1" rx="1.4" ry="0.7" transform="rotate(15 51.8 14.1)"/><ellipse cx="63.3" cy="12.5" rx="0.9" ry="0.5" transform="rotate(163 63.3 12.5)"/><ellipse cx="64.2" cy="13.3" rx="1.2" ry="0.6" transform="rotate(25 64.2 13.3)"/><ellipse cx="28.6" cy="26.0" rx="2.0" ry="1.1" transform="rotate(8 28.6 26.0)"/><ellipse cx="28.5" cy="27.7" rx="2.7" ry="0.9" transform="rotate(22 28.5 27.7)"/><ellipse cx="28.0" cy="27.3" rx="2.3" ry="1.1" transform="rotate(123 28.0 27.3)"/><ellipse cx="24.7" cy="24.6" rx="1.4" ry="0.7" transform="rotate(86 24.7 24.6)"/><ellipse cx="24.4" cy="24.6" rx="1.4" ry="0.5" transform="rotate(33 24.4 24.6)"/><ellipse cx="30.7" cy="30.0" rx="1.2" ry="0.5" transform="rotate(24 30.7 30.0)"/><ellipse cx="32.3" cy="29.4" rx="1.2" ry="0.5" transform="rotate(115 32.3 29.4)"/><ellipse cx="22.3" cy="22.4" rx="0.9" ry="0.3" transform="rotate(45 22.3 22.4)"/><ellipse cx="22.4" cy="21.6" rx="0.9" ry="0.3" transform="rotate(6 22.4 21.6)"/><ellipse cx="61.5" cy="23.6" rx="1.6" ry="0.6" transform="rotate(150 61.5 23.6)"/><ellipse cx="61.0" cy="22.3" rx="1.4" ry="0.7" transform="rotate(133 61.0 22.3)"/><ellipse cx="66.7" cy="25.1" rx="0.8" ry="0.3" transform="rotate(62 66.7 25.1)"/><ellipse cx="66.9" cy="24.7" rx="0.7" ry="0.4" transform="rotate(162 66.9 24.7)"/><ellipse cx="4.3" cy="29.6" rx="1.9" ry="1.0" transform="rotate(129 4.3 29.6)"/><ellipse cx="5.5" cy="31.4" rx="2.4" ry="1.1" transform="rotate(93 5.5 31.4)"/><ellipse cx="5.7" cy="31.3" rx="1.9" ry="0.9" transform="rotate(161 5.7 31.3)"/><ellipse cx="72.8" cy="28.1" rx="2.1" ry="1.2" transform="rotate(131 72.8 28.1)"/><ellipse cx="72.2" cy="29.4" rx="2.0" ry="1.0" transform="rotate(112 72.2 29.4)"/><ellipse cx="73.0" cy="28.7" rx="2.2" ry="0.9" transform="rotate(10 73.0 28.7)"/><ellipse cx="19.8" cy="38.4" rx="1.7" ry="0.7" transform="rotate(167 19.8 38.4)"/><ellipse cx="20.4" cy="38.0" rx="1.7" ry="0.8" transform="rotate(46 20.4 38.0)"/><ellipse cx="20.2" cy="39.3" rx="1.8" ry="0.7" transform="rotate(131 20.2 39.3)"/><ellipse cx="54.7" cy="37.3" rx="1.7" ry="0.6" transform="rotate(82 54.7 37.3)"/><ellipse cx="55.5" cy="36.4" rx="1.7" ry="0.6" transform="rotate(92 55.5 36.4)"/><ellipse cx="75.1" cy="38.5" rx="3.2" ry="1.0" transform="rotate(152 75.1 38.5)"/><ellipse cx="73.7" cy="41.5" rx="2.7" ry="0.9" transform="rotate(153 73.7 41.5)"/><ellipse cx="73.0" cy="38.3" rx="2.5" ry="1.1" transform="rotate(36 73.0 38.3)"/><ellipse cx="73.6" cy="39.6" rx="2.0" ry="0.9" transform="rotate(59 73.6 39.6)"/><ellipse cx="76.2" cy="43.8" rx="2.3" ry="0.6" transform="rotate(96 76.2 43.8)"/><ellipse cx="75.3" cy="42.9" rx="2.1" ry="0.9" transform="rotate(157 75.3 42.9)"/><ellipse cx="74.5" cy="41.8" rx="1.8" ry="0.9" transform="rotate(63 74.5 41.8)"/><ellipse cx="70.6" cy="36.9" rx="1.3" ry="0.6" transform="rotate(8 70.6 36.9)"/><ellipse cx="69.8" cy="37.5" rx="1.8" ry="0.9" transform="rotate(108 69.8 37.5)"/><ellipse cx="30.5" cy="48.6" rx="2.3" ry="0.7" transform="rotate(165 30.5 48.6)"/><ellipse cx="31.6" cy="49.8" rx="2.1" ry="0.7" transform="rotate(82 31.6 49.8)"/><ellipse cx="31.7" cy="48.7" rx="2.1" ry="0.6" transform="rotate(32 31.7 48.7)"/><ellipse cx="52.6" cy="50.0" rx="3.0" ry="1.0" transform="rotate(85 52.6 50.0)"/><ellipse cx="53.8" cy="48.9" rx="2.7" ry="1.0" transform="rotate(42 53.8 48.9)"/><ellipse cx="55.1" cy="47.6" rx="2.7" ry="1.2" transform="rotate(125 55.1 47.6)"/><ellipse cx="54.1" cy="48.2" rx="2.2" ry="0.9" transform="rotate(168 54.1 48.2)"/><ellipse cx="48.7" cy="48.2" rx="0.7" ry="0.4" transform="rotate(62 48.7 48.2)"/><ellipse cx="48.2" cy="48.5" rx="0.8" ry="0.4" transform="rotate(58 48.2 48.5)"/><ellipse cx="24.3" cy="45.8" rx="1.3" ry="0.5" transform="rotate(109 24.3 45.8)"/><ellipse cx="23.5" cy="44.9" rx="1.1" ry="0.5" transform="rotate(57 23.5 44.9)"/><ellipse cx="5.9" cy="52.6" rx="1.3" ry="0.6" transform="rotate(28 5.9 52.6)"/><ellipse cx="5.9" cy="52.8" rx="1.2" ry="0.6" transform="rotate(114 5.9 52.8)"/><ellipse cx="42.9" cy="63.0" rx="2.3" ry="1.2" transform="rotate(117 42.9 63.0)"/><ellipse cx="45.5" cy="60.2" rx="2.9" ry="1.3" transform="rotate(118 45.5 60.2)"/><ellipse cx="46.0" cy="62.7" rx="2.4" ry="1.1" transform="rotate(10 46.0 62.7)"/><ellipse cx="43.8" cy="61.4" rx="2.6" ry="1.5" transform="rotate(49 43.8 61.4)"/><ellipse cx="43.3" cy="65.1" rx="1.9" ry="0.8" transform="rotate(23 43.3 65.1)"/><ellipse cx="45.3" cy="64.3" rx="2.0" ry="0.7" transform="rotate(150 45.3 64.3)"/><ellipse cx="43.9" cy="64.9" rx="1.5" ry="0.9" transform="rotate(52 43.9 64.9)"/><ellipse cx="8.0" cy="70.7" rx="2.1" ry="1.3" transform="rotate(161 8.0 70.7)"/><ellipse cx="11.0" cy="72.3" rx="2.3" ry="0.9" transform="rotate(42 11.0 72.3)"/><ellipse cx="7.7" cy="69.6" rx="3.1" ry="1.1" transform="rotate(146 7.7 69.6)"/><ellipse cx="9.4" cy="71.7" rx="2.5" ry="1.5" transform="rotate(145 9.4 71.7)"/><ellipse cx="10.4" cy="74.0" rx="1.7" ry="0.7" transform="rotate(174 10.4 74.0)"/><ellipse cx="10.3" cy="75.3" rx="1.5" ry="0.6" transform="rotate(6 10.3 75.3)"/><ellipse cx="10.3" cy="74.6" rx="2.0" ry="0.7" transform="rotate(63 10.3 74.6)"/><ellipse cx="71.0" cy="75.3" rx="1.2" ry="0.6" transform="rotate(86 71.0 75.3)"/><ellipse cx="70.6" cy="76.7" rx="1.3" ry="0.5" transform="rotate(102 70.6 76.7)"/></g>
<path d="M49.2,73.0H55.2" stroke="#e8e8e8" stroke-width="1.6"/>
<text x="56.7" y="75.5" font-size="6.6" fill="#1a1a1a" textLength="14" lengthAdjust="spacingAndGlyphs">30µm</text>
</svg>
<svg x="393.3" y="715.9" width="80.1" height="80.5" viewBox="0 0 80.1 80.5" overflow="hidden">
<rect width="80.1" height="80.5" fill="#916ea6"/>
<rect width="80.1" height="80.5" fill="url(#np31286)"/>
<g fill="#66559e" opacity="0.55"><ellipse cx="16.8" cy="78.6" rx="2.9" ry="2.5"/><ellipse cx="10.4" cy="60.4" rx="3.1" ry="2.7"/><ellipse cx="31.2" cy="56.7" rx="2.9" ry="2.4"/><ellipse cx="16.5" cy="42.0" rx="3.0" ry="2.5"/><ellipse cx="37.4" cy="68.5" rx="3.2" ry="2.7"/><ellipse cx="37.8" cy="69.9" rx="2.8" ry="2.4"/><ellipse cx="36.3" cy="66.3" rx="2.6" ry="2.2"/><ellipse cx="10.4" cy="71.7" rx="3.4" ry="2.9"/><ellipse cx="36.5" cy="72.7" rx="2.9" ry="2.5"/><ellipse cx="4.9" cy="42.0" rx="2.8" ry="2.4"/><ellipse cx="12.3" cy="63.7" rx="2.8" ry="2.4"/><ellipse cx="36.7" cy="48.8" rx="3.1" ry="2.7"/><ellipse cx="19.0" cy="44.0" rx="3.2" ry="2.7"/><ellipse cx="37.6" cy="62.9" rx="3.5" ry="2.9"/></g>
<g fill="none" stroke="#55204a" stroke-width="1.1" stroke-dasharray="1.2,0.8" opacity="0.6" stroke-linejoin="round"><path d="M58.1,25.0L60.7,25.5L63.3,25.7L65.6,26.9L68.0,27.8L70.5,28.4L72.6,29.9"/><path d="M28.7,79.6L26.2,80.3L24.4,82.2L23.7,84.7L24.4,87.2L24.9,89.7L26.2,92.0"/><path d="M42.3,2.0L39.7,1.5L37.4,2.6L34.8,2.9L32.6,4.3"/><path d="M5.2,67.8L7.4,66.4L9.5,64.9L11.5,63.2L14.1,62.9L16.7,62.9L19.0,64.0"/><path d="M34.7,26.0L37.0,27.1L39.4,28.2L41.5,29.7L42.8,31.9"/><path d="M27.7,5.0L25.7,3.2L23.2,2.5L20.8,1.5L19.2,-0.5L16.7,-1.4"/><path d="M70.8,58.6L73.3,59.4L75.9,59.6L78.3,60.5L80.9,60.8L83.4,60.3L85.9,59.6"/><path d="M76.5,9.5L74.4,7.9L72.1,6.8L70.3,4.9L68.1,3.5L65.9,2.2L63.5,1.2L60.9,0.9"/><path d="M69.5,54.2L72.1,54.4L74.6,53.7L77.2,53.6L79.5,52.4L81.8,51.1L84.2,50.2L86.3,48.6"/><path d="M38.6,15.3L41.2,15.9L43.8,16.1L46.3,15.5L48.3,13.8L50.2,12.0L52.7,11.4"/><path d="M33.3,3.7L31.1,2.3L29.3,0.4L26.8,-0.4L24.3,-0.2L21.9,0.8L20.4,3.0L18.1,4.1"/><path d="M3.6,16.6L6.2,16.5L8.7,17.1L11.1,18.2L12.9,20.0L14.9,21.7"/><path d="M50.6,4.5L48.5,2.9L46.4,1.4L45.1,-0.9L43.1,-2.5"/><path d="M48.0,12.7L49.8,10.8L51.9,9.2L54.0,7.8"/><path d="M11.5,30.9L9.2,29.6L8.0,27.3L5.9,25.9L3.7,24.5L2.2,22.3"/><path d="M38.6,76.9L36.0,77.3L33.6,78.3L31.0,78.8L28.4,78.9L25.8,79.1L23.8,80.7"/><path d="M73.4,72.2L70.8,72.7L68.5,73.9L67.1,76.1L65.8,78.3L64.1,80.2L62.2,82.1"/><path d="M61.9,11.6L59.8,10.0L57.6,8.7L55.9,6.7"/><path d="M46.6,1.0L44.9,3.1L43.8,5.4L42.8,7.8L43.0,10.4L43.6,12.9L43.9,15.5L45.1,17.8"/><path d="M78.3,35.9L75.8,35.4L73.5,34.0L72.0,32.0L70.0,30.3"/><path d="M5.6,19.6L8.1,20.1L10.6,19.2L13.2,19.0"/><path d="M78.2,49.2L76.0,47.8L73.4,47.4L71.3,45.8L69.0,44.7L66.4,44.5L63.8,44.2"/><path d="M19.9,51.7L17.6,52.9L15.1,53.5L12.5,54.1L10.0,53.8L7.5,52.8L5.0,52.6"/><path d="M72.2,72.9L69.6,73.0L67.1,73.7L64.6,74.3L62.0,73.9L59.5,74.7L57.0,74.0L54.6,73.0"/><path d="M2.3,29.6L0.4,31.4L-1.8,32.8L-4.1,33.9L-6.7,33.8L-9.3,33.9L-11.9,33.3L-14.5,33.3"/><path d="M49.1,65.1L51.0,66.9L53.4,67.8L56.0,67.9L58.4,67.0L61.0,67.5L63.4,68.5L65.9,68.1"/><path d="M57.4,78.4L59.9,78.7L62.0,80.3L64.0,82.0L66.4,82.9L69.0,83.1L71.4,84.0L73.9,84.8"/><path d="M45.5,37.3L44.4,39.6L44.4,42.2L43.1,44.4L41.5,46.5L39.6,48.4L39.2,50.9L37.8,53.1"/><path d="M72.1,41.2L74.6,40.5L76.9,39.5L79.0,37.8L81.2,36.4L83.1,34.7"/><path d="M64.7,35.1L62.2,36.0L59.7,35.4L57.1,35.3L54.5,34.8L52.1,35.8L49.7,36.7"/></g>
<g fill="#4e1c40" opacity="0.62"><ellipse cx="30.3" cy="3.5" rx="1.9" ry="1.2" transform="rotate(70 30.3 3.5)"/><ellipse cx="31.1" cy="3.8" rx="2.0" ry="1.3" transform="rotate(60 31.1 3.8)"/><ellipse cx="25.2" cy="11.9" rx="2.0" ry="1.4" transform="rotate(50 25.2 11.9)"/><ellipse cx="24.4" cy="11.2" rx="1.9" ry="1.4" transform="rotate(103 24.4 11.2)"/><ellipse cx="46.4" cy="10.6" rx="2.5" ry="1.6" transform="rotate(115 46.4 10.6)"/><ellipse cx="45.9" cy="10.5" rx="2.2" ry="1.4" transform="rotate(55 45.9 10.5)"/><ellipse cx="9.8" cy="18.9" rx="2.5" ry="1.6" transform="rotate(12 9.8 18.9)"/><ellipse cx="10.9" cy="19.8" rx="2.4" ry="1.6" transform="rotate(111 10.9 19.8)"/><ellipse cx="39.9" cy="16.7" rx="2.7" ry="1.9" transform="rotate(171 39.9 16.7)"/><ellipse cx="39.8" cy="18.5" rx="2.3" ry="1.8" transform="rotate(152 39.8 18.5)"/><ellipse cx="40.5" cy="17.2" rx="2.8" ry="1.7" transform="rotate(67 40.5 17.2)"/><ellipse cx="49.3" cy="21.9" rx="2.7" ry="2.1" transform="rotate(45 49.3 21.9)"/><ellipse cx="47.7" cy="20.7" rx="2.8" ry="1.9" transform="rotate(127 47.7 20.7)"/><ellipse cx="48.8" cy="22.1" rx="2.9" ry="2.1" transform="rotate(124 48.8 22.1)"/><ellipse cx="42.3" cy="21.8" rx="2.3" ry="1.4" transform="rotate(1 42.3 21.8)"/><ellipse cx="42.4" cy="22.3" rx="2.6" ry="1.6" transform="rotate(139 42.4 22.3)"/><ellipse cx="68.5" cy="18.5" rx="1.8" ry="1.4" transform="rotate(78 68.5 18.5)"/><ellipse cx="69.1" cy="18.6" rx="1.7" ry="1.3" transform="rotate(126 69.1 18.6)"/><ellipse cx="69.6" cy="20.9" rx="2.5" ry="2.0" transform="rotate(136 69.6 20.9)"/><ellipse cx="71.1" cy="20.0" rx="2.7" ry="1.9" transform="rotate(129 71.1 20.0)"/><ellipse cx="71.4" cy="21.7" rx="3.2" ry="1.9" transform="rotate(103 71.4 21.7)"/><ellipse cx="27.8" cy="26.5" rx="2.1" ry="1.4" transform="rotate(94 27.8 26.5)"/><ellipse cx="27.5" cy="25.9" rx="1.7" ry="1.3" transform="rotate(48 27.5 25.9)"/><ellipse cx="12.2" cy="39.0" rx="3.1" ry="2.0" transform="rotate(50 12.2 39.0)"/><ellipse cx="11.8" cy="39.5" rx="2.6" ry="1.6" transform="rotate(131 11.8 39.5)"/><ellipse cx="14.5" cy="39.1" rx="2.7" ry="2.0" transform="rotate(39 14.5 39.1)"/><ellipse cx="17.1" cy="43.4" rx="3.1" ry="1.7" transform="rotate(58 17.1 43.4)"/><ellipse cx="17.2" cy="45.8" rx="3.4" ry="1.8" transform="rotate(36 17.2 45.8)"/><ellipse cx="17.2" cy="42.9" rx="3.5" ry="2.0" transform="rotate(86 17.2 42.9)"/><ellipse cx="15.3" cy="44.6" rx="3.9" ry="1.8" transform="rotate(33 15.3 44.6)"/><ellipse cx="26.0" cy="47.7" rx="3.6" ry="2.0" transform="rotate(147 26.0 47.7)"/><ellipse cx="25.6" cy="46.0" rx="2.9" ry="1.7" transform="rotate(179 25.6 46.0)"/><ellipse cx="27.5" cy="45.3" rx="2.8" ry="1.8" transform="rotate(93 27.5 45.3)"/><ellipse cx="24.9" cy="46.2" rx="4.0" ry="2.1" transform="rotate(30 24.9 46.2)"/><ellipse cx="32.6" cy="44.2" rx="2.7" ry="2.0" transform="rotate(146 32.6 44.2)"/><ellipse cx="32.4" cy="43.8" rx="3.0" ry="1.9" transform="rotate(73 32.4 43.8)"/><ellipse cx="32.7" cy="41.7" rx="2.8" ry="1.6" transform="rotate(132 32.7 41.7)"/><ellipse cx="38.1" cy="39.4" rx="3.1" ry="1.7" transform="rotate(112 38.1 39.4)"/><ellipse cx="38.2" cy="39.1" rx="2.6" ry="1.7" transform="rotate(142 38.2 39.1)"/><ellipse cx="38.1" cy="39.0" rx="2.7" ry="1.8" transform="rotate(22 38.1 39.0)"/><ellipse cx="49.2" cy="38.4" rx="2.0" ry="1.4" transform="rotate(158 49.2 38.4)"/><ellipse cx="49.3" cy="39.8" rx="2.0" ry="1.3" transform="rotate(40 49.3 39.8)"/><ellipse cx="54.6" cy="37.7" rx="1.7" ry="1.2" transform="rotate(75 54.6 37.7)"/><ellipse cx="54.2" cy="37.8" rx="1.5" ry="1.2" transform="rotate(152 54.2 37.8)"/><ellipse cx="68.2" cy="37.4" rx="2.3" ry="1.8" transform="rotate(100 68.2 37.4)"/><ellipse cx="65.8" cy="36.3" rx="2.8" ry="1.6" transform="rotate(164 65.8 36.3)"/><ellipse cx="65.7" cy="37.8" rx="2.8" ry="1.7" transform="rotate(43 65.7 37.8)"/><ellipse cx="73.9" cy="36.0" rx="2.3" ry="1.5" transform="rotate(75 73.9 36.0)"/><ellipse cx="73.1" cy="36.6" rx="3.0" ry="1.8" transform="rotate(125 73.1 36.6)"/><ellipse cx="71.9" cy="37.5" rx="2.3" ry="1.7" transform="rotate(154 71.9 37.5)"/><ellipse cx="40.7" cy="44.9" rx="1.5" ry="1.1" transform="rotate(128 40.7 44.9)"/><ellipse cx="40.6" cy="44.1" rx="1.5" ry="1.1" transform="rotate(41 40.6 44.1)"/><ellipse cx="65.6" cy="48.5" rx="1.7" ry="1.1" transform="rotate(165 65.6 48.5)"/><ellipse cx="64.6" cy="47.9" rx="1.7" ry="1.2" transform="rotate(61 64.6 47.9)"/><ellipse cx="56.1" cy="51.0" rx="1.6" ry="1.1" transform="rotate(104 56.1 51.0)"/><ellipse cx="55.8" cy="51.6" rx="1.6" ry="1.2" transform="rotate(2 55.8 51.6)"/><ellipse cx="7.3" cy="57.6" rx="2.9" ry="2.1" transform="rotate(84 7.3 57.6)"/><ellipse cx="7.1" cy="57.2" rx="3.4" ry="1.7" transform="rotate(49 7.1 57.2)"/><ellipse cx="5.6" cy="56.6" rx="2.8" ry="1.5" transform="rotate(159 5.6 56.6)"/><ellipse cx="29.4" cy="65.2" rx="2.8" ry="1.6" transform="rotate(167 29.4 65.2)"/><ellipse cx="28.5" cy="64.9" rx="3.4" ry="2.0" transform="rotate(35 28.5 64.9)"/><ellipse cx="28.7" cy="64.9" rx="3.4" ry="1.6" transform="rotate(136 28.7 64.9)"/><ellipse cx="24.4" cy="66.2" rx="2.8" ry="1.5" transform="rotate(151 24.4 66.2)"/><ellipse cx="26.0" cy="65.0" rx="2.5" ry="1.5" transform="rotate(175 26.0 65.0)"/><ellipse cx="25.9" cy="65.0" rx="3.1" ry="1.5" transform="rotate(39 25.9 65.0)"/><ellipse cx="23.2" cy="69.6" rx="2.6" ry="1.5" transform="rotate(162 23.2 69.6)"/><ellipse cx="24.1" cy="69.0" rx="2.0" ry="1.6" transform="rotate(110 24.1 69.0)"/><ellipse cx="6.9" cy="69.0" rx="3.2" ry="2.2" transform="rotate(131 6.9 69.0)"/><ellipse cx="6.1" cy="68.8" rx="3.0" ry="2.1" transform="rotate(99 6.1 68.8)"/><ellipse cx="7.5" cy="67.4" rx="3.6" ry="1.7" transform="rotate(110 7.5 67.4)"/><ellipse cx="5.6" cy="68.2" rx="3.6" ry="1.9" transform="rotate(166 5.6 68.2)"/></g>
<g fill="#d2ca46"><ellipse cx="30.3" cy="3.5" rx="1.1" ry="0.4" transform="rotate(70 30.3 3.5)"/><ellipse cx="31.1" cy="3.8" rx="1.2" ry="0.5" transform="rotate(60 31.1 3.8)"/><ellipse cx="25.2" cy="11.9" rx="1.2" ry="0.6" transform="rotate(50 25.2 11.9)"/><ellipse cx="24.4" cy="11.2" rx="1.1" ry="0.6" transform="rotate(103 24.4 11.2)"/><ellipse cx="46.4" cy="10.6" rx="1.7" ry="0.8" transform="rotate(115 46.4 10.6)"/><ellipse cx="45.9" cy="10.5" rx="1.4" ry="0.6" transform="rotate(55 45.9 10.5)"/><ellipse cx="9.8" cy="18.9" rx="1.7" ry="0.8" transform="rotate(12 9.8 18.9)"/><ellipse cx="10.9" cy="19.8" rx="1.6" ry="0.8" transform="rotate(111 10.9 19.8)"/><ellipse cx="39.9" cy="16.7" rx="1.9" ry="1.1" transform="rotate(171 39.9 16.7)"/><ellipse cx="39.8" cy="18.5" rx="1.5" ry="1.0" transform="rotate(152 39.8 18.5)"/><ellipse cx="40.5" cy="17.2" rx="2.0" ry="0.9" transform="rotate(67 40.5 17.2)"/><ellipse cx="49.3" cy="21.9" rx="1.9" ry="1.3" transform="rotate(45 49.3 21.9)"/><ellipse cx="47.7" cy="20.7" rx="2.0" ry="1.1" transform="rotate(127 47.7 20.7)"/><ellipse cx="48.8" cy="22.1" rx="2.1" ry="1.3" transform="rotate(124 48.8 22.1)"/><ellipse cx="42.3" cy="21.8" rx="1.5" ry="0.6" transform="rotate(1 42.3 21.8)"/><ellipse cx="42.4" cy="22.3" rx="1.8" ry="0.8" transform="rotate(139 42.4 22.3)"/><ellipse cx="68.5" cy="18.5" rx="1.0" ry="0.6" transform="rotate(78 68.5 18.5)"/><ellipse cx="69.1" cy="18.6" rx="0.9" ry="0.5" transform="rotate(126 69.1 18.6)"/><ellipse cx="69.6" cy="20.9" rx="1.7" ry="1.2" transform="rotate(136 69.6 20.9)"/><ellipse cx="71.1" cy="20.0" rx="1.9" ry="1.1" transform="rotate(129 71.1 20.0)"/><ellipse cx="71.4" cy="21.7" rx="2.4" ry="1.1" transform="rotate(103 71.4 21.7)"/><ellipse cx="27.8" cy="26.5" rx="1.3" ry="0.6" transform="rotate(94 27.8 26.5)"/><ellipse cx="27.5" cy="25.9" rx="0.9" ry="0.5" transform="rotate(48 27.5 25.9)"/><ellipse cx="12.2" cy="39.0" rx="2.3" ry="1.2" transform="rotate(50 12.2 39.0)"/><ellipse cx="11.8" cy="39.5" rx="1.8" ry="0.8" transform="rotate(131 11.8 39.5)"/><ellipse cx="14.5" cy="39.1" rx="1.9" ry="1.2" transform="rotate(39 14.5 39.1)"/><ellipse cx="17.1" cy="43.4" rx="2.3" ry="0.9" transform="rotate(58 17.1 43.4)"/><ellipse cx="17.2" cy="45.8" rx="2.6" ry="1.0" transform="rotate(36 17.2 45.8)"/><ellipse cx="17.2" cy="42.9" rx="2.7" ry="1.2" transform="rotate(86 17.2 42.9)"/><ellipse cx="15.3" cy="44.6" rx="3.1" ry="1.0" transform="rotate(33 15.3 44.6)"/><ellipse cx="26.0" cy="47.7" rx="2.8" ry="1.2" transform="rotate(147 26.0 47.7)"/><ellipse cx="25.6" cy="46.0" rx="2.1" ry="0.9" transform="rotate(179 25.6 46.0)"/><ellipse cx="27.5" cy="45.3" rx="2.0" ry="1.0" transform="rotate(93 27.5 45.3)"/><ellipse cx="24.9" cy="46.2" rx="3.2" ry="1.3" transform="rotate(30 24.9 46.2)"/><ellipse cx="32.6" cy="44.2" rx="1.9" ry="1.2" transform="rotate(146 32.6 44.2)"/><ellipse cx="32.4" cy="43.8" rx="2.2" ry="1.1" transform="rotate(73 32.4 43.8)"/><ellipse cx="32.7" cy="41.7" rx="2.0" ry="0.8" transform="rotate(132 32.7 41.7)"/><ellipse cx="38.1" cy="39.4" rx="2.3" ry="0.9" transform="rotate(112 38.1 39.4)"/><ellipse cx="38.2" cy="39.1" rx="1.8" ry="0.9" transform="rotate(142 38.2 39.1)"/><ellipse cx="38.1" cy="39.0" rx="1.9" ry="1.0" transform="rotate(22 38.1 39.0)"/><ellipse cx="49.2" cy="38.4" rx="1.2" ry="0.6" transform="rotate(158 49.2 38.4)"/><ellipse cx="49.3" cy="39.8" rx="1.2" ry="0.5" transform="rotate(40 49.3 39.8)"/><ellipse cx="54.6" cy="37.7" rx="0.9" ry="0.4" transform="rotate(75 54.6 37.7)"/><ellipse cx="54.2" cy="37.8" rx="0.7" ry="0.4" transform="rotate(152 54.2 37.8)"/><ellipse cx="68.2" cy="37.4" rx="1.5" ry="1.0" transform="rotate(100 68.2 37.4)"/><ellipse cx="65.8" cy="36.3" rx="2.0" ry="0.8" transform="rotate(164 65.8 36.3)"/><ellipse cx="65.7" cy="37.8" rx="2.0" ry="0.9" transform="rotate(43 65.7 37.8)"/><ellipse cx="73.9" cy="36.0" rx="1.5" ry="0.7" transform="rotate(75 73.9 36.0)"/><ellipse cx="73.1" cy="36.6" rx="2.2" ry="1.0" transform="rotate(125 73.1 36.6)"/><ellipse cx="71.9" cy="37.5" rx="1.5" ry="0.9" transform="rotate(154 71.9 37.5)"/><ellipse cx="40.7" cy="44.9" rx="0.7" ry="0.3" transform="rotate(128 40.7 44.9)"/><ellipse cx="40.6" cy="44.1" rx="0.7" ry="0.3" transform="rotate(41 40.6 44.1)"/><ellipse cx="65.6" cy="48.5" rx="0.9" ry="0.3" transform="rotate(165 65.6 48.5)"/><ellipse cx="64.6" cy="47.9" rx="0.9" ry="0.4" transform="rotate(61 64.6 47.9)"/><ellipse cx="56.1" cy="51.0" rx="0.8" ry="0.3" transform="rotate(104 56.1 51.0)"/><ellipse cx="55.8" cy="51.6" rx="0.8" ry="0.4" transform="rotate(2 55.8 51.6)"/><ellipse cx="7.3" cy="57.6" rx="2.1" ry="1.3" transform="rotate(84 7.3 57.6)"/><ellipse cx="7.1" cy="57.2" rx="2.6" ry="0.9" transform="rotate(49 7.1 57.2)"/><ellipse cx="5.6" cy="56.6" rx="2.0" ry="0.7" transform="rotate(159 5.6 56.6)"/><ellipse cx="29.4" cy="65.2" rx="2.0" ry="0.8" transform="rotate(167 29.4 65.2)"/><ellipse cx="28.5" cy="64.9" rx="2.6" ry="1.2" transform="rotate(35 28.5 64.9)"/><ellipse cx="28.7" cy="64.9" rx="2.6" ry="0.8" transform="rotate(136 28.7 64.9)"/><ellipse cx="24.4" cy="66.2" rx="2.0" ry="0.7" transform="rotate(151 24.4 66.2)"/><ellipse cx="26.0" cy="65.0" rx="1.7" ry="0.7" transform="rotate(175 26.0 65.0)"/><ellipse cx="25.9" cy="65.0" rx="2.3" ry="0.7" transform="rotate(39 25.9 65.0)"/><ellipse cx="23.2" cy="69.6" rx="1.8" ry="0.7" transform="rotate(162 23.2 69.6)"/><ellipse cx="24.1" cy="69.0" rx="1.2" ry="0.8" transform="rotate(110 24.1 69.0)"/><ellipse cx="6.9" cy="69.0" rx="2.4" ry="1.4" transform="rotate(131 6.9 69.0)"/><ellipse cx="6.1" cy="68.8" rx="2.2" ry="1.3" transform="rotate(99 6.1 68.8)"/><ellipse cx="7.5" cy="67.4" rx="2.8" ry="0.9" transform="rotate(110 7.5 67.4)"/><ellipse cx="5.6" cy="68.2" rx="2.8" ry="1.1" transform="rotate(166 5.6 68.2)"/></g>
<path d="M49.1,73.0H55.1" stroke="#e8e8e8" stroke-width="1.6"/>
<text x="56.6" y="75.5" font-size="6.6" fill="#1a1a1a" textLength="14" lengthAdjust="spacingAndGlyphs">30µm</text>
</svg>
<svg x="475.4" y="715.9" width="79.9" height="80.5" viewBox="0 0 79.9 80.5" overflow="hidden">
<rect width="79.9" height="80.5" fill="#916ea6"/>
<rect width="79.9" height="80.5" fill="url(#np64349)"/>
<g fill="#66559e" opacity="0.55"><ellipse cx="10.2" cy="67.2" rx="2.6" ry="2.2"/><ellipse cx="18.0" cy="54.4" rx="3.1" ry="2.7"/><ellipse cx="7.1" cy="59.3" rx="2.7" ry="2.3"/><ellipse cx="30.0" cy="60.7" rx="3.4" ry="2.9"/><ellipse cx="22.9" cy="68.8" rx="2.7" ry="2.3"/><ellipse cx="26.2" cy="44.8" rx="3.3" ry="2.8"/><ellipse cx="33.2" cy="58.8" rx="2.6" ry="2.3"/><ellipse cx="11.9" cy="49.1" rx="2.7" ry="2.3"/><ellipse cx="26.8" cy="53.3" rx="3.0" ry="2.6"/><ellipse cx="27.4" cy="76.5" rx="3.0" ry="2.6"/><ellipse cx="24.2" cy="62.8" rx="2.9" ry="2.5"/><ellipse cx="18.5" cy="41.1" rx="2.6" ry="2.2"/><ellipse cx="10.2" cy="62.1" rx="3.1" ry="2.7"/><ellipse cx="16.3" cy="62.2" rx="2.7" ry="2.3"/></g>
<g fill="none" stroke="#55204a" stroke-width="1.1" stroke-dasharray="1.2,0.8" opacity="0.6" stroke-linejoin="round"><path d="M76.9,68.5L79.4,68.9L82.0,68.5L84.1,66.9L86.7,66.7L89.1,67.6"/><path d="M19.0,24.6L17.0,26.1L14.5,26.9L12.0,26.2L9.9,24.6L9.0,22.2L8.6,19.6L8.3,17.0"/><path d="M34.4,26.3L32.4,24.7L30.1,23.5L27.5,23.7"/><path d="M11.4,18.6L9.1,17.3L7.7,15.1L5.6,13.6L3.0,13.3L0.6,14.2L-1.6,15.6L-2.7,17.9"/><path d="M34.4,2.6L31.8,2.2L29.2,2.3L26.8,3.4"/><path d="M29.3,56.1L27.1,54.7L25.2,52.9L24.3,50.5L24.6,47.9L25.6,45.5L26.6,43.1L27.4,40.6"/><path d="M19.2,80.0L16.9,81.3L14.3,81.7L11.8,82.3L9.6,83.7L8.0,85.7"/><path d="M4.1,75.6L6.6,76.0L8.7,77.6L10.5,79.5L12.6,81.0L15.2,81.3"/><path d="M38.1,50.8L40.4,49.6L41.6,47.3L42.9,45.1"/><path d="M36.9,37.1L34.3,37.4L31.8,38.1L29.2,37.8L26.9,36.6L24.3,36.7L21.8,36.4L19.2,36.0"/><path d="M26.6,49.6L24.1,50.3L22.3,52.2L20.1,53.6L17.7,54.5L15.8,56.2"/><path d="M47.8,28.6L50.2,29.6L52.8,29.5L55.4,29.8"/><path d="M27.0,33.1L24.8,31.7L22.6,30.3L20.3,29.0L18.2,27.6"/><path d="M68.7,72.5L71.3,72.2L73.8,71.8L75.8,70.1"/><path d="M14.6,18.9L12.0,18.5L9.5,18.9L7.1,17.8L4.7,16.9L2.1,16.4L0.2,14.6L-1.2,12.4"/><path d="M71.1,51.5L68.8,50.1L66.3,49.4L64.3,47.8L63.3,45.4L63.3,42.8L63.6,40.2L64.7,37.9"/><path d="M26.1,14.2L24.2,12.4L22.8,10.2L22.2,7.7L23.1,5.2L23.9,2.8L25.8,1.0L27.5,-1.0"/><path d="M76.4,30.5L73.9,29.8L71.3,29.3L68.7,29.3L66.2,28.9"/><path d="M14.7,5.2L12.1,4.8L9.6,5.6L7.1,6.0L4.7,5.1L2.1,5.0"/><path d="M9.8,51.9L7.6,50.5L5.2,49.6L3.0,48.1L0.4,48.0L-1.9,49.0L-4.5,48.8L-6.7,47.4"/><path d="M27.5,16.0L29.9,17.1L32.2,18.2L34.2,19.9L36.8,20.2L39.3,20.8L41.2,22.7L43.4,24.0"/><path d="M58.0,2.0L55.9,3.4L53.6,4.8L51.0,4.9L48.4,4.8L46.0,5.8L44.5,7.9"/><path d="M46.3,61.1L48.5,59.7L50.9,58.7L53.0,57.2"/><path d="M29.8,27.3L27.2,27.0L24.6,27.4L22.2,28.3L20.3,30.1"/><path d="M13.4,38.6L10.8,38.9L8.2,39.0L5.8,39.9L3.7,41.5L1.7,43.2L-0.6,44.4"/><path d="M48.4,1.2L45.9,0.5L43.4,1.2L41.8,3.1L40.3,5.3L39.4,7.7"/><path d="M52.9,11.4L51.0,9.7L50.2,7.2L50.6,4.6L50.3,2.0L51.0,-0.5L50.5,-3.0L50.5,-5.6"/><path d="M9.0,49.9L11.4,50.8L13.9,51.7L16.5,51.9L18.9,52.9L21.4,52.7"/><path d="M62.3,8.2L64.5,6.9L67.1,6.5L69.1,4.8"/><path d="M66.5,2.0L69.1,2.0L71.7,1.6L74.2,0.9L76.8,0.7L79.2,1.7"/></g>
<g fill="#4e1c40" opacity="0.62"><ellipse cx="47.3" cy="2.0" rx="3.1" ry="1.7" transform="rotate(143 47.3 2.0)"/><ellipse cx="45.6" cy="0.8" rx="3.0" ry="2.1" transform="rotate(142 45.6 0.8)"/><ellipse cx="46.4" cy="1.3" rx="3.4" ry="2.3" transform="rotate(62 46.4 1.3)"/><ellipse cx="44.7" cy="2.0" rx="3.3" ry="1.8" transform="rotate(0 44.7 2.0)"/><ellipse cx="41.3" cy="4.3" rx="2.9" ry="1.6" transform="rotate(128 41.3 4.3)"/><ellipse cx="43.3" cy="2.3" rx="2.3" ry="1.8" transform="rotate(157 43.3 2.3)"/><ellipse cx="43.2" cy="2.8" rx="2.4" ry="1.5" transform="rotate(38 43.2 2.8)"/><ellipse cx="20.7" cy="3.2" rx="1.8" ry="1.1" transform="rotate(142 20.7 3.2)"/><ellipse cx="21.6" cy="3.0" rx="1.8" ry="1.3" transform="rotate(47 21.6 3.0)"/><ellipse cx="29.1" cy="7.2" rx="2.8" ry="1.7" transform="rotate(94 29.1 7.2)"/><ellipse cx="29.9" cy="8.5" rx="3.4" ry="2.0" transform="rotate(79 29.9 8.5)"/><ellipse cx="29.8" cy="9.2" rx="2.6" ry="1.7" transform="rotate(16 29.8 9.2)"/><ellipse cx="61.7" cy="5.2" rx="2.7" ry="1.4" transform="rotate(134 61.7 5.2)"/><ellipse cx="61.7" cy="4.4" rx="2.7" ry="1.9" transform="rotate(81 61.7 4.4)"/><ellipse cx="61.9" cy="5.8" rx="2.9" ry="1.7" transform="rotate(112 61.9 5.8)"/><ellipse cx="62.6" cy="9.2" rx="2.7" ry="2.1" transform="rotate(5 62.6 9.2)"/><ellipse cx="62.9" cy="8.3" rx="3.0" ry="1.8" transform="rotate(94 62.9 8.3)"/><ellipse cx="61.4" cy="9.2" rx="3.6" ry="1.8" transform="rotate(20 61.4 9.2)"/><ellipse cx="15.0" cy="10.7" rx="3.4" ry="1.6" transform="rotate(94 15.0 10.7)"/><ellipse cx="14.8" cy="10.6" rx="2.8" ry="2.1" transform="rotate(51 14.8 10.6)"/><ellipse cx="14.3" cy="10.5" rx="3.4" ry="2.0" transform="rotate(5 14.3 10.5)"/><ellipse cx="13.8" cy="14.8" rx="2.5" ry="1.4" transform="rotate(56 13.8 14.8)"/><ellipse cx="14.7" cy="15.7" rx="2.4" ry="1.6" transform="rotate(46 14.7 15.7)"/><ellipse cx="36.8" cy="13.1" rx="3.3" ry="1.8" transform="rotate(62 36.8 13.1)"/><ellipse cx="37.9" cy="11.5" rx="3.0" ry="1.8" transform="rotate(49 37.9 11.5)"/><ellipse cx="37.7" cy="12.2" rx="3.4" ry="1.7" transform="rotate(92 37.7 12.2)"/><ellipse cx="68.9" cy="13.5" rx="3.2" ry="1.7" transform="rotate(101 68.9 13.5)"/><ellipse cx="68.0" cy="15.9" rx="2.9" ry="1.8" transform="rotate(129 68.0 15.9)"/><ellipse cx="67.1" cy="13.8" rx="3.0" ry="1.8" transform="rotate(30 67.1 13.8)"/><ellipse cx="67.8" cy="16.0" rx="3.0" ry="1.7" transform="rotate(173 67.8 16.0)"/><ellipse cx="78.5" cy="12.4" rx="2.3" ry="1.5" transform="rotate(90 78.5 12.4)"/><ellipse cx="78.3" cy="12.3" rx="2.2" ry="1.6" transform="rotate(74 78.3 12.3)"/><ellipse cx="53.4" cy="11.9" rx="1.8" ry="1.3" transform="rotate(104 53.4 11.9)"/><ellipse cx="54.1" cy="11.9" rx="2.2" ry="1.4" transform="rotate(27 54.1 11.9)"/><ellipse cx="9.1" cy="18.4" rx="2.6" ry="1.5" transform="rotate(131 9.1 18.4)"/><ellipse cx="9.2" cy="19.5" rx="2.3" ry="1.5" transform="rotate(15 9.2 19.5)"/><ellipse cx="46.8" cy="15.8" rx="2.0" ry="1.6" transform="rotate(131 46.8 15.8)"/><ellipse cx="46.1" cy="17.5" rx="2.1" ry="1.6" transform="rotate(25 46.1 17.5)"/><ellipse cx="55.7" cy="22.3" rx="2.6" ry="1.7" transform="rotate(69 55.7 22.3)"/><ellipse cx="56.1" cy="24.8" rx="2.5" ry="1.8" transform="rotate(153 56.1 24.8)"/><ellipse cx="55.8" cy="22.7" rx="3.5" ry="1.8" transform="rotate(27 55.8 22.7)"/><ellipse cx="42.7" cy="22.1" rx="3.0" ry="1.9" transform="rotate(75 42.7 22.1)"/><ellipse cx="42.0" cy="22.6" rx="3.0" ry="1.8" transform="rotate(63 42.0 22.6)"/><ellipse cx="42.1" cy="21.4" rx="2.7" ry="1.8" transform="rotate(123 42.1 21.4)"/><ellipse cx="67.0" cy="24.5" rx="2.6" ry="1.5" transform="rotate(70 67.0 24.5)"/><ellipse cx="66.1" cy="24.3" rx="2.6" ry="1.4" transform="rotate(127 66.1 24.3)"/><ellipse cx="38.0" cy="25.5" rx="2.0" ry="1.4" transform="rotate(76 38.0 25.5)"/><ellipse cx="37.8" cy="25.7" rx="1.9" ry="1.4" transform="rotate(113 37.8 25.7)"/><ellipse cx="51.9" cy="27.0" rx="2.6" ry="1.4" transform="rotate(10 51.9 27.0)"/><ellipse cx="51.8" cy="27.4" rx="2.3" ry="1.3" transform="rotate(146 51.8 27.4)"/><ellipse cx="29.3" cy="30.2" rx="3.2" ry="1.7" transform="rotate(11 29.3 30.2)"/><ellipse cx="28.1" cy="31.8" rx="2.9" ry="2.1" transform="rotate(116 28.1 31.8)"/><ellipse cx="29.7" cy="30.5" rx="2.6" ry="1.7" transform="rotate(94 29.7 30.5)"/><ellipse cx="31.3" cy="27.8" rx="2.3" ry="1.6" transform="rotate(141 31.3 27.8)"/><ellipse cx="32.4" cy="28.9" rx="2.3" ry="1.3" transform="rotate(121 32.4 28.9)"/><ellipse cx="6.0" cy="32.1" rx="3.4" ry="2.2" transform="rotate(38 6.0 32.1)"/><ellipse cx="7.1" cy="33.3" rx="3.1" ry="1.9" transform="rotate(149 7.1 33.3)"/><ellipse cx="4.5" cy="31.0" rx="3.5" ry="1.7" transform="rotate(118 4.5 31.0)"/><ellipse cx="5.9" cy="33.2" rx="4.0" ry="2.2" transform="rotate(37 5.9 33.2)"/><ellipse cx="6.2" cy="38.5" rx="3.4" ry="2.1" transform="rotate(36 6.2 38.5)"/><ellipse cx="4.9" cy="37.7" rx="3.8" ry="2.2" transform="rotate(69 4.9 37.7)"/><ellipse cx="5.8" cy="39.5" rx="3.4" ry="2.3" transform="rotate(96 5.8 39.5)"/><ellipse cx="6.0" cy="39.6" rx="3.5" ry="1.8" transform="rotate(121 6.0 39.6)"/><ellipse cx="8.4" cy="28.4" rx="2.3" ry="1.6" transform="rotate(154 8.4 28.4)"/><ellipse cx="9.1" cy="28.7" rx="2.0" ry="1.3" transform="rotate(127 9.1 28.7)"/><ellipse cx="43.1" cy="33.5" rx="2.9" ry="1.7" transform="rotate(83 43.1 33.5)"/><ellipse cx="43.3" cy="32.1" rx="2.8" ry="1.9" transform="rotate(89 43.3 32.1)"/><ellipse cx="42.7" cy="32.0" rx="3.0" ry="1.6" transform="rotate(163 42.7 32.0)"/><ellipse cx="56.5" cy="34.7" rx="2.4" ry="1.6" transform="rotate(153 56.5 34.7)"/><ellipse cx="57.6" cy="34.8" rx="2.2" ry="1.6" transform="rotate(167 57.6 34.8)"/><ellipse cx="20.2" cy="37.5" rx="2.7" ry="1.8" transform="rotate(101 20.2 37.5)"/><ellipse cx="20.8" cy="37.2" rx="2.9" ry="1.8" transform="rotate(154 20.8 37.2)"/><ellipse cx="21.2" cy="35.0" rx="2.4" ry="1.5" transform="rotate(35 21.2 35.0)"/><ellipse cx="18.7" cy="39.3" rx="3.6" ry="1.8" transform="rotate(143 18.7 39.3)"/><ellipse cx="18.2" cy="39.9" rx="2.8" ry="1.6" transform="rotate(5 18.2 39.9)"/><ellipse cx="18.9" cy="41.6" rx="3.2" ry="1.9" transform="rotate(124 18.9 41.6)"/><ellipse cx="23.7" cy="41.9" rx="2.4" ry="1.3" transform="rotate(173 23.7 41.9)"/><ellipse cx="23.9" cy="41.7" rx="2.3" ry="1.6" transform="rotate(84 23.9 41.7)"/><ellipse cx="52.5" cy="36.8" rx="2.1" ry="1.4" transform="rotate(120 52.5 36.8)"/><ellipse cx="53.1" cy="37.5" rx="1.7" ry="1.4" transform="rotate(55 53.1 37.5)"/><ellipse cx="41.5" cy="43.0" rx="3.2" ry="1.8" transform="rotate(26 41.5 43.0)"/><ellipse cx="39.7" cy="41.2" rx="2.9" ry="2.1" transform="rotate(164 39.7 41.2)"/><ellipse cx="41.0" cy="41.9" rx="2.5" ry="1.6" transform="rotate(53 41.0 41.9)"/><ellipse cx="50.3" cy="43.1" rx="2.4" ry="1.6" transform="rotate(164 50.3 43.1)"/><ellipse cx="50.3" cy="42.7" rx="2.7" ry="1.5" transform="rotate(113 50.3 42.7)"/><ellipse cx="48.4" cy="43.0" rx="2.6" ry="1.5" transform="rotate(133 48.4 43.0)"/><ellipse cx="65.9" cy="42.1" rx="2.0" ry="1.5" transform="rotate(15 65.9 42.1)"/><ellipse cx="66.6" cy="43.3" rx="2.0" ry="1.5" transform="rotate(126 66.6 43.3)"/><ellipse cx="66.2" cy="48.5" rx="2.5" ry="1.5" transform="rotate(174 66.2 48.5)"/><ellipse cx="64.7" cy="47.5" rx="2.4" ry="1.5" transform="rotate(24 64.7 47.5)"/><ellipse cx="66.5" cy="48.6" rx="2.3" ry="1.4" transform="rotate(83 66.5 48.6)"/><ellipse cx="64.3" cy="52.9" rx="2.4" ry="1.8" transform="rotate(41 64.3 52.9)"/><ellipse cx="66.3" cy="54.1" rx="2.8" ry="1.9" transform="rotate(8 66.3 54.1)"/><ellipse cx="66.8" cy="52.0" rx="2.5" ry="1.5" transform="rotate(74 66.8 52.0)"/><ellipse cx="64.7" cy="56.8" rx="2.4" ry="1.5" transform="rotate(89 64.7 56.8)"/><ellipse cx="65.2" cy="58.1" rx="2.1" ry="1.3" transform="rotate(77 65.2 58.1)"/><ellipse cx="37.7" cy="52.2" rx="3.4" ry="2.1" transform="rotate(36 37.7 52.2)"/><ellipse cx="41.6" cy="53.1" rx="3.8" ry="1.9" transform="rotate(139 41.6 53.1)"/><ellipse cx="41.3" cy="51.7" rx="4.4" ry="2.3" transform="rotate(117 41.3 51.7)"/><ellipse cx="40.0" cy="51.0" rx="3.4" ry="2.2" transform="rotate(168 40.0 51.0)"/><ellipse cx="23.0" cy="53.4" rx="2.0" ry="1.2" transform="rotate(147 23.0 53.4)"/><ellipse cx="23.1" cy="53.5" rx="1.9" ry="1.2" transform="rotate(129 23.1 53.5)"/><ellipse cx="79.0" cy="49.4" rx="2.0" ry="1.4" transform="rotate(130 79.0 49.4)"/><ellipse cx="78.8" cy="49.7" rx="1.7" ry="1.2" transform="rotate(43 78.8 49.7)"/><ellipse cx="75.7" cy="66.7" rx="3.0" ry="1.9" transform="rotate(43 75.7 66.7)"/><ellipse cx="73.6" cy="65.5" rx="3.3" ry="1.9" transform="rotate(159 73.6 65.5)"/><ellipse cx="73.7" cy="65.4" rx="3.6" ry="1.9" transform="rotate(27 73.7 65.4)"/><ellipse cx="35.8" cy="72.4" rx="2.5" ry="1.4" transform="rotate(82 35.8 72.4)"/><ellipse cx="36.6" cy="71.9" rx="2.2" ry="1.5" transform="rotate(61 36.6 71.9)"/><ellipse cx="75.7" cy="77.5" rx="1.8" ry="1.3" transform="rotate(125 75.7 77.5)"/><ellipse cx="75.8" cy="78.4" rx="2.2" ry="1.2" transform="rotate(172 75.8 78.4)"/></g>
<g fill="#d2ca46"><ellipse cx="47.3" cy="2.0" rx="2.3" ry="0.9" transform="rotate(143 47.3 2.0)"/><ellipse cx="45.6" cy="0.8" rx="2.2" ry="1.3" transform="rotate(142 45.6 0.8)"/><ellipse cx="46.4" cy="1.3" rx="2.6" ry="1.5" transform="rotate(62 46.4 1.3)"/><ellipse cx="44.7" cy="2.0" rx="2.5" ry="1.0" transform="rotate(0 44.7 2.0)"/><ellipse cx="41.3" cy="4.3" rx="2.1" ry="0.8" transform="rotate(128 41.3 4.3)"/><ellipse cx="43.3" cy="2.3" rx="1.5" ry="1.0" transform="rotate(157 43.3 2.3)"/><ellipse cx="43.2" cy="2.8" rx="1.6" ry="0.7" transform="rotate(38 43.2 2.8)"/><ellipse cx="20.7" cy="3.2" rx="1.0" ry="0.3" transform="rotate(142 20.7 3.2)"/><ellipse cx="21.6" cy="3.0" rx="1.0" ry="0.5" transform="rotate(47 21.6 3.0)"/><ellipse cx="29.1" cy="7.2" rx="2.0" ry="0.9" transform="rotate(94 29.1 7.2)"/><ellipse cx="29.9" cy="8.5" rx="2.6" ry="1.2" transform="rotate(79 29.9 8.5)"/><ellipse cx="29.8" cy="9.2" rx="1.8" ry="0.9" transform="rotate(16 29.8 9.2)"/><ellipse cx="61.7" cy="5.2" rx="1.9" ry="0.6" transform="rotate(134 61.7 5.2)"/><ellipse cx="61.7" cy="4.4" rx="1.9" ry="1.1" transform="rotate(81 61.7 4.4)"/><ellipse cx="61.9" cy="5.8" rx="2.1" ry="0.9" transform="rotate(112 61.9 5.8)"/><ellipse cx="62.6" cy="9.2" rx="1.9" ry="1.3" transform="rotate(5 62.6 9.2)"/><ellipse cx="62.9" cy="8.3" rx="2.2" ry="1.0" transform="rotate(94 62.9 8.3)"/><ellipse cx="61.4" cy="9.2" rx="2.8" ry="1.0" transform="rotate(20 61.4 9.2)"/><ellipse cx="15.0" cy="10.7" rx="2.6" ry="0.8" transform="rotate(94 15.0 10.7)"/><ellipse cx="14.8" cy="10.6" rx="2.0" ry="1.3" transform="rotate(51 14.8 10.6)"/><ellipse cx="14.3" cy="10.5" rx="2.6" ry="1.2" transform="rotate(5 14.3 10.5)"/><ellipse cx="13.8" cy="14.8" rx="1.7" ry="0.6" transform="rotate(56 13.8 14.8)"/><ellipse cx="14.7" cy="15.7" rx="1.6" ry="0.8" transform="rotate(46 14.7 15.7)"/><ellipse cx="36.8" cy="13.1" rx="2.5" ry="1.0" transform="rotate(62 36.8 13.1)"/><ellipse cx="37.9" cy="11.5" rx="2.2" ry="1.0" transform="rotate(49 37.9 11.5)"/><ellipse cx="37.7" cy="12.2" rx="2.6" ry="0.9" transform="rotate(92 37.7 12.2)"/><ellipse cx="68.9" cy="13.5" rx="2.4" ry="0.9" transform="rotate(101 68.9 13.5)"/><ellipse cx="68.0" cy="15.9" rx="2.1" ry="1.0" transform="rotate(129 68.0 15.9)"/><ellipse cx="67.1" cy="13.8" rx="2.2" ry="1.0" transform="rotate(30 67.1 13.8)"/><ellipse cx="67.8" cy="16.0" rx="2.2" ry="0.9" transform="rotate(173 67.8 16.0)"/><ellipse cx="78.5" cy="12.4" rx="1.5" ry="0.7" transform="rotate(90 78.5 12.4)"/><ellipse cx="78.3" cy="12.3" rx="1.4" ry="0.8" transform="rotate(74 78.3 12.3)"/><ellipse cx="53.4" cy="11.9" rx="1.0" ry="0.5" transform="rotate(104 53.4 11.9)"/><ellipse cx="54.1" cy="11.9" rx="1.4" ry="0.6" transform="rotate(27 54.1 11.9)"/><ellipse cx="9.1" cy="18.4" rx="1.8" ry="0.7" transform="rotate(131 9.1 18.4)"/><ellipse cx="9.2" cy="19.5" rx="1.5" ry="0.7" transform="rotate(15 9.2 19.5)"/><ellipse cx="46.8" cy="15.8" rx="1.2" ry="0.8" transform="rotate(131 46.8 15.8)"/><ellipse cx="46.1" cy="17.5" rx="1.3" ry="0.8" transform="rotate(25 46.1 17.5)"/><ellipse cx="55.7" cy="22.3" rx="1.8" ry="0.9" transform="rotate(69 55.7 22.3)"/><ellipse cx="56.1" cy="24.8" rx="1.7" ry="1.0" transform="rotate(153 56.1 24.8)"/><ellipse cx="55.8" cy="22.7" rx="2.7" ry="1.0" transform="rotate(27 55.8 22.7)"/><ellipse cx="42.7" cy="22.1" rx="2.2" ry="1.1" transform="rotate(75 42.7 22.1)"/><ellipse cx="42.0" cy="22.6" rx="2.2" ry="1.0" transform="rotate(63 42.0 22.6)"/><ellipse cx="42.1" cy="21.4" rx="1.9" ry="1.0" transform="rotate(123 42.1 21.4)"/><ellipse cx="67.0" cy="24.5" rx="1.8" ry="0.7" transform="rotate(70 67.0 24.5)"/><ellipse cx="66.1" cy="24.3" rx="1.8" ry="0.6" transform="rotate(127 66.1 24.3)"/><ellipse cx="38.0" cy="25.5" rx="1.2" ry="0.6" transform="rotate(76 38.0 25.5)"/><ellipse cx="37.8" cy="25.7" rx="1.1" ry="0.6" transform="rotate(113 37.8 25.7)"/><ellipse cx="51.9" cy="27.0" rx="1.8" ry="0.6" transform="rotate(10 51.9 27.0)"/><ellipse cx="51.8" cy="27.4" rx="1.5" ry="0.5" transform="rotate(146 51.8 27.4)"/><ellipse cx="29.3" cy="30.2" rx="2.4" ry="0.9" transform="rotate(11 29.3 30.2)"/><ellipse cx="28.1" cy="31.8" rx="2.1" ry="1.3" transform="rotate(116 28.1 31.8)"/><ellipse cx="29.7" cy="30.5" rx="1.8" ry="0.9" transform="rotate(94 29.7 30.5)"/><ellipse cx="31.3" cy="27.8" rx="1.5" ry="0.8" transform="rotate(141 31.3 27.8)"/><ellipse cx="32.4" cy="28.9" rx="1.5" ry="0.5" transform="rotate(121 32.4 28.9)"/><ellipse cx="6.0" cy="32.1" rx="2.6" ry="1.4" transform="rotate(38 6.0 32.1)"/><ellipse cx="7.1" cy="33.3" rx="2.3" ry="1.1" transform="rotate(149 7.1 33.3)"/><ellipse cx="4.5" cy="31.0" rx="2.7" ry="0.9" transform="rotate(118 4.5 31.0)"/><ellipse cx="5.9" cy="33.2" rx="3.2" ry="1.4" transform="rotate(37 5.9 33.2)"/><ellipse cx="6.2" cy="38.5" rx="2.6" ry="1.3" transform="rotate(36 6.2 38.5)"/><ellipse cx="4.9" cy="37.7" rx="3.0" ry="1.4" transform="rotate(69 4.9 37.7)"/><ellipse cx="5.8" cy="39.5" rx="2.6" ry="1.5" transform="rotate(96 5.8 39.5)"/><ellipse cx="6.0" cy="39.6" rx="2.7" ry="1.0" transform="rotate(121 6.0 39.6)"/><ellipse cx="8.4" cy="28.4" rx="1.5" ry="0.8" transform="rotate(154 8.4 28.4)"/><ellipse cx="9.1" cy="28.7" rx="1.2" ry="0.5" transform="rotate(127 9.1 28.7)"/><ellipse cx="43.1" cy="33.5" rx="2.1" ry="0.9" transform="rotate(83 43.1 33.5)"/><ellipse cx="43.3" cy="32.1" rx="2.0" ry="1.1" transform="rotate(89 43.3 32.1)"/><ellipse cx="42.7" cy="32.0" rx="2.2" ry="0.8" transform="rotate(163 42.7 32.0)"/><ellipse cx="56.5" cy="34.7" rx="1.6" ry="0.8" transform="rotate(153 56.5 34.7)"/><ellipse cx="57.6" cy="34.8" rx="1.4" ry="0.8" transform="rotate(167 57.6 34.8)"/><ellipse cx="20.2" cy="37.5" rx="1.9" ry="1.0" transform="rotate(101 20.2 37.5)"/><ellipse cx="20.8" cy="37.2" rx="2.1" ry="1.0" transform="rotate(154 20.8 37.2)"/><ellipse cx="21.2" cy="35.0" rx="1.6" ry="0.7" transform="rotate(35 21.2 35.0)"/><ellipse cx="18.7" cy="39.3" rx="2.8" ry="1.0" transform="rotate(143 18.7 39.3)"/><ellipse cx="18.2" cy="39.9" rx="2.0" ry="0.8" transform="rotate(5 18.2 39.9)"/><ellipse cx="18.9" cy="41.6" rx="2.4" ry="1.1" transform="rotate(124 18.9 41.6)"/><ellipse cx="23.7" cy="41.9" rx="1.6" ry="0.5" transform="rotate(173 23.7 41.9)"/><ellipse cx="23.9" cy="41.7" rx="1.5" ry="0.8" transform="rotate(84 23.9 41.7)"/><ellipse cx="52.5" cy="36.8" rx="1.3" ry="0.6" transform="rotate(120 52.5 36.8)"/><ellipse cx="53.1" cy="37.5" rx="0.9" ry="0.6" transform="rotate(55 53.1 37.5)"/><ellipse cx="41.5" cy="43.0" rx="2.4" ry="1.0" transform="rotate(26 41.5 43.0)"/><ellipse cx="39.7" cy="41.2" rx="2.1" ry="1.3" transform="rotate(164 39.7 41.2)"/><ellipse cx="41.0" cy="41.9" rx="1.7" ry="0.8" transform="rotate(53 41.0 41.9)"/><ellipse cx="50.3" cy="43.1" rx="1.6" ry="0.8" transform="rotate(164 50.3 43.1)"/><ellipse cx="50.3" cy="42.7" rx="1.9" ry="0.7" transform="rotate(113 50.3 42.7)"/><ellipse cx="48.4" cy="43.0" rx="1.8" ry="0.7" transform="rotate(133 48.4 43.0)"/><ellipse cx="65.9" cy="42.1" rx="1.2" ry="0.7" transform="rotate(15 65.9 42.1)"/><ellipse cx="66.6" cy="43.3" rx="1.2" ry="0.7" transform="rotate(126 66.6 43.3)"/><ellipse cx="66.2" cy="48.5" rx="1.7" ry="0.7" transform="rotate(174 66.2 48.5)"/><ellipse cx="64.7" cy="47.5" rx="1.6" ry="0.7" transform="rotate(24 64.7 47.5)"/><ellipse cx="66.5" cy="48.6" rx="1.5" ry="0.6" transform="rotate(83 66.5 48.6)"/><ellipse cx="64.3" cy="52.9" rx="1.6" ry="1.0" transform="rotate(41 64.3 52.9)"/><ellipse cx="66.3" cy="54.1" rx="2.0" ry="1.1" transform="rotate(8 66.3 54.1)"/><ellipse cx="66.8" cy="52.0" rx="1.7" ry="0.7" transform="rotate(74 66.8 52.0)"/><ellipse cx="64.7" cy="56.8" rx="1.6" ry="0.7" transform="rotate(89 64.7 56.8)"/><ellipse cx="65.2" cy="58.1" rx="1.3" ry="0.5" transform="rotate(77 65.2 58.1)"/><ellipse cx="37.7" cy="52.2" rx="2.6" ry="1.3" transform="rotate(36 37.7 52.2)"/><ellipse cx="41.6" cy="53.1" rx="3.0" ry="1.1" transform="rotate(139 41.6 53.1)"/><ellipse cx="41.3" cy="51.7" rx="3.6" ry="1.5" transform="rotate(117 41.3 51.7)"/><ellipse cx="40.0" cy="51.0" rx="2.6" ry="1.4" transform="rotate(168 40.0 51.0)"/><ellipse cx="23.0" cy="53.4" rx="1.2" ry="0.4" transform="rotate(147 23.0 53.4)"/><ellipse cx="23.1" cy="53.5" rx="1.1" ry="0.4" transform="rotate(129 23.1 53.5)"/><ellipse cx="79.0" cy="49.4" rx="1.2" ry="0.6" transform="rotate(130 79.0 49.4)"/><ellipse cx="78.8" cy="49.7" rx="0.9" ry="0.4" transform="rotate(43 78.8 49.7)"/><ellipse cx="75.7" cy="66.7" rx="2.2" ry="1.1" transform="rotate(43 75.7 66.7)"/><ellipse cx="73.6" cy="65.5" rx="2.5" ry="1.1" transform="rotate(159 73.6 65.5)"/><ellipse cx="73.7" cy="65.4" rx="2.8" ry="1.1" transform="rotate(27 73.7 65.4)"/><ellipse cx="35.8" cy="72.4" rx="1.7" ry="0.6" transform="rotate(82 35.8 72.4)"/><ellipse cx="36.6" cy="71.9" rx="1.4" ry="0.7" transform="rotate(61 36.6 71.9)"/><ellipse cx="75.7" cy="77.5" rx="1.0" ry="0.5" transform="rotate(125 75.7 77.5)"/><ellipse cx="75.8" cy="78.4" rx="1.4" ry="0.4" transform="rotate(172 75.8 78.4)"/></g>
<path d="M48.9,73.0H54.9" stroke="#e8e8e8" stroke-width="1.6"/>
<text x="56.4" y="75.5" font-size="6.6" fill="#1a1a1a" textLength="14" lengthAdjust="spacingAndGlyphs">30µm</text>
</svg>
<svg x="557.6" y="715.9" width="78.2" height="80.5" viewBox="0 0 78.2 80.5" overflow="hidden">
<rect width="78.2" height="80.5" fill="#916ea6"/>
<rect width="78.2" height="80.5" fill="url(#np9531)"/>
<g fill="#66559e" opacity="0.55"><ellipse cx="26.0" cy="57.1" rx="2.6" ry="2.2"/><ellipse cx="28.7" cy="54.5" rx="3.3" ry="2.8"/><ellipse cx="9.9" cy="53.5" rx="2.5" ry="2.1"/><ellipse cx="2.0" cy="54.8" rx="3.4" ry="2.9"/><ellipse cx="31.0" cy="67.0" rx="3.1" ry="2.6"/><ellipse cx="22.3" cy="43.9" rx="3.3" ry="2.8"/><ellipse cx="34.8" cy="61.0" rx="3.5" ry="2.9"/><ellipse cx="1.8" cy="62.4" rx="3.0" ry="2.6"/><ellipse cx="29.0" cy="67.0" rx="2.6" ry="2.2"/><ellipse cx="20.4" cy="79.3" rx="3.5" ry="3.0"/><ellipse cx="24.9" cy="57.4" rx="3.5" ry="2.9"/><ellipse cx="7.1" cy="68.6" rx="3.0" ry="2.6"/><ellipse cx="1.0" cy="69.1" rx="3.5" ry="2.9"/><ellipse cx="39.0" cy="48.0" rx="3.1" ry="2.7"/></g>
<g fill="none" stroke="#55204a" stroke-width="1.1" stroke-dasharray="1.2,0.8" opacity="0.6" stroke-linejoin="round"><path d="M66.3,17.3L68.8,16.9L70.9,15.3L71.7,12.8L71.8,10.2L71.4,7.6L70.3,5.3"/><path d="M64.7,60.6L66.4,58.7L67.4,56.3L69.5,54.8L71.9,53.7L73.5,51.7L75.8,50.5"/><path d="M69.6,77.4L72.2,77.3L74.8,76.8L77.3,76.2L79.9,75.9L82.5,75.7"/><path d="M15.4,51.0L18.0,50.8L20.6,50.9L22.9,52.1L25.3,53.2L27.9,53.4"/><path d="M60.7,68.9L58.4,67.7L55.8,67.8L53.3,66.8L50.7,67.1L48.6,68.5L47.0,70.6L45.9,73.0"/><path d="M19.4,21.1L21.9,21.9L23.8,23.7L25.9,25.2L28.5,25.6L31.0,26.1"/><path d="M21.7,55.8L19.5,57.1L16.9,57.2L14.4,56.4"/><path d="M15.9,7.4L17.9,5.8L20.5,5.5L22.9,6.6L25.1,7.9L26.7,10.0L28.6,11.8"/><path d="M58.6,45.7L61.2,45.7L63.8,45.7L66.4,46.1"/><path d="M49.2,20.8L46.9,19.4L44.6,18.3L42.2,17.2L39.6,17.4L37.2,16.5L35.4,14.6"/><path d="M16.3,53.8L17.7,56.0L18.3,58.5L17.3,60.9L15.4,62.6"/><path d="M2.3,64.0L3.9,66.0L6.0,67.6L6.8,70.1L6.1,72.6L5.3,75.1L4.1,77.4"/><path d="M0.7,42.3L2.4,40.4L4.8,39.3L7.4,39.4"/><path d="M12.9,70.8L10.3,70.5L8.1,69.1L5.5,68.8L3.0,69.4L0.5,70.0L-2.1,69.9"/><path d="M52.0,44.4L50.0,46.0L47.4,46.5L44.9,46.9L42.3,46.9L39.7,46.4"/><path d="M20.7,70.3L23.2,69.8L25.8,70.2L28.2,71.1L30.8,71.5"/><path d="M48.3,77.1L45.8,76.5L44.0,74.6L41.8,73.2L39.6,71.9L37.8,70.0L35.5,68.7"/><path d="M46.3,1.6L43.9,0.6L41.3,0.7L38.9,1.6L36.3,1.6L34.1,0.1"/><path d="M39.5,58.7L37.8,56.7L37.0,54.2L35.8,51.9L34.7,49.5L32.9,47.7"/><path d="M71.1,61.2L73.4,59.9L74.9,57.8L75.6,55.3"/><path d="M10.8,40.6L9.8,38.2L8.7,35.8L8.8,33.2L7.9,30.7L8.3,28.2L9.2,25.8"/><path d="M18.3,3.5L15.8,4.3L13.6,5.7L12.5,8.0L10.8,10.0L8.7,11.5L6.1,11.7L3.7,10.7"/><path d="M43.5,50.4L46.0,49.9L48.2,48.6L50.8,48.3L53.2,49.3"/><path d="M70.3,25.4L72.3,27.0L74.9,27.2L77.5,27.2L79.8,28.4L81.6,30.3"/><path d="M1.6,69.0L2.6,66.6L3.3,64.1L2.7,61.5L2.5,59.0L1.3,56.6L0.9,54.1"/><path d="M44.7,44.6L46.5,42.8L49.1,42.2L51.6,41.5L54.2,41.2L56.4,40.0L57.7,37.7"/><path d="M73.6,3.2L76.1,2.7L78.1,1.0L80.3,-0.5L82.4,-2.0L83.4,-4.4"/><path d="M27.7,10.3L25.1,10.1L22.7,11.0L20.2,11.8L17.7,11.2L15.1,11.1L12.9,9.6L10.5,8.7"/><path d="M18.1,15.7L20.4,16.9L22.1,18.9L24.3,20.2L26.2,22.0L28.7,22.7L31.2,22.0"/><path d="M60.0,29.2L62.1,27.7L64.6,26.9L67.1,27.5L69.2,29.1"/></g>
<g fill="#4e1c40" opacity="0.62"><ellipse cx="54.1" cy="4.3" rx="2.3" ry="1.6" transform="rotate(64 54.1 4.3)"/><ellipse cx="52.3" cy="3.2" rx="2.1" ry="1.3" transform="rotate(164 52.3 3.2)"/><ellipse cx="61.3" cy="21.9" rx="1.8" ry="1.3" transform="rotate(15 61.3 21.9)"/><ellipse cx="62.4" cy="22.4" rx="2.0" ry="1.4" transform="rotate(79 62.4 22.4)"/><ellipse cx="56.9" cy="27.2" rx="2.0" ry="1.6" transform="rotate(166 56.9 27.2)"/><ellipse cx="57.8" cy="27.8" rx="2.5" ry="1.4" transform="rotate(145 57.8 27.8)"/><ellipse cx="62.0" cy="31.4" rx="2.8" ry="1.7" transform="rotate(101 62.0 31.4)"/><ellipse cx="62.0" cy="30.0" rx="2.5" ry="1.7" transform="rotate(79 62.0 30.0)"/><ellipse cx="62.3" cy="31.2" rx="2.9" ry="1.5" transform="rotate(1 62.3 31.2)"/><ellipse cx="58.6" cy="35.2" rx="2.6" ry="1.6" transform="rotate(169 58.6 35.2)"/><ellipse cx="57.9" cy="35.3" rx="2.5" ry="1.5" transform="rotate(113 57.9 35.3)"/><ellipse cx="64.7" cy="40.3" rx="2.0" ry="1.2" transform="rotate(79 64.7 40.3)"/><ellipse cx="64.2" cy="39.1" rx="1.9" ry="1.3" transform="rotate(97 64.2 39.1)"/><ellipse cx="75.8" cy="35.6" rx="1.5" ry="1.0" transform="rotate(110 75.8 35.6)"/><ellipse cx="75.2" cy="34.6" rx="1.6" ry="1.1" transform="rotate(157 75.2 34.6)"/><ellipse cx="48.4" cy="34.2" rx="1.5" ry="1.1" transform="rotate(107 48.4 34.2)"/><ellipse cx="48.7" cy="34.7" rx="1.4" ry="1.1" transform="rotate(68 48.7 34.7)"/><ellipse cx="34.2" cy="23.4" rx="1.4" ry="1.1" transform="rotate(36 34.2 23.4)"/><ellipse cx="34.4" cy="23.8" rx="1.5" ry="1.2" transform="rotate(39 34.4 23.8)"/><ellipse cx="28.1" cy="38.7" rx="3.2" ry="1.9" transform="rotate(165 28.1 38.7)"/><ellipse cx="29.4" cy="37.6" rx="3.7" ry="1.8" transform="rotate(26 29.4 37.6)"/><ellipse cx="29.5" cy="38.4" rx="3.2" ry="2.2" transform="rotate(11 29.5 38.4)"/><ellipse cx="28.9" cy="40.3" rx="3.8" ry="2.0" transform="rotate(104 28.9 40.3)"/><ellipse cx="33.1" cy="39.5" rx="2.6" ry="1.6" transform="rotate(30 33.1 39.5)"/><ellipse cx="31.4" cy="41.8" rx="2.5" ry="1.6" transform="rotate(141 31.4 41.8)"/><ellipse cx="31.9" cy="40.1" rx="2.3" ry="1.5" transform="rotate(53 31.9 40.1)"/><ellipse cx="11.6" cy="43.6" rx="2.6" ry="1.8" transform="rotate(155 11.6 43.6)"/><ellipse cx="12.1" cy="43.2" rx="3.0" ry="1.8" transform="rotate(45 12.1 43.2)"/><ellipse cx="12.7" cy="40.9" rx="3.1" ry="1.9" transform="rotate(117 12.7 40.9)"/><ellipse cx="9.4" cy="56.7" rx="4.0" ry="1.7" transform="rotate(26 9.4 56.7)"/><ellipse cx="7.0" cy="54.5" rx="3.6" ry="2.1" transform="rotate(66 7.0 54.5)"/><ellipse cx="9.6" cy="57.2" rx="3.8" ry="2.2" transform="rotate(107 9.6 57.2)"/><ellipse cx="9.6" cy="54.1" rx="4.0" ry="1.9" transform="rotate(179 9.6 54.1)"/><ellipse cx="73.4" cy="54.8" rx="3.1" ry="2.0" transform="rotate(93 73.4 54.8)"/><ellipse cx="73.9" cy="54.0" rx="2.7" ry="2.1" transform="rotate(177 73.9 54.0)"/><ellipse cx="74.0" cy="55.9" rx="2.8" ry="1.7" transform="rotate(109 74.0 55.9)"/><ellipse cx="30.0" cy="61.0" rx="1.6" ry="1.1" transform="rotate(163 30.0 61.0)"/><ellipse cx="29.0" cy="61.2" rx="1.6" ry="1.2" transform="rotate(49 29.0 61.2)"/><ellipse cx="57.6" cy="74.0" rx="2.5" ry="1.8" transform="rotate(22 57.6 74.0)"/><ellipse cx="56.8" cy="73.5" rx="2.9" ry="1.8" transform="rotate(177 56.8 73.5)"/><ellipse cx="57.4" cy="73.7" rx="2.3" ry="1.8" transform="rotate(113 57.4 73.7)"/><ellipse cx="37.6" cy="79.0" rx="1.7" ry="1.1" transform="rotate(114 37.6 79.0)"/><ellipse cx="37.9" cy="78.6" rx="1.5" ry="1.1" transform="rotate(11 37.9 78.6)"/><ellipse cx="32.3" cy="75.7" rx="1.5" ry="1.1" transform="rotate(30 32.3 75.7)"/><ellipse cx="32.5" cy="75.9" rx="1.7" ry="1.1" transform="rotate(12 32.5 75.9)"/></g>
<g fill="#d2ca46"><ellipse cx="54.1" cy="4.3" rx="1.5" ry="0.8" transform="rotate(64 54.1 4.3)"/><ellipse cx="52.3" cy="3.2" rx="1.3" ry="0.5" transform="rotate(164 52.3 3.2)"/><ellipse cx="61.3" cy="21.9" rx="1.0" ry="0.5" transform="rotate(15 61.3 21.9)"/><ellipse cx="62.4" cy="22.4" rx="1.2" ry="0.6" transform="rotate(79 62.4 22.4)"/><ellipse cx="56.9" cy="27.2" rx="1.2" ry="0.8" transform="rotate(166 56.9 27.2)"/><ellipse cx="57.8" cy="27.8" rx="1.7" ry="0.6" transform="rotate(145 57.8 27.8)"/><ellipse cx="62.0" cy="31.4" rx="2.0" ry="0.9" transform="rotate(101 62.0 31.4)"/><ellipse cx="62.0" cy="30.0" rx="1.7" ry="0.9" transform="rotate(79 62.0 30.0)"/><ellipse cx="62.3" cy="31.2" rx="2.1" ry="0.7" transform="rotate(1 62.3 31.2)"/><ellipse cx="58.6" cy="35.2" rx="1.8" ry="0.8" transform="rotate(169 58.6 35.2)"/><ellipse cx="57.9" cy="35.3" rx="1.7" ry="0.7" transform="rotate(113 57.9 35.3)"/><ellipse cx="64.7" cy="40.3" rx="1.2" ry="0.4" transform="rotate(79 64.7 40.3)"/><ellipse cx="64.2" cy="39.1" rx="1.1" ry="0.5" transform="rotate(97 64.2 39.1)"/><ellipse cx="75.8" cy="35.6" rx="0.7" ry="0.2" transform="rotate(110 75.8 35.6)"/><ellipse cx="75.2" cy="34.6" rx="0.8" ry="0.3" transform="rotate(157 75.2 34.6)"/><ellipse cx="48.4" cy="34.2" rx="0.7" ry="0.3" transform="rotate(107 48.4 34.2)"/><ellipse cx="48.7" cy="34.7" rx="0.6" ry="0.3" transform="rotate(68 48.7 34.7)"/><ellipse cx="34.2" cy="23.4" rx="0.6" ry="0.3" transform="rotate(36 34.2 23.4)"/><ellipse cx="34.4" cy="23.8" rx="0.7" ry="0.4" transform="rotate(39 34.4 23.8)"/><ellipse cx="28.1" cy="38.7" rx="2.4" ry="1.1" transform="rotate(165 28.1 38.7)"/><ellipse cx="29.4" cy="37.6" rx="2.9" ry="1.0" transform="rotate(26 29.4 37.6)"/><ellipse cx="29.5" cy="38.4" rx="2.4" ry="1.4" transform="rotate(11 29.5 38.4)"/><ellipse cx="28.9" cy="40.3" rx="3.0" ry="1.2" transform="rotate(104 28.9 40.3)"/><ellipse cx="33.1" cy="39.5" rx="1.8" ry="0.8" transform="rotate(30 33.1 39.5)"/><ellipse cx="31.4" cy="41.8" rx="1.7" ry="0.8" transform="rotate(141 31.4 41.8)"/><ellipse cx="31.9" cy="40.1" rx="1.5" ry="0.7" transform="rotate(53 31.9 40.1)"/><ellipse cx="11.6" cy="43.6" rx="1.8" ry="1.0" transform="rotate(155 11.6 43.6)"/><ellipse cx="12.1" cy="43.2" rx="2.2" ry="1.0" transform="rotate(45 12.1 43.2)"/><ellipse cx="12.7" cy="40.9" rx="2.3" ry="1.1" transform="rotate(117 12.7 40.9)"/><ellipse cx="9.4" cy="56.7" rx="3.2" ry="0.9" transform="rotate(26 9.4 56.7)"/><ellipse cx="7.0" cy="54.5" rx="2.8" ry="1.3" transform="rotate(66 7.0 54.5)"/><ellipse cx="9.6" cy="57.2" rx="3.0" ry="1.4" transform="rotate(107 9.6 57.2)"/><ellipse cx="9.6" cy="54.1" rx="3.2" ry="1.1" transform="rotate(179 9.6 54.1)"/><ellipse cx="73.4" cy="54.8" rx="2.3" ry="1.2" transform="rotate(93 73.4 54.8)"/><ellipse cx="73.9" cy="54.0" rx="1.9" ry="1.3" transform="rotate(177 73.9 54.0)"/><ellipse cx="74.0" cy="55.9" rx="2.0" ry="0.9" transform="rotate(109 74.0 55.9)"/><ellipse cx="30.0" cy="61.0" rx="0.8" ry="0.3" transform="rotate(163 30.0 61.0)"/><ellipse cx="29.0" cy="61.2" rx="0.8" ry="0.4" transform="rotate(49 29.0 61.2)"/><ellipse cx="57.6" cy="74.0" rx="1.7" ry="1.0" transform="rotate(22 57.6 74.0)"/><ellipse cx="56.8" cy="73.5" rx="2.1" ry="1.0" transform="rotate(177 56.8 73.5)"/><ellipse cx="57.4" cy="73.7" rx="1.5" ry="1.0" transform="rotate(113 57.4 73.7)"/><ellipse cx="37.6" cy="79.0" rx="0.9" ry="0.3" transform="rotate(114 37.6 79.0)"/><ellipse cx="37.9" cy="78.6" rx="0.7" ry="0.3" transform="rotate(11 37.9 78.6)"/><ellipse cx="32.3" cy="75.7" rx="0.7" ry="0.3" transform="rotate(30 32.3 75.7)"/><ellipse cx="32.5" cy="75.9" rx="0.9" ry="0.3" transform="rotate(12 32.5 75.9)"/></g>
<path d="M47.2,73.0H53.2" stroke="#e8e8e8" stroke-width="1.6"/>
<text x="54.7" y="75.5" font-size="6.6" fill="#1a1a1a" textLength="14" lengthAdjust="spacingAndGlyphs">30µm</text>
</svg>
</g>
</svg></body></html>
